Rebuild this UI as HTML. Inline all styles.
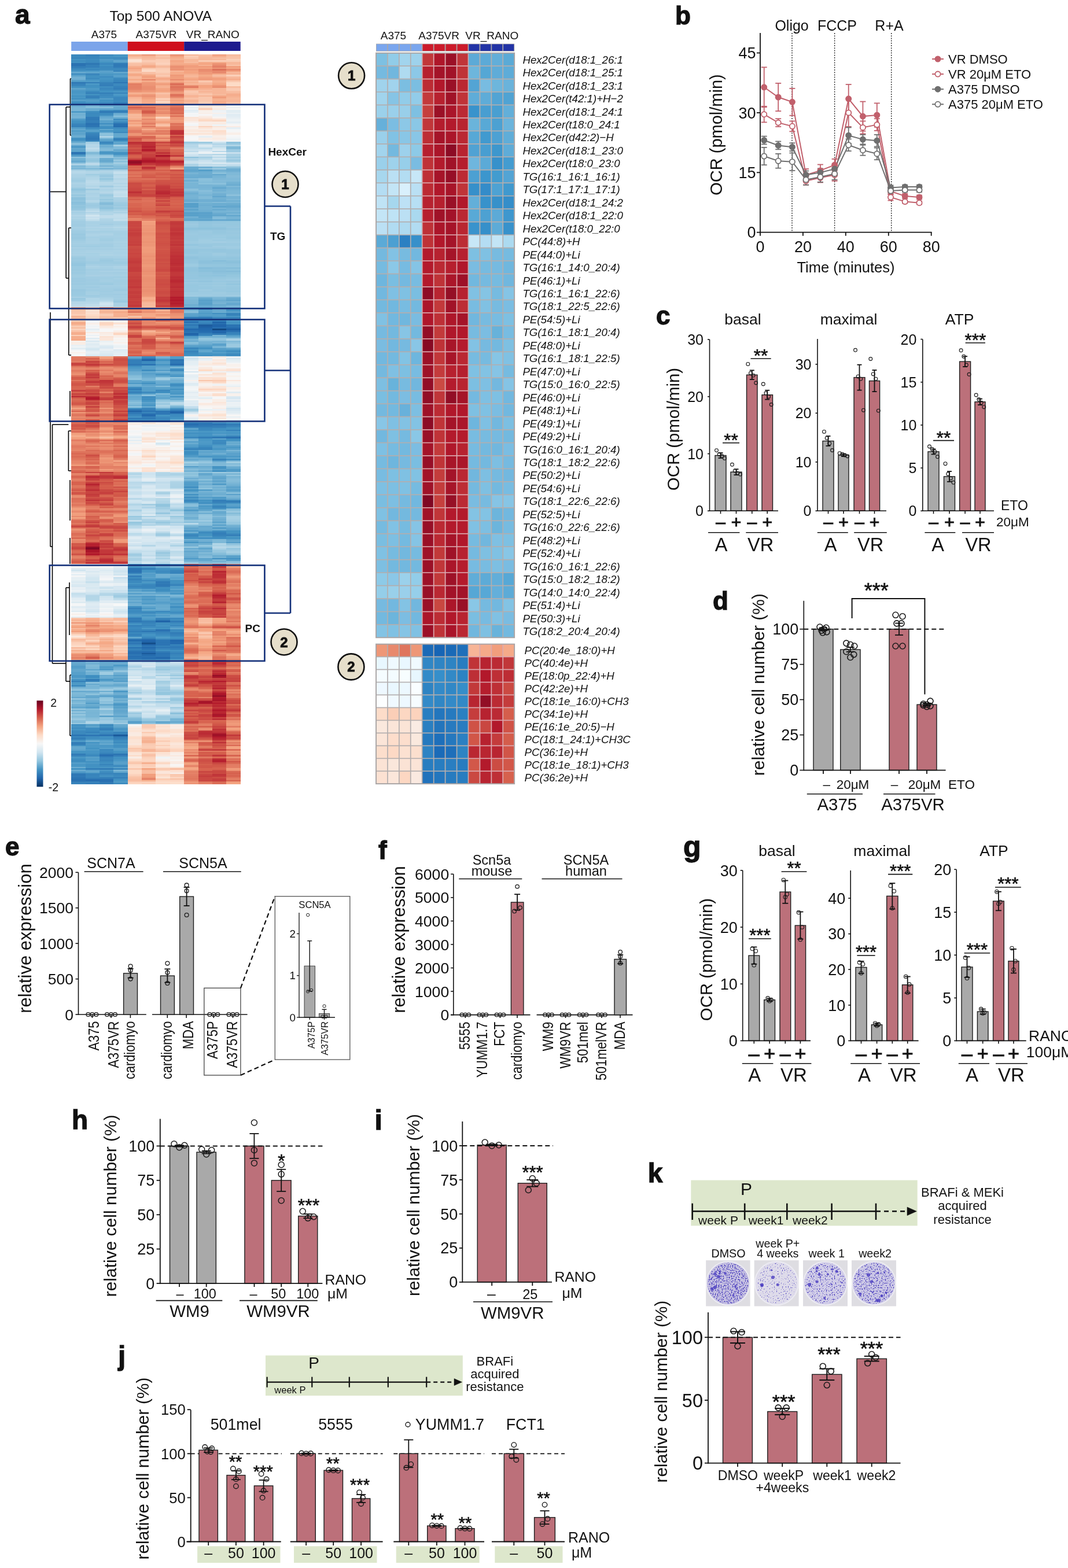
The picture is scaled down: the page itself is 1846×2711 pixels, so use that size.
<!DOCTYPE html>
<html><head><meta charset="utf-8"><title>Figure</title><style>
html,body{margin:0;padding:0;background:#fff}
#wrap{position:relative;width:1846px;height:2711px;overflow:hidden;background:#fff}
svg{position:absolute;left:0;top:0}
text{font-family:"Liberation Sans",Arial,sans-serif;fill:#111}
</style></head><body><div id="wrap">
<div style="position:absolute;left:123.2px;top:94px;width:24.7px;height:1262px;background:linear-gradient(#3c8abe 0px 2.5px,#3b89be 2.5px 5px,#3986bc 5px 7.6px,#4393c3 7.6px 10.1px,#3f8dc0 10.1px 12.6px,#4292c2 12.6px 15.1px,#2b73b2 15.1px 17.7px,#2a72b2 17.7px 20.2px,#317cb7 20.2px 22.7px,#3884bb 22.7px 25.2px,#3e8cbf 25.2px 27.8px,#4896c5 27.8px 30.3px,#65a8cf 30.3px 32.8px,#3c8abf 32.8px 35.3px,#57a0ca 35.3px 37.9px,#6fafd2 37.9px 40.4px,#71b0d3 40.4px 42.9px,#68aad0 42.9px 45.4px,#519cc8 45.4px 48px,#2d76b4 48px 50.5px,#3682bb 50.5px 53px,#3986bc 53px 55.5px,#4292c2 55.5px 58.1px,#5ea4cc 58.1px 60.6px,#4f9ac7 60.6px 63.1px,#4896c5 63.1px 65.6px,#4997c5 65.6px 68.1px,#4e9ac7 68.1px 70.7px,#4393c3 70.7px 73.2px,#4997c5 73.2px 75.7px,#408fc1 75.7px 78.2px,#569fca 78.2px 80.8px,#4292c2 80.8px 83.3px,#3c89be 83.3px 85.8px,#3682ba 85.8px 88.3px,#6bacd1 88.3px 90.9px,#7bb6d6 90.9px 93.4px,#79b5d5 93.4px 95.9px,#7ab6d6 95.9px 98.4px,#4f9bc7 98.4px 101px,#75b3d4 101px 103.5px,#6fafd2 103.5px 106px,#75b3d4 106px 108.5px,#74b2d4 108.5px 111.1px,#509bc8 111.1px 113.6px,#4393c3 113.6px 116.1px,#4191c2 116.1px 118.6px,#3a88bd 118.6px 121.2px,#3783bb 121.2px 123.7px,#3681ba 123.7px 126.2px,#549ec9 126.2px 128.7px,#65a9cf 128.7px 131.2px,#529dc8 131.2px 133.8px,#60a5cd 133.8px 136.3px,#5ba2cb 136.3px 138.8px,#67aacf 138.8px 141.3px,#6cadd1 141.3px 143.9px,#4393c3 143.9px 146.4px,#408fc1 146.4px 148.9px,#519cc8 148.9px 151.4px,#6fafd2 151.4px 154px,#97c7df 154px 156.5px,#68aad0 156.5px 159px,#4291c2 159px 161.5px,#63a7ce 161.5px 164.1px,#60a5cd 164.1px 166.6px,#59a1ca 166.6px 169.1px,#2a72b2 169.1px 171.6px,#3a87bd 171.6px 174.2px,#559ec9 174.2px 176.7px,#91c4de 176.7px 179.2px,#75b3d4 179.2px 181.7px,#6fafd2 181.7px 184.3px,#66a9cf 184.3px 186.8px,#8cc1dc 186.8px 189.3px,#acd2e6 189.3px 191.8px,#7db8d7 191.8px 194.3px,#84bcd9 194.3px 196.9px,#79b5d6 196.9px 199.4px,#aad1e5 199.4px 201.9px,#badaea 201.9px 204.4px,#b4d6e8 204.4px 207px,#acd2e6 207px 209.5px,#acd2e5 209.5px 212px,#a9d1e5 212px 214.5px,#a4cee3 214.5px 217.1px,#a0cce2 217.1px 219.6px,#a7d0e4 219.6px 222.1px,#add3e6 222.1px 224.6px,#a8d0e4 224.6px 227.2px,#a9d0e4 227.2px 229.7px,#9fcce2 229.7px 232.2px,#92c5de 232.2px 234.7px,#98c8e0 234.7px 237.3px,#9ecbe1 237.3px 239.8px,#a4cee3 239.8px 242.3px,#97c8df 242.3px 244.8px,#a0cce2 244.8px 247.4px,#8dc2dc 247.4px 249.9px,#8ec2dd 249.9px 252.4px,#92c5de 252.4px 254.9px,#89bfdb 254.9px 257.4px,#8cc1dc 257.4px 260px,#94c6de 260px 262.5px,#90c4dd 262.5px 265px,#92c5de 265px 267.5px,#97c7df 267.5px 270.1px,#aad1e5 270.1px 272.6px,#a5cfe4 272.6px 275.1px,#acd2e5 275.1px 277.6px,#b4d6e8 277.6px 280.2px,#acd2e5 280.2px 282.7px,#afd4e6 282.7px 285.2px,#a7d0e4 285.2px 287.7px,#a2cde3 287.7px 292.8px,#a0cce2 292.8px 297.8px,#a8d0e4 297.8px 300.4px,#a5cfe4 300.4px 302.9px,#a2cde3 302.9px 305.4px,#9fcce2 305.4px 307.9px,#9fcbe2 307.9px 310.5px,#9ac9e0 310.5px 313px,#9dcbe1 313px 315.5px,#9ac9e0 315.5px 320.5px,#a0cce2 320.5px 323.1px,#a4cee3 323.1px 325.6px,#a6cfe4 325.6px 328.1px,#a4cee3 328.1px 330.6px,#a0cce2 330.6px 333.2px,#a8d0e4 333.2px 335.7px,#a4cee3 335.7px 338.2px,#a7d0e4 338.2px 340.7px,#a9d1e5 340.7px 343.3px,#a8d0e4 343.3px 345.8px,#abd2e5 345.8px 348.3px,#a1cde2 348.3px 350.8px,#9ac9e0 350.8px 353.4px,#9bcae1 353.4px 355.9px,#9dcae1 355.9px 358.4px,#98c8e0 358.4px 360.9px,#94c6df 360.9px 366px,#9bcae1 366px 371px,#9ac9e0 371px 373.6px,#9ecbe1 373.6px 376.1px,#9bcae1 376.1px 378.6px,#9ecbe1 378.6px 381.1px,#a1cde2 381.1px 386.2px,#9ccae1 386.2px 388.7px,#9dcae1 388.7px 391.2px,#9ccae1 391.2px 393.7px,#9fcbe2 393.7px 396.3px,#9ccae1 396.3px 398.8px,#a1cde2 398.8px 401.3px,#9fcce2 401.3px 403.8px,#a0cce2 403.8px 406.4px,#99c8e0 406.4px 408.9px,#9bc9e0 408.9px 411.4px,#9bcae1 411.4px 416.5px,#9dcbe1 416.5px 419px,#a8d0e4 419px 421.5px,#9ac9e0 421.5px 424px,#9fcce2 424px 426.6px,#b5d7e8 426.6px 429.1px,#b6d7e8 429.1px 431.6px,#bcdaea 431.6px 434.1px,#bedbeb 434.1px 436.7px,#f4a785 436.7px 439.2px,#f6b293 439.2px 441.7px,#f9c6ac 441.7px 446.7px,#fac6ac 446.7px 449.3px,#fbceb6 449.3px 451.8px,#f6b394 451.8px 454.3px,#f7b99b 454.3px 456.8px,#fddac6 456.8px 459.4px,#fbd1bb 459.4px 461.9px,#f6b293 461.9px 464.4px,#f5ab89 464.4px 466.9px,#f7b89a 466.9px 469.5px,#facbb2 469.5px 472px,#f8bda0 472px 474.5px,#fbd1bb 474.5px 477px,#f9c3a8 477px 479.6px,#f6b090 479.6px 482.1px,#f5ad8c 482.1px 484.6px,#fbcfb7 484.6px 487.1px,#f5ad8c 487.1px 489.7px,#f5ad8d 489.7px 492.2px,#f5a987 492.2px 494.7px,#f8f1ed 494.7px 497.2px,#f9ede5 497.2px 502.3px,#e9f0f4 502.3px 504.8px,#f0f4f6 504.8px 507.3px,#e1edf3 507.3px 509.8px,#eff3f6 509.8px 512.4px,#f7f6f5 512.4px 514.9px,#f9efea 514.9px 517.4px,#f6f7f7 517.4px 519.9px,#f3f5f6 519.9px 522.5px,#e17a61 522.5px 525px,#df765e 525px 527.5px,#df755d 527.5px 530px,#e27c63 530px 532.6px,#c94540 532.6px 535.1px,#c84540 535.1px 537.6px,#da6a55 537.6px 540.1px,#e58267 540.1px 542.7px,#e98c6e 542.7px 545.2px,#e27b62 545.2px 547.7px,#e48166 547.7px 550.2px,#ea8d70 550.2px 552.8px,#eb8f71 552.8px 555.3px,#dc6e58 555.3px 557.8px,#d2594a 557.8px 560.3px,#d55f4c 560.3px 562.9px,#e17a61 562.9px 565.4px,#d65f4d 565.4px 567.9px,#d25749 567.9px 570.4px,#d15648 570.4px 572.9px,#d7634f 572.9px 575.5px,#d86551 575.5px 578px,#d96753 578px 580.5px,#c6403e 580.5px 583px,#d6614e 583px 585.6px,#c7433f 585.6px 588.1px,#cc4d44 588.1px 590.6px,#ba2933 590.6px 593.1px,#d55f4c 593.1px 595.7px,#db6d57 595.7px 598.2px,#d86450 598.2px 600.7px,#d45b4b 600.7px 603.2px,#d15648 603.2px 605.8px,#dd7059 605.8px 608.3px,#e7876b 608.3px 610.8px,#f4a785 610.8px 613.3px,#e8896d 613.3px 615.9px,#d6604d 615.9px 618.4px,#ec9273 618.4px 620.9px,#e17960 620.9px 623.4px,#e0775e 623.4px 626px,#e98d6f 626px 628.5px,#e58267 628.5px 631px,#e27c63 631px 633.5px,#e47f65 633.5px 636px,#db6b55 636px 638.6px,#d35a4a 638.6px 641.1px,#d05548 641.1px 643.6px,#d65f4d 643.6px 646.1px,#d45c4b 646.1px 648.7px,#e17960 648.7px 651.2px,#db6c57 651.2px 653.7px,#ef9a7a 653.7px 656.2px,#f2a17f 656.2px 658.8px,#f6b090 658.8px 661.3px,#f3a280 661.3px 663.8px,#ef9a79 663.8px 666.3px,#e37d64 666.3px 668.9px,#ea8e71 668.9px 671.4px,#e98c6f 671.4px 673.9px,#e7866a 673.9px 676.4px,#e17961 676.4px 679px,#e27b62 679px 681.5px,#e58267 681.5px 684px,#e7876b 684px 686.5px,#df745d 686.5px 689.1px,#da6a55 689.1px 691.6px,#df745c 691.6px 694.1px,#db6b56 694.1px 696.6px,#de735b 696.6px 699.1px,#e17960 699.1px 701.7px,#e6856a 701.7px 704.2px,#e68569 704.2px 706.7px,#e98b6e 706.7px 709.2px,#ef9a79 709.2px 711.8px,#d96853 711.8px 714.3px,#de735c 714.3px 716.8px,#e27c63 716.8px 719.3px,#d86551 719.3px 721.9px,#d45c4b 721.9px 724.4px,#e6856a 724.4px 726.9px,#df765e 726.9px 729.4px,#d76350 729.4px 732px,#de725b 732px 734.5px,#e47f65 734.5px 737px,#de735b 737px 739.5px,#d7614e 739.5px 742.1px,#d7634f 742.1px 744.6px,#e0785f 744.6px 747.1px,#df745c 747.1px 749.6px,#d86551 749.6px 752.2px,#d35a4a 752.2px 754.7px,#db6b55 754.7px 757.2px,#cf5146 757.2px 759.7px,#d7624f 759.7px 762.2px,#e98c6f 762.2px 764.8px,#e7876b 764.8px 767.3px,#dc6d57 767.3px 769.8px,#dd715a 769.8px 772.3px,#de725b 772.3px 774.9px,#e48167 774.9px 777.4px,#e0775f 777.4px 779.9px,#e27c62 779.9px 782.4px,#eb9173 782.4px 785px,#f4a582 785px 787.5px,#ed9475 787.5px 790px,#e7866a 790px 792.5px,#f19e7d 792.5px 797.6px,#e8896d 797.6px 800.1px,#f2a17f 800.1px 802.6px,#e6856a 802.6px 805.2px,#db6c56 805.2px 807.7px,#da6a55 807.7px 810.2px,#e0775f 810.2px 812.7px,#d55e4c 812.7px 815.3px,#ca4842 815.3px 817.8px,#de715a 817.8px 820.3px,#ed9475 820.3px 822.8px,#e7876b 822.8px 825.3px,#e27c63 825.3px 827.9px,#da6954 827.9px 830.4px,#de735b 830.4px 832.9px,#e37e64 832.9px 835.4px,#da6954 835.4px 838px,#ea8f71 838px 840.5px,#e6856a 840.5px 843px,#e68569 843px 845.5px,#d25849 845.5px 848.1px,#d35a4a 848.1px 850.6px,#cb4a42 850.6px 853.1px,#c94641 853.1px 855.6px,#d6604d 855.6px 858.2px,#db6b55 858.2px 860.7px,#da6853 860.7px 863.2px,#cf5347 863.2px 865.7px,#e17960 865.7px 868.3px,#e58368 868.3px 870.8px,#e0775f 870.8px 873.3px,#d86551 873.3px 875.8px,#d3594a 875.8px 878.4px,#d6604d 878.4px 880.9px,#eff3f6 880.9px 883.4px,#ecf2f5 883.4px 885.9px,#f6f6f7 885.9px 888.4px,#e2edf3 888.4px 891px,#cde3ef 891px 893.5px,#e2edf3 893.5px 896px,#f7f7f7 896px 898.5px,#e6eff4 898.5px 901.1px,#f3f5f6 901.1px 903.6px,#e4eef3 903.6px 906.1px,#e7f0f4 906.1px 908.6px,#e2edf3 908.6px 911.2px,#dbeaf2 911.2px 913.7px,#e2edf3 913.7px 916.2px,#d9e9f2 916.2px 918.7px,#d8e8f1 918.7px 921.3px,#e7eff4 921.3px 923.8px,#e5eef4 923.8px 926.3px,#ecf2f5 926.3px 928.8px,#e0ecf3 928.8px 931.4px,#c5dfec 931.4px 933.9px,#c9e1ee 933.9px 936.4px,#cfe4f0 936.4px 938.9px,#dfecf3 938.9px 941.5px,#e2edf3 941.5px 944px,#e8f0f4 944px 946.5px,#deebf2 946.5px 949px,#f6f7f7 949px 951.5px,#f3f5f6 951.5px 954.1px,#e0ecf3 954.1px 956.6px,#e9f0f4 956.6px 959.1px,#eaf1f5 959.1px 961.6px,#dceaf2 961.6px 964.2px,#f7f7f7 964.2px 966.7px,#f9efe9 966.7px 969.2px,#f7f7f7 969.2px 971.7px,#e5eff4 971.7px 974.3px,#f9c3a9 974.3px 976.8px,#f6b090 976.8px 979.3px,#f8bea1 979.3px 981.8px,#ee9677 981.8px 984.4px,#f8bca0 984.4px 986.9px,#f5a886 986.9px 989.4px,#f3a380 989.4px 991.9px,#f8ba9d 991.9px 994.5px,#f5aa88 994.5px 997px,#f09c7b 997px 999.5px,#f8bea2 999.5px 1002px,#fcd6c0 1002px 1004.6px,#faebe2 1004.6px 1007.1px,#fdddca 1007.1px 1009.6px,#f8ba9d 1009.6px 1012.1px,#f8bfa3 1012.1px 1014.6px,#faccb4 1014.6px 1017.2px,#fcd2bc 1017.2px 1019.7px,#fcd6c1 1019.7px 1022.2px,#fddcc9 1022.2px 1024.7px,#f7b79a 1024.7px 1027.3px,#fac9b0 1027.3px 1029.8px,#f5ac8b 1029.8px 1032.3px,#f8bea2 1032.3px 1034.8px,#f3a380 1034.8px 1037.4px,#ea8d70 1037.4px 1039.9px,#eb9173 1039.9px 1042.4px,#e48166 1042.4px 1044.9px,#ec9274 1044.9px 1047.5px,#74b2d4 1047.5px 1050px,#63a7ce 1050px 1052.5px,#66a9cf 1052.5px 1055px,#5da3cc 1055px 1057.6px,#509bc7 1057.6px 1060.1px,#59a1cb 1060.1px 1062.6px,#64a8ce 1062.6px 1065.1px,#60a5cd 1065.1px 1067.7px,#569fca 1067.7px 1070.2px,#58a0ca 1070.2px 1072.7px,#4b98c6 1072.7px 1077.7px,#61a6cd 1077.7px 1080.3px,#4594c4 1080.3px 1082.8px,#337eb8 1082.8px 1085.3px,#4a97c5 1085.3px 1087.8px,#529dc8 1087.8px 1090.4px,#3e8cbf 1090.4px 1092.9px,#66a9cf 1092.9px 1095.4px,#81bad8 1095.4px 1097.9px,#98c8e0 1097.9px 1100.5px,#69abd0 1100.5px 1103px,#81bbd8 1103px 1105.5px,#7db8d7 1105.5px 1108px,#78b5d5 1108px 1110.6px,#63a7ce 1110.6px 1113.1px,#90c3dd 1113.1px 1115.6px,#70b0d2 1115.6px 1118.1px,#7bb7d6 1118.1px 1120.7px,#88bfdb 1120.7px 1123.2px,#73b2d4 1123.2px 1125.7px,#6eaed2 1125.7px 1128.2px,#62a7ce 1128.2px 1130.8px,#99c9e0 1130.8px 1133.3px,#75b3d4 1133.3px 1135.8px,#97c7df 1135.8px 1138.3px,#80b9d8 1138.3px 1140.8px,#99c9e0 1140.8px 1143.4px,#83bcd9 1143.4px 1145.9px,#8ac0db 1145.9px 1148.4px,#99c8e0 1148.4px 1150.9px,#87beda 1150.9px 1153.5px,#84bcd9 1153.5px 1156px,#9bcae1 1156px 1158.5px,#4291c2 1158.5px 1161px,#4795c4 1161px 1163.6px,#3e8cbf 1163.6px 1166.1px,#4594c4 1166.1px 1168.6px,#3c89be 1168.6px 1171.1px,#3b88bd 1171.1px 1176.2px,#2c75b4 1176.2px 1178.7px,#3b89be 1178.7px 1181.2px,#317cb7 1181.2px 1183.8px,#3a87bd 1183.8px 1186.3px,#4e9ac7 1186.3px 1188.8px,#337db8 1188.8px 1191.3px,#337eb8 1191.3px 1193.9px,#408fc1 1193.9px 1196.4px,#63a7ce 1196.4px 1198.9px,#64a8ce 1198.9px 1201.4px,#5ea4cc 1201.4px 1203.9px,#4494c3 1203.9px 1206.5px,#4393c3 1206.5px 1209px,#307ab6 1209px 1211.5px,#3682ba 1211.5px 1214px,#4a97c5 1214px 1216.6px,#4191c2 1216.6px 1219.1px,#3e8cbf 1219.1px 1221.6px,#3f8ec0 1221.6px 1224.1px,#539dc9 1224.1px 1226.7px,#4896c5 1226.7px 1229.2px,#4a98c6 1229.2px 1231.7px,#6eaed2 1231.7px 1234.2px,#4393c3 1234.2px 1236.8px,#6eaed2 1236.8px 1239.3px,#549dc9 1239.3px 1241.8px,#3a87bd 1241.8px 1244.3px,#2d76b4 1244.3px 1246.9px,#317bb7 1246.9px 1249.4px,#2d76b4 1249.4px 1251.9px,#2971b1 1251.9px 1254.4px,#2a72b2 1254.4px 1257px,#337db8 1257px 1259.5px,#3884bc 1259.5px 1262px)"></div>
<div style="position:absolute;left:147.6px;top:94px;width:24.7px;height:1262px;background:linear-gradient(#3581ba 0px 2.5px,#3885bc 2.5px 5px,#3a87bd 5px 7.6px,#3e8cc0 7.6px 10.1px,#3c8abe 10.1px 12.6px,#3a87bd 12.6px 15.1px,#2e77b4 15.1px 17.7px,#3580b9 17.7px 20.2px,#347fb9 20.2px 22.7px,#3d8bbf 22.7px 25.2px,#3a88bd 25.2px 27.8px,#4d9ac7 27.8px 30.3px,#5ea4cc 30.3px 32.8px,#3783bb 32.8px 35.3px,#3e8dc0 35.3px 37.9px,#4393c3 37.9px 40.4px,#3d8bbf 40.4px 42.9px,#4795c4 42.9px 45.4px,#4f9bc7 45.4px 48px,#337eb8 48px 50.5px,#4b98c6 50.5px 53px,#4190c1 53px 55.5px,#4292c2 55.5px 58.1px,#4d99c6 58.1px 60.6px,#4997c5 60.6px 63.1px,#3c8abe 63.1px 65.6px,#337eb8 65.6px 68.1px,#4190c1 68.1px 70.7px,#3682ba 70.7px 73.2px,#3580b9 73.2px 75.7px,#4493c3 75.7px 78.2px,#539dc8 78.2px 80.8px,#4f9bc7 80.8px 83.3px,#3f8ec0 83.3px 88.3px,#7bb7d6 88.3px 90.9px,#8ac0db 90.9px 93.4px,#69abd0 93.4px 95.9px,#68abd0 95.9px 98.4px,#3e8dc0 98.4px 101px,#3b89be 101px 103.5px,#3c8abe 103.5px 108.5px,#317bb7 108.5px 111.1px,#307ab6 111.1px 113.6px,#347fb9 113.6px 116.1px,#337eb8 116.1px 118.6px,#2971b2 118.6px 121.2px,#2c74b3 121.2px 123.7px,#2d76b4 123.7px 126.2px,#3d8bbf 126.2px 128.7px,#4d9ac7 128.7px 131.2px,#5aa2cb 131.2px 133.8px,#4190c1 133.8px 136.3px,#3884bb 136.3px 138.8px,#3681ba 138.8px 141.3px,#337db8 141.3px 143.9px,#2e78b5 143.9px 146.4px,#3079b6 146.4px 148.9px,#3d8bbf 148.9px 151.4px,#a4cee3 151.4px 154px,#b0d4e7 154px 156.5px,#b6d7e8 156.5px 159px,#b2d5e7 159px 161.5px,#bfdceb 161.5px 164.1px,#b6d7e8 164.1px 166.6px,#a3cee3 166.6px 169.1px,#7eb8d7 169.1px 171.6px,#8bc1dc 171.6px 174.2px,#9ccae1 174.2px 176.7px,#a6cfe4 176.7px 179.2px,#99c8e0 179.2px 181.7px,#90c4dd 181.7px 184.3px,#96c7df 184.3px 186.8px,#b9d9e9 186.8px 189.3px,#bad9e9 189.3px 191.8px,#95c7df 191.8px 194.3px,#95c6df 194.3px 196.9px,#7cb7d7 196.9px 199.4px,#a1cde2 199.4px 201.9px,#b6d7e8 201.9px 204.4px,#b0d4e7 204.4px 207px,#9fcce2 207px 209.5px,#abd2e5 209.5px 212px,#b1d5e7 212px 214.5px,#b2d5e7 214.5px 217.1px,#b9d9e9 217.1px 219.6px,#bedbeb 219.6px 222.1px,#bad9e9 222.1px 224.6px,#b7d8e9 224.6px 227.2px,#b2d5e7 227.2px 229.7px,#bbdaea 229.7px 232.2px,#9ecbe2 232.2px 234.7px,#b0d4e6 234.7px 237.3px,#afd4e6 237.3px 239.8px,#aad1e5 239.8px 242.3px,#aed3e6 242.3px 244.8px,#b0d4e7 244.8px 247.4px,#aad1e5 247.4px 252.4px,#b5d7e8 252.4px 254.9px,#add3e6 254.9px 257.4px,#9fcbe2 257.4px 260px,#9ccae1 260px 262.5px,#9ecbe2 262.5px 265px,#a6cfe4 265px 267.5px,#b5d7e8 267.5px 270.1px,#bfdceb 270.1px 272.6px,#b0d4e7 272.6px 275.1px,#c1ddeb 275.1px 277.6px,#d4e7f1 277.6px 280.2px,#c6dfed 280.2px 282.7px,#cae2ee 282.7px 285.2px,#bfdceb 285.2px 287.7px,#add3e6 287.7px 290.3px,#a9d1e5 290.3px 292.8px,#abd2e5 292.8px 295.3px,#a9d1e5 295.3px 297.8px,#b0d4e7 297.8px 300.4px,#abd2e5 300.4px 302.9px,#afd4e6 302.9px 305.4px,#a6cfe4 305.4px 307.9px,#a8d0e4 307.9px 310.5px,#add3e6 310.5px 313px,#acd2e6 313px 315.5px,#a6cfe4 315.5px 318px,#a8d0e4 318px 323.1px,#a9d1e5 323.1px 325.6px,#a9d0e4 325.6px 328.1px,#a3cee3 328.1px 330.6px,#9fcce2 330.6px 333.2px,#a6cfe4 333.2px 335.7px,#a4cee3 335.7px 338.2px,#a9d1e5 338.2px 340.7px,#acd2e5 340.7px 343.3px,#a7d0e4 343.3px 345.8px,#a9d1e5 345.8px 348.3px,#a7d0e4 348.3px 350.8px,#a6cfe4 350.8px 353.4px,#a4cee3 353.4px 355.9px,#a3cee3 355.9px 358.4px,#9ecbe2 358.4px 360.9px,#9fcce2 360.9px 363.5px,#a6cfe4 363.5px 366px,#aed3e6 366px 368.5px,#a9d0e4 368.5px 371px,#a2cde3 371px 373.6px,#a5cfe4 373.6px 376.1px,#a4cee3 376.1px 381.1px,#a9d0e4 381.1px 383.6px,#a1cde2 383.6px 386.2px,#a1cce2 386.2px 388.7px,#9ecbe2 388.7px 391.2px,#a0cce2 391.2px 393.7px,#9fcce2 393.7px 396.3px,#9ecbe1 396.3px 398.8px,#a3cee3 398.8px 401.3px,#9ecbe2 401.3px 403.8px,#a3cde3 403.8px 406.4px,#9fcce2 406.4px 408.9px,#a3cee3 408.9px 411.4px,#a5cfe3 411.4px 413.9px,#a6cfe4 413.9px 416.5px,#9fcce2 416.5px 419px,#a4cee3 419px 421.5px,#b1d5e7 421.5px 424px,#afd4e6 424px 426.6px,#b4d6e8 426.6px 429.1px,#b8d8e9 429.1px 431.6px,#c1ddec 431.6px 434.1px,#c0dceb 434.1px 436.7px,#facab1 436.7px 439.2px,#f8bfa3 439.2px 441.7px,#fbe6db 441.7px 444.2px,#fcddcb 444.2px 446.7px,#fce0d0 446.7px 449.3px,#fddbc7 449.3px 451.8px,#fcd5bf 451.8px 454.3px,#fcd3bc 454.3px 456.8px,#f7f6f6 456.8px 459.4px,#ebf2f5 459.4px 461.9px,#f5f6f7 461.9px 464.4px,#f9efea 464.4px 466.9px,#f7f5f4 466.9px 469.5px,#f0f4f6 469.5px 472px,#f5f6f7 472px 474.5px,#e4eef4 474.5px 477px,#f0f4f6 477px 479.6px,#faebe2 479.6px 482.1px,#f7f5f4 482.1px 484.6px,#eaf1f5 484.6px 487.1px,#f7f7f7 487.1px 489.7px,#deebf2 489.7px 492.2px,#edf2f5 492.2px 494.7px,#d7e8f1 494.7px 497.2px,#e6eff4 497.2px 499.8px,#deebf2 499.8px 502.3px,#e1edf3 502.3px 504.8px,#e4eef4 504.8px 507.3px,#d6e8f1 507.3px 509.8px,#d3e6f0 509.8px 512.4px,#e3edf3 512.4px 514.9px,#e8f0f4 514.9px 517.4px,#e1edf3 517.4px 519.9px,#d5e7f1 519.9px 522.5px,#e6856a 522.5px 525px,#d45d4b 525px 527.5px,#db6b55 527.5px 530px,#c7433f 530px 532.6px,#cd4e45 532.6px 535.1px,#c2383a 535.1px 537.6px,#ce4f45 537.6px 540.1px,#e0775e 540.1px 542.7px,#e98c6f 542.7px 545.2px,#d6604d 545.2px 547.7px,#d86551 547.7px 550.2px,#cb4a43 550.2px 552.8px,#c3393b 552.8px 555.3px,#c84440 555.3px 557.8px,#c2373a 557.8px 560.3px,#d05548 560.3px 562.9px,#cc4b43 562.9px 565.4px,#c13539 565.4px 567.9px,#cd4d44 567.9px 570.4px,#cd4e45 570.4px 572.9px,#e48166 572.9px 575.5px,#d96753 575.5px 578px,#d2594a 578px 580.5px,#ca4842 580.5px 583px,#ce5045 583px 585.6px,#c13639 585.6px 588.1px,#cc4d44 588.1px 590.6px,#bb2b34 590.6px 593.1px,#b2182b 593.1px 595.7px,#b82431 595.7px 598.2px,#d05347 598.2px 600.7px,#c94540 600.7px 603.2px,#c84540 603.2px 605.8px,#d86551 605.8px 608.3px,#c7423f 608.3px 610.8px,#d86450 610.8px 613.3px,#d35a4a 613.3px 615.9px,#cf5146 615.9px 618.4px,#e37e64 618.4px 620.9px,#d65f4d 620.9px 623.4px,#cb4a43 623.4px 626px,#e17a61 626px 628.5px,#e37f65 628.5px 631px,#ce5045 631px 633.5px,#d25749 633.5px 636px,#ce5146 636px 638.6px,#d35b4b 638.6px 641.1px,#ca4942 641.1px 643.6px,#d25849 643.6px 646.1px,#dd715a 646.1px 648.7px,#e8896d 648.7px 651.2px,#e17860 651.2px 653.7px,#ec9374 653.7px 656.2px,#ea8e70 656.2px 658.8px,#ee9777 658.8px 661.3px,#f5ab8a 661.3px 663.8px,#e6866a 663.8px 666.3px,#d96752 666.3px 668.9px,#da6853 668.9px 671.4px,#e48066 671.4px 673.9px,#eb9072 673.9px 676.4px,#e17960 676.4px 679px,#e98b6e 679px 681.5px,#e48166 681.5px 684px,#da6954 684px 686.5px,#df745d 686.5px 689.1px,#db6c56 689.1px 691.6px,#cc4c43 691.6px 694.1px,#d25849 694.1px 696.6px,#db6a55 696.6px 699.1px,#d86551 699.1px 701.7px,#e17a61 701.7px 704.2px,#db6c56 704.2px 709.2px,#ea8f71 709.2px 711.8px,#d45b4b 711.8px 714.3px,#d96853 714.3px 716.8px,#e47f65 716.8px 719.3px,#de725b 719.3px 721.9px,#c6403e 721.9px 724.4px,#e27c63 724.4px 726.9px,#d05347 726.9px 729.4px,#b92632 729.4px 732px,#c3393b 732px 734.5px,#c6403e 734.5px 737px,#d6604d 737px 739.5px,#c7423f 739.5px 742.1px,#b82431 742.1px 744.6px,#c13639 744.6px 747.1px,#c7423f 747.1px 749.6px,#c63f3e 749.6px 752.2px,#be3036 752.2px 754.7px,#ca4741 754.7px 757.2px,#c84440 757.2px 759.7px,#c33a3b 759.7px 762.2px,#c6403e 762.2px 764.8px,#d05347 764.8px 767.3px,#ca4842 767.3px 769.8px,#be3137 769.8px 772.3px,#cd4e45 772.3px 774.9px,#c94641 774.9px 777.4px,#d25849 777.4px 779.9px,#df755d 779.9px 782.4px,#e27b62 782.4px 785px,#e48065 785px 787.5px,#d86450 787.5px 790px,#d25849 790px 792.5px,#e17a61 792.5px 795.1px,#e0775f 795.1px 797.6px,#d45d4c 797.6px 800.1px,#d86551 800.1px 802.6px,#dc6d57 802.6px 805.2px,#cf5246 805.2px 807.7px,#c53e3d 807.7px 810.2px,#d45b4b 810.2px 812.7px,#c53e3d 812.7px 815.3px,#c43c3c 815.3px 817.8px,#dc6d57 817.8px 820.3px,#d7634f 820.3px 822.8px,#d25849 822.8px 825.3px,#cf5347 825.3px 827.9px,#d6614e 827.9px 830.4px,#c84440 830.4px 832.9px,#d15548 832.9px 835.4px,#d45b4b 835.4px 838px,#d86450 838px 840.5px,#dc6d57 840.5px 843px,#c84540 843px 845.5px,#b6202f 845.5px 850.6px,#8f0d25 850.6px 853.1px,#7f0823 853.1px 855.6px,#a71529 855.6px 858.2px,#ac162a 858.2px 860.7px,#b92732 860.7px 863.2px,#b1182b 863.2px 865.7px,#cb4b43 865.7px 868.3px,#d6604d 868.3px 873.3px,#c6403e 873.3px 875.8px,#cd4e44 875.8px 878.4px,#bd2f36 878.4px 880.9px,#f0f4f6 880.9px 883.4px,#e7eff4 883.4px 885.9px,#f7f5f4 885.9px 888.4px,#e3edf3 888.4px 891px,#e4eef4 891px 893.5px,#d9e9f1 893.5px 896px,#e4eef3 896px 898.5px,#deebf2 898.5px 901.1px,#dae9f2 901.1px 903.6px,#d2e6f0 903.6px 908.6px,#d5e7f1 908.6px 911.2px,#c6e0ed 911.2px 913.7px,#d7e8f1 913.7px 916.2px,#d9e9f1 916.2px 918.7px,#dbeaf2 918.7px 921.3px,#d6e8f1 921.3px 923.8px,#dceaf2 923.8px 926.3px,#ddebf2 926.3px 928.8px,#d5e7f1 928.8px 931.4px,#cde3ef 931.4px 933.9px,#b8d8e9 933.9px 936.4px,#b2d5e7 936.4px 938.9px,#b3d6e7 938.9px 941.5px,#b3d6e8 941.5px 944px,#c0ddeb 944px 946.5px,#d8e8f1 946.5px 949px,#e0ecf3 949px 951.5px,#deebf2 951.5px 954.1px,#dae9f2 954.1px 956.6px,#dfebf2 956.6px 959.1px,#d7e8f1 959.1px 961.6px,#cfe4f0 961.6px 964.2px,#e0ecf3 964.2px 966.7px,#f0f4f6 966.7px 969.2px,#e9f0f4 969.2px 971.7px,#e0ecf3 971.7px 974.3px,#f7b496 974.3px 976.8px,#f5ab89 976.8px 979.3px,#f6ae8e 979.3px 981.8px,#ed9475 981.8px 984.4px,#ef9979 984.4px 986.9px,#e37d63 986.9px 989.4px,#f09c7b 989.4px 991.9px,#f4a784 991.9px 994.5px,#e7876b 994.5px 997px,#e58368 997px 999.5px,#f3a280 999.5px 1002px,#f7b698 1002px 1004.6px,#f9c1a6 1004.6px 1007.1px,#facbb2 1007.1px 1009.6px,#f8bea2 1009.6px 1012.1px,#fcd4be 1012.1px 1014.6px,#f9c4aa 1014.6px 1017.2px,#f6af8f 1017.2px 1019.7px,#f8bea2 1019.7px 1022.2px,#fcd4be 1022.2px 1024.7px,#f9c4aa 1024.7px 1027.3px,#fcd6c0 1027.3px 1029.8px,#f6b292 1029.8px 1032.3px,#f8bda0 1032.3px 1034.8px,#f09b7a 1034.8px 1037.4px,#e58368 1037.4px 1039.9px,#de745c 1039.9px 1042.4px,#d35b4a 1042.4px 1044.9px,#e8896d 1044.9px 1047.5px,#a8d0e4 1047.5px 1050px,#77b4d5 1050px 1052.5px,#71b0d3 1052.5px 1055px,#81bad8 1055px 1057.6px,#7db8d7 1057.6px 1060.1px,#7bb6d6 1060.1px 1062.6px,#5da4cc 1062.6px 1065.1px,#7fb9d8 1065.1px 1067.7px,#70b0d2 1067.7px 1070.2px,#72b1d3 1070.2px 1072.7px,#4191c2 1072.7px 1075.2px,#3e8dc0 1075.2px 1077.7px,#4d99c6 1077.7px 1080.3px,#317bb7 1080.3px 1082.8px,#3985bc 1082.8px 1085.3px,#8ac0db 1085.3px 1087.8px,#67aacf 1087.8px 1090.4px,#7ab6d6 1090.4px 1092.9px,#75b3d4 1092.9px 1095.4px,#7eb8d7 1095.4px 1097.9px,#9bcae1 1097.9px 1100.5px,#6bacd1 1100.5px 1103px,#7ab6d6 1103px 1105.5px,#8dc2dc 1105.5px 1108px,#64a8ce 1108px 1110.6px,#61a6cd 1110.6px 1113.1px,#7bb6d6 1113.1px 1115.6px,#6fafd2 1115.6px 1118.1px,#68abd0 1118.1px 1120.7px,#529cc8 1120.7px 1123.2px,#6aacd0 1123.2px 1125.7px,#64a8ce 1125.7px 1128.2px,#59a1ca 1128.2px 1130.8px,#88bfdb 1130.8px 1133.3px,#7bb7d6 1133.3px 1135.8px,#79b5d5 1135.8px 1138.3px,#78b5d5 1138.3px 1140.8px,#7bb6d6 1140.8px 1143.4px,#78b5d5 1143.4px 1145.9px,#83bcd9 1145.9px 1148.4px,#8bc0db 1148.4px 1150.9px,#8fc3dd 1150.9px 1153.5px,#b2d5e7 1153.5px 1156px,#a9d1e5 1156px 1158.5px,#539dc8 1158.5px 1161px,#5fa5cd 1161px 1163.6px,#3e8dc0 1163.6px 1166.1px,#3d8bbf 1166.1px 1168.6px,#3b89be 1168.6px 1171.1px,#3682ba 1171.1px 1173.7px,#4191c2 1173.7px 1176.2px,#2e77b5 1176.2px 1178.7px,#3e8cc0 1178.7px 1181.2px,#3e8cbf 1181.2px 1183.8px,#4c99c6 1183.8px 1186.3px,#6aacd0 1186.3px 1188.8px,#4393c3 1188.8px 1191.3px,#529cc8 1191.3px 1193.9px,#4b98c6 1193.9px 1196.4px,#4c99c6 1196.4px 1198.9px,#4292c2 1198.9px 1201.4px,#4e9ac7 1201.4px 1203.9px,#4594c4 1203.9px 1209px,#3f8ec0 1209px 1211.5px,#3b89be 1211.5px 1214px,#569fc9 1214px 1216.6px,#4f9bc7 1216.6px 1219.1px,#559ec9 1219.1px 1221.6px,#4190c1 1221.6px 1224.1px,#4b98c6 1224.1px 1226.7px,#4291c2 1226.7px 1231.7px,#4695c4 1231.7px 1234.2px,#347fb9 1234.2px 1236.8px,#5ba2cb 1236.8px 1239.3px,#61a6cd 1239.3px 1241.8px,#3f8ec1 1241.8px 1244.3px,#3783bb 1244.3px 1246.9px,#3a87bd 1246.9px 1249.4px,#3783bb 1249.4px 1251.9px,#2c75b4 1251.9px 1254.4px,#266caf 1254.4px 1257px,#3682ba 1257px 1259.5px,#347fb9 1259.5px 1262px)"></div>
<div style="position:absolute;left:171.9px;top:94px;width:24.7px;height:1262px;background:linear-gradient(#3d8bbf 0px 2.5px,#4392c3 2.5px 5px,#3f8ec0 5px 7.6px,#539dc9 7.6px 10.1px,#4d99c6 10.1px 12.6px,#4292c2 12.6px 15.1px,#3b88be 15.1px 17.7px,#4191c2 17.7px 20.2px,#3b89be 20.2px 22.7px,#3c89be 22.7px 25.2px,#3e8cbf 25.2px 27.8px,#5ba2cb 27.8px 30.3px,#58a0ca 30.3px 32.8px,#4a98c5 32.8px 35.3px,#4a97c5 35.3px 37.9px,#3d8bbf 37.9px 40.4px,#4594c4 40.4px 42.9px,#4493c3 42.9px 45.4px,#408fc1 45.4px 48px,#3682ba 48px 50.5px,#3580b9 50.5px 53px,#337db8 53px 55.5px,#3f8dc0 55.5px 58.1px,#3a87bd 58.1px 60.6px,#3e8dc0 60.6px 63.1px,#4292c3 63.1px 65.6px,#337eb8 65.6px 68.1px,#3c89be 68.1px 70.7px,#3d8abf 70.7px 73.2px,#408ec1 73.2px 75.7px,#58a0ca 75.7px 78.2px,#4292c3 78.2px 80.8px,#4393c3 80.8px 83.3px,#3a86bd 83.3px 85.8px,#3782bb 85.8px 88.3px,#6daed2 88.3px 90.9px,#8bc1dc 90.9px 93.4px,#63a7ce 93.4px 95.9px,#3f8ec0 95.9px 98.4px,#2f79b6 98.4px 101px,#3b89be 101px 103.5px,#3f8dc0 103.5px 106px,#59a1cb 106px 108.5px,#66a9cf 108.5px 111.1px,#71b0d3 111.1px 113.6px,#58a0ca 113.6px 116.1px,#59a1cb 116.1px 118.6px,#3f8ec1 118.6px 121.2px,#58a0ca 121.2px 123.7px,#4190c1 123.7px 126.2px,#408fc1 126.2px 128.7px,#63a8ce 128.7px 131.2px,#4997c5 131.2px 133.8px,#65a9cf 133.8px 136.3px,#8ec3dd 136.3px 138.8px,#87beda 138.8px 141.3px,#abd2e5 141.3px 143.9px,#83bcd9 143.9px 146.4px,#61a6cd 146.4px 148.9px,#529cc8 148.9px 151.4px,#3a87bd 151.4px 154px,#4392c3 154px 156.5px,#6fafd2 156.5px 159px,#6cadd1 159px 161.5px,#7eb8d7 161.5px 164.1px,#84bcd9 164.1px 166.6px,#57a0ca 166.6px 169.1px,#4594c4 169.1px 171.6px,#64a8ce 171.6px 174.2px,#94c6df 174.2px 176.7px,#a2cde2 176.7px 179.2px,#6cadd1 179.2px 181.7px,#64a8ce 181.7px 184.3px,#67aacf 184.3px 186.8px,#89c0db 186.8px 189.3px,#90c4dd 189.3px 191.8px,#73b1d3 191.8px 194.3px,#8ec2dd 194.3px 196.9px,#70afd2 196.9px 199.4px,#a6cfe4 199.4px 201.9px,#b6d7e8 201.9px 204.4px,#abd2e5 204.4px 207px,#9dcbe1 207px 209.5px,#99c8e0 209.5px 212px,#a4cee3 212px 214.5px,#95c7df 214.5px 217.1px,#a5cfe3 217.1px 219.6px,#b6d7e8 219.6px 222.1px,#b5d7e8 222.1px 224.6px,#b2d5e7 224.6px 227.2px,#a0cce2 227.2px 229.7px,#b5d7e8 229.7px 232.2px,#aed3e6 232.2px 234.7px,#afd4e6 234.7px 237.3px,#b6d7e8 237.3px 239.8px,#acd2e5 239.8px 242.3px,#9bcae1 242.3px 244.8px,#a1cde2 244.8px 247.4px,#a5cfe3 247.4px 249.9px,#97c8df 249.9px 252.4px,#a0cce2 252.4px 254.9px,#8cc1dc 254.9px 257.4px,#83bbd9 257.4px 260px,#93c5de 260px 265px,#8bc1dc 265px 267.5px,#9bcae1 267.5px 270.1px,#abd2e5 270.1px 272.6px,#b3d6e8 272.6px 275.1px,#b1d5e7 275.1px 277.6px,#c0dceb 277.6px 282.7px,#b4d6e8 282.7px 285.2px,#aed3e6 285.2px 287.7px,#abd2e5 287.7px 290.3px,#a8d0e4 290.3px 292.8px,#a2cde3 292.8px 295.3px,#aad1e5 295.3px 297.8px,#b2d5e7 297.8px 300.4px,#abd2e5 300.4px 305.4px,#a5cfe3 305.4px 307.9px,#a9d1e5 307.9px 310.5px,#add3e6 310.5px 313px,#a8d0e4 313px 315.5px,#a5cfe4 315.5px 318px,#a1cde2 318px 323.1px,#a7d0e4 323.1px 325.6px,#a5cee3 325.6px 328.1px,#a2cde3 328.1px 330.6px,#a1cde2 330.6px 333.2px,#a7d0e4 333.2px 335.7px,#a4cee3 335.7px 338.2px,#a9d1e5 338.2px 340.7px,#acd2e5 340.7px 343.3px,#abd2e5 343.3px 345.8px,#b0d4e6 345.8px 348.3px,#a7d0e4 348.3px 350.8px,#a4cee3 350.8px 353.4px,#9dcbe1 353.4px 355.9px,#9ac9e0 355.9px 358.4px,#9ecbe1 358.4px 360.9px,#a0cce2 360.9px 363.5px,#a3cde3 363.5px 366px,#a9d1e5 366px 368.5px,#a6cfe4 368.5px 371px,#a3cde3 371px 373.6px,#aad1e5 373.6px 376.1px,#a4cee3 376.1px 378.6px,#a6cfe4 378.6px 381.1px,#a8d0e4 381.1px 383.6px,#a2cde3 383.6px 386.2px,#a1cde2 386.2px 388.7px,#a3cee3 388.7px 391.2px,#a4cee3 391.2px 393.7px,#9fcce2 393.7px 396.3px,#9ccae1 396.3px 398.8px,#a6cfe4 398.8px 401.3px,#a3cde3 401.3px 403.8px,#a1cde2 403.8px 406.4px,#a1cce2 406.4px 408.9px,#9fcce2 408.9px 411.4px,#a2cde3 411.4px 413.9px,#a0cce2 413.9px 416.5px,#a2cde2 416.5px 419px,#a6cfe4 419px 421.5px,#abd2e5 421.5px 424px,#b2d5e7 424px 426.6px,#c1ddeb 426.6px 429.1px,#cee4ef 429.1px 431.6px,#d0e4f0 431.6px 434.1px,#c7e0ed 434.1px 436.7px,#ea8e71 436.7px 439.2px,#f4a582 439.2px 441.7px,#f8bca0 441.7px 444.2px,#f6b394 444.2px 446.7px,#f8c0a4 446.7px 449.3px,#faccb4 449.3px 451.8px,#f9c1a5 451.8px 454.3px,#f8bca0 454.3px 456.8px,#f7f5f3 456.8px 459.4px,#f8f3f0 459.4px 461.9px,#fce0d0 461.9px 464.4px,#fcd6c0 464.4px 466.9px,#fddac5 466.9px 469.5px,#fae8de 469.5px 472px,#f9eee7 472px 474.5px,#f7f6f6 474.5px 477px,#f7f7f7 477px 479.6px,#fae9e0 479.6px 482.1px,#f9ede6 482.1px 484.6px,#f8f1ec 484.6px 487.1px,#fbe2d4 487.1px 489.7px,#fbe6da 489.7px 492.2px,#fbe6d9 492.2px 494.7px,#e8f0f4 494.7px 497.2px,#eef3f5 497.2px 499.8px,#f3f5f6 499.8px 502.3px,#e2edf3 502.3px 504.8px,#d6e7f1 504.8px 507.3px,#dfebf3 507.3px 509.8px,#ecf2f5 509.8px 512.4px,#dfecf3 512.4px 514.9px,#deebf2 514.9px 517.4px,#dae9f2 517.4px 519.9px,#d3e6f0 519.9px 522.5px,#f3a381 522.5px 525px,#f09b7a 525px 527.5px,#e58267 527.5px 530px,#d96652 530px 532.6px,#dc6d57 532.6px 535.1px,#cc4d44 535.1px 537.6px,#db6b56 537.6px 540.1px,#ea8d70 540.1px 545.2px,#e37d63 545.2px 547.7px,#eb9072 547.7px 550.2px,#e68469 550.2px 552.8px,#e37f65 552.8px 555.3px,#d86551 555.3px 557.8px,#db6c56 557.8px 560.3px,#d86450 560.3px 562.9px,#be3137 562.9px 565.4px,#c13639 565.4px 567.9px,#c53d3d 567.9px 570.4px,#c7433f 570.4px 572.9px,#cf5146 572.9px 575.5px,#cb4a43 575.5px 578px,#d86450 578px 580.5px,#d45d4c 580.5px 583px,#e47f65 583px 585.6px,#cf5246 585.6px 588.1px,#d35b4b 588.1px 590.6px,#d45d4c 590.6px 593.1px,#c6413e 593.1px 595.7px,#c53e3d 595.7px 598.2px,#dd7059 598.2px 600.7px,#d96652 600.7px 603.2px,#de735c 603.2px 605.8px,#e0785f 605.8px 608.3px,#df755d 608.3px 610.8px,#ef9a7a 610.8px 613.3px,#e27c62 613.3px 615.9px,#e47f65 615.9px 618.4px,#ea8e70 618.4px 620.9px,#db6d57 620.9px 623.4px,#dc6d57 623.4px 626px,#e48066 626px 628.5px,#e27c63 628.5px 631px,#df745c 631px 633.5px,#e17860 633.5px 636px,#e8896c 636px 638.6px,#e58167 638.6px 641.1px,#e37d64 641.1px 643.6px,#ed9475 643.6px 646.1px,#f3a380 646.1px 648.7px,#ee9777 648.7px 651.2px,#e98c6f 651.2px 653.7px,#f5ac8b 653.7px 656.2px,#f09c7b 656.2px 658.8px,#f5ab8a 658.8px 661.3px,#f8bfa3 661.3px 663.8px,#f2a27f 663.8px 666.3px,#dd6f59 666.3px 668.9px,#eb8f71 668.9px 671.4px,#e27b61 671.4px 673.9px,#ec9374 673.9px 676.4px,#e58267 676.4px 679px,#eb8f71 679px 681.5px,#e98c6f 681.5px 684px,#df765e 684px 686.5px,#dd7059 686.5px 689.1px,#e27b61 689.1px 691.6px,#e98b6e 691.6px 694.1px,#e8896d 694.1px 696.6px,#f09d7c 696.6px 699.1px,#ed9676 699.1px 701.7px,#eb9072 701.7px 704.2px,#ed9676 704.2px 706.7px,#e98b6e 706.7px 709.2px,#e7876b 709.2px 711.8px,#e37e64 711.8px 714.3px,#e58267 714.3px 716.8px,#f19e7d 716.8px 719.3px,#e88a6d 719.3px 721.9px,#c13639 721.9px 724.4px,#cf5347 724.4px 726.9px,#c6403e 726.9px 729.4px,#c03539 729.4px 732px,#c53e3d 732px 734.5px,#d15548 734.5px 737px,#d6614e 737px 739.5px,#cc4d44 739.5px 742.1px,#d15648 742.1px 744.6px,#d6604d 744.6px 747.1px,#d45c4b 747.1px 749.6px,#d55e4c 749.6px 752.2px,#ca4942 752.2px 754.7px,#ca4842 754.7px 757.2px,#c53e3d 757.2px 759.7px,#cf5347 759.7px 762.2px,#d96853 762.2px 764.8px,#d15749 764.8px 767.3px,#cb4a43 767.3px 769.8px,#c53d3d 769.8px 772.3px,#d55f4c 772.3px 774.9px,#cd4e45 774.9px 777.4px,#c84540 777.4px 779.9px,#da6853 779.9px 782.4px,#d6604d 782.4px 785px,#e98b6e 785px 787.5px,#de725b 787.5px 790px,#d3594a 790px 792.5px,#e37e64 792.5px 795.1px,#de725b 795.1px 797.6px,#e48066 797.6px 800.1px,#ec9475 800.1px 802.6px,#d86651 802.6px 805.2px,#d3594a 805.2px 807.7px,#d96853 807.7px 810.2px,#de725b 810.2px 812.7px,#d45c4b 812.7px 815.3px,#c84540 815.3px 817.8px,#ca4842 817.8px 820.3px,#da6954 820.3px 822.8px,#d45c4b 822.8px 825.3px,#d96652 825.3px 827.9px,#c8433f 827.9px 830.4px,#c7423f 830.4px 832.9px,#d7634f 832.9px 835.4px,#dd7059 835.4px 840.5px,#cc4c44 840.5px 843px,#cf5146 843px 845.5px,#c2373a 845.5px 848.1px,#c7423f 848.1px 850.6px,#c2393a 850.6px 853.1px,#cc4c44 853.1px 855.6px,#c33a3b 855.6px 858.2px,#c2373a 858.2px 860.7px,#c2383a 860.7px 863.2px,#bc2c34 863.2px 865.7px,#d05347 865.7px 868.3px,#cd4d44 868.3px 870.8px,#c2383a 870.8px 873.3px,#ba2833 873.3px 875.8px,#b92732 875.8px 878.4px,#c1373a 878.4px 880.9px,#edf2f5 880.9px 883.4px,#f3f5f6 883.4px 885.9px,#f2f5f6 885.9px 888.4px,#e8f0f4 888.4px 891px,#dbeaf2 891px 893.5px,#e1edf3 893.5px 896px,#e7f0f4 896px 898.5px,#e5eef4 898.5px 901.1px,#edf2f5 901.1px 903.6px,#f0f3f6 903.6px 906.1px,#f5f6f7 906.1px 908.6px,#e6eff4 908.6px 911.2px,#dceaf2 911.2px 913.7px,#ebf1f5 913.7px 916.2px,#edf2f5 916.2px 918.7px,#dbeaf2 918.7px 921.3px,#cae2ee 921.3px 923.8px,#ddebf2 923.8px 926.3px,#cee4ef 926.3px 928.8px,#cae2ee 928.8px 931.4px,#b6d7e8 931.4px 933.9px,#b0d4e7 933.9px 936.4px,#cde3ef 936.4px 938.9px,#d3e6f0 938.9px 941.5px,#d4e6f1 941.5px 944px,#e0ecf3 944px 946.5px,#e1edf3 946.5px 949px,#f3f5f6 949px 951.5px,#edf2f5 951.5px 954.1px,#e8f0f4 954.1px 956.6px,#f2f5f6 956.6px 959.1px,#edf2f5 959.1px 961.6px,#e6eff4 961.6px 964.2px,#f5f6f7 964.2px 966.7px,#f8f1ed 966.7px 969.2px,#f3f5f6 969.2px 971.7px,#e3eef3 971.7px 974.3px,#fac7ad 974.3px 976.8px,#f8bc9f 976.8px 979.3px,#f9c5ab 979.3px 981.8px,#f2a07e 981.8px 984.4px,#f7b698 984.4px 986.9px,#f19d7c 986.9px 989.4px,#f5a987 989.4px 991.9px,#f19e7d 991.9px 994.5px,#ec9374 994.5px 997px,#ec9273 997px 999.5px,#f6b192 999.5px 1002px,#fac7ad 1002px 1004.6px,#fdddca 1004.6px 1007.1px,#f9c4aa 1007.1px 1009.6px,#f5ae8d 1009.6px 1012.1px,#f7b89a 1012.1px 1014.6px,#f5aa88 1014.6px 1017.2px,#f5a987 1017.2px 1019.7px,#f6b293 1019.7px 1022.2px,#f6b191 1022.2px 1024.7px,#f7ba9c 1024.7px 1027.3px,#f8c0a4 1027.3px 1029.8px,#f4a785 1029.8px 1032.3px,#f8c0a4 1032.3px 1034.8px,#f5aa89 1034.8px 1037.4px,#f09c7b 1037.4px 1042.4px,#e88a6e 1042.4px 1044.9px,#f2a17f 1044.9px 1047.5px,#91c4de 1047.5px 1050px,#62a7ce 1050px 1052.5px,#69abd0 1052.5px 1055px,#66a9cf 1055px 1057.6px,#509cc8 1057.6px 1060.1px,#569fc9 1060.1px 1062.6px,#4c98c6 1062.6px 1065.1px,#87beda 1065.1px 1067.7px,#a4cee3 1067.7px 1070.2px,#9dcbe1 1070.2px 1072.7px,#67aacf 1072.7px 1075.2px,#70b0d3 1075.2px 1077.7px,#64a8ce 1077.7px 1080.3px,#4997c5 1080.3px 1082.8px,#65a9cf 1082.8px 1085.3px,#84bcd9 1085.3px 1087.8px,#78b5d5 1087.8px 1090.4px,#68abd0 1090.4px 1092.9px,#7cb7d7 1092.9px 1095.4px,#8fc3dd 1095.4px 1097.9px,#a9d0e4 1097.9px 1100.5px,#75b3d4 1100.5px 1103px,#9fcce2 1103px 1105.5px,#7eb8d7 1105.5px 1108px,#5ba2cb 1108px 1110.6px,#88bfdb 1110.6px 1113.1px,#96c7df 1113.1px 1115.6px,#9bcae1 1115.6px 1118.1px,#8bc0dc 1118.1px 1120.7px,#92c5de 1120.7px 1123.2px,#69abd0 1123.2px 1125.7px,#80bad8 1125.7px 1128.2px,#88bfdb 1128.2px 1130.8px,#b2d5e7 1130.8px 1133.3px,#87beda 1133.3px 1135.8px,#82bbd8 1135.8px 1138.3px,#8cc1dc 1138.3px 1140.8px,#a0cce2 1140.8px 1143.4px,#5ea4cc 1143.4px 1145.9px,#9fcce2 1145.9px 1148.4px,#96c7df 1148.4px 1150.9px,#9fcbe2 1150.9px 1153.5px,#a5cfe4 1153.5px 1156px,#95c6df 1156px 1158.5px,#3c8abe 1158.5px 1161px,#408fc1 1161px 1163.6px,#3681ba 1163.6px 1166.1px,#337eb8 1166.1px 1168.6px,#4292c2 1168.6px 1171.1px,#3d8abf 1171.1px 1173.7px,#3884bb 1173.7px 1176.2px,#2b73b3 1176.2px 1178.7px,#4393c3 1178.7px 1181.2px,#3f8ec1 1181.2px 1183.8px,#4997c5 1183.8px 1186.3px,#60a6cd 1186.3px 1188.8px,#57a0ca 1188.8px 1191.3px,#64a8ce 1191.3px 1193.9px,#4997c5 1193.9px 1196.4px,#4c98c6 1196.4px 1198.9px,#57a0ca 1198.9px 1201.4px,#3c89be 1201.4px 1203.9px,#3e8cbf 1203.9px 1206.5px,#3a87bd 1206.5px 1209px,#2e78b5 1209px 1211.5px,#286fb1 1211.5px 1214px,#3783bb 1214px 1216.6px,#3b88be 1216.6px 1219.1px,#3884bb 1219.1px 1221.6px,#3c8abe 1221.6px 1224.1px,#408fc1 1224.1px 1226.7px,#3784bb 1226.7px 1229.2px,#3f8dc0 1229.2px 1231.7px,#4a97c5 1231.7px 1234.2px,#327cb7 1234.2px 1236.8px,#4e9ac7 1236.8px 1239.3px,#3f8dc0 1239.3px 1241.8px,#3884bb 1241.8px 1244.3px,#3d8abf 1244.3px 1246.9px,#4795c4 1246.9px 1249.4px,#3682ba 1249.4px 1251.9px,#2c75b4 1251.9px 1254.4px,#286fb1 1254.4px 1257px,#2c74b3 1257px 1259.5px,#327cb7 1259.5px 1262px)"></div>
<div style="position:absolute;left:196.3px;top:94px;width:24.7px;height:1262px;background:linear-gradient(#4695c4 0px 2.5px,#4896c5 2.5px 5px,#3d8bbf 5px 7.6px,#4896c5 7.6px 10.1px,#5fa5cd 10.1px 12.6px,#4e9ac7 12.6px 15.1px,#317bb7 15.1px 17.7px,#307ab6 17.7px 20.2px,#317bb7 20.2px 22.7px,#3a87bd 22.7px 25.2px,#3c89be 25.2px 27.8px,#3783bb 27.8px 30.3px,#61a6cd 30.3px 32.8px,#4996c5 32.8px 35.3px,#569fca 35.3px 40.4px,#3d8bbf 40.4px 42.9px,#3986bc 42.9px 45.4px,#3885bc 45.4px 48px,#2d76b4 48px 50.5px,#3c89be 50.5px 53px,#3b88bd 53px 55.5px,#3581ba 55.5px 58.1px,#337eb8 58.1px 60.6px,#3c8abe 60.6px 63.1px,#4795c4 63.1px 65.6px,#3884bb 65.6px 68.1px,#4b98c6 68.1px 70.7px,#4594c4 70.7px 73.2px,#3b88be 73.2px 75.7px,#3986bc 75.7px 78.2px,#3c89be 78.2px 80.8px,#3c8abf 80.8px 83.3px,#317bb7 83.3px 85.8px,#3f8dc0 85.8px 88.3px,#66a9cf 88.3px 90.9px,#64a8ce 90.9px 93.4px,#61a6cd 93.4px 95.9px,#3a87bd 95.9px 98.4px,#327db8 98.4px 101px,#63a7ce 101px 103.5px,#70b0d2 103.5px 106px,#8bc1dc 106px 108.5px,#6daed1 108.5px 111.1px,#3f8ec1 111.1px 113.6px,#4c98c6 113.6px 116.1px,#3a88bd 116.1px 118.6px,#2a72b2 118.6px 121.2px,#2870b1 121.2px 123.7px,#266daf 123.7px 126.2px,#3e8cc0 126.2px 128.7px,#4695c4 128.7px 131.2px,#4393c3 131.2px 133.8px,#3b88bd 133.8px 136.3px,#62a7ce 136.3px 138.8px,#63a8ce 138.8px 141.3px,#64a8ce 141.3px 143.9px,#3b89be 143.9px 146.4px,#347fb9 146.4px 148.9px,#4595c4 148.9px 151.4px,#61a6cd 151.4px 154px,#5da4cc 154px 156.5px,#a5cfe3 156.5px 159px,#82bbd8 159px 161.5px,#83bbd9 161.5px 164.1px,#66a9cf 164.1px 166.6px,#63a7ce 166.6px 169.1px,#4291c2 169.1px 171.6px,#4594c4 171.6px 174.2px,#63a8ce 174.2px 176.7px,#87beda 176.7px 179.2px,#82bbd8 179.2px 181.7px,#9ecbe1 181.7px 184.3px,#8bc0dc 184.3px 186.8px,#a8d0e4 186.8px 189.3px,#94c6df 189.3px 191.8px,#85bdda 191.8px 194.3px,#84bcd9 194.3px 196.9px,#7ab6d6 196.9px 199.4px,#add2e6 199.4px 201.9px,#c5dfed 201.9px 207px,#b5d7e8 207px 209.5px,#bddbea 209.5px 212px,#bedbeb 212px 214.5px,#b3d6e7 214.5px 217.1px,#bad9e9 217.1px 219.6px,#bcdaea 219.6px 222.1px,#b3d6e7 222.1px 224.6px,#bcdbea 224.6px 227.2px,#b2d5e7 227.2px 229.7px,#bedceb 229.7px 232.2px,#b3d6e7 232.2px 234.7px,#bedbeb 234.7px 237.3px,#c5dfed 237.3px 239.8px,#c1ddec 239.8px 242.3px,#bedceb 242.3px 244.8px,#c6dfed 244.8px 247.4px,#abd2e5 247.4px 249.9px,#aad1e5 249.9px 252.4px,#a9d0e4 252.4px 254.9px,#a0cce2 254.9px 257.4px,#9dcbe1 257.4px 260px,#99c9e0 260px 262.5px,#a0cce2 262.5px 265px,#97c8df 265px 267.5px,#a5cfe3 267.5px 270.1px,#b2d5e7 270.1px 272.6px,#abd2e5 272.6px 275.1px,#bedbeb 275.1px 277.6px,#c3deec 277.6px 280.2px,#c0dceb 280.2px 282.7px,#bcdbea 282.7px 285.2px,#c3deec 285.2px 287.7px,#add3e6 287.7px 290.3px,#a9d1e5 290.3px 292.8px,#a9d0e4 292.8px 295.3px,#add3e6 295.3px 297.8px,#b7d8e8 297.8px 300.4px,#afd4e6 300.4px 302.9px,#add3e6 302.9px 305.4px,#a6cfe4 305.4px 307.9px,#a5cfe3 307.9px 310.5px,#a5cfe4 310.5px 313px,#a7d0e4 313px 315.5px,#a6cfe4 315.5px 318px,#a5cfe4 318px 320.5px,#a7d0e4 320.5px 323.1px,#abd2e5 323.1px 325.6px,#a8d0e4 325.6px 328.1px,#a9d1e5 328.1px 330.6px,#a7d0e4 330.6px 333.2px,#abd2e5 333.2px 335.7px,#a6cfe4 335.7px 338.2px,#abd2e5 338.2px 340.7px,#a9d1e5 340.7px 345.8px,#add3e6 345.8px 348.3px,#a8d0e4 348.3px 350.8px,#a6cfe4 350.8px 353.4px,#a0cce2 353.4px 355.9px,#a3cee3 355.9px 358.4px,#9dcbe1 358.4px 363.5px,#a4cee3 363.5px 366px,#aed3e6 366px 368.5px,#acd2e5 368.5px 371px,#a4cee3 371px 373.6px,#aad1e5 373.6px 376.1px,#a3cde3 376.1px 378.6px,#a5cfe3 378.6px 381.1px,#a7d0e4 381.1px 383.6px,#a0cce2 383.6px 386.2px,#a5cfe3 386.2px 388.7px,#a2cde3 388.7px 391.2px,#a1cde2 391.2px 393.7px,#a2cde2 393.7px 396.3px,#a2cde3 396.3px 398.8px,#a5cfe3 398.8px 401.3px,#a2cde3 401.3px 403.8px,#a0cce2 403.8px 406.4px,#9dcae1 406.4px 408.9px,#a3cde3 408.9px 411.4px,#a4cee3 411.4px 413.9px,#9fcbe2 413.9px 416.5px,#a3cde3 416.5px 419px,#a2cde3 419px 421.5px,#a4cee3 421.5px 424px,#9ecbe1 424px 426.6px,#98c8e0 426.6px 429.1px,#aad1e5 429.1px 434.1px,#abd2e5 434.1px 436.7px,#f6b495 436.7px 439.2px,#f4a683 439.2px 441.7px,#f8bfa3 441.7px 444.2px,#f5a886 444.2px 446.7px,#f6b191 446.7px 449.3px,#f6b091 449.3px 451.8px,#f5ad8d 451.8px 454.3px,#f9c1a6 454.3px 456.8px,#e6eff4 456.8px 459.4px,#f8f3f1 459.4px 461.9px,#f9efe9 461.9px 464.4px,#fce2d3 464.4px 466.9px,#f8f4f2 466.9px 469.5px,#f9eee8 469.5px 472px,#f8f3ef 472px 474.5px,#f6f6f7 474.5px 477px,#f9efea 477px 479.6px,#fbe2d3 479.6px 482.1px,#fcd4be 482.1px 484.6px,#f9ece3 484.6px 487.1px,#f9eee8 487.1px 489.7px,#f7f6f4 489.7px 492.2px,#f8f3f0 492.2px 494.7px,#f4f6f6 494.7px 497.2px,#f8f1ec 497.2px 499.8px,#f6f6f7 499.8px 502.3px,#ecf2f5 502.3px 504.8px,#e8f0f4 504.8px 507.3px,#f1f4f6 507.3px 509.8px,#dae9f2 509.8px 512.4px,#dfecf3 512.4px 514.9px,#e2edf3 514.9px 517.4px,#e4eef4 517.4px 522.5px,#d96752 522.5px 525px,#ce5046 525px 527.5px,#cd4e44 527.5px 530px,#d05447 530px 532.6px,#cf5347 532.6px 537.6px,#d96752 537.6px 540.1px,#e58368 540.1px 542.7px,#ee9677 542.7px 545.2px,#ea8e70 545.2px 547.7px,#e17860 547.7px 550.2px,#de735b 550.2px 552.8px,#e68569 552.8px 557.8px,#da6954 557.8px 560.3px,#d05447 560.3px 562.9px,#cc4d44 562.9px 567.9px,#d86450 567.9px 570.4px,#e27b62 570.4px 575.5px,#cc4c44 575.5px 578px,#d15648 578px 580.5px,#c94641 580.5px 583px,#c84440 583px 585.6px,#bb2a33 585.6px 588.1px,#c7433f 588.1px 590.6px,#bb2933 590.6px 593.1px,#c03539 593.1px 595.7px,#cd4e44 595.7px 598.2px,#c43c3c 598.2px 600.7px,#c53e3d 600.7px 603.2px,#c84440 603.2px 605.8px,#cf5347 605.8px 608.3px,#ce5146 608.3px 610.8px,#d45b4b 610.8px 613.3px,#d55e4c 613.3px 615.9px,#c43c3c 615.9px 618.4px,#d2594a 618.4px 620.9px,#c94641 620.9px 623.4px,#c53e3d 623.4px 626px,#d55e4c 626px 628.5px,#d2594a 628.5px 631px,#c03539 631px 633.5px,#d7634f 633.5px 636px,#e58368 636px 638.6px,#e7876b 638.6px 641.1px,#da6954 641.1px 643.6px,#dd6f59 643.6px 646.1px,#da6a54 646.1px 648.7px,#e98d6f 648.7px 651.2px,#da6954 651.2px 653.7px,#e68469 653.7px 656.2px,#e7876b 656.2px 658.8px,#f4a583 658.8px 661.3px,#f5a987 661.3px 663.8px,#e58267 663.8px 666.3px,#d55e4c 666.3px 668.9px,#db6b55 668.9px 671.4px,#df745c 671.4px 673.9px,#e68569 673.9px 676.4px,#dc6d57 676.4px 679px,#e68569 679px 681.5px,#e0785f 681.5px 684px,#d86450 684px 686.5px,#df745d 686.5px 689.1px,#de715a 689.1px 691.6px,#d96651 691.6px 694.1px,#d7624e 694.1px 696.6px,#dd705a 696.6px 699.1px,#e48066 699.1px 701.7px,#f5ad8c 701.7px 704.2px,#e88a6e 704.2px 706.7px,#ed9575 706.7px 709.2px,#ee9777 709.2px 711.8px,#e17a61 711.8px 714.3px,#e58368 714.3px 716.8px,#ea8e71 716.8px 719.3px,#e68569 719.3px 721.9px,#d65f4d 721.9px 724.4px,#d7624f 724.4px 726.9px,#c94641 726.9px 729.4px,#bc2b34 729.4px 732px,#bd2f36 732px 734.5px,#dd7059 734.5px 737px,#d55d4c 737px 739.5px,#dc6d57 739.5px 742.1px,#db6c56 742.1px 744.6px,#df765e 744.6px 747.1px,#d15548 747.1px 749.6px,#d96652 749.6px 752.2px,#d05447 752.2px 754.7px,#c6403e 754.7px 757.2px,#d45c4b 757.2px 759.7px,#d25949 759.7px 762.2px,#d15749 762.2px 764.8px,#dd6f59 764.8px 767.3px,#d96652 767.3px 769.8px,#da6a55 769.8px 772.3px,#e37e64 772.3px 774.9px,#e0775e 774.9px 777.4px,#dd7059 777.4px 779.9px,#d45c4b 779.9px 782.4px,#d96853 782.4px 785px,#eb9072 785px 787.5px,#e0775f 787.5px 790px,#d55f4c 790px 792.5px,#e48066 792.5px 795.1px,#ee9777 795.1px 797.6px,#ef9a79 797.6px 800.1px,#e48166 800.1px 802.6px,#e48066 802.6px 805.2px,#e58267 805.2px 807.7px,#ec9475 807.7px 810.2px,#d55e4c 810.2px 812.7px,#d45d4b 812.7px 815.3px,#cb4a43 815.3px 817.8px,#c94540 817.8px 820.3px,#d3594a 820.3px 822.8px,#cc4b43 822.8px 825.3px,#da6954 825.3px 827.9px,#d86551 827.9px 830.4px,#da6853 830.4px 832.9px,#de725b 832.9px 835.4px,#e47f65 835.4px 838px,#f09c7b 838px 840.5px,#f09b7a 840.5px 843px,#ed9575 843px 845.5px,#d6614e 845.5px 848.1px,#d6604d 848.1px 850.6px,#c94640 850.6px 853.1px,#c3393b 853.1px 855.6px,#be3036 855.6px 858.2px,#ca4942 858.2px 860.7px,#cd4f45 860.7px 863.2px,#c13639 863.2px 865.7px,#d6614e 865.7px 868.3px,#dc6e58 868.3px 870.8px,#de735b 870.8px 873.3px,#da6954 873.3px 875.8px,#cc4c43 875.8px 878.4px,#bf3237 878.4px 880.9px,#eff3f6 880.9px 883.4px,#e5eef4 883.4px 885.9px,#e2edf3 885.9px 888.4px,#dae9f2 888.4px 891px,#d1e5f0 891px 893.5px,#cee3ef 893.5px 896px,#d9e9f1 896px 898.5px,#d1e5f0 898.5px 901.1px,#ebf1f5 901.1px 903.6px,#c2ddec 903.6px 906.1px,#d4e7f1 906.1px 908.6px,#d7e8f1 908.6px 911.2px,#d8e8f1 911.2px 913.7px,#e8f0f4 913.7px 916.2px,#e7eff4 916.2px 918.7px,#d4e6f1 918.7px 921.3px,#d6e7f1 921.3px 926.3px,#cae1ee 926.3px 928.8px,#cde3ef 928.8px 931.4px,#add3e6 931.4px 933.9px,#a2cde3 933.9px 936.4px,#9fcce2 936.4px 938.9px,#b3d6e7 938.9px 941.5px,#c1ddeb 941.5px 944px,#e2edf3 944px 946.5px,#dceaf2 946.5px 949px,#f7f7f7 949px 951.5px,#f6f7f7 951.5px 954.1px,#e2edf3 954.1px 959.1px,#d6e8f1 959.1px 961.6px,#cce3ef 961.6px 964.2px,#d2e5f0 964.2px 966.7px,#e2edf3 966.7px 969.2px,#e8f0f4 969.2px 971.7px,#dae9f2 971.7px 974.3px,#f8bb9e 974.3px 976.8px,#f7b89a 976.8px 979.3px,#fbcfb8 979.3px 981.8px,#f7b89b 981.8px 984.4px,#f8bb9e 984.4px 986.9px,#f4a683 986.9px 989.4px,#f5ad8c 989.4px 991.9px,#f4a683 991.9px 994.5px,#eb9072 994.5px 997px,#f4a683 997px 999.5px,#f7b698 999.5px 1002px,#fcd2bc 1002px 1004.6px,#fcdecd 1004.6px 1007.1px,#fbceb6 1007.1px 1009.6px,#f8bfa3 1009.6px 1012.1px,#fac8af 1012.1px 1014.6px,#f9c2a7 1014.6px 1017.2px,#f7b89b 1017.2px 1019.7px,#f9c1a6 1019.7px 1022.2px,#fcd5bf 1022.2px 1024.7px,#facbb3 1024.7px 1027.3px,#fcd3bc 1027.3px 1029.8px,#fac8ae 1029.8px 1032.3px,#fbd0b8 1032.3px 1034.8px,#f7b496 1034.8px 1037.4px,#f9c1a5 1037.4px 1039.9px,#f5ab8a 1039.9px 1042.4px,#f2a17f 1042.4px 1044.9px,#f3a280 1044.9px 1047.5px,#95c7df 1047.5px 1050px,#5aa1cb 1050px 1052.5px,#6eaed2 1052.5px 1055px,#4e9ac7 1055px 1057.6px,#5ea4cc 1057.6px 1060.1px,#6eaed2 1060.1px 1062.6px,#78b4d5 1062.6px 1065.1px,#96c7df 1065.1px 1067.7px,#76b3d5 1067.7px 1070.2px,#6eaed2 1070.2px 1072.7px,#549ec9 1072.7px 1075.2px,#67aacf 1075.2px 1077.7px,#58a1ca 1077.7px 1080.3px,#60a5cd 1080.3px 1082.8px,#519cc8 1082.8px 1085.3px,#7fb9d8 1085.3px 1087.8px,#69abd0 1087.8px 1090.4px,#65a9cf 1090.4px 1092.9px,#82bbd8 1092.9px 1095.4px,#99c9e0 1095.4px 1097.9px,#86bdda 1097.9px 1100.5px,#4c99c6 1100.5px 1103px,#6cadd1 1103px 1108px,#559fc9 1108px 1110.6px,#569fca 1110.6px 1113.1px,#74b2d4 1113.1px 1115.6px,#67aacf 1115.6px 1118.1px,#77b4d5 1118.1px 1120.7px,#57a0ca 1120.7px 1123.2px,#4a97c5 1123.2px 1125.7px,#5ca3cc 1125.7px 1128.2px,#57a0ca 1128.2px 1130.8px,#6aabd0 1130.8px 1133.3px,#62a6cd 1133.3px 1135.8px,#61a6cd 1135.8px 1138.3px,#68aad0 1138.3px 1140.8px,#71b0d3 1140.8px 1143.4px,#5fa5cd 1143.4px 1145.9px,#7eb9d7 1145.9px 1148.4px,#79b5d5 1148.4px 1150.9px,#8fc3dd 1150.9px 1156px,#a2cde3 1156px 1158.5px,#67aacf 1158.5px 1161px,#61a6cd 1161px 1163.6px,#4d99c6 1163.6px 1166.1px,#4896c5 1166.1px 1168.6px,#539dc8 1168.6px 1171.1px,#3784bb 1171.1px 1173.7px,#3681ba 1173.7px 1176.2px,#1b5b9c 1176.2px 1178.7px,#307ab6 1178.7px 1181.2px,#3581ba 1181.2px 1183.8px,#3b88bd 1183.8px 1186.3px,#4190c2 1186.3px 1188.8px,#3b89be 1188.8px 1191.3px,#4997c5 1191.3px 1193.9px,#408fc1 1193.9px 1196.4px,#4291c2 1196.4px 1198.9px,#549ec9 1198.9px 1201.4px,#539dc8 1201.4px 1203.9px,#4393c3 1203.9px 1206.5px,#4190c1 1206.5px 1209px,#2a73b2 1209px 1211.5px,#337db8 1211.5px 1214px,#4191c2 1214px 1216.6px,#4291c2 1216.6px 1219.1px,#4896c5 1219.1px 1221.6px,#539dc9 1221.6px 1224.1px,#58a0ca 1224.1px 1226.7px,#4e9ac7 1226.7px 1229.2px,#3c8abe 1229.2px 1231.7px,#5aa2cb 1231.7px 1234.2px,#3b88bd 1234.2px 1236.8px,#7db8d7 1236.8px 1239.3px,#64a8ce 1239.3px 1241.8px,#3986bc 1241.8px 1246.9px,#3f8dc0 1246.9px 1249.4px,#3682ba 1249.4px 1251.9px,#3e8dc0 1251.9px 1254.4px,#4594c4 1254.4px 1257px,#509bc7 1257px 1259.5px,#3e8cbf 1259.5px 1262px)"></div>
<div style="position:absolute;left:220.7px;top:94px;width:24.7px;height:1262px;background:linear-gradient(#f4a784 0px 2.5px,#f7b697 2.5px 5px,#f9c5ab 5px 7.6px,#fcddcb 7.6px 10.1px,#fbe2d3 10.1px 12.6px,#fbd2bb 12.6px 15.1px,#f8c0a4 15.1px 17.7px,#f8bfa3 17.7px 20.2px,#f6af8f 20.2px 22.7px,#f3a280 22.7px 25.2px,#f6ae8e 25.2px 27.8px,#f7b799 27.8px 30.3px,#f8c0a4 30.3px 32.8px,#f4a886 32.8px 35.3px,#f5aa88 35.3px 37.9px,#f8bca0 37.9px 40.4px,#f7b799 40.4px 42.9px,#f4a784 42.9px 45.4px,#f8ba9d 45.4px 48px,#f4a785 48px 50.5px,#e37e64 50.5px 53px,#e58267 53px 55.5px,#e48166 55.5px 58.1px,#e58368 58.1px 60.6px,#e98c6f 60.6px 63.1px,#ed9575 63.1px 65.6px,#f7b697 65.6px 68.1px,#f4a684 68.1px 70.7px,#ed9475 70.7px 73.2px,#f6b192 73.2px 75.7px,#f8bb9e 75.7px 80.8px,#f9c0a5 80.8px 83.3px,#f8bea2 83.3px 85.8px,#ed9475 85.8px 88.3px,#e37d64 88.3px 90.9px,#d65f4d 90.9px 93.4px,#e0785f 93.4px 95.9px,#ee9777 95.9px 98.4px,#ee9677 98.4px 101px,#f3a280 101px 103.5px,#f7ba9c 103.5px 106px,#f7b698 106px 108.5px,#f7b89b 108.5px 111.1px,#f5ad8c 111.1px 113.6px,#eb9173 113.6px 116.1px,#f5a987 116.1px 118.6px,#f2a17f 118.6px 121.2px,#f6b394 121.2px 123.7px,#f2a07e 123.7px 126.2px,#eb9173 126.2px 128.7px,#e98b6e 128.7px 131.2px,#e27b62 131.2px 133.8px,#e27c63 133.8px 136.3px,#ed9575 136.3px 138.8px,#ed9576 138.8px 141.3px,#dc6e58 141.3px 143.9px,#cf5347 143.9px 146.4px,#d25749 146.4px 148.9px,#d7634f 148.9px 151.4px,#be3036 151.4px 154px,#c13639 154px 156.5px,#ca4842 156.5px 161.5px,#d15648 161.5px 164.1px,#ca4842 164.1px 166.6px,#cd4e44 166.6px 169.1px,#c13639 169.1px 171.6px,#cc4c44 171.6px 174.2px,#d6604d 174.2px 176.7px,#d7634f 176.7px 179.2px,#cc4d44 179.2px 181.7px,#b31a2c 181.7px 184.3px,#950f26 184.3px 186.8px,#940e26 186.8px 189.3px,#b2182b 189.3px 191.8px,#d86651 191.8px 194.3px,#d7634f 194.3px 196.9px,#dc6d57 196.9px 199.4px,#d35a4a 199.4px 201.9px,#de725b 201.9px 204.4px,#df755d 204.4px 207px,#db6b56 207px 209.5px,#e0775e 209.5px 212px,#d86551 212px 214.5px,#dd6f59 214.5px 217.1px,#d96753 217.1px 219.6px,#d35a4a 219.6px 222.1px,#cb4b43 222.1px 224.6px,#cd4e44 224.6px 227.2px,#cd4d44 227.2px 229.7px,#cb4a43 229.7px 232.2px,#c94741 232.2px 234.7px,#c94540 234.7px 237.3px,#be3036 237.3px 239.8px,#c7413e 239.8px 244.8px,#cf5146 244.8px 247.4px,#d96753 247.4px 249.9px,#d45b4b 249.9px 252.4px,#dc6f58 252.4px 254.9px,#dd7059 254.9px 257.4px,#d96652 257.4px 260px,#d86551 260px 262.5px,#d96752 262.5px 265px,#d55e4c 265px 267.5px,#d55d4c 267.5px 270.1px,#cf5146 270.1px 272.6px,#d6604d 272.6px 275.1px,#d35b4b 275.1px 277.6px,#dd6f59 277.6px 280.2px,#dc6d57 280.2px 282.7px,#e7876b 282.7px 285.2px,#e58267 285.2px 287.7px,#cb4b43 287.7px 290.3px,#c94641 290.3px 292.8px,#ca4842 292.8px 295.3px,#c94641 295.3px 297.8px,#cb4b43 297.8px 300.4px,#c94641 300.4px 302.9px,#c63f3e 302.9px 305.4px,#c84440 305.4px 307.9px,#c43d3c 307.9px 310.5px,#c53e3d 310.5px 313px,#c6403e 313px 315.5px,#c84440 315.5px 318px,#c84540 318px 320.5px,#c84440 320.5px 323.1px,#c7423f 323.1px 325.6px,#c84440 325.6px 328.1px,#c63f3d 328.1px 330.6px,#cd4e44 330.6px 333.2px,#cc4c44 333.2px 335.7px,#ca4842 335.7px 340.7px,#cb4a43 340.7px 343.3px,#c94540 343.3px 345.8px,#ca4842 345.8px 348.3px,#c94741 348.3px 350.8px,#c8433f 350.8px 353.4px,#c6403e 353.4px 355.9px,#c43d3c 355.9px 358.4px,#c33a3b 358.4px 360.9px,#c53f3d 360.9px 363.5px,#c6413e 363.5px 366px,#c6403e 366px 368.5px,#c43c3c 368.5px 371px,#c43d3c 371px 373.6px,#c43c3c 373.6px 376.1px,#ca4841 376.1px 378.6px,#c94641 378.6px 383.6px,#c6403e 383.6px 386.2px,#c7433f 386.2px 388.7px,#c53e3d 388.7px 391.2px,#c43c3c 391.2px 393.7px,#c53f3d 393.7px 396.3px,#c53e3d 396.3px 398.8px,#c6403e 398.8px 401.3px,#c2383a 401.3px 403.8px,#c7423f 403.8px 406.4px,#c84440 406.4px 408.9px,#c53e3d 408.9px 411.4px,#c43d3c 411.4px 413.9px,#c7433f 413.9px 416.5px,#c53f3d 416.5px 419px,#c43b3c 419px 421.5px,#c7423f 421.5px 426.6px,#c33b3b 426.6px 429.1px,#c53f3d 429.1px 431.6px,#c43c3c 431.6px 434.1px,#c03538 434.1px 436.7px,#e27c62 436.7px 439.2px,#e8896c 439.2px 441.7px,#e98b6e 441.7px 444.2px,#de735c 444.2px 446.7px,#f4a784 446.7px 449.3px,#f19d7c 449.3px 451.8px,#f9c5ab 451.8px 454.3px,#f6b091 454.3px 456.8px,#d96752 456.8px 459.4px,#d6614e 459.4px 461.9px,#d45c4b 461.9px 464.4px,#cc4c44 464.4px 466.9px,#d6614e 466.9px 469.5px,#c8433f 469.5px 472px,#c53e3d 472px 474.5px,#d65f4d 474.5px 477px,#e88a6d 477px 479.6px,#dd715a 479.6px 482.1px,#d96752 482.1px 484.6px,#c8433f 484.6px 487.1px,#c7423f 487.1px 489.7px,#db6b55 489.7px 492.2px,#dc6e58 492.2px 494.7px,#de725b 494.7px 497.2px,#d3594a 497.2px 499.8px,#d35b4b 499.8px 502.3px,#de735c 502.3px 504.8px,#dc6e58 504.8px 507.3px,#d96652 507.3px 509.8px,#de735c 509.8px 512.4px,#d7634f 512.4px 514.9px,#d55f4c 514.9px 517.4px,#dc6e58 517.4px 519.9px,#d3594a 519.9px 522.5px,#66a9cf 522.5px 525px,#509bc7 525px 527.5px,#347fb9 527.5px 532.6px,#3480b9 532.6px 535.1px,#2f78b5 535.1px 537.6px,#3d8bbf 537.6px 540.1px,#4a98c5 540.1px 542.7px,#539dc9 542.7px 545.2px,#58a0ca 545.2px 547.7px,#6dadd1 547.7px 550.2px,#6eaed2 550.2px 552.8px,#74b2d4 552.8px 555.3px,#85bdd9 555.3px 557.8px,#89bfdb 557.8px 560.3px,#91c5de 560.3px 562.9px,#61a6cd 562.9px 565.4px,#60a5cd 565.4px 567.9px,#4c99c6 567.9px 570.4px,#74b2d4 570.4px 572.9px,#6bacd1 572.9px 575.5px,#3c8abe 575.5px 578px,#307ab6 578px 580.5px,#3e8dc0 580.5px 583px,#3682ba 583px 585.6px,#4796c4 585.6px 588.1px,#70b0d3 588.1px 590.6px,#62a7ce 590.6px 593.1px,#68abd0 593.1px 595.7px,#6badd1 595.7px 598.2px,#7db8d7 598.2px 600.7px,#8dc2dc 600.7px 603.2px,#84bcd9 603.2px 605.8px,#72b1d3 605.8px 608.3px,#8ec3dd 608.3px 610.8px,#4896c5 610.8px 613.3px,#2e78b5 613.3px 615.9px,#1f61a5 615.9px 618.4px,#2e77b5 618.4px 620.9px,#3480b9 620.9px 623.4px,#3a87bd 623.4px 626px,#4896c5 626px 628.5px,#337eb8 628.5px 631px,#3a88bd 631px 633.5px,#4695c4 633.5px 636px,#f9ece4 636px 638.6px,#f9ede7 638.6px 641.1px,#f7f6f6 641.1px 643.6px,#f7f5f3 643.6px 646.1px,#f8f3ef 646.1px 648.7px,#f6f6f7 648.7px 651.2px,#f2f5f6 651.2px 653.7px,#f7f5f3 653.7px 656.2px,#f7f7f7 656.2px 658.8px,#ecf2f5 658.8px 661.3px,#e6eff4 661.3px 663.8px,#f4f6f6 663.8px 666.3px,#e4eef4 666.3px 668.9px,#f8f3ef 668.9px 671.4px,#ebf1f5 671.4px 673.9px,#f8f4f2 673.9px 676.4px,#f7f5f4 676.4px 679px,#f8f3f0 679px 684px,#fae9df 684px 686.5px,#f8f4f3 686.5px 689.1px,#f1f4f6 689.1px 691.6px,#f5f6f7 691.6px 694.1px,#f9eee8 694.1px 696.6px,#f9efe9 696.6px 699.1px,#f9ede6 699.1px 701.7px,#faebe2 701.7px 704.2px,#fbe5d9 704.2px 706.7px,#faebe2 706.7px 709.2px,#f8f2ef 709.2px 711.8px,#f2f5f6 711.8px 714.3px,#f9ede5 714.3px 716.8px,#f3f5f6 716.8px 719.3px,#f8f1ed 719.3px 721.9px,#c3deec 721.9px 724.4px,#b1d5e7 724.4px 726.9px,#c5dfec 726.9px 729.4px,#bddbea 729.4px 732px,#cce2ef 732px 734.5px,#d4e6f1 734.5px 737px,#cbe2ee 737px 739.5px,#b9d9e9 739.5px 742.1px,#bedbea 742.1px 744.6px,#c2ddec 744.6px 747.1px,#b9d9e9 747.1px 749.6px,#c5dfed 749.6px 752.2px,#d3e6f0 752.2px 754.7px,#cae1ee 754.7px 757.2px,#c5dfed 757.2px 759.7px,#c9e1ee 759.7px 762.2px,#d5e7f1 762.2px 764.8px,#d4e6f1 764.8px 767.3px,#b7d8e9 767.3px 769.8px,#d2e5f0 769.8px 772.3px,#d0e5f0 772.3px 774.9px,#c5dfed 774.9px 777.4px,#b1d5e7 777.4px 779.9px,#bfdceb 779.9px 782.4px,#c2ddec 782.4px 785px,#c3deec 785px 787.5px,#aad1e5 787.5px 790px,#bddbea 790px 792.5px,#c2ddec 792.5px 795.1px,#c3deec 795.1px 797.6px,#97c8e0 797.6px 800.1px,#a5cfe3 800.1px 802.6px,#a0cce2 802.6px 805.2px,#c7e0ed 805.2px 807.7px,#93c6de 807.7px 810.2px,#9bcae1 810.2px 812.7px,#a9d1e5 812.7px 815.3px,#b9d9e9 815.3px 817.8px,#bedbeb 817.8px 820.3px,#dae9f2 820.3px 822.8px,#ddeaf2 822.8px 825.3px,#d0e5f0 825.3px 827.9px,#b6d8e8 827.9px 830.4px,#c3deec 830.4px 832.9px,#ddeaf2 832.9px 835.4px,#e1edf3 835.4px 838px,#d8e8f1 838px 840.5px,#d3e6f0 840.5px 843px,#dfecf3 843px 845.5px,#d2e5f0 845.5px 848.1px,#c8e0ed 848.1px 850.6px,#deebf2 850.6px 853.1px,#d9e9f1 853.1px 855.6px,#c9e1ee 855.6px 858.2px,#c2deec 858.2px 860.7px,#b8d8e9 860.7px 863.2px,#a0cce2 863.2px 865.7px,#a2cde2 865.7px 868.3px,#b5d7e8 868.3px 870.8px,#a8d0e4 870.8px 873.3px,#aad1e5 873.3px 875.8px,#c0dceb 875.8px 878.4px,#bbdaea 878.4px 880.9px,#4292c2 880.9px 883.4px,#4f9bc7 883.4px 885.9px,#4292c3 885.9px 888.4px,#2b73b3 888.4px 891px,#2b74b3 891px 893.5px,#2b73b3 893.5px 896px,#3580b9 896px 898.5px,#529cc8 898.5px 901.1px,#347fb9 901.1px 903.6px,#408fc1 903.6px 906.1px,#3580b9 906.1px 908.6px,#3b88be 908.6px 911.2px,#3c8abe 911.2px 913.7px,#4695c4 913.7px 916.2px,#3d8bbf 916.2px 918.7px,#3884bb 918.7px 921.3px,#3d8bbf 921.3px 923.8px,#60a6cd 923.8px 926.3px,#5ba2cb 926.3px 928.8px,#79b5d5 928.8px 931.4px,#5aa1cb 931.4px 933.9px,#7bb6d6 933.9px 936.4px,#59a1cb 936.4px 938.9px,#67aacf 938.9px 941.5px,#61a6cd 941.5px 944px,#74b2d4 944px 946.5px,#60a5cd 946.5px 949px,#6fafd2 949px 954.1px,#3f8ec1 954.1px 956.6px,#3580b9 956.6px 959.1px,#3e8cc0 959.1px 961.6px,#3b89be 961.6px 964.2px,#3e8cc0 964.2px 966.7px,#4d99c6 966.7px 969.2px,#539dc8 969.2px 971.7px,#4393c3 971.7px 974.3px,#317bb7 974.3px 976.8px,#337eb8 976.8px 979.3px,#2e78b5 979.3px 981.8px,#3c89be 981.8px 984.4px,#4594c4 984.4px 986.9px,#337eb8 986.9px 989.4px,#3b88be 989.4px 991.9px,#3c8abf 991.9px 994.5px,#3884bb 994.5px 997px,#317cb7 997px 999.5px,#3a88bd 999.5px 1002px,#3581ba 1002px 1004.6px,#3b89be 1004.6px 1007.1px,#62a7ce 1007.1px 1009.6px,#317bb7 1009.6px 1012.1px,#246bae 1012.1px 1014.6px,#327db8 1014.6px 1017.2px,#2e77b5 1017.2px 1019.7px,#3985bc 1019.7px 1022.2px,#3c89be 1022.2px 1024.7px,#2971b2 1024.7px 1027.3px,#3682ba 1027.3px 1029.8px,#307ab6 1029.8px 1032.3px,#286fb0 1032.3px 1034.8px,#276eb0 1034.8px 1037.4px,#2e77b5 1037.4px 1039.9px,#286fb1 1039.9px 1042.4px,#2a72b2 1042.4px 1044.9px,#2f78b5 1044.9px 1047.5px,#afd4e6 1047.5px 1050px,#c1ddeb 1050px 1052.5px,#d4e7f1 1052.5px 1055px,#bcdaea 1055px 1057.6px,#aad1e5 1057.6px 1060.1px,#c3deec 1060.1px 1062.6px,#b8d8e9 1062.6px 1065.1px,#cee4ef 1065.1px 1067.7px,#d2e5f0 1067.7px 1070.2px,#cfe4ef 1070.2px 1072.7px,#c7e0ed 1072.7px 1075.2px,#dceaf2 1075.2px 1077.7px,#d0e5f0 1077.7px 1080.3px,#e8f0f4 1080.3px 1082.8px,#c6dfed 1082.8px 1085.3px,#cee4ef 1085.3px 1087.8px,#d9e9f1 1087.8px 1090.4px,#e8f0f4 1090.4px 1092.9px,#d1e5f0 1092.9px 1095.4px,#c4deec 1095.4px 1097.9px,#b3d6e7 1097.9px 1103px,#9bcae1 1103px 1105.5px,#bfdceb 1105.5px 1108px,#dae9f2 1108px 1110.6px,#c7e0ed 1110.6px 1113.1px,#a0cce2 1113.1px 1115.6px,#d2e6f0 1115.6px 1118.1px,#c7e0ed 1118.1px 1120.7px,#cde3ef 1120.7px 1123.2px,#d0e4f0 1123.2px 1125.7px,#b2d5e7 1125.7px 1128.2px,#c1ddeb 1128.2px 1130.8px,#dae9f2 1130.8px 1133.3px,#ddebf2 1133.3px 1135.8px,#b8d8e9 1135.8px 1138.3px,#9ccae1 1138.3px 1140.8px,#acd2e6 1140.8px 1143.4px,#a2cde2 1143.4px 1145.9px,#8ac0db 1145.9px 1148.4px,#7db8d7 1148.4px 1150.9px,#78b5d5 1150.9px 1153.5px,#539dc9 1153.5px 1156px,#6eaed2 1156px 1158.5px,#f3f5f6 1158.5px 1161px,#f9eee7 1161px 1163.6px,#fbe7db 1163.6px 1166.1px,#fae7dc 1166.1px 1168.6px,#fbe3d4 1168.6px 1171.1px,#fae9df 1171.1px 1173.7px,#f9ebe3 1173.7px 1176.2px,#faeae0 1176.2px 1178.7px,#fce0cf 1178.7px 1181.2px,#fcdfce 1181.2px 1183.8px,#fbe4d7 1183.8px 1186.3px,#fbe5d7 1186.3px 1188.8px,#fbe4d6 1188.8px 1191.3px,#fae7dc 1191.3px 1193.9px,#fcdecc 1193.9px 1196.4px,#fdd9c4 1196.4px 1198.9px,#f9c5ab 1198.9px 1201.4px,#faccb3 1201.4px 1203.9px,#fbcdb6 1203.9px 1206.5px,#fbe3d5 1206.5px 1209px,#fae9de 1209px 1211.5px,#fcdecc 1211.5px 1214px,#f9ede6 1214px 1216.6px,#fbe4d7 1216.6px 1219.1px,#fdddca 1219.1px 1221.6px,#fbcfb7 1221.6px 1224.1px,#fac6ac 1224.1px 1226.7px,#fcd7c2 1226.7px 1229.2px,#fddbc7 1229.2px 1231.7px,#fdddcb 1231.7px 1234.2px,#fac7ae 1234.2px 1236.8px,#fddcc8 1236.8px 1244.3px,#fcd3bd 1244.3px 1246.9px,#facbb2 1246.9px 1249.4px,#f9c2a7 1249.4px 1251.9px,#f8bda0 1251.9px 1254.4px,#f8bda1 1254.4px 1257px,#fbcdb5 1257px 1259.5px,#fcd6c1 1259.5px 1262px)"></div>
<div style="position:absolute;left:245.1px;top:94px;width:24.7px;height:1262px;background:linear-gradient(#ec9374 0px 2.5px,#f6b293 2.5px 5px,#f8ba9d 5px 7.6px,#f9c0a5 7.6px 10.1px,#fbccb4 10.1px 12.6px,#f9c5ac 12.6px 15.1px,#f8bea1 15.1px 17.7px,#f6ae8e 17.7px 20.2px,#f4a785 20.2px 22.7px,#f9c2a7 22.7px 25.2px,#fcd5bf 25.2px 27.8px,#fcdecc 27.8px 30.3px,#f9c2a7 30.3px 32.8px,#f8bb9e 32.8px 35.3px,#f4a784 35.3px 37.9px,#f09c7b 37.9px 40.4px,#f5a987 40.4px 42.9px,#e68468 42.9px 45.4px,#f5ac8b 45.4px 48px,#ee9878 48px 50.5px,#ed9676 50.5px 53px,#ed9475 53px 55.5px,#ea8e70 55.5px 60.6px,#ec9374 60.6px 63.1px,#f09b7a 63.1px 65.6px,#f7b596 65.6px 68.1px,#f09d7c 68.1px 70.7px,#e98d6f 70.7px 73.2px,#f09c7b 73.2px 75.7px,#f4a482 75.7px 78.2px,#f5aa88 78.2px 80.8px,#f5ad8c 80.8px 83.3px,#f5ad8d 83.3px 85.8px,#e0765e 85.8px 88.3px,#e6866a 88.3px 90.9px,#d96651 90.9px 93.4px,#e0765e 93.4px 95.9px,#d96752 95.9px 98.4px,#d25849 98.4px 101px,#d96752 101px 103.5px,#e7866a 103.5px 106px,#e98d6f 106px 108.5px,#f3a481 108.5px 111.1px,#e98b6e 111.1px 113.6px,#ef9979 113.6px 116.1px,#ea8d70 116.1px 118.6px,#e17960 118.6px 121.2px,#ed9475 121.2px 123.7px,#df765e 123.7px 126.2px,#ee9878 126.2px 128.7px,#f6af8f 128.7px 131.2px,#ea8f71 131.2px 133.8px,#e6866a 133.8px 136.3px,#e17a61 136.3px 138.8px,#ee9878 138.8px 141.3px,#d96652 141.3px 143.9px,#d86450 143.9px 146.4px,#e37e64 146.4px 148.9px,#e27b62 148.9px 151.4px,#bc2d35 151.4px 154px,#be3036 154px 156.5px,#bd2e35 156.5px 159px,#b6202f 159px 161.5px,#be3036 161.5px 164.1px,#b2192b 164.1px 166.6px,#c13639 166.6px 169.1px,#cc4c44 169.1px 171.6px,#c7433f 171.6px 174.2px,#c6413e 174.2px 176.7px,#c33a3b 176.7px 179.2px,#ba2832 179.2px 181.7px,#b1182b 181.7px 184.3px,#ad162a 184.3px 186.8px,#bc2d35 186.8px 189.3px,#c43c3c 189.3px 191.8px,#d55e4c 191.8px 194.3px,#be3036 194.3px 196.9px,#c3393b 196.9px 199.4px,#d2594a 199.4px 201.9px,#dd7059 201.9px 204.4px,#da6a55 204.4px 207px,#d6614e 207px 209.5px,#d55e4c 209.5px 212px,#d25749 212px 214.5px,#de725b 214.5px 217.1px,#d7634f 217.1px 219.6px,#d45c4b 219.6px 222.1px,#d15649 222.1px 224.6px,#d7624e 224.6px 227.2px,#d45c4b 227.2px 229.7px,#cd4f45 229.7px 232.2px,#d55f4d 232.2px 234.7px,#cb4942 234.7px 237.3px,#cc4d44 237.3px 239.8px,#cc4c43 239.8px 242.3px,#c7413f 242.3px 244.8px,#cc4b43 244.8px 247.4px,#dd6f59 247.4px 249.9px,#dc6e58 249.9px 252.4px,#df745d 252.4px 254.9px,#dc6e58 254.9px 257.4px,#dc6d57 257.4px 262.5px,#db6b55 262.5px 265px,#d96752 265px 270.1px,#d45c4b 270.1px 272.6px,#d35a4a 272.6px 275.1px,#d15548 275.1px 277.6px,#d86450 277.6px 280.2px,#db6c56 280.2px 282.7px,#e17960 282.7px 285.2px,#e58368 285.2px 287.7px,#f4a582 287.7px 290.3px,#f19d7c 290.3px 292.8px,#f19e7c 292.8px 295.3px,#ee9778 295.3px 297.8px,#ef9979 297.8px 300.4px,#ee9777 300.4px 302.9px,#ed9475 302.9px 305.4px,#ee9778 305.4px 307.9px,#eb9072 307.9px 310.5px,#ec9273 310.5px 313px,#ed9576 313px 315.5px,#ee9878 315.5px 318px,#ee9677 318px 320.5px,#ee9777 320.5px 323.1px,#ec9374 323.1px 325.6px,#ee9777 325.6px 328.1px,#ed9676 328.1px 330.6px,#ef9979 330.6px 333.2px,#f19d7c 333.2px 335.7px,#f09b7a 335.7px 340.7px,#f09c7b 340.7px 343.3px,#ee9777 343.3px 345.8px,#ed9576 345.8px 348.3px,#ec9273 348.3px 350.8px,#ef9878 350.8px 353.4px,#ed9475 353.4px 355.9px,#ec9273 355.9px 358.4px,#ed9576 358.4px 360.9px,#ec9374 360.9px 363.5px,#ef9a79 363.5px 366px,#ef9979 366px 368.5px,#ed9475 368.5px 371px,#ec9274 371px 373.6px,#ea8d70 373.6px 376.1px,#ec9374 376.1px 378.6px,#ec9273 378.6px 381.1px,#ee9777 381.1px 383.6px,#ec9374 383.6px 386.2px,#eb9172 386.2px 388.7px,#eb9072 388.7px 393.7px,#ec9274 393.7px 396.3px,#ec9273 396.3px 398.8px,#ec9375 398.8px 401.3px,#ea8f71 401.3px 403.8px,#ed9475 403.8px 406.4px,#eb9072 406.4px 411.4px,#ed9475 411.4px 413.9px,#ed9676 413.9px 416.5px,#ee9878 416.5px 419px,#f5a987 419px 421.5px,#f6af8e 421.5px 424px,#f4a886 424px 426.6px,#f6b293 426.6px 429.1px,#f7b99c 429.1px 431.6px,#f7b89a 431.6px 434.1px,#f8bc9f 434.1px 436.7px,#f6af8f 436.7px 439.2px,#eb9173 439.2px 441.7px,#ef9a79 441.7px 444.2px,#eb9072 444.2px 446.7px,#f4a886 446.7px 451.8px,#f6ae8e 451.8px 454.3px,#ed9575 454.3px 456.8px,#d96651 456.8px 459.4px,#e68468 459.4px 461.9px,#e6866a 461.9px 464.4px,#e6856a 464.4px 466.9px,#e7876b 466.9px 469.5px,#d35b4b 469.5px 472px,#d05347 472px 474.5px,#df765e 474.5px 477px,#f7b597 477px 479.6px,#f5a987 479.6px 482.1px,#f19d7c 482.1px 484.6px,#e7866a 484.6px 487.1px,#da6954 487.1px 489.7px,#d96752 489.7px 492.2px,#ca4942 492.2px 494.7px,#c94741 494.7px 497.2px,#ca4841 497.2px 499.8px,#ce5146 499.8px 502.3px,#d45b4b 502.3px 504.8px,#d3594a 504.8px 507.3px,#d55d4c 507.3px 509.8px,#e17860 509.8px 512.4px,#e58368 512.4px 514.9px,#eb8f71 514.9px 517.4px,#e47f65 517.4px 519.9px,#d86450 519.9px 522.5px,#3c8abe 522.5px 525px,#2f79b6 525px 527.5px,#1f62a7 527.5px 530px,#3b88bd 530px 532.6px,#3f8ec0 532.6px 535.1px,#2c75b4 535.1px 537.6px,#559fc9 537.6px 540.1px,#569fca 540.1px 542.7px,#569fc9 542.7px 545.2px,#3f8ec0 545.2px 547.7px,#6badd1 547.7px 550.2px,#59a1cb 550.2px 552.8px,#5da4cc 552.8px 555.3px,#66a9cf 555.3px 557.8px,#70afd2 557.8px 560.3px,#7cb7d7 560.3px 562.9px,#75b3d4 562.9px 565.4px,#549ec9 565.4px 567.9px,#4190c1 567.9px 570.4px,#5da3cc 570.4px 572.9px,#69abd0 572.9px 575.5px,#58a0ca 575.5px 578px,#559ec9 578px 580.5px,#569fc9 580.5px 583px,#3d8bbf 583px 585.6px,#58a1ca 585.6px 588.1px,#8cc1dc 588.1px 590.6px,#3e8cbf 590.6px 593.1px,#4190c2 593.1px 595.7px,#3f8ec0 595.7px 598.2px,#4796c4 598.2px 600.7px,#5fa4cc 600.7px 603.2px,#539dc8 603.2px 605.8px,#4594c4 605.8px 608.3px,#65a8cf 608.3px 610.8px,#3986bd 610.8px 613.3px,#3681ba 613.3px 615.9px,#2b73b3 615.9px 618.4px,#3783bb 618.4px 620.9px,#286fb0 620.9px 623.4px,#246aae 623.4px 626px,#3580b9 626px 628.5px,#317bb7 628.5px 631px,#3c89be 631px 633.5px,#408fc1 633.5px 636px,#fbe4d6 636px 638.6px,#f8f3ef 638.6px 641.1px,#ebf1f5 641.1px 643.6px,#f6f6f7 643.6px 646.1px,#f0f4f6 646.1px 648.7px,#f1f4f6 648.7px 651.2px,#f8f4f2 651.2px 653.7px,#faebe2 653.7px 656.2px,#f9ede7 656.2px 658.8px,#f8f3f1 658.8px 661.3px,#fae7db 661.3px 663.8px,#fcdecc 663.8px 666.3px,#fae8de 666.3px 668.9px,#fbe2d3 668.9px 671.4px,#f7f6f6 671.4px 673.9px,#f8f4f3 673.9px 676.4px,#f8f2ee 676.4px 679px,#f8f3f0 679px 681.5px,#f9ece5 681.5px 684px,#fddcc9 684px 686.5px,#fbe4d6 686.5px 689.1px,#fae9df 689.1px 691.6px,#fbe2d3 691.6px 694.1px,#fcd5c0 694.1px 696.6px,#faeae1 696.6px 699.1px,#fbe6da 699.1px 701.7px,#f8f3f0 701.7px 704.2px,#faebe3 704.2px 706.7px,#f8f4f2 706.7px 709.2px,#f0f4f6 709.2px 711.8px,#f7f5f3 711.8px 714.3px,#fce1d1 714.3px 716.8px,#fbe4d6 716.8px 719.3px,#fce0d0 719.3px 721.9px,#d4e6f1 721.9px 724.4px,#cde3ef 724.4px 726.9px,#d2e6f0 726.9px 729.4px,#d3e6f0 729.4px 732px,#e2edf3 732px 734.5px,#e6eff4 734.5px 737px,#dae9f2 737px 739.5px,#b3d6e8 739.5px 742.1px,#c8e0ed 742.1px 744.6px,#dae9f2 744.6px 747.1px,#d8e8f1 747.1px 749.6px,#d5e7f1 749.6px 752.2px,#ddebf2 752.2px 754.7px,#d4e6f0 754.7px 757.2px,#d0e5f0 757.2px 759.7px,#d8e8f1 759.7px 762.2px,#e1ecf3 762.2px 764.8px,#d9e9f1 764.8px 767.3px,#c1ddeb 767.3px 769.8px,#c2ddec 769.8px 772.3px,#d3e6f0 772.3px 774.9px,#d9e9f1 774.9px 777.4px,#a4cee3 777.4px 779.9px,#bedbeb 779.9px 782.4px,#b0d4e7 782.4px 785px,#c8e0ed 785px 787.5px,#cce3ef 787.5px 790px,#d3e6f0 790px 792.5px,#c7e0ed 792.5px 795.1px,#dceaf2 795.1px 797.6px,#aad1e5 797.6px 800.1px,#cae1ee 800.1px 802.6px,#b2d5e7 802.6px 805.2px,#aed3e6 805.2px 807.7px,#a1cde2 807.7px 810.2px,#b8d8e9 810.2px 812.7px,#aed3e6 812.7px 815.3px,#d7e8f1 815.3px 817.8px,#d5e7f1 817.8px 820.3px,#eaf1f5 820.3px 822.8px,#ebf1f5 822.8px 825.3px,#dbeaf2 825.3px 827.9px,#c5dfec 827.9px 830.4px,#c9e1ee 830.4px 832.9px,#d8e8f1 832.9px 835.4px,#d6e7f1 835.4px 838px,#d9e9f1 838px 840.5px,#d8e8f1 840.5px 843px,#d1e5f0 843px 845.5px,#cfe4f0 845.5px 848.1px,#b5d7e8 848.1px 850.6px,#d2e5f0 850.6px 853.1px,#d3e6f0 853.1px 855.6px,#cee4ef 855.6px 858.2px,#c4dfec 858.2px 860.7px,#cce3ef 860.7px 863.2px,#c8e1ee 863.2px 865.7px,#bedbea 865.7px 868.3px,#d4e6f1 868.3px 870.8px,#c8e1ee 870.8px 873.3px,#c1ddeb 873.3px 875.8px,#cee4ef 875.8px 878.4px,#d7e8f1 878.4px 880.9px,#549dc9 880.9px 883.4px,#61a6cd 883.4px 885.9px,#4d99c6 885.9px 888.4px,#337eb8 888.4px 891px,#4393c3 891px 893.5px,#4594c4 893.5px 896px,#5ba2cb 896px 898.5px,#539dc9 898.5px 901.1px,#559fc9 901.1px 903.6px,#5da3cc 903.6px 906.1px,#4997c5 906.1px 908.6px,#3b88bd 908.6px 911.2px,#4d99c6 911.2px 913.7px,#4292c3 913.7px 916.2px,#3986bc 916.2px 918.7px,#3885bc 918.7px 921.3px,#3a87bd 921.3px 923.8px,#57a0ca 923.8px 926.3px,#4d99c6 926.3px 928.8px,#77b4d5 928.8px 931.4px,#63a7ce 931.4px 933.9px,#79b5d5 933.9px 936.4px,#4e9ac7 936.4px 938.9px,#58a0ca 938.9px 941.5px,#4c99c6 941.5px 944px,#5ca3cc 944px 946.5px,#57a0ca 946.5px 949px,#4c99c6 949px 951.5px,#70b0d3 951.5px 954.1px,#5ca3cc 954.1px 956.6px,#4c99c6 956.6px 959.1px,#64a8ce 959.1px 961.6px,#4292c2 961.6px 964.2px,#3c89be 964.2px 966.7px,#529cc8 966.7px 969.2px,#4594c4 969.2px 971.7px,#57a0ca 971.7px 974.3px,#519cc8 974.3px 976.8px,#4393c3 976.8px 979.3px,#337eb8 979.3px 981.8px,#3682ba 981.8px 984.4px,#3a87bd 984.4px 986.9px,#3783bb 986.9px 989.4px,#408ec1 989.4px 991.9px,#4e9ac7 991.9px 994.5px,#3885bc 994.5px 997px,#2c75b3 997px 999.5px,#3d8bbf 999.5px 1002px,#4594c4 1002px 1004.6px,#4292c3 1004.6px 1007.1px,#3b88bd 1007.1px 1009.6px,#2b73b2 1009.6px 1012.1px,#2166ac 1012.1px 1014.6px,#1f63a7 1014.6px 1017.2px,#154e8b 1017.2px 1019.7px,#2368ad 1019.7px 1022.2px,#2c74b3 1022.2px 1024.7px,#2369ad 1024.7px 1027.3px,#2c74b3 1027.3px 1029.8px,#307ab6 1029.8px 1032.3px,#256baf 1032.3px 1034.8px,#1a599a 1034.8px 1037.4px,#256bae 1037.4px 1039.9px,#2a72b2 1039.9px 1042.4px,#276eb0 1042.4px 1044.9px,#2b74b3 1044.9px 1047.5px,#aed3e6 1047.5px 1050px,#b6d7e8 1050px 1052.5px,#d6e7f1 1052.5px 1055px,#d0e5f0 1055px 1057.6px,#d7e8f1 1057.6px 1060.1px,#b9d9e9 1060.1px 1062.6px,#b4d6e8 1062.6px 1065.1px,#c5dfed 1065.1px 1067.7px,#c6e0ed 1067.7px 1070.2px,#cde3ef 1070.2px 1075.2px,#b7d8e9 1075.2px 1077.7px,#bbdaea 1077.7px 1080.3px,#dbeaf2 1080.3px 1082.8px,#dae9f2 1082.8px 1085.3px,#d9e9f1 1085.3px 1087.8px,#d4e6f0 1087.8px 1090.4px,#e3eef3 1090.4px 1092.9px,#dfecf3 1092.9px 1095.4px,#e2edf3 1095.4px 1097.9px,#c9e1ee 1097.9px 1100.5px,#bedbeb 1100.5px 1103px,#bcdaea 1103px 1105.5px,#c6dfed 1105.5px 1108px,#d8e8f1 1108px 1110.6px,#d2e5f0 1110.6px 1113.1px,#c6e0ed 1113.1px 1115.6px,#d8e9f1 1115.6px 1118.1px,#b0d4e7 1118.1px 1120.7px,#c3deec 1120.7px 1123.2px,#d6e8f1 1123.2px 1125.7px,#c4dfec 1125.7px 1128.2px,#cfe4ef 1128.2px 1130.8px,#dbeaf2 1130.8px 1133.3px,#d3e6f0 1133.3px 1135.8px,#c3deec 1135.8px 1138.3px,#d2e5f0 1138.3px 1140.8px,#cde3ef 1140.8px 1143.4px,#cbe2ee 1143.4px 1145.9px,#bcdaea 1145.9px 1148.4px,#9bcae1 1148.4px 1150.9px,#93c5de 1150.9px 1153.5px,#7ab6d6 1153.5px 1156px,#95c6df 1156px 1158.5px,#facbb3 1158.5px 1161px,#facab2 1161px 1163.6px,#fbcfb8 1163.6px 1166.1px,#fddbc7 1166.1px 1168.6px,#fbe4d6 1168.6px 1171.1px,#fbcdb5 1171.1px 1173.7px,#fddcc9 1173.7px 1176.2px,#fdd9c4 1176.2px 1178.7px,#f9c2a7 1178.7px 1181.2px,#f7b799 1181.2px 1183.8px,#f7b89b 1183.8px 1186.3px,#f6b090 1186.3px 1188.8px,#f6b394 1188.8px 1191.3px,#fac9b0 1191.3px 1193.9px,#facbb3 1193.9px 1196.4px,#fbcdb5 1196.4px 1198.9px,#fac9af 1198.9px 1201.4px,#f7b698 1201.4px 1203.9px,#f7b597 1203.9px 1206.5px,#fcd6c0 1206.5px 1209px,#f9c4aa 1209px 1211.5px,#f9c1a6 1211.5px 1214px,#fbd0b9 1214px 1216.6px,#fcd4bf 1216.6px 1219.1px,#fcd6c1 1219.1px 1221.6px,#fbd0ba 1221.6px 1224.1px,#f6af8f 1224.1px 1226.7px,#fbceb7 1226.7px 1229.2px,#fbceb6 1229.2px 1231.7px,#fcd4be 1231.7px 1234.2px,#f4a683 1234.2px 1236.8px,#f8bb9e 1236.8px 1239.3px,#f8bda1 1239.3px 1241.8px,#f8ba9d 1241.8px 1244.3px,#f19d7c 1244.3px 1246.9px,#f2a17f 1246.9px 1249.4px,#ed9475 1249.4px 1251.9px,#e0765e 1251.9px 1254.4px,#f5ad8c 1254.4px 1257px,#fbd1ba 1257px 1262px)"></div>
<div style="position:absolute;left:269.4px;top:94px;width:24.7px;height:1262px;background:linear-gradient(#f6b394 0px 2.5px,#f9c3a9 2.5px 5px,#f8bea2 5px 7.6px,#fbccb4 7.6px 10.1px,#fbcdb5 10.1px 12.6px,#fbcfb8 12.6px 15.1px,#fcd2bc 15.1px 17.7px,#f9c4a9 17.7px 20.2px,#f7b99b 20.2px 22.7px,#fac8af 22.7px 25.2px,#fbcdb5 25.2px 27.8px,#fbd1ba 27.8px 30.3px,#faccb4 30.3px 32.8px,#f9c1a5 32.8px 35.3px,#facab1 35.3px 37.9px,#f9c0a5 37.9px 40.4px,#f5aa89 40.4px 42.9px,#f5ad8d 42.9px 45.4px,#f8bca0 45.4px 48px,#f5ae8d 48px 50.5px,#f09d7c 50.5px 53px,#f5ac8b 53px 55.5px,#f6b192 55.5px 58.1px,#f4a684 58.1px 60.6px,#f2a07e 60.6px 63.1px,#f4a683 63.1px 65.6px,#f9c5ab 65.6px 68.1px,#f8bb9f 68.1px 70.7px,#f6b394 70.7px 73.2px,#f8ba9d 73.2px 75.7px,#fcd4be 75.7px 78.2px,#f9c6ac 78.2px 80.8px,#fddcc9 80.8px 83.3px,#fbccb4 83.3px 85.8px,#f5aa89 85.8px 88.3px,#e98b6e 88.3px 90.9px,#eb9072 90.9px 93.4px,#e7866a 93.4px 95.9px,#ee9777 95.9px 98.4px,#e98d6f 98.4px 101px,#e6866a 101px 103.5px,#f3a280 103.5px 106px,#f5ac8b 106px 108.5px,#fcd4be 108.5px 111.1px,#f7b698 111.1px 113.6px,#f5ab8a 113.6px 116.1px,#f2a07e 116.1px 118.6px,#f6b394 118.6px 121.2px,#f9c4aa 121.2px 123.7px,#f5ab8a 123.7px 126.2px,#eb8f71 126.2px 128.7px,#f09b7b 128.7px 131.2px,#e27c62 131.2px 133.8px,#e58368 133.8px 136.3px,#e27c62 136.3px 138.8px,#f4a784 138.8px 141.3px,#ef9a79 141.3px 143.9px,#e27b62 143.9px 146.4px,#ef9a79 146.4px 148.9px,#e68469 148.9px 151.4px,#ca4841 151.4px 154px,#d96652 154px 156.5px,#d05447 156.5px 159px,#d86450 159px 164.1px,#cd4f45 164.1px 166.6px,#cf5246 166.6px 169.1px,#bf3338 169.1px 171.6px,#ca4741 171.6px 174.2px,#ac162a 174.2px 176.7px,#c43b3c 176.7px 179.2px,#c63f3e 179.2px 181.7px,#ba2732 181.7px 184.3px,#b51d2e 184.3px 186.8px,#b92732 186.8px 189.3px,#be3036 189.3px 191.8px,#ca4741 191.8px 194.3px,#d86551 194.3px 196.9px,#df745c 196.9px 199.4px,#d6604d 199.4px 201.9px,#dd6f59 201.9px 204.4px,#d6614e 204.4px 207px,#d45b4b 207px 209.5px,#d96853 209.5px 212px,#d45c4b 212px 214.5px,#da6954 214.5px 217.1px,#d05447 217.1px 219.6px,#cf5247 219.6px 222.1px,#ce5046 222.1px 224.6px,#ca4741 224.6px 227.2px,#c43b3c 227.2px 229.7px,#c2383a 229.7px 232.2px,#c3393b 232.2px 234.7px,#be3137 234.7px 237.3px,#ba2933 237.3px 239.8px,#b92732 239.8px 242.3px,#c2383a 242.3px 247.4px,#cb4a43 247.4px 249.9px,#d45c4b 249.9px 252.4px,#ca4741 252.4px 254.9px,#d55e4c 254.9px 257.4px,#cf5146 257.4px 260px,#c8433f 260px 262.5px,#d55f4c 262.5px 265px,#d3594a 265px 267.5px,#d35a4a 267.5px 270.1px,#c43d3c 270.1px 272.6px,#cc4c44 272.6px 275.1px,#d25949 275.1px 277.6px,#cf5246 277.6px 280.2px,#d86550 280.2px 282.7px,#db6b55 282.7px 285.2px,#d7624f 285.2px 287.7px,#d15648 287.7px 290.3px,#cb4a43 290.3px 292.8px,#cd4f45 292.8px 295.3px,#d05447 295.3px 297.8px,#d15648 297.8px 300.4px,#d05548 300.4px 302.9px,#d25949 302.9px 305.4px,#d3594a 305.4px 307.9px,#ce5045 307.9px 313px,#d05448 313px 315.5px,#cf5146 315.5px 318px,#d05447 318px 323.1px,#cf5246 323.1px 325.6px,#ce4f45 325.6px 328.1px,#ce5146 328.1px 330.6px,#d05448 330.6px 335.7px,#d25849 335.7px 338.2px,#d05347 338.2px 340.7px,#cf5246 340.7px 345.8px,#ce4f45 345.8px 348.3px,#ce5045 348.3px 350.8px,#cf5246 350.8px 353.4px,#cc4d44 353.4px 355.9px,#cd4e44 355.9px 358.4px,#cf5246 358.4px 360.9px,#cc4d44 360.9px 363.5px,#ce5146 363.5px 366px,#ce5045 366px 368.5px,#cd4d44 368.5px 371px,#cb4942 371px 373.6px,#cc4c44 373.6px 376.1px,#d35a4a 376.1px 378.6px,#d05447 378.6px 381.1px,#d35a4a 381.1px 383.6px,#d05447 383.6px 388.7px,#cc4d44 388.7px 393.7px,#cd4e44 393.7px 396.3px,#cb4a43 396.3px 398.8px,#cd4e45 398.8px 401.3px,#cd4e44 401.3px 403.8px,#cf5347 403.8px 406.4px,#ce5045 406.4px 408.9px,#cc4b43 408.9px 411.4px,#cb4b43 411.4px 413.9px,#cd4e45 413.9px 416.5px,#cd4f45 416.5px 419px,#c43d3c 419px 421.5px,#c63f3e 421.5px 424px,#c2373a 424px 426.6px,#c43d3c 426.6px 429.1px,#ca4841 429.1px 431.6px,#cc4c44 431.6px 434.1px,#c33a3b 434.1px 436.7px,#f19e7d 436.7px 439.2px,#f5a987 439.2px 441.7px,#f7b799 441.7px 444.2px,#f09b7b 444.2px 446.7px,#f5ac8b 446.7px 449.3px,#ee9777 449.3px 451.8px,#f4a886 451.8px 454.3px,#f5ae8d 454.3px 456.8px,#d7634f 456.8px 459.4px,#d6614e 459.4px 461.9px,#ed9676 461.9px 464.4px,#e98c6e 464.4px 466.9px,#e47f65 466.9px 469.5px,#d45b4b 469.5px 472px,#cb4942 472px 474.5px,#e17a61 474.5px 477px,#ed9576 477px 479.6px,#f5aa88 479.6px 482.1px,#ea8e70 482.1px 484.6px,#da6853 484.6px 487.1px,#e37e64 487.1px 489.7px,#f6b191 489.7px 492.2px,#ec9374 492.2px 494.7px,#dd7059 494.7px 497.2px,#d55e4c 497.2px 499.8px,#df745c 499.8px 502.3px,#e37e64 502.3px 504.8px,#e48066 504.8px 507.3px,#df765e 507.3px 509.8px,#e68569 509.8px 512.4px,#e27b61 512.4px 514.9px,#d15648 514.9px 517.4px,#d86450 517.4px 519.9px,#df755d 519.9px 522.5px,#76b3d5 522.5px 525px,#61a6cd 525px 527.5px,#4191c2 527.5px 530px,#58a0ca 530px 532.6px,#5ea4cc 532.6px 535.1px,#4896c5 535.1px 537.6px,#58a0ca 537.6px 540.1px,#64a8ce 540.1px 542.7px,#6cadd1 542.7px 545.2px,#58a0ca 545.2px 547.7px,#81bad8 547.7px 550.2px,#59a1cb 550.2px 552.8px,#4292c2 552.8px 555.3px,#63a7ce 555.3px 557.8px,#96c7df 557.8px 560.3px,#a2cde2 560.3px 562.9px,#7bb6d6 562.9px 565.4px,#69abd0 565.4px 567.9px,#68aad0 567.9px 570.4px,#5da3cc 570.4px 572.9px,#85bdda 572.9px 575.5px,#5ca3cb 575.5px 578px,#539dc8 578px 580.5px,#3b88bd 580.5px 583px,#4191c2 583px 585.6px,#89bfdb 585.6px 588.1px,#68abd0 588.1px 593.1px,#5ea4cc 593.1px 595.7px,#82bbd9 595.7px 598.2px,#95c7df 598.2px 600.7px,#a9d1e5 600.7px 603.2px,#9ac9e0 603.2px 605.8px,#afd4e6 605.8px 608.3px,#a4cee3 608.3px 610.8px,#79b5d6 610.8px 613.3px,#4f9bc7 613.3px 615.9px,#2c74b3 615.9px 618.4px,#2e77b5 618.4px 620.9px,#2f79b6 620.9px 623.4px,#4594c4 623.4px 626px,#3d8bbf 626px 628.5px,#3b88bd 628.5px 631px,#3b88be 631px 633.5px,#3884bb 633.5px 636px,#f9eee7 636px 638.6px,#f9f0ea 638.6px 641.1px,#ecf2f5 641.1px 643.6px,#f8f4f2 643.6px 646.1px,#f3f5f6 646.1px 648.7px,#f1f4f6 648.7px 651.2px,#f9f0eb 651.2px 653.7px,#fbe3d4 653.7px 656.2px,#fbe6da 656.2px 658.8px,#fbe7db 658.8px 661.3px,#f9efe9 661.3px 663.8px,#fbe3d4 663.8px 666.3px,#eef3f5 666.3px 668.9px,#f7f7f7 668.9px 671.4px,#d5e7f1 671.4px 673.9px,#ddebf2 673.9px 676.4px,#f7f6f5 676.4px 679px,#f9ede6 679px 681.5px,#f9f0ea 681.5px 684px,#fae7dc 684px 686.5px,#f9eee7 686.5px 689.1px,#f8f4f2 689.1px 691.6px,#f8f2ef 691.6px 694.1px,#f9ece5 694.1px 696.6px,#f7f6f6 696.6px 699.1px,#f8f2ef 699.1px 701.7px,#faeae0 701.7px 704.2px,#fbe2d4 704.2px 706.7px,#faeae1 706.7px 709.2px,#faeae0 709.2px 711.8px,#f9ebe3 711.8px 714.3px,#faeae0 714.3px 716.8px,#f7f6f5 716.8px 719.3px,#f9eee8 719.3px 721.9px,#b7d8e8 721.9px 724.4px,#b1d5e7 724.4px 726.9px,#b2d5e7 726.9px 729.4px,#bddbea 729.4px 732px,#d2e5f0 732px 734.5px,#cfe4ef 734.5px 737px,#cae1ee 737px 739.5px,#c0dceb 739.5px 742.1px,#c7e0ed 742.1px 744.6px,#c6dfed 744.6px 747.1px,#c5dfed 747.1px 749.6px,#cde3ef 749.6px 752.2px,#e1edf3 752.2px 754.7px,#bfdceb 754.7px 757.2px,#a5cfe3 757.2px 759.7px,#bbdaea 759.7px 762.2px,#cce2ef 762.2px 764.8px,#e1ecf3 764.8px 767.3px,#b7d8e8 767.3px 769.8px,#b6d7e8 769.8px 772.3px,#afd4e6 772.3px 774.9px,#afd3e6 774.9px 777.4px,#92c5de 777.4px 779.9px,#8fc3dd 779.9px 782.4px,#a1cce2 782.4px 785px,#a4cee3 785px 787.5px,#b1d5e7 787.5px 790px,#b2d5e7 790px 792.5px,#97c7df 792.5px 795.1px,#bcdaea 795.1px 797.6px,#b3d6e7 797.6px 800.1px,#cbe2ee 800.1px 802.6px,#cae2ee 802.6px 805.2px,#abd2e5 805.2px 807.7px,#94c6df 807.7px 810.2px,#a4cee3 810.2px 812.7px,#b7d8e8 812.7px 815.3px,#dceaf2 815.3px 817.8px,#d3e6f0 817.8px 822.8px,#d5e7f1 822.8px 825.3px,#b9d9e9 825.3px 827.9px,#9ecbe1 827.9px 830.4px,#a0cce2 830.4px 832.9px,#c6dfed 832.9px 835.4px,#ddebf2 835.4px 838px,#dae9f2 838px 840.5px,#d4e6f0 840.5px 843px,#c5dfec 843px 845.5px,#cae1ee 845.5px 848.1px,#cee3ef 848.1px 850.6px,#d7e8f1 850.6px 853.1px,#cfe4f0 853.1px 855.6px,#bedbeb 855.6px 858.2px,#aad1e5 858.2px 860.7px,#94c6de 860.7px 863.2px,#a4cee3 863.2px 865.7px,#a3cee3 865.7px 868.3px,#b7d8e8 868.3px 870.8px,#a7d0e4 870.8px 873.3px,#bfdceb 873.3px 875.8px,#bedceb 875.8px 878.4px,#b6d7e8 878.4px 880.9px,#4393c3 880.9px 883.4px,#71b0d3 883.4px 885.9px,#68aad0 885.9px 888.4px,#4190c2 888.4px 891px,#408fc1 891px 893.5px,#3d8abf 893.5px 896px,#4190c1 896px 898.5px,#70afd2 898.5px 901.1px,#6fafd2 901.1px 903.6px,#67aacf 903.6px 906.1px,#408fc1 906.1px 908.6px,#3c89be 908.6px 911.2px,#307ab6 911.2px 913.7px,#327cb7 913.7px 916.2px,#2e77b5 916.2px 918.7px,#327cb7 918.7px 921.3px,#4190c1 921.3px 923.8px,#3d8cbf 923.8px 926.3px,#3f8ec0 926.3px 928.8px,#5aa1cb 928.8px 931.4px,#62a6cd 931.4px 933.9px,#85bdd9 933.9px 936.4px,#59a1cb 936.4px 938.9px,#68abd0 938.9px 941.5px,#61a6cd 941.5px 944px,#62a7ce 944px 946.5px,#559ec9 946.5px 949px,#5aa1cb 949px 951.5px,#69abd0 951.5px 954.1px,#67aacf 954.1px 956.6px,#6dadd1 956.6px 959.1px,#66a9cf 959.1px 961.6px,#3b89be 961.6px 964.2px,#4393c3 964.2px 966.7px,#5ea4cc 966.7px 969.2px,#549ec9 969.2px 971.7px,#61a6cd 971.7px 974.3px,#3884bb 974.3px 976.8px,#307ab6 976.8px 979.3px,#2064a9 979.3px 981.8px,#3f8ec0 981.8px 984.4px,#408fc1 984.4px 986.9px,#4594c4 986.9px 989.4px,#3f8dc0 989.4px 991.9px,#4393c3 991.9px 994.5px,#2a71b2 994.5px 997px,#317bb7 997px 999.5px,#3884bb 999.5px 1002px,#3c8abe 1002px 1004.6px,#4494c3 1004.6px 1007.1px,#4f9bc7 1007.1px 1009.6px,#3c8abe 1009.6px 1012.1px,#2c75b4 1012.1px 1014.6px,#2b74b3 1014.6px 1017.2px,#2c75b4 1017.2px 1019.7px,#2c74b3 1019.7px 1022.2px,#347fb9 1022.2px 1024.7px,#2f78b5 1024.7px 1027.3px,#3a87bd 1027.3px 1029.8px,#4191c2 1029.8px 1032.3px,#307ab6 1032.3px 1034.8px,#2971b2 1034.8px 1037.4px,#2c75b4 1037.4px 1039.9px,#2c74b3 1039.9px 1042.4px,#2369ad 1042.4px 1044.9px,#317bb7 1044.9px 1047.5px,#9ccae1 1047.5px 1050px,#97c7df 1050px 1052.5px,#c0dceb 1052.5px 1055px,#b9d9e9 1055px 1057.6px,#9fcce2 1057.6px 1062.6px,#95c7df 1062.6px 1065.1px,#afd4e6 1065.1px 1070.2px,#bedceb 1070.2px 1072.7px,#a5cfe3 1072.7px 1075.2px,#cfe4ef 1075.2px 1077.7px,#bfdceb 1077.7px 1080.3px,#c5dfed 1080.3px 1082.8px,#a2cde2 1082.8px 1085.3px,#a5cfe3 1085.3px 1087.8px,#b0d4e7 1087.8px 1090.4px,#b5d7e8 1090.4px 1092.9px,#a2cde3 1092.9px 1095.4px,#a1cce2 1095.4px 1097.9px,#99c8e0 1097.9px 1100.5px,#9fcce2 1100.5px 1103px,#90c4dd 1103px 1105.5px,#97c8df 1105.5px 1108px,#cae1ee 1108px 1110.6px,#cde3ef 1110.6px 1113.1px,#acd2e5 1113.1px 1115.6px,#cbe2ee 1115.6px 1118.1px,#a2cde3 1118.1px 1120.7px,#bbdaea 1120.7px 1123.2px,#c3deec 1123.2px 1125.7px,#bfdceb 1125.7px 1128.2px,#cee3ef 1128.2px 1130.8px,#ddebf2 1130.8px 1133.3px,#e6eff4 1133.3px 1135.8px,#d7e8f1 1135.8px 1138.3px,#d3e6f0 1138.3px 1140.8px,#b9d9e9 1140.8px 1143.4px,#99c8e0 1143.4px 1145.9px,#96c7df 1145.9px 1148.4px,#98c8e0 1148.4px 1150.9px,#a2cde2 1150.9px 1153.5px,#60a5cd 1153.5px 1156px,#7ab6d6 1156px 1158.5px,#fbe4d7 1158.5px 1161px,#fcdfce 1161px 1163.6px,#fbe5d8 1163.6px 1166.1px,#fcdfce 1166.1px 1168.6px,#fcd7c2 1168.6px 1171.1px,#fce0cf 1171.1px 1173.7px,#fae8de 1173.7px 1176.2px,#f9ede5 1176.2px 1178.7px,#fae7dc 1178.7px 1181.2px,#fddac6 1181.2px 1183.8px,#fddbc7 1183.8px 1186.3px,#fbceb6 1186.3px 1188.8px,#fdddcb 1188.8px 1191.3px,#fddcc9 1191.3px 1193.9px,#fbceb7 1193.9px 1196.4px,#fdddca 1196.4px 1198.9px,#fcd4be 1198.9px 1201.4px,#fac8af 1201.4px 1203.9px,#f8bea2 1203.9px 1206.5px,#fce2d2 1206.5px 1209px,#fbe3d6 1209px 1211.5px,#fae8de 1211.5px 1214px,#f0f4f6 1214px 1216.6px,#f8f3f0 1216.6px 1219.1px,#f9efea 1219.1px 1221.6px,#fae7dc 1221.6px 1224.1px,#fcd8c3 1224.1px 1226.7px,#fbe6db 1226.7px 1229.2px,#faebe2 1229.2px 1231.7px,#fce1d0 1231.7px 1234.2px,#fac8af 1234.2px 1236.8px,#fcd4bf 1236.8px 1239.3px,#fbe6da 1239.3px 1241.8px,#fbe5d9 1241.8px 1244.3px,#fcd7c2 1244.3px 1246.9px,#fdddcb 1246.9px 1249.4px,#fbe3d4 1249.4px 1251.9px,#fac8ae 1251.9px 1254.4px,#fcd4be 1254.4px 1257px,#fcdecc 1257px 1259.5px,#fddbc7 1259.5px 1262px)"></div>
<div style="position:absolute;left:293.8px;top:94px;width:24.7px;height:1262px;background:linear-gradient(#e98c6f 0px 2.5px,#f2a17f 2.5px 5px,#f6af8e 5px 7.6px,#f6b495 7.6px 10.1px,#f4a684 10.1px 12.6px,#f5ab8a 12.6px 17.7px,#f19f7e 17.7px 20.2px,#ea8f71 20.2px 22.7px,#ed9576 22.7px 25.2px,#ec9273 25.2px 27.8px,#f7b799 27.8px 30.3px,#f5ac8a 30.3px 32.8px,#f5ab89 32.8px 35.3px,#ef9a79 35.3px 37.9px,#f19f7e 37.9px 40.4px,#f19e7c 40.4px 42.9px,#e88a6d 42.9px 45.4px,#f4a885 45.4px 48px,#ec9475 48px 50.5px,#dc6d57 50.5px 53px,#e48166 53px 55.5px,#de725b 55.5px 58.1px,#e17a61 58.1px 60.6px,#e37d63 60.6px 63.1px,#eb9173 63.1px 65.6px,#f3a280 65.6px 68.1px,#e0765e 68.1px 70.7px,#dd6f59 70.7px 73.2px,#e98c6f 73.2px 75.7px,#f6af8f 75.7px 78.2px,#f2a17f 78.2px 80.8px,#f5ab8a 80.8px 83.3px,#f4a582 83.3px 85.8px,#db6b55 85.8px 88.3px,#e07860 88.3px 90.9px,#dd6f59 90.9px 93.4px,#da6954 93.4px 95.9px,#dc6e58 95.9px 98.4px,#de725b 98.4px 101px,#d86651 101px 103.5px,#e6866a 103.5px 106px,#dd7059 106px 108.5px,#ee9677 108.5px 111.1px,#ee9878 111.1px 113.6px,#f2a17f 113.6px 116.1px,#ee9677 116.1px 118.6px,#dc6e57 118.6px 121.2px,#e27b62 121.2px 123.7px,#db6b55 123.7px 126.2px,#db6c56 126.2px 128.7px,#d86450 128.7px 131.2px,#bf3338 131.2px 133.8px,#be3137 133.8px 136.3px,#be3036 136.3px 138.8px,#d7624f 138.8px 141.3px,#c6403e 141.3px 143.9px,#cd4f45 143.9px 146.4px,#d15749 146.4px 148.9px,#c7423f 148.9px 151.4px,#c03338 151.4px 154px,#cd4f45 154px 156.5px,#ca4842 156.5px 159px,#d65f4d 159px 161.5px,#e27b62 161.5px 164.1px,#d86551 164.1px 166.6px,#d96752 166.6px 169.1px,#d3594a 169.1px 171.6px,#d45d4b 171.6px 174.2px,#c33a3b 174.2px 176.7px,#e0775f 176.7px 179.2px,#df755d 179.2px 181.7px,#cd4f45 181.7px 184.3px,#b72230 184.3px 186.8px,#c13539 186.8px 189.3px,#c7433f 189.3px 191.8px,#dd7059 191.8px 194.3px,#ea8f71 194.3px 196.9px,#f5ab89 196.9px 199.4px,#ce5046 199.4px 201.9px,#d6604d 201.9px 204.4px,#d7624f 204.4px 207px,#cf5347 207px 209.5px,#d45d4b 209.5px 212px,#cf5246 212px 214.5px,#d35a4a 214.5px 217.1px,#d05548 217.1px 222.1px,#cd4f45 222.1px 224.6px,#d05447 224.6px 227.2px,#cc4c44 227.2px 229.7px,#cd4e45 229.7px 232.2px,#c53f3d 232.2px 234.7px,#c6403e 234.7px 237.3px,#c03539 237.3px 239.8px,#c33a3b 239.8px 242.3px,#bf3338 242.3px 244.8px,#ca4842 244.8px 247.4px,#d65f4d 247.4px 249.9px,#d55d4c 249.9px 252.4px,#d76350 252.4px 254.9px,#d7614e 254.9px 257.4px,#d86651 257.4px 260px,#d55e4c 260px 262.5px,#d7624f 262.5px 265px,#d55e4c 265px 267.5px,#d25949 267.5px 270.1px,#c84440 270.1px 272.6px,#ce5046 272.6px 275.1px,#cc4c43 275.1px 277.6px,#c94540 277.6px 280.2px,#ce4f45 280.2px 282.7px,#dc6e57 282.7px 285.2px,#d96853 285.2px 287.7px,#c6403e 287.7px 290.3px,#c2383a 290.3px 292.8px,#c3393b 292.8px 295.3px,#c43d3c 295.3px 297.8px,#c33b3b 297.8px 300.4px,#c2373a 300.4px 302.9px,#c13539 302.9px 305.4px,#c43b3c 305.4px 307.9px,#bf3237 307.9px 310.5px,#c03438 310.5px 313px,#c2383a 313px 315.5px,#c33a3b 315.5px 318px,#c2373a 318px 320.5px,#c53e3d 320.5px 323.1px,#c2383a 323.1px 325.6px,#c33b3b 325.6px 328.1px,#c03438 328.1px 330.6px,#c6403e 330.6px 333.2px,#c43c3c 333.2px 335.7px,#c3393b 335.7px 338.2px,#c33a3b 338.2px 340.7px,#c03538 340.7px 343.3px,#c13639 343.3px 345.8px,#c03338 345.8px 348.3px,#be2f36 348.3px 350.8px,#bf3237 350.8px 353.4px,#bd2e35 353.4px 355.9px,#bd2e36 355.9px 360.9px,#bb2b34 360.9px 363.5px,#be3036 363.5px 366px,#c13539 366px 368.5px,#be2f36 368.5px 371px,#bd2d35 371px 373.6px,#be3036 373.6px 376.1px,#c2383a 376.1px 378.6px,#c2393b 378.6px 381.1px,#c2373a 381.1px 383.6px,#bd2e36 383.6px 386.2px,#be3137 386.2px 388.7px,#bb2b34 388.7px 391.2px,#ba2832 391.2px 393.7px,#bd2e35 393.7px 396.3px,#bf3237 396.3px 401.3px,#bc2d35 401.3px 403.8px,#c13639 403.8px 406.4px,#bf3338 406.4px 408.9px,#bd2d35 408.9px 411.4px,#be2f36 411.4px 413.9px,#be3037 413.9px 416.5px,#bd2f36 416.5px 419px,#b31a2c 419px 421.5px,#b61f2e 421.5px 424px,#b2182b 424px 426.6px,#b72230 426.6px 429.1px,#b41c2d 429.1px 431.6px,#b82431 431.6px 434.1px,#b92632 434.1px 436.7px,#e68469 436.7px 439.2px,#de715a 439.2px 441.7px,#e17a61 441.7px 444.2px,#e0785f 444.2px 446.7px,#e98d6f 446.7px 449.3px,#eb9172 449.3px 451.8px,#ef9a79 451.8px 454.3px,#ec9374 454.3px 456.8px,#d7614e 456.8px 459.4px,#de725b 459.4px 461.9px,#e98d6f 461.9px 464.4px,#e68469 464.4px 466.9px,#dd6f59 466.9px 469.5px,#d7624f 469.5px 472px,#cc4b43 472px 474.5px,#d45d4b 474.5px 477px,#eb9173 477px 479.6px,#e48167 479.6px 484.6px,#da6a55 484.6px 487.1px,#d2594a 487.1px 489.7px,#e0765e 489.7px 492.2px,#e8896c 492.2px 494.7px,#de725b 494.7px 497.2px,#c6413e 497.2px 499.8px,#d55f4c 499.8px 502.3px,#dd6f59 502.3px 504.8px,#df745c 504.8px 507.3px,#df755d 507.3px 509.8px,#e37f65 509.8px 512.4px,#e17a61 512.4px 514.9px,#de735c 514.9px 517.4px,#d96853 517.4px 519.9px,#d96651 519.9px 522.5px,#539dc9 522.5px 525px,#4e9ac7 525px 527.5px,#2b74b3 527.5px 530px,#307ab6 530px 532.6px,#2e77b5 532.6px 535.1px,#276eb0 535.1px 537.6px,#509bc7 537.6px 540.1px,#78b5d5 540.1px 542.7px,#4190c2 542.7px 545.2px,#3e8cbf 545.2px 547.7px,#64a8ce 547.7px 550.2px,#62a7ce 550.2px 552.8px,#4f9ac7 552.8px 555.3px,#4b98c6 555.3px 557.8px,#96c7df 557.8px 560.3px,#7cb7d7 560.3px 562.9px,#6dadd1 562.9px 565.4px,#6fafd2 565.4px 567.9px,#4e9ac7 567.9px 570.4px,#3d8bbf 570.4px 572.9px,#4997c5 572.9px 575.5px,#569fca 575.5px 578px,#4090c1 578px 580.5px,#529dc8 580.5px 583px,#4c99c6 583px 585.6px,#4796c4 585.6px 588.1px,#69abd0 588.1px 590.6px,#4393c3 590.6px 593.1px,#6cadd1 593.1px 595.7px,#6aacd0 595.7px 598.2px,#92c5de 598.2px 600.7px,#bcdaea 600.7px 603.2px,#b9d9e9 603.2px 605.8px,#99c9e0 605.8px 608.3px,#78b4d5 608.3px 610.8px,#4f9bc7 610.8px 613.3px,#3884bc 613.3px 615.9px,#266caf 615.9px 618.4px,#2063a8 618.4px 620.9px,#3985bc 620.9px 623.4px,#3d8bbf 623.4px 626px,#3f8ec0 626px 628.5px,#4393c3 628.5px 631px,#62a6cd 631px 633.5px,#7cb7d6 633.5px 636px,#fbe3d5 636px 638.6px,#fae8dd 638.6px 641.1px,#f4f6f6 641.1px 643.6px,#f9ede6 643.6px 646.1px,#f8f3ef 646.1px 648.7px,#faeae0 648.7px 651.2px,#faeae1 651.2px 653.7px,#fcdfcd 653.7px 656.2px,#fdddca 656.2px 658.8px,#fce1d1 658.8px 661.3px,#fbe5d8 661.3px 663.8px,#fdddcb 663.8px 666.3px,#f7f6f4 666.3px 668.9px,#faebe2 668.9px 671.4px,#f7f6f5 671.4px 673.9px,#f7f6f6 673.9px 676.4px,#f8f1ec 676.4px 679px,#f7f6f6 679px 681.5px,#f6f7f7 681.5px 684px,#fae9de 684px 686.5px,#f8f1ed 686.5px 689.1px,#f7f6f5 689.1px 691.6px,#f9f0ea 691.6px 694.1px,#fbe6d9 694.1px 696.6px,#fbe6db 696.6px 699.1px,#fbe4d6 699.1px 704.2px,#fddac5 704.2px 706.7px,#fce2d2 706.7px 709.2px,#faebe2 709.2px 711.8px,#f8f2ee 711.8px 714.3px,#fbe5d9 714.3px 716.8px,#f9efe9 716.8px 719.3px,#fbe6d9 719.3px 721.9px,#c7e0ed 721.9px 724.4px,#aad1e5 724.4px 726.9px,#b1d5e7 726.9px 729.4px,#bfdceb 729.4px 732px,#d2e5f0 732px 734.5px,#cee4ef 734.5px 737px,#b9d9e9 737px 739.5px,#aed3e6 739.5px 742.1px,#acd2e5 742.1px 747.1px,#a9d1e5 747.1px 749.6px,#c1ddeb 749.6px 752.2px,#e0ecf3 752.2px 754.7px,#d0e4f0 754.7px 757.2px,#d3e6f0 757.2px 759.7px,#e5eff4 759.7px 762.2px,#edf2f5 762.2px 767.3px,#d3e6f0 767.3px 769.8px,#e2edf3 769.8px 774.9px,#cee3ef 774.9px 777.4px,#bddbea 777.4px 779.9px,#c8e0ed 779.9px 782.4px,#bbdaea 782.4px 785px,#a8d0e4 785px 787.5px,#93c6de 787.5px 790px,#b8d8e9 790px 792.5px,#b4d6e8 792.5px 795.1px,#c2ddec 795.1px 797.6px,#97c8df 797.6px 800.1px,#a9d0e4 800.1px 802.6px,#b1d5e7 802.6px 805.2px,#b2d5e7 805.2px 807.7px,#9ecbe2 807.7px 810.2px,#b8d8e9 810.2px 812.7px,#b4d6e8 812.7px 815.3px,#d1e5f0 815.3px 817.8px,#cfe4f0 817.8px 820.3px,#dae9f2 820.3px 822.8px,#dfecf3 822.8px 825.3px,#e3edf3 825.3px 827.9px,#c8e1ee 827.9px 830.4px,#bad9e9 830.4px 832.9px,#dae9f2 832.9px 835.4px,#e6eff4 835.4px 838px,#d6e7f1 838px 840.5px,#c9e1ee 840.5px 843px,#d6e7f1 843px 845.5px,#c2deec 845.5px 848.1px,#aed3e6 848.1px 850.6px,#cae1ee 850.6px 853.1px,#cee3ef 853.1px 855.6px,#d5e7f1 855.6px 858.2px,#bbdaea 858.2px 860.7px,#bddbea 860.7px 863.2px,#c1ddeb 863.2px 865.7px,#c3deec 865.7px 868.3px,#dceaf2 868.3px 870.8px,#cee4ef 870.8px 873.3px,#c0dceb 873.3px 875.8px,#d8e9f1 875.8px 878.4px,#d5e7f1 878.4px 880.9px,#5ca3cb 880.9px 883.4px,#82bbd8 883.4px 885.9px,#78b4d5 885.9px 888.4px,#4494c3 888.4px 891px,#3a87bd 891px 893.5px,#3783bb 893.5px 898.5px,#6bacd1 898.5px 901.1px,#62a7ce 901.1px 903.6px,#57a0ca 903.6px 906.1px,#5ca3cc 906.1px 908.6px,#3f8ec0 908.6px 911.2px,#4291c2 911.2px 913.7px,#3f8dc0 913.7px 916.2px,#3783bb 916.2px 918.7px,#4f9ac7 918.7px 921.3px,#4e9ac7 921.3px 923.8px,#61a6cd 923.8px 926.3px,#4997c5 926.3px 928.8px,#559ec9 928.8px 931.4px,#4796c5 931.4px 933.9px,#80bad8 933.9px 936.4px,#75b2d4 936.4px 938.9px,#59a1ca 938.9px 941.5px,#4e9ac7 941.5px 944px,#5ba2cb 944px 946.5px,#5aa2cb 946.5px 949px,#4695c4 949px 951.5px,#559ec9 951.5px 954.1px,#3f8ec0 954.1px 956.6px,#4f9bc7 956.6px 959.1px,#4e9ac7 959.1px 961.6px,#4494c3 961.6px 964.2px,#3f8dc0 964.2px 966.7px,#559fc9 966.7px 969.2px,#65a8ce 969.2px 971.7px,#62a7ce 971.7px 974.3px,#3c89be 974.3px 976.8px,#408fc1 976.8px 979.3px,#317bb7 979.3px 981.8px,#3b88bd 981.8px 984.4px,#3f8ec1 984.4px 986.9px,#3985bc 986.9px 989.4px,#4f9ac7 989.4px 991.9px,#61a6cd 991.9px 994.5px,#3b89be 994.5px 997px,#3d8bbf 997px 999.5px,#327cb7 999.5px 1002px,#3581ba 1002px 1004.6px,#3c89be 1004.6px 1007.1px,#4393c3 1007.1px 1009.6px,#3b88bd 1009.6px 1012.1px,#2267ad 1012.1px 1014.6px,#246aae 1014.6px 1017.2px,#256baf 1017.2px 1019.7px,#3986bc 1019.7px 1022.2px,#317bb7 1022.2px 1024.7px,#2f78b5 1024.7px 1027.3px,#3682bb 1027.3px 1029.8px,#4292c3 1029.8px 1032.3px,#3986bc 1032.3px 1034.8px,#347fb9 1034.8px 1037.4px,#3986bc 1037.4px 1039.9px,#3c8abe 1039.9px 1042.4px,#3784bb 1042.4px 1044.9px,#4090c1 1044.9px 1047.5px,#c6e0ed 1047.5px 1050px,#c8e0ed 1050px 1052.5px,#c7e0ed 1052.5px 1055px,#b7d8e8 1055px 1057.6px,#a7d0e4 1057.6px 1060.1px,#a4cee3 1060.1px 1065.1px,#b0d4e7 1065.1px 1067.7px,#b9d9e9 1067.7px 1070.2px,#acd2e5 1070.2px 1072.7px,#98c8e0 1072.7px 1075.2px,#bbdaea 1075.2px 1077.7px,#a0cce2 1077.7px 1080.3px,#c1ddec 1080.3px 1082.8px,#bad9e9 1082.8px 1085.3px,#c4deec 1085.3px 1087.8px,#c6dfed 1087.8px 1090.4px,#deebf2 1090.4px 1092.9px,#cbe2ee 1092.9px 1095.4px,#c2deec 1095.4px 1097.9px,#afd4e6 1097.9px 1100.5px,#a0cce2 1100.5px 1103px,#93c5de 1103px 1105.5px,#a0cce2 1105.5px 1108px,#c0ddeb 1108px 1110.6px,#add3e6 1110.6px 1113.1px,#95c7df 1113.1px 1115.6px,#97c7df 1115.6px 1118.1px,#a9d1e5 1118.1px 1120.7px,#aad1e5 1120.7px 1123.2px,#c5dfec 1123.2px 1125.7px,#d0e4f0 1125.7px 1128.2px,#a5cfe3 1128.2px 1130.8px,#b4d6e8 1130.8px 1133.3px,#c2ddec 1133.3px 1135.8px,#b0d4e7 1135.8px 1138.3px,#8cc1dc 1138.3px 1140.8px,#aad1e5 1140.8px 1143.4px,#a2cde3 1143.4px 1145.9px,#98c8e0 1145.9px 1148.4px,#76b4d5 1148.4px 1150.9px,#7ab6d6 1150.9px 1153.5px,#66a9cf 1153.5px 1156px,#8bc1dc 1156px 1158.5px,#f9ede6 1158.5px 1161px,#f9ece4 1161px 1163.6px,#f9eee7 1163.6px 1166.1px,#fbe3d5 1166.1px 1168.6px,#fce0cf 1168.6px 1171.1px,#fce2d2 1171.1px 1173.7px,#f9eee7 1173.7px 1176.2px,#fbe6da 1176.2px 1178.7px,#fbe3d5 1178.7px 1181.2px,#fdddcb 1181.2px 1183.8px,#fddcc9 1183.8px 1186.3px,#fddbc7 1186.3px 1188.8px,#fbe3d4 1188.8px 1191.3px,#fbe6db 1191.3px 1193.9px,#fce2d3 1193.9px 1196.4px,#fbe2d4 1196.4px 1198.9px,#fddcc9 1198.9px 1201.4px,#fcd4be 1201.4px 1203.9px,#fcd3bd 1203.9px 1206.5px,#f9ece4 1206.5px 1209px,#f8f1ed 1209px 1211.5px,#faeae1 1211.5px 1214px,#f8f1ed 1214px 1216.6px,#f9efe9 1216.6px 1219.1px,#f8f4f1 1219.1px 1221.6px,#faebe2 1221.6px 1224.1px,#faeae1 1224.1px 1226.7px,#f7f6f5 1226.7px 1229.2px,#f8f4f1 1229.2px 1231.7px,#fce1d2 1231.7px 1234.2px,#f8bea2 1234.2px 1236.8px,#fdddcb 1236.8px 1239.3px,#fbe2d4 1239.3px 1241.8px,#f9efea 1241.8px 1244.3px,#fac9b0 1244.3px 1246.9px,#fac8ae 1246.9px 1249.4px,#fcd4bf 1249.4px 1251.9px,#f8c0a4 1251.9px 1254.4px,#fcd5c0 1254.4px 1257px,#fdddca 1257px 1259.5px,#fcdecc 1259.5px 1262px)"></div>
<div style="position:absolute;left:318.2px;top:94px;width:24.7px;height:1262px;background:linear-gradient(#f7b697 0px 2.5px,#fbcdb5 2.5px 5px,#fac7ad 5px 7.6px,#f7b89a 7.6px 12.6px,#f8bda1 12.6px 15.1px,#f5ac8b 15.1px 17.7px,#f2a17f 17.7px 20.2px,#f09c7b 20.2px 22.7px,#f4a583 22.7px 25.2px,#f09c7b 25.2px 27.8px,#f4a583 27.8px 30.3px,#f4a481 30.3px 32.8px,#f5ac8b 32.8px 35.3px,#f7b697 35.3px 37.9px,#f7b799 37.9px 40.4px,#f5a987 40.4px 42.9px,#f3a381 42.9px 45.4px,#f7b698 45.4px 48px,#f5ae8d 48px 50.5px,#f7b698 50.5px 53px,#ec9374 53px 55.5px,#e17860 55.5px 58.1px,#f4a683 58.1px 60.6px,#f8ba9d 60.6px 63.1px,#fac8af 63.1px 65.6px,#f9c5ab 65.6px 68.1px,#f8bfa4 68.1px 70.7px,#f6af8f 70.7px 73.2px,#f8ba9d 73.2px 75.7px,#f9c5ab 75.7px 78.2px,#f7b495 78.2px 80.8px,#f7b596 80.8px 83.3px,#f8bfa3 83.3px 85.8px,#d6e8f1 85.8px 88.3px,#f2f4f6 88.3px 90.9px,#e9f0f4 90.9px 93.4px,#f0f4f6 93.4px 95.9px,#e0ecf3 95.9px 98.4px,#e6eff4 98.4px 101px,#f5f6f7 101px 103.5px,#f2f5f6 103.5px 106px,#f5f6f7 106px 108.5px,#fbe4d6 108.5px 111.1px,#fbe6da 111.1px 113.6px,#fae7dc 113.6px 116.1px,#f8f0ec 116.1px 118.6px,#f6f7f7 118.6px 121.2px,#f1f4f6 121.2px 123.7px,#faeae1 123.7px 126.2px,#f9f0ea 126.2px 128.7px,#faebe2 128.7px 131.2px,#fae8dd 131.2px 133.8px,#f9eee7 133.8px 136.3px,#fbe3d5 136.3px 138.8px,#f8f1ed 138.8px 141.3px,#f4f6f7 141.3px 143.9px,#f6f6f7 143.9px 146.4px,#f7f6f5 146.4px 148.9px,#e6eff4 148.9px 151.4px,#9bcae1 151.4px 154px,#aed3e6 154px 156.5px,#b8d8e9 156.5px 159px,#b5d7e8 159px 161.5px,#bfdceb 161.5px 164.1px,#cae1ee 164.1px 166.6px,#bcdaea 166.6px 169.1px,#ddebf2 169.1px 171.6px,#d1e5f0 171.6px 174.2px,#c9e1ee 174.2px 176.7px,#8fc3dd 176.7px 179.2px,#aed3e6 179.2px 181.7px,#b4d6e8 181.7px 184.3px,#c8e0ed 184.3px 186.8px,#cce3ef 186.8px 189.3px,#add3e6 189.3px 191.8px,#aad1e5 191.8px 194.3px,#69abd0 194.3px 196.9px,#6aacd0 196.9px 199.4px,#5fa5cd 199.4px 201.9px,#64a8ce 201.9px 204.4px,#78b4d5 204.4px 207px,#6eaed2 207px 209.5px,#6cadd1 209.5px 212px,#68aad0 212px 214.5px,#81bad8 214.5px 217.1px,#6eaed2 217.1px 219.6px,#7fb9d7 219.6px 222.1px,#78b5d5 222.1px 224.6px,#79b5d5 224.6px 227.2px,#78b5d5 227.2px 229.7px,#77b4d5 229.7px 232.2px,#8bc0db 232.2px 234.7px,#85bdda 234.7px 237.3px,#75b2d4 237.3px 239.8px,#6cadd1 239.8px 242.3px,#76b3d4 242.3px 244.8px,#77b4d5 244.8px 247.4px,#76b3d4 247.4px 249.9px,#6dadd1 249.9px 252.4px,#66a9cf 252.4px 254.9px,#7cb7d7 254.9px 257.4px,#569fc9 257.4px 260px,#59a1ca 260px 262.5px,#569fca 262.5px 265px,#6dadd1 265px 267.5px,#5ea4cc 267.5px 270.1px,#6aacd0 270.1px 272.6px,#569fc9 272.6px 275.1px,#59a1ca 275.1px 277.6px,#58a0ca 277.6px 280.2px,#71b0d3 280.2px 282.7px,#66a9cf 282.7px 285.2px,#62a7ce 285.2px 287.7px,#93c6de 287.7px 290.3px,#99c8e0 290.3px 292.8px,#9dcae1 292.8px 295.3px,#9ac9e0 295.3px 297.8px,#96c7df 297.8px 300.4px,#8ec3dd 300.4px 302.9px,#94c6df 302.9px 305.4px,#99c8e0 305.4px 307.9px,#9bcae1 307.9px 310.5px,#9ccae1 310.5px 313px,#9ac9e0 313px 318px,#99c9e0 318px 320.5px,#9ac9e0 320.5px 323.1px,#9ecbe1 323.1px 325.6px,#9ccae1 325.6px 328.1px,#94c6df 328.1px 330.6px,#9ccae1 330.6px 333.2px,#9bcae1 333.2px 335.7px,#94c6df 335.7px 338.2px,#94c6de 338.2px 340.7px,#94c6df 340.7px 343.3px,#95c7df 343.3px 345.8px,#9bcae1 345.8px 348.3px,#93c5de 348.3px 350.8px,#8ec2dc 350.8px 353.4px,#93c5de 353.4px 355.9px,#94c6de 355.9px 358.4px,#95c6df 358.4px 360.9px,#99c9e0 360.9px 363.5px,#9dcbe1 363.5px 366px,#9ac9e0 366px 368.5px,#91c4de 368.5px 373.6px,#92c5de 373.6px 376.1px,#94c6de 376.1px 378.6px,#95c6df 378.6px 381.1px,#94c6df 381.1px 383.6px,#95c6df 383.6px 386.2px,#94c6df 386.2px 388.7px,#9bc9e0 388.7px 391.2px,#96c7df 391.2px 393.7px,#9dcbe1 393.7px 396.3px,#98c8e0 396.3px 398.8px,#97c8df 398.8px 401.3px,#97c8e0 401.3px 403.8px,#98c8e0 403.8px 408.9px,#97c7df 408.9px 411.4px,#9dcbe1 411.4px 413.9px,#9ccae1 413.9px 416.5px,#9fcce2 416.5px 419px,#81bbd8 419px 421.5px,#80bad8 421.5px 424px,#7ab6d6 424px 429.1px,#79b5d5 429.1px 431.6px,#6daed1 431.6px 434.1px,#72b1d3 434.1px 436.7px,#58a0ca 436.7px 439.2px,#64a8ce 439.2px 441.7px,#7db8d7 441.7px 444.2px,#8ac0db 444.2px 446.7px,#61a6cd 446.7px 449.3px,#5ba2cb 449.3px 451.8px,#569fc9 451.8px 454.3px,#307ab6 454.3px 456.8px,#3580b9 456.8px 459.4px,#3681ba 459.4px 461.9px,#266caf 461.9px 464.4px,#3884bc 464.4px 466.9px,#2d76b4 466.9px 469.5px,#3581ba 469.5px 472px,#337eb8 472px 474.5px,#2369ae 474.5px 477px,#2a71b2 477px 479.6px,#2d76b4 479.6px 482.1px,#2064a9 482.1px 484.6px,#2b73b3 484.6px 487.1px,#529cc8 487.1px 489.7px,#5ea4cc 489.7px 492.2px,#77b4d5 492.2px 494.7px,#69abd0 494.7px 497.2px,#86beda 497.2px 499.8px,#80bad8 499.8px 502.3px,#5ea4cc 502.3px 504.8px,#4e9ac7 504.8px 507.3px,#3986bc 507.3px 509.8px,#4595c4 509.8px 512.4px,#3884bb 512.4px 514.9px,#3c8abe 514.9px 517.4px,#3e8dc0 517.4px 519.9px,#4595c4 519.9px 522.5px,#e0ecf3 522.5px 525px,#cee3ef 525px 527.5px,#dae9f2 527.5px 530px,#e4eef3 530px 532.6px,#e4eef4 532.6px 535.1px,#e5eff4 535.1px 537.6px,#edf2f5 537.6px 540.1px,#eff3f5 540.1px 542.7px,#e8f0f4 542.7px 545.2px,#f5f6f7 545.2px 547.7px,#d6e7f1 547.7px 550.2px,#f6f7f7 550.2px 552.8px,#e8f0f4 552.8px 555.3px,#e4eef4 555.3px 557.8px,#e6eff4 557.8px 560.3px,#eaf1f5 560.3px 562.9px,#f8f0ec 562.9px 565.4px,#edf2f5 565.4px 567.9px,#deebf2 567.9px 570.4px,#dfecf3 570.4px 572.9px,#eef3f5 572.9px 575.5px,#f1f4f6 575.5px 578px,#f4f6f7 578px 580.5px,#eef3f5 580.5px 583px,#e3edf3 583px 585.6px,#eaf1f5 585.6px 590.6px,#e3eef3 590.6px 593.1px,#e8f0f4 593.1px 595.7px,#f3f5f6 595.7px 598.2px,#deebf2 598.2px 600.7px,#e0ecf3 600.7px 603.2px,#dceaf2 603.2px 605.8px,#e0ecf3 605.8px 608.3px,#c5dfed 608.3px 610.8px,#b8d8e9 610.8px 613.3px,#9dcbe1 613.3px 615.9px,#aed3e6 615.9px 618.4px,#d1e5f0 618.4px 620.9px,#eaf1f5 620.9px 623.4px,#f8f1ed 623.4px 626px,#ecf2f5 626px 628.5px,#e4eef3 628.5px 631px,#d9e9f1 631px 633.5px,#e9f0f4 633.5px 636px,#2d76b4 636px 638.6px,#256baf 638.6px 641.1px,#2c75b4 641.1px 643.6px,#3884bb 643.6px 646.1px,#5ea4cc 646.1px 648.7px,#4292c2 648.7px 651.2px,#4f9bc7 651.2px 653.7px,#408fc1 653.7px 656.2px,#4997c5 656.2px 658.8px,#4796c4 658.8px 661.3px,#3a87bd 661.3px 663.8px,#6eaed2 663.8px 666.3px,#76b3d4 666.3px 668.9px,#539dc9 668.9px 671.4px,#69abd0 671.4px 673.9px,#57a0ca 673.9px 676.4px,#539dc9 676.4px 679px,#4392c3 679px 681.5px,#3783bb 681.5px 684px,#519cc8 684px 686.5px,#3f8ec0 686.5px 689.1px,#408fc1 689.1px 691.6px,#4a97c5 691.6px 694.1px,#529cc8 694.1px 696.6px,#74b2d4 696.6px 699.1px,#66a9cf 699.1px 701.7px,#7ab6d6 701.7px 704.2px,#a3cee3 704.2px 706.7px,#8dc2dc 706.7px 709.2px,#8cc1dc 709.2px 711.8px,#549dc9 711.8px 714.3px,#77b4d5 714.3px 716.8px,#89bfdb 716.8px 719.3px,#73b2d4 719.3px 721.9px,#96c7df 721.9px 724.4px,#8ac0db 724.4px 726.9px,#94c6de 726.9px 729.4px,#86bdda 729.4px 732px,#6bacd1 732px 734.5px,#7db8d7 734.5px 737px,#64a8ce 737px 739.5px,#539dc9 739.5px 742.1px,#509cc8 742.1px 744.6px,#559ec9 744.6px 747.1px,#4190c2 747.1px 749.6px,#5fa5cd 749.6px 752.2px,#4292c2 752.2px 754.7px,#549ec9 754.7px 757.2px,#6aacd0 757.2px 759.7px,#4291c2 759.7px 762.2px,#59a1ca 762.2px 764.8px,#3d8bbf 764.8px 767.3px,#4e9ac7 767.3px 769.8px,#3885bc 769.8px 772.3px,#3e8dc0 772.3px 774.9px,#6bacd1 774.9px 777.4px,#88beda 777.4px 779.9px,#8cc1dc 779.9px 782.4px,#68abd0 782.4px 785px,#6bacd1 785px 787.5px,#519cc8 787.5px 790px,#71b0d3 790px 792.5px,#6eaed2 792.5px 795.1px,#7cb7d6 795.1px 797.6px,#7db8d7 797.6px 800.1px,#6eaed2 800.1px 802.6px,#78b5d5 802.6px 805.2px,#98c8e0 805.2px 807.7px,#85bdda 807.7px 810.2px,#b7d8e9 810.2px 812.7px,#89bfdb 812.7px 815.3px,#76b3d4 815.3px 817.8px,#60a6cd 817.8px 820.3px,#65a8cf 820.3px 822.8px,#4b98c6 822.8px 825.3px,#6cadd1 825.3px 827.9px,#4291c2 827.9px 830.4px,#3986bc 830.4px 832.9px,#3f8dc0 832.9px 835.4px,#4393c3 835.4px 838px,#75b3d4 838px 840.5px,#5fa5cd 840.5px 843px,#4494c3 843px 845.5px,#70afd2 845.5px 848.1px,#73b1d3 848.1px 850.6px,#9dcbe1 850.6px 853.1px,#6eaed2 853.1px 855.6px,#7cb7d7 855.6px 858.2px,#64a8ce 858.2px 860.7px,#6fafd2 860.7px 863.2px,#6daed2 863.2px 865.7px,#6eafd2 865.7px 868.3px,#66a9cf 868.3px 870.8px,#4d9ac7 870.8px 873.3px,#6bacd1 873.3px 875.8px,#7cb7d7 875.8px 878.4px,#9dcbe1 878.4px 880.9px,#cf5146 880.9px 883.4px,#d35b4b 883.4px 885.9px,#dd6f59 885.9px 888.4px,#d55d4c 888.4px 891px,#cd4e44 891px 893.5px,#c7423f 893.5px 896px,#d96752 896px 898.5px,#d45c4b 898.5px 901.1px,#d55e4c 901.1px 903.6px,#d7624e 903.6px 906.1px,#d6604d 906.1px 908.6px,#ce5045 908.6px 911.2px,#d96752 911.2px 913.7px,#e0765e 913.7px 916.2px,#e37e64 916.2px 918.7px,#eb9173 918.7px 921.3px,#e88a6e 921.3px 923.8px,#e7886c 923.8px 926.3px,#e7876b 926.3px 928.8px,#e27c63 928.8px 931.4px,#e7886b 931.4px 933.9px,#df745c 933.9px 936.4px,#dc6e57 936.4px 938.9px,#db6c56 938.9px 941.5px,#e17960 941.5px 944px,#dd715a 944px 946.5px,#d96853 946.5px 949px,#e27c62 949px 951.5px,#ed9475 951.5px 954.1px,#ea8e71 954.1px 956.6px,#d65f4d 956.6px 959.1px,#dc6f58 959.1px 961.6px,#d7624e 961.6px 964.2px,#da6954 964.2px 966.7px,#dd7059 966.7px 969.2px,#da6954 969.2px 971.7px,#de735c 971.7px 974.3px,#e98c6f 974.3px 976.8px,#ec9274 976.8px 979.3px,#ef9979 979.3px 981.8px,#ee9777 981.8px 984.4px,#e98b6e 984.4px 986.9px,#e0775f 986.9px 989.4px,#dd715a 989.4px 991.9px,#f4a582 991.9px 994.5px,#f7b597 994.5px 997px,#f8bea2 997px 999.5px,#f5a987 999.5px 1002px,#ef9979 1002px 1004.6px,#f4a785 1004.6px 1007.1px,#e7876b 1007.1px 1009.6px,#ed9475 1009.6px 1012.1px,#e68569 1012.1px 1014.6px,#e98b6e 1014.6px 1017.2px,#f6af8f 1017.2px 1019.7px,#ec9374 1019.7px 1022.2px,#e68469 1022.2px 1024.7px,#e27d63 1024.7px 1027.3px,#db6b55 1027.3px 1029.8px,#d86551 1029.8px 1032.3px,#db6c57 1032.3px 1034.8px,#e48166 1034.8px 1037.4px,#f2a17f 1037.4px 1039.9px,#f5a987 1039.9px 1042.4px,#f7b495 1042.4px 1044.9px,#e47f65 1044.9px 1047.5px,#c6403e 1047.5px 1050px,#c6413e 1050px 1052.5px,#cc4d44 1052.5px 1055px,#c8433f 1055px 1057.6px,#cf5246 1057.6px 1060.1px,#dc6e57 1060.1px 1062.6px,#d3594a 1062.6px 1065.1px,#ce5146 1065.1px 1067.7px,#ec9273 1067.7px 1070.2px,#e58368 1070.2px 1072.7px,#c6403e 1072.7px 1075.2px,#be3137 1075.2px 1077.7px,#c43b3c 1077.7px 1080.3px,#ca4942 1080.3px 1082.8px,#c84440 1082.8px 1085.3px,#d35a4a 1085.3px 1087.8px,#cb4942 1087.8px 1090.4px,#c53e3d 1090.4px 1092.9px,#da6853 1092.9px 1095.4px,#e68569 1095.4px 1097.9px,#ea8f71 1097.9px 1100.5px,#d96753 1100.5px 1103px,#d7614e 1103px 1105.5px,#d86450 1105.5px 1108px,#d7614e 1108px 1110.6px,#e0785f 1110.6px 1113.1px,#cb4942 1113.1px 1115.6px,#c13739 1115.6px 1118.1px,#c3393b 1118.1px 1120.7px,#b51e2e 1120.7px 1123.2px,#bb2b34 1123.2px 1125.7px,#c33a3b 1125.7px 1128.2px,#d65f4d 1128.2px 1130.8px,#d45d4b 1130.8px 1133.3px,#c94641 1133.3px 1135.8px,#d96652 1135.8px 1138.3px,#d25749 1138.3px 1140.8px,#d6604d 1140.8px 1143.4px,#cb4a43 1143.4px 1145.9px,#d7634f 1145.9px 1148.4px,#d15548 1148.4px 1150.9px,#cf5246 1150.9px 1153.5px,#c33b3b 1153.5px 1156px,#d05548 1156px 1158.5px,#e27d63 1158.5px 1161px,#d96652 1161px 1163.6px,#de725b 1163.6px 1166.1px,#db6a55 1166.1px 1168.6px,#de745c 1168.6px 1171.1px,#ce5046 1171.1px 1173.7px,#cc4d44 1173.7px 1176.2px,#c94641 1176.2px 1178.7px,#cc4c43 1178.7px 1181.2px,#c7423f 1181.2px 1183.8px,#d55e4c 1183.8px 1186.3px,#ed9475 1186.3px 1188.8px,#e27c63 1188.8px 1191.3px,#f19e7d 1191.3px 1193.9px,#ef9a7a 1193.9px 1196.4px,#f4a885 1196.4px 1198.9px,#f5aa88 1198.9px 1201.4px,#ea8d70 1201.4px 1203.9px,#ee9778 1203.9px 1206.5px,#e68569 1206.5px 1209px,#f09d7c 1209px 1211.5px,#db6b55 1211.5px 1214px,#ef9979 1214px 1216.6px,#e0765e 1216.6px 1219.1px,#d7624f 1219.1px 1221.6px,#de725b 1221.6px 1224.1px,#f2a17f 1224.1px 1226.7px,#f09c7b 1226.7px 1229.2px,#e58368 1229.2px 1231.7px,#f2a07e 1231.7px 1234.2px,#f4a886 1234.2px 1236.8px,#eb9173 1236.8px 1239.3px,#e37e64 1239.3px 1241.8px,#e58368 1241.8px 1244.3px,#e37d64 1244.3px 1246.9px,#e17a61 1246.9px 1249.4px,#e17960 1249.4px 1251.9px,#df745c 1251.9px 1254.4px,#e48166 1254.4px 1257px,#ef9a7a 1257px 1259.5px,#ed9576 1259.5px 1262px)"></div>
<div style="position:absolute;left:342.6px;top:94px;width:24.7px;height:1262px;background:linear-gradient(#f9c1a6 0px 2.5px,#f8bc9f 2.5px 5px,#f7b99b 5px 7.6px,#f7b799 7.6px 10.1px,#faccb4 10.1px 12.6px,#f5ad8c 12.6px 15.1px,#f4a582 15.1px 17.7px,#f6b292 17.7px 20.2px,#f09c7b 20.2px 22.7px,#f4a582 22.7px 25.2px,#e98c6e 25.2px 27.8px,#ea8d70 27.8px 30.3px,#ee9878 30.3px 32.8px,#f09b7a 32.8px 35.3px,#f5ab89 35.3px 37.9px,#f4a684 37.9px 40.4px,#f19d7c 40.4px 42.9px,#f09b7b 42.9px 45.4px,#fac9b0 45.4px 48px,#f8bda1 48px 50.5px,#f7b799 50.5px 53px,#f3a380 53px 55.5px,#f4a481 55.5px 58.1px,#f6ae8e 58.1px 60.6px,#f8bb9f 60.6px 63.1px,#f7b597 63.1px 65.6px,#f8bea2 65.6px 68.1px,#fac6ac 68.1px 70.7px,#f6b495 70.7px 73.2px,#f9c6ac 73.2px 78.2px,#f9c5ab 78.2px 80.8px,#facbb2 80.8px 83.3px,#fbcfb8 83.3px 85.8px,#e3eef3 85.8px 88.3px,#fbe5d9 88.3px 90.9px,#fbe5d8 90.9px 93.4px,#fbceb7 93.4px 95.9px,#f9ece4 95.9px 98.4px,#f8f1ec 98.4px 101px,#f9eee7 101px 103.5px,#f7f5f4 103.5px 106px,#f9eee8 106px 108.5px,#fae8de 108.5px 111.1px,#fddcc8 111.1px 113.6px,#fcd7c2 113.6px 116.1px,#f9ece5 116.1px 118.6px,#f9ede6 118.6px 121.2px,#f9ece4 121.2px 123.7px,#fcd2bc 123.7px 126.2px,#fbe5d8 126.2px 128.7px,#f9ede5 128.7px 131.2px,#fbe5d8 131.2px 133.8px,#f9ece4 133.8px 136.3px,#fbe5d8 136.3px 138.8px,#f8f3f0 138.8px 141.3px,#e7eff4 141.3px 143.9px,#f9eee8 143.9px 146.4px,#f9efe9 146.4px 148.9px,#f8f5f3 148.9px 151.4px,#9dcbe1 151.4px 154px,#b9d9e9 154px 156.5px,#d9e9f1 156.5px 159px,#d2e6f0 159px 161.5px,#bbdaea 161.5px 164.1px,#d0e4f0 164.1px 166.6px,#dfecf3 166.6px 169.1px,#ecf2f5 169.1px 171.6px,#bcdaea 171.6px 174.2px,#c3deec 174.2px 176.7px,#a2cde3 176.7px 179.2px,#b3d6e7 179.2px 181.7px,#c5dfec 181.7px 184.3px,#cce2ef 184.3px 186.8px,#d7e8f1 186.8px 189.3px,#c1ddeb 189.3px 191.8px,#c2ddec 191.8px 194.3px,#71b0d3 194.3px 196.9px,#96c7df 196.9px 199.4px,#559fc9 199.4px 201.9px,#69abd0 201.9px 204.4px,#6eaed2 204.4px 207px,#6dadd1 207px 209.5px,#69abd0 209.5px 212px,#6cadd1 212px 214.5px,#8bc0dc 214.5px 217.1px,#89c0db 217.1px 219.6px,#82bbd8 219.6px 222.1px,#8bc1dc 222.1px 224.6px,#76b3d4 224.6px 227.2px,#77b4d5 227.2px 232.2px,#7bb7d6 232.2px 234.7px,#8bc0dc 234.7px 237.3px,#82bbd9 237.3px 239.8px,#7fb9d7 239.8px 242.3px,#77b4d5 242.3px 244.8px,#81bad8 244.8px 247.4px,#82bbd8 247.4px 249.9px,#72b1d3 249.9px 252.4px,#6eaed2 252.4px 254.9px,#7bb7d6 254.9px 257.4px,#70b0d2 257.4px 260px,#6dadd1 260px 262.5px,#72b1d3 262.5px 265px,#73b1d3 265px 267.5px,#71b0d3 267.5px 270.1px,#6cadd1 270.1px 272.6px,#58a0ca 272.6px 275.1px,#5da3cc 275.1px 277.6px,#5aa2cb 277.6px 280.2px,#5ea4cc 280.2px 282.7px,#67aacf 282.7px 285.2px,#5fa5cd 285.2px 287.7px,#8fc3dd 287.7px 290.3px,#93c5de 290.3px 292.8px,#94c6df 292.8px 295.3px,#94c6de 295.3px 297.8px,#91c5de 297.8px 300.4px,#8dc2dc 300.4px 302.9px,#96c7df 302.9px 305.4px,#9bcae1 305.4px 307.9px,#9ac9e0 307.9px 310.5px,#99c9e0 310.5px 313px,#9bc9e1 313px 315.5px,#9bcae1 315.5px 318px,#9dcbe1 318px 320.5px,#a1cde2 320.5px 325.6px,#9dcbe1 325.6px 328.1px,#98c8e0 328.1px 333.2px,#9dcae1 333.2px 335.7px,#95c6df 335.7px 338.2px,#96c7df 338.2px 340.7px,#99c9e0 340.7px 343.3px,#98c8e0 343.3px 348.3px,#95c7df 348.3px 350.8px,#93c6de 350.8px 353.4px,#92c5de 353.4px 355.9px,#8dc2dc 355.9px 358.4px,#8cc1dc 358.4px 360.9px,#8fc3dd 360.9px 363.5px,#94c6de 363.5px 366px,#93c6de 366px 368.5px,#85bdda 368.5px 371px,#8bc1dc 371px 373.6px,#8ac0db 373.6px 376.1px,#91c4de 376.1px 378.6px,#93c5de 378.6px 381.1px,#90c4dd 381.1px 383.6px,#93c6de 383.6px 386.2px,#95c6df 386.2px 388.7px,#98c8e0 388.7px 391.2px,#93c5de 391.2px 393.7px,#9bcae1 393.7px 396.3px,#98c8e0 396.3px 398.8px,#9bcae1 398.8px 401.3px,#98c8e0 401.3px 403.8px,#97c8e0 403.8px 406.4px,#9ecbe1 406.4px 408.9px,#9bc9e0 408.9px 411.4px,#9ccae1 411.4px 413.9px,#9ecbe2 413.9px 416.5px,#9ecbe1 416.5px 419px,#7ab6d6 419px 421.5px,#64a8ce 421.5px 424px,#58a0ca 424px 426.6px,#5da4cc 426.6px 429.1px,#58a0ca 429.1px 431.6px,#5ba2cb 431.6px 434.1px,#68aad0 434.1px 436.7px,#5aa2cb 436.7px 439.2px,#4190c2 439.2px 441.7px,#60a5cd 441.7px 444.2px,#59a1cb 444.2px 446.7px,#4e9ac7 446.7px 449.3px,#569fc9 449.3px 451.8px,#4b98c6 451.8px 454.3px,#2f79b6 454.3px 456.8px,#327db8 456.8px 459.4px,#3985bc 459.4px 461.9px,#3b89be 461.9px 464.4px,#3580b9 464.4px 466.9px,#1c5c9e 466.9px 469.5px,#1e5fa3 469.5px 472px,#2065aa 472px 474.5px,#2268ad 474.5px 477px,#256caf 477px 479.6px,#2a72b2 479.6px 482.1px,#3580b9 482.1px 484.6px,#3b89be 484.6px 487.1px,#72b1d3 487.1px 489.7px,#94c6de 489.7px 492.2px,#92c5de 492.2px 494.7px,#7cb7d6 494.7px 497.2px,#73b1d3 497.2px 499.8px,#6daed1 499.8px 502.3px,#5aa2cb 502.3px 504.8px,#4e9ac7 504.8px 507.3px,#4292c2 507.3px 509.8px,#5da4cc 509.8px 512.4px,#62a7ce 512.4px 514.9px,#4d99c6 514.9px 517.4px,#4595c4 517.4px 519.9px,#4291c2 519.9px 522.5px,#f9efea 522.5px 525px,#e0ecf3 525px 527.5px,#ebf1f5 527.5px 530px,#f8f0eb 530px 532.6px,#f9ece4 532.6px 535.1px,#faebe2 535.1px 537.6px,#f7f5f4 537.6px 540.1px,#f9ebe3 540.1px 542.7px,#fbe5d8 542.7px 545.2px,#fddbc6 545.2px 547.7px,#edf2f5 547.7px 550.2px,#f8f4f1 550.2px 552.8px,#fbe3d5 552.8px 555.3px,#f9efea 555.3px 557.8px,#fce0cf 557.8px 560.3px,#fbe3d4 560.3px 562.9px,#f9c5aa 562.9px 565.4px,#fbe2d3 565.4px 567.9px,#f9efe9 567.9px 570.4px,#f8f2ee 570.4px 572.9px,#f9eee8 572.9px 575.5px,#fae7dc 575.5px 578px,#fcd2bc 578px 580.5px,#fce0d0 580.5px 583px,#f8f3f1 583px 585.6px,#f9ede7 585.6px 588.1px,#fae9e0 588.1px 590.6px,#eef3f5 590.6px 593.1px,#e1edf3 593.1px 595.7px,#f8f2ef 595.7px 598.2px,#f3f5f6 598.2px 600.7px,#f8f3f0 600.7px 603.2px,#fae9df 603.2px 605.8px,#f8f0eb 605.8px 608.3px,#f8f4f2 608.3px 610.8px,#f6f7f7 610.8px 613.3px,#e9f1f4 613.3px 615.9px,#f8f2ee 615.9px 618.4px,#f5f6f7 618.4px 620.9px,#faeae1 620.9px 623.4px,#fbe5d8 623.4px 626px,#f9eee8 626px 628.5px,#f9efe9 628.5px 631px,#f9efe8 631px 633.5px,#f8f3f0 633.5px 636px,#2e78b5 636px 638.6px,#2b73b3 638.6px 641.1px,#2f78b5 641.1px 643.6px,#3682ba 643.6px 646.1px,#3a87bd 646.1px 648.7px,#3c8abe 648.7px 651.2px,#4997c5 651.2px 653.7px,#4190c2 653.7px 656.2px,#4594c4 656.2px 658.8px,#4191c2 658.8px 661.3px,#337eb8 661.3px 663.8px,#4896c5 663.8px 666.3px,#4a98c5 666.3px 668.9px,#509bc8 668.9px 671.4px,#4c99c6 671.4px 673.9px,#4896c5 673.9px 676.4px,#408fc1 676.4px 679px,#3986bc 679px 681.5px,#3784bb 681.5px 684px,#69abd0 684px 686.5px,#5ea4cc 686.5px 689.1px,#66a9cf 689.1px 691.6px,#5ea4cc 691.6px 694.1px,#4896c5 694.1px 696.6px,#6dadd1 696.6px 699.1px,#6daed1 699.1px 701.7px,#87beda 701.7px 704.2px,#97c7df 704.2px 706.7px,#84bcd9 706.7px 709.2px,#83bbd9 709.2px 711.8px,#66a9cf 711.8px 714.3px,#74b2d4 714.3px 716.8px,#7eb8d7 716.8px 719.3px,#63a7ce 719.3px 721.9px,#8fc3dd 721.9px 724.4px,#60a5cd 724.4px 726.9px,#6dadd1 726.9px 729.4px,#77b4d5 729.4px 732px,#74b2d4 732px 734.5px,#8ac0db 734.5px 737px,#6cadd1 737px 739.5px,#7eb8d7 739.5px 742.1px,#6eaed2 742.1px 744.6px,#84bcd9 744.6px 747.1px,#81bad8 747.1px 749.6px,#93c6de 749.6px 752.2px,#569fc9 752.2px 754.7px,#79b5d5 754.7px 757.2px,#6badd1 757.2px 759.7px,#65a8cf 759.7px 762.2px,#6eafd2 762.2px 764.8px,#549ec9 764.8px 767.3px,#63a7ce 767.3px 769.8px,#4292c2 769.8px 772.3px,#4896c5 772.3px 774.9px,#3e8dc0 774.9px 777.4px,#65a8cf 777.4px 779.9px,#4997c5 779.9px 782.4px,#539dc8 782.4px 787.5px,#64a8ce 787.5px 790px,#8bc1dc 790px 792.5px,#6fafd2 792.5px 795.1px,#94c6de 795.1px 797.6px,#98c8e0 797.6px 800.1px,#95c6df 800.1px 802.6px,#8cc1dc 802.6px 805.2px,#9ecbe2 805.2px 807.7px,#88bfdb 807.7px 810.2px,#90c4dd 810.2px 812.7px,#89bfdb 812.7px 815.3px,#66a9cf 815.3px 817.8px,#6bacd1 817.8px 820.3px,#69abd0 820.3px 822.8px,#58a0ca 822.8px 825.3px,#3d8bbf 825.3px 827.9px,#4190c1 827.9px 830.4px,#4494c3 830.4px 832.9px,#58a0ca 832.9px 835.4px,#4190c2 835.4px 838px,#74b2d4 838px 840.5px,#6eaed2 840.5px 843px,#57a0ca 843px 845.5px,#6fafd2 845.5px 848.1px,#92c5de 848.1px 850.6px,#7fb9d7 850.6px 853.1px,#5fa5cc 853.1px 855.6px,#75b2d4 855.6px 858.2px,#6eaed2 858.2px 860.7px,#84bcd9 860.7px 863.2px,#76b3d4 863.2px 865.7px,#7eb8d7 865.7px 868.3px,#86bdda 868.3px 870.8px,#5ba2cb 870.8px 873.3px,#60a6cd 873.3px 875.8px,#78b5d5 875.8px 878.4px,#84bcd9 878.4px 880.9px,#de725b 880.9px 883.4px,#e37e64 883.4px 885.9px,#e17a61 885.9px 888.4px,#df745c 888.4px 891px,#e37e64 891px 893.5px,#db6a55 893.5px 896px,#de735c 896px 898.5px,#e0765e 898.5px 901.1px,#d2594a 901.1px 903.6px,#d05548 903.6px 906.1px,#c53e3d 906.1px 908.6px,#d05548 908.6px 911.2px,#c84440 911.2px 913.7px,#d55d4c 913.7px 916.2px,#d86551 916.2px 918.7px,#dd7059 918.7px 921.3px,#e58267 921.3px 923.8px,#e17961 923.8px 926.3px,#e98b6e 926.3px 928.8px,#d7624e 928.8px 931.4px,#d45c4b 931.4px 933.9px,#d05448 933.9px 936.4px,#d6604d 936.4px 938.9px,#df745c 938.9px 941.5px,#dd7059 941.5px 944px,#db6c56 944px 946.5px,#dc6d57 946.5px 949px,#e27b62 949px 951.5px,#d96753 951.5px 954.1px,#ce4f45 954.1px 956.6px,#c7423f 956.6px 959.1px,#ce5045 959.1px 961.6px,#c6403e 961.6px 964.2px,#c84540 964.2px 966.7px,#cd4e45 966.7px 969.2px,#d25849 969.2px 971.7px,#d35a4a 971.7px 974.3px,#f8ba9d 974.3px 976.8px,#f8bb9f 976.8px 979.3px,#f8bda1 979.3px 981.8px,#f9c2a7 981.8px 984.4px,#f5ac8b 984.4px 986.9px,#ee9777 986.9px 989.4px,#e27b61 989.4px 991.9px,#f5aa88 991.9px 994.5px,#f4a481 994.5px 997px,#f6b394 997px 999.5px,#fac9b1 999.5px 1002px,#f7b698 1002px 1004.6px,#fac7ad 1004.6px 1007.1px,#f8bfa3 1007.1px 1009.6px,#f5ad8c 1009.6px 1012.1px,#f5a987 1012.1px 1014.6px,#f4a683 1014.6px 1017.2px,#f5ab8a 1017.2px 1019.7px,#f6b090 1019.7px 1022.2px,#f4a481 1022.2px 1024.7px,#f4a784 1024.7px 1027.3px,#eb9173 1027.3px 1029.8px,#e7886c 1029.8px 1032.3px,#f4a784 1032.3px 1034.8px,#f5aa89 1034.8px 1037.4px,#f6b08f 1037.4px 1039.9px,#f7b89b 1039.9px 1042.4px,#f8bda0 1042.4px 1044.9px,#f7b697 1044.9px 1047.5px,#d25849 1047.5px 1050px,#d25749 1050px 1052.5px,#d65f4d 1052.5px 1055px,#d15648 1055px 1057.6px,#d96853 1057.6px 1060.1px,#de735c 1060.1px 1062.6px,#d6604d 1062.6px 1065.1px,#d86551 1065.1px 1067.7px,#dc6e58 1067.7px 1070.2px,#d96752 1070.2px 1072.7px,#d05447 1072.7px 1075.2px,#c7423f 1075.2px 1077.7px,#cf5246 1077.7px 1080.3px,#c94641 1080.3px 1082.8px,#b82431 1082.8px 1085.3px,#be3036 1085.3px 1087.8px,#cb4b43 1087.8px 1090.4px,#cf5146 1090.4px 1092.9px,#d55d4c 1092.9px 1095.4px,#d96853 1095.4px 1097.9px,#e98c6f 1097.9px 1100.5px,#e17960 1100.5px 1103px,#d86450 1103px 1105.5px,#d6604d 1105.5px 1108px,#d65f4d 1108px 1110.6px,#e68569 1110.6px 1113.1px,#cf5246 1113.1px 1115.6px,#c53e3d 1115.6px 1118.1px,#a61429 1118.1px 1120.7px,#ac162a 1120.7px 1123.2px,#c6403e 1123.2px 1128.2px,#d6614e 1128.2px 1130.8px,#cf5146 1130.8px 1133.3px,#c94641 1133.3px 1135.8px,#cd4e45 1135.8px 1138.3px,#d25849 1138.3px 1140.8px,#c63f3e 1140.8px 1143.4px,#c94540 1143.4px 1145.9px,#cf5247 1145.9px 1148.4px,#cc4c44 1148.4px 1150.9px,#da6854 1150.9px 1153.5px,#d7624f 1153.5px 1156px,#df755d 1156px 1158.5px,#e48066 1158.5px 1161px,#d7634f 1161px 1163.6px,#e98c6f 1163.6px 1166.1px,#ea8e71 1166.1px 1168.6px,#c2383a 1168.6px 1171.1px,#bc2c34 1171.1px 1173.7px,#bb2a34 1173.7px 1176.2px,#bf3338 1176.2px 1178.7px,#c33b3b 1178.7px 1181.2px,#cf5146 1181.2px 1183.8px,#d7634f 1183.8px 1186.3px,#eb9173 1186.3px 1188.8px,#d45b4b 1188.8px 1191.3px,#d35b4b 1191.3px 1193.9px,#d96652 1193.9px 1196.4px,#e37f65 1196.4px 1198.9px,#d96652 1198.9px 1201.4px,#c6403e 1201.4px 1203.9px,#e17a61 1203.9px 1206.5px,#d45b4b 1206.5px 1209px,#d6614e 1209px 1211.5px,#d05448 1211.5px 1214px,#e17961 1214px 1216.6px,#d25849 1216.6px 1219.1px,#cd4e45 1219.1px 1221.6px,#ce5146 1221.6px 1224.1px,#d15749 1224.1px 1226.7px,#d6604d 1226.7px 1229.2px,#d25849 1229.2px 1234.2px,#d86450 1234.2px 1236.8px,#d7624f 1236.8px 1239.3px,#c94741 1239.3px 1241.8px,#d05347 1241.8px 1244.3px,#c94641 1244.3px 1246.9px,#c43c3c 1246.9px 1249.4px,#c94641 1249.4px 1251.9px,#ca4842 1251.9px 1254.4px,#c94641 1254.4px 1257px,#df745d 1257px 1259.5px,#e58267 1259.5px 1262px)"></div>
<div style="position:absolute;left:366.9px;top:94px;width:24.7px;height:1262px;background:linear-gradient(#f19e7d 0px 2.5px,#f6ae8e 2.5px 5px,#f8bea1 5px 7.6px,#f7b89a 7.6px 10.1px,#fbcdb6 10.1px 12.6px,#f5ad8c 12.6px 15.1px,#ec9374 15.1px 17.7px,#e88a6e 17.7px 20.2px,#e47f65 20.2px 22.7px,#ed9676 22.7px 25.2px,#dd715a 25.2px 27.8px,#e7886b 27.8px 30.3px,#e88a6e 30.3px 32.8px,#f5a987 32.8px 35.3px,#f8bca0 35.3px 37.9px,#f6b495 37.9px 40.4px,#f2a07e 40.4px 45.4px,#f6af8e 45.4px 48px,#f5ab8a 48px 50.5px,#f4a582 50.5px 53px,#ed9576 53px 55.5px,#ea8e70 55.5px 58.1px,#f7b597 58.1px 60.6px,#f7b697 60.6px 63.1px,#f7b698 63.1px 65.6px,#f7b496 65.6px 68.1px,#f7ba9c 68.1px 70.7px,#f5a988 70.7px 73.2px,#f09c7b 73.2px 75.7px,#f6b090 75.7px 78.2px,#f6b191 78.2px 80.8px,#f5ab8a 80.8px 83.3px,#f6af8f 83.3px 85.8px,#f8f2ef 85.8px 88.3px,#fae9de 88.3px 90.9px,#f8f4f2 90.9px 93.4px,#f9ece3 93.4px 95.9px,#ecf2f5 95.9px 98.4px,#eff3f6 98.4px 101px,#f9f0eb 101px 103.5px,#edf2f5 103.5px 106px,#eff3f6 106px 108.5px,#f8f3f0 108.5px 111.1px,#fce1d2 111.1px 113.6px,#fbd1ba 113.6px 116.1px,#f9ece4 116.1px 118.6px,#faebe2 118.6px 121.2px,#eef3f5 121.2px 123.7px,#fbe3d5 123.7px 126.2px,#f9eee7 126.2px 128.7px,#f9efea 128.7px 131.2px,#fcdecc 131.2px 133.8px,#fce0d0 133.8px 136.3px,#fbe2d3 136.3px 138.8px,#f9ece3 138.8px 141.3px,#f9efe9 141.3px 143.9px,#faeae0 143.9px 146.4px,#f9ede6 146.4px 148.9px,#f1f4f6 148.9px 151.4px,#c9e1ee 151.4px 154px,#aed3e6 154px 156.5px,#c2ddec 156.5px 159px,#bddbea 159px 161.5px,#d2e6f0 161.5px 164.1px,#dfebf3 164.1px 166.6px,#b8d8e9 166.6px 169.1px,#ebf1f5 169.1px 171.6px,#b2d5e7 171.6px 174.2px,#d3e6f0 174.2px 176.7px,#bbdaea 176.7px 179.2px,#d3e6f0 179.2px 181.7px,#bbdaea 181.7px 184.3px,#bfdceb 184.3px 186.8px,#e1ecf3 186.8px 189.3px,#c1ddeb 189.3px 191.8px,#c6dfed 191.8px 194.3px,#88bfda 194.3px 196.9px,#a3cde3 196.9px 199.4px,#73b1d3 199.4px 201.9px,#7ab6d6 201.9px 204.4px,#8ac0db 204.4px 207px,#65a8ce 207px 209.5px,#76b3d5 209.5px 212px,#78b5d5 212px 214.5px,#7eb8d7 214.5px 217.1px,#83bbd9 217.1px 219.6px,#7fb9d7 219.6px 222.1px,#8bc1dc 222.1px 224.6px,#7ab6d6 224.6px 227.2px,#71b0d3 227.2px 229.7px,#60a5cd 229.7px 232.2px,#72b0d3 232.2px 234.7px,#72b1d3 234.7px 237.3px,#7cb7d6 237.3px 239.8px,#72b0d3 239.8px 242.3px,#6fafd2 242.3px 244.8px,#62a6ce 244.8px 247.4px,#73b1d3 247.4px 249.9px,#70b0d3 249.9px 252.4px,#6bacd1 252.4px 254.9px,#83bbd9 254.9px 257.4px,#6badd1 257.4px 260px,#6eaed2 260px 262.5px,#5fa5cd 262.5px 265px,#79b5d6 265px 267.5px,#68abd0 267.5px 270.1px,#76b4d5 270.1px 272.6px,#70afd2 272.6px 275.1px,#66a9cf 275.1px 277.6px,#61a6cd 277.6px 280.2px,#82bbd9 280.2px 282.7px,#85bdda 282.7px 285.2px,#68aad0 285.2px 287.7px,#92c5de 287.7px 290.3px,#94c6df 290.3px 292.8px,#98c8e0 292.8px 295.3px,#97c7df 295.3px 297.8px,#92c5de 297.8px 300.4px,#8ec2dc 300.4px 302.9px,#95c6df 302.9px 305.4px,#96c7df 305.4px 310.5px,#99c9e0 310.5px 313px,#9dcbe1 313px 315.5px,#9bcae1 315.5px 318px,#9fcce2 318px 320.5px,#9ccae1 320.5px 323.1px,#a3cde3 323.1px 325.6px,#9bc9e0 325.6px 328.1px,#9ac9e0 328.1px 330.6px,#a0cce2 330.6px 333.2px,#9dcae1 333.2px 335.7px,#94c6de 335.7px 338.2px,#95c6df 338.2px 340.7px,#96c7df 340.7px 343.3px,#9ecbe1 343.3px 348.3px,#97c8e0 348.3px 350.8px,#94c6de 350.8px 353.4px,#93c5de 353.4px 355.9px,#85bdda 355.9px 358.4px,#8dc2dc 358.4px 360.9px,#8fc3dd 360.9px 363.5px,#93c6de 363.5px 366px,#91c5de 366px 368.5px,#89bfdb 368.5px 371px,#8cc1dc 371px 373.6px,#87beda 373.6px 376.1px,#8cc1dc 376.1px 378.6px,#91c4de 378.6px 381.1px,#8ec3dd 381.1px 383.6px,#95c6df 383.6px 386.2px,#97c8df 386.2px 388.7px,#9ccae1 388.7px 391.2px,#98c8e0 391.2px 393.7px,#9dcae1 393.7px 396.3px,#9ac9e0 396.3px 398.8px,#9ecbe1 398.8px 401.3px,#9ac9e0 401.3px 403.8px,#9bc9e0 403.8px 406.4px,#98c8e0 406.4px 408.9px,#99c9e0 408.9px 411.4px,#9ecbe1 411.4px 413.9px,#9ccae1 413.9px 419px,#81bad8 419px 421.5px,#79b5d6 421.5px 424px,#6cadd1 424px 426.6px,#73b1d3 426.6px 429.1px,#76b3d4 429.1px 431.6px,#67aacf 431.6px 434.1px,#6fafd2 434.1px 436.7px,#67aacf 436.7px 439.2px,#6cadd1 439.2px 441.7px,#63a7ce 441.7px 444.2px,#6aacd0 444.2px 446.7px,#408fc1 446.7px 449.3px,#539dc9 449.3px 451.8px,#549ec9 451.8px 454.3px,#3b88bd 454.3px 456.8px,#2b73b3 456.8px 459.4px,#3581ba 459.4px 461.9px,#2064a9 461.9px 464.4px,#276eb0 464.4px 466.9px,#2064a9 466.9px 469.5px,#2166ac 469.5px 472px,#2a72b2 472px 474.5px,#124983 474.5px 477px,#2166ac 477px 479.6px,#2165ab 479.6px 482.1px,#2f79b6 482.1px 484.6px,#77b4d5 484.6px 487.1px,#72b1d3 487.1px 489.7px,#8ec2dd 489.7px 492.2px,#92c5de 492.2px 494.7px,#76b3d4 494.7px 497.2px,#7bb6d6 497.2px 499.8px,#569fca 499.8px 502.3px,#5fa5cd 502.3px 504.8px,#83bcd9 504.8px 507.3px,#5ba2cb 507.3px 509.8px,#519cc8 509.8px 512.4px,#4896c5 512.4px 514.9px,#58a0ca 514.9px 517.4px,#4393c3 517.4px 519.9px,#4e9ac7 519.9px 522.5px,#f9ece4 522.5px 525px,#f8f4f1 525px 527.5px,#fae9e0 527.5px 530px,#f9ede6 530px 532.6px,#fbe2d3 532.6px 535.1px,#fae8de 535.1px 537.6px,#f5f6f7 537.6px 540.1px,#f7f5f3 540.1px 542.7px,#f9eee7 542.7px 545.2px,#fbe6da 545.2px 547.7px,#eff3f5 547.7px 550.2px,#fbe2d3 550.2px 552.8px,#fbe5d8 552.8px 555.3px,#f9ece5 555.3px 557.8px,#fce2d2 557.8px 560.3px,#fdddcb 560.3px 562.9px,#facab1 562.9px 565.4px,#fcd6c1 565.4px 567.9px,#fae8de 567.9px 570.4px,#eff3f6 570.4px 572.9px,#fae7dc 572.9px 575.5px,#fbe5d8 575.5px 578px,#fcd5bf 578px 580.5px,#fce1d2 580.5px 583px,#f8f2ee 583px 585.6px,#fcdfce 585.6px 588.1px,#fcdecc 588.1px 590.6px,#f7f5f4 590.6px 593.1px,#f5f6f7 593.1px 595.7px,#f9eee7 595.7px 600.7px,#fbe6da 600.7px 603.2px,#faeae1 603.2px 605.8px,#f9efea 605.8px 608.3px,#f8f3f0 608.3px 610.8px,#f9ede7 610.8px 613.3px,#ebf1f5 613.3px 615.9px,#f9eee8 615.9px 618.4px,#f9efe9 618.4px 620.9px,#fbe3d4 620.9px 623.4px,#fce2d2 623.4px 626px,#f9ede6 626px 628.5px,#fae8dd 628.5px 631px,#f8f4f2 631px 633.5px,#faebe2 633.5px 636px,#3783bb 636px 638.6px,#286fb1 638.6px 641.1px,#327cb7 641.1px 643.6px,#3581ba 643.6px 646.1px,#4090c1 646.1px 648.7px,#408fc1 648.7px 651.2px,#4d9ac7 651.2px 653.7px,#4695c4 653.7px 656.2px,#579fca 656.2px 658.8px,#4292c3 658.8px 661.3px,#2f78b5 661.3px 663.8px,#5fa5cd 663.8px 666.3px,#3e8cc0 666.3px 668.9px,#3d8bbf 668.9px 671.4px,#3c89be 671.4px 673.9px,#4796c4 673.9px 676.4px,#539dc8 676.4px 679px,#519cc8 679px 681.5px,#4695c4 681.5px 684px,#5fa5cd 684px 689.1px,#6fafd2 689.1px 691.6px,#57a0ca 691.6px 694.1px,#4a97c5 694.1px 696.6px,#519cc8 696.6px 699.1px,#3884bb 699.1px 701.7px,#539dc9 701.7px 704.2px,#7bb6d6 704.2px 706.7px,#7fb9d7 706.7px 709.2px,#7eb8d7 709.2px 711.8px,#4190c1 711.8px 714.3px,#4795c4 714.3px 716.8px,#5aa1cb 716.8px 719.3px,#4292c3 719.3px 721.9px,#a1cde2 721.9px 724.4px,#7bb6d6 724.4px 726.9px,#76b3d5 726.9px 729.4px,#63a7ce 729.4px 732px,#5da3cc 732px 734.5px,#6bacd1 734.5px 737px,#59a1ca 737px 739.5px,#6dadd1 739.5px 742.1px,#539dc8 742.1px 744.6px,#84bcd9 744.6px 747.1px,#71b0d3 747.1px 749.6px,#7cb7d6 749.6px 752.2px,#70afd2 752.2px 754.7px,#7db8d7 754.7px 757.2px,#70b0d2 757.2px 759.7px,#6cadd1 759.7px 762.2px,#7ab6d6 762.2px 764.8px,#4e9ac7 764.8px 767.3px,#539dc9 767.3px 769.8px,#337eb9 769.8px 772.3px,#3580b9 772.3px 774.9px,#3b88bd 774.9px 777.4px,#4997c5 777.4px 779.9px,#3784bb 779.9px 782.4px,#3a87bd 782.4px 785px,#4d99c6 785px 787.5px,#81bad8 787.5px 790px,#64a8ce 790px 792.5px,#67aacf 792.5px 795.1px,#72b1d3 795.1px 797.6px,#86bdda 797.6px 800.1px,#74b2d4 800.1px 802.6px,#6dadd1 802.6px 805.2px,#70afd2 805.2px 807.7px,#58a1ca 807.7px 810.2px,#75b3d4 810.2px 812.7px,#59a1cb 812.7px 815.3px,#73b1d3 815.3px 817.8px,#4a98c5 817.8px 820.3px,#6cadd1 820.3px 822.8px,#4291c2 822.8px 825.3px,#3682ba 825.3px 827.9px,#327db8 827.9px 830.4px,#3682ba 830.4px 832.9px,#3d8bbf 832.9px 835.4px,#3f8ec1 835.4px 838px,#7eb9d7 838px 840.5px,#7fb9d8 840.5px 843px,#7bb7d6 843px 845.5px,#b1d5e7 845.5px 848.1px,#abd2e5 848.1px 850.6px,#bddbea 850.6px 853.1px,#aed3e6 853.1px 855.6px,#99c9e0 855.6px 858.2px,#97c7df 858.2px 860.7px,#8dc2dc 860.7px 863.2px,#82bbd9 863.2px 865.7px,#69abd0 865.7px 868.3px,#72b1d3 868.3px 870.8px,#408fc1 870.8px 873.3px,#7cb7d6 873.3px 875.8px,#72b1d3 875.8px 878.4px,#8dc2dc 878.4px 880.9px,#c03438 880.9px 883.4px,#c53e3d 883.4px 885.9px,#c33a3b 885.9px 888.4px,#d25849 888.4px 891px,#cf5347 891px 893.5px,#b82431 893.5px 896px,#c13639 896px 898.5px,#bd2d35 898.5px 901.1px,#be2f36 901.1px 903.6px,#bf3237 903.6px 906.1px,#c7413e 906.1px 908.6px,#c2373a 908.6px 911.2px,#bd2d35 911.2px 913.7px,#c8433f 913.7px 916.2px,#d55f4c 916.2px 918.7px,#da6954 918.7px 921.3px,#d6604d 921.3px 923.8px,#d96853 923.8px 926.3px,#d45b4b 926.3px 928.8px,#cc4c43 928.8px 931.4px,#c43b3c 931.4px 933.9px,#b31b2c 933.9px 936.4px,#b82431 936.4px 938.9px,#bc2c34 938.9px 941.5px,#c43b3c 941.5px 944px,#c33b3b 944px 946.5px,#b82531 946.5px 949px,#d35a4a 949px 954.1px,#ca4842 954.1px 956.6px,#bb2a34 956.6px 959.1px,#c84440 959.1px 964.2px,#c84540 964.2px 966.7px,#c43b3c 966.7px 969.2px,#cc4c44 969.2px 971.7px,#c43b3c 971.7px 974.3px,#f3a280 974.3px 976.8px,#f3a481 976.8px 979.3px,#f19f7e 979.3px 981.8px,#f19f7d 981.8px 984.4px,#e58368 984.4px 986.9px,#da6954 986.9px 989.4px,#d05447 989.4px 991.9px,#e98c6f 991.9px 994.5px,#f4a481 994.5px 997px,#e58267 997px 999.5px,#e6856a 999.5px 1002px,#e37f65 1002px 1004.6px,#ee9878 1004.6px 1007.1px,#eb9072 1007.1px 1009.6px,#f09b7a 1009.6px 1012.1px,#eb9173 1012.1px 1014.6px,#f4a886 1014.6px 1017.2px,#ee9777 1017.2px 1019.7px,#ed9475 1019.7px 1022.2px,#da6853 1022.2px 1024.7px,#e7866a 1024.7px 1027.3px,#df745c 1027.3px 1029.8px,#d15548 1029.8px 1032.3px,#e27d63 1032.3px 1034.8px,#ee9777 1034.8px 1037.4px,#e7876b 1037.4px 1039.9px,#df765e 1039.9px 1042.4px,#dc6e58 1042.4px 1044.9px,#e0775f 1044.9px 1047.5px,#b41c2d 1047.5px 1050px,#bd2e35 1050px 1052.5px,#ba2833 1052.5px 1055px,#c43c3c 1055px 1057.6px,#cc4c44 1057.6px 1060.1px,#d96752 1060.1px 1062.6px,#cb4b43 1062.6px 1065.1px,#bc2c35 1065.1px 1067.7px,#c03538 1067.7px 1070.2px,#b82330 1070.2px 1072.7px,#950f26 1072.7px 1075.2px,#a71429 1075.2px 1077.7px,#c84440 1077.7px 1080.3px,#c53d3d 1080.3px 1082.8px,#b1182b 1082.8px 1085.3px,#c13639 1085.3px 1087.8px,#c53f3d 1087.8px 1090.4px,#bd2f36 1090.4px 1092.9px,#c03438 1092.9px 1095.4px,#b92732 1095.4px 1097.9px,#d05548 1097.9px 1100.5px,#c03438 1100.5px 1103px,#b31b2c 1103px 1105.5px,#ac162a 1105.5px 1108px,#960f26 1108px 1110.6px,#b51e2e 1110.6px 1113.1px,#af172a 1113.1px 1115.6px,#a61429 1115.6px 1118.1px,#ba2933 1118.1px 1120.7px,#b31a2c 1120.7px 1123.2px,#bc2c34 1123.2px 1125.7px,#b82531 1125.7px 1128.2px,#c2383a 1128.2px 1130.8px,#b92732 1130.8px 1133.3px,#b2182b 1133.3px 1135.8px,#bb2a33 1135.8px 1138.3px,#b7212f 1138.3px 1140.8px,#a41329 1140.8px 1143.4px,#b2192b 1143.4px 1145.9px,#ca4842 1145.9px 1148.4px,#be3036 1148.4px 1150.9px,#db6a55 1150.9px 1153.5px,#d6614d 1153.5px 1156px,#d45b4b 1156px 1158.5px,#d05548 1158.5px 1161px,#c84440 1161px 1163.6px,#cb4a43 1163.6px 1166.1px,#bf3338 1166.1px 1168.6px,#c33a3b 1168.6px 1171.1px,#bd2e36 1171.1px 1173.7px,#a51429 1173.7px 1176.2px,#9f1228 1176.2px 1178.7px,#b0172b 1178.7px 1181.2px,#b82330 1181.2px 1183.8px,#bd2e35 1183.8px 1186.3px,#ce4f45 1186.3px 1188.8px,#bd2e36 1188.8px 1191.3px,#ce5045 1191.3px 1193.9px,#cb4a43 1193.9px 1196.4px,#d25849 1196.4px 1198.9px,#d86450 1198.9px 1201.4px,#c43c3c 1201.4px 1203.9px,#e0775e 1203.9px 1206.5px,#d55e4c 1206.5px 1209px,#d45c4b 1209px 1211.5px,#c13639 1211.5px 1214px,#da6853 1214px 1216.6px,#c03438 1216.6px 1219.1px,#b6212f 1219.1px 1221.6px,#b72230 1221.6px 1224.1px,#c94741 1224.1px 1226.7px,#d05548 1226.7px 1229.2px,#d25849 1229.2px 1231.7px,#d65f4d 1231.7px 1234.2px,#d86450 1234.2px 1236.8px,#cd4e45 1236.8px 1239.3px,#c94640 1239.3px 1241.8px,#cb4a42 1241.8px 1244.3px,#c03539 1244.3px 1246.9px,#c3393b 1246.9px 1249.4px,#cc4c43 1249.4px 1251.9px,#c53e3d 1251.9px 1254.4px,#c63f3e 1254.4px 1257px,#d96853 1257px 1259.5px,#dc6e58 1259.5px 1262px)"></div>
<div style="position:absolute;left:391.3px;top:94px;width:24.7px;height:1262px;background:linear-gradient(#f7b89b 0px 2.5px,#f8c0a4 2.5px 5px,#f9c3a8 5px 7.6px,#fbd1ba 7.6px 10.1px,#facbb2 10.1px 12.6px,#f7b89a 12.6px 15.1px,#f7b799 15.1px 17.7px,#f9c3a8 17.7px 20.2px,#f2a07f 20.2px 22.7px,#f4a785 22.7px 25.2px,#e8886c 25.2px 27.8px,#f09d7c 27.8px 30.3px,#f7b698 30.3px 32.8px,#f6b293 32.8px 35.3px,#fbd0b9 35.3px 37.9px,#f8bca0 37.9px 40.4px,#f6b495 40.4px 42.9px,#f6ae8e 42.9px 45.4px,#fac8af 45.4px 48px,#fddac5 48px 53px,#fdddca 53px 55.5px,#f8bda0 55.5px 58.1px,#facab2 58.1px 60.6px,#faccb4 60.6px 63.1px,#f8bda1 63.1px 65.6px,#f7b89a 65.6px 68.1px,#f5ad8d 68.1px 70.7px,#f5ae8d 70.7px 73.2px,#f7b596 73.2px 75.7px,#f7ba9c 75.7px 78.2px,#f7b496 78.2px 80.8px,#f7b698 80.8px 83.3px,#f9c2a7 83.3px 85.8px,#e4eef3 85.8px 88.3px,#f1f4f6 88.3px 90.9px,#edf2f5 90.9px 93.4px,#f7f6f5 93.4px 95.9px,#e1edf3 95.9px 98.4px,#e2edf3 98.4px 101px,#eaf1f5 101px 103.5px,#e0ecf3 103.5px 106px,#e1edf3 106px 108.5px,#e5eef4 108.5px 111.1px,#ecf2f5 111.1px 113.6px,#eef3f5 113.6px 116.1px,#e4eef3 116.1px 118.6px,#eff3f5 118.6px 121.2px,#f7f5f4 121.2px 123.7px,#faebe3 123.7px 126.2px,#e4eef4 126.2px 128.7px,#f2f5f6 128.7px 131.2px,#f5f6f7 131.2px 133.8px,#f8f2ef 133.8px 136.3px,#f9eee7 136.3px 138.8px,#f7f7f6 138.8px 141.3px,#f5f6f7 141.3px 143.9px,#f0f4f6 143.9px 146.4px,#ecf2f5 146.4px 148.9px,#f4f5f6 148.9px 151.4px,#8fc3dd 151.4px 154px,#96c7df 154px 156.5px,#afd4e6 156.5px 159px,#7fb9d7 159px 164.1px,#9ecbe2 164.1px 166.6px,#9ccae1 166.6px 169.1px,#c6dfed 169.1px 171.6px,#a8d0e4 171.6px 174.2px,#aad1e5 174.2px 176.7px,#99c9e0 176.7px 179.2px,#aad1e5 179.2px 181.7px,#96c7df 181.7px 184.3px,#a5cfe3 184.3px 186.8px,#d6e7f1 186.8px 189.3px,#c5dfed 189.3px 191.8px,#b5d7e8 191.8px 194.3px,#8cc1dc 194.3px 196.9px,#6fafd2 196.9px 199.4px,#6cadd1 199.4px 201.9px,#74b2d4 201.9px 204.4px,#7fb9d8 204.4px 207px,#7fb9d7 207px 209.5px,#85bcd9 209.5px 212px,#83bbd9 212px 214.5px,#7fb9d8 214.5px 217.1px,#80bad8 217.1px 219.6px,#75b3d4 219.6px 222.1px,#71b0d3 222.1px 224.6px,#69abd0 224.6px 227.2px,#7db8d7 227.2px 229.7px,#71b0d3 229.7px 232.2px,#78b5d5 232.2px 234.7px,#7eb8d7 234.7px 237.3px,#7db8d7 237.3px 239.8px,#7fb9d7 239.8px 242.3px,#8cc1dc 242.3px 244.8px,#76b3d4 244.8px 247.4px,#77b4d5 247.4px 249.9px,#7fb9d8 249.9px 252.4px,#72b1d3 252.4px 254.9px,#7cb7d7 254.9px 257.4px,#6cadd1 257.4px 260px,#67aacf 260px 262.5px,#63a7ce 262.5px 265px,#6fafd2 265px 267.5px,#71b0d3 267.5px 270.1px,#79b5d5 270.1px 272.6px,#6daed1 272.6px 275.1px,#7ab6d6 275.1px 277.6px,#61a6cd 277.6px 280.2px,#77b4d5 280.2px 285.2px,#66a9cf 285.2px 287.7px,#93c6de 287.7px 290.3px,#96c7df 290.3px 292.8px,#95c7df 292.8px 295.3px,#97c7df 295.3px 297.8px,#99c8e0 297.8px 300.4px,#94c6df 300.4px 302.9px,#97c7df 302.9px 305.4px,#9ac9e0 305.4px 307.9px,#98c8e0 307.9px 310.5px,#9ac9e0 310.5px 313px,#99c9e0 313px 315.5px,#97c8df 315.5px 318px,#98c8e0 318px 320.5px,#9dcbe1 320.5px 323.1px,#a0cce2 323.1px 325.6px,#9ccae1 325.6px 328.1px,#9bcae1 328.1px 330.6px,#9fcce2 330.6px 333.2px,#a0cce2 333.2px 335.7px,#98c8e0 335.7px 338.2px,#96c7df 338.2px 343.3px,#97c7df 343.3px 345.8px,#9ac9e0 345.8px 348.3px,#96c7df 348.3px 350.8px,#91c4de 350.8px 353.4px,#93c6de 353.4px 355.9px,#8dc2dc 355.9px 358.4px,#8ac0db 358.4px 360.9px,#8fc3dd 360.9px 363.5px,#91c4de 363.5px 366px,#93c6de 366px 368.5px,#87beda 368.5px 371px,#8ec3dd 371px 373.6px,#84bcd9 373.6px 376.1px,#8dc2dc 376.1px 378.6px,#90c4dd 378.6px 381.1px,#94c6de 381.1px 383.6px,#95c7df 383.6px 386.2px,#99c9e0 386.2px 388.7px,#9fcbe2 388.7px 391.2px,#97c7df 391.2px 393.7px,#9ac9e0 393.7px 396.3px,#94c6df 396.3px 398.8px,#9ccae1 398.8px 401.3px,#98c8e0 401.3px 403.8px,#97c8df 403.8px 406.4px,#98c8e0 406.4px 408.9px,#95c7df 408.9px 411.4px,#9bc9e0 411.4px 416.5px,#a0cce2 416.5px 419px,#77b4d5 419px 421.5px,#67aacf 421.5px 424px,#61a6cd 424px 426.6px,#76b3d4 426.6px 429.1px,#65a9cf 429.1px 431.6px,#65a8ce 431.6px 434.1px,#7ab6d6 434.1px 436.7px,#63a7ce 436.7px 439.2px,#4695c4 439.2px 441.7px,#4493c3 441.7px 444.2px,#5ba2cb 444.2px 446.7px,#3784bb 446.7px 449.3px,#3682ba 449.3px 451.8px,#4997c5 451.8px 454.3px,#3682ba 454.3px 456.8px,#5da3cc 456.8px 459.4px,#4c99c6 459.4px 461.9px,#4191c2 461.9px 464.4px,#4494c3 464.4px 466.9px,#2a72b2 466.9px 469.5px,#2b74b3 469.5px 472px,#266daf 472px 474.5px,#1e61a5 474.5px 477px,#286fb1 477px 479.6px,#3681ba 479.6px 482.1px,#3784bb 482.1px 484.6px,#509bc7 484.6px 487.1px,#63a7ce 487.1px 489.7px,#91c4de 489.7px 492.2px,#aed3e6 492.2px 494.7px,#81bad8 494.7px 497.2px,#8cc1dc 497.2px 499.8px,#98c8e0 499.8px 502.3px,#9bc9e0 502.3px 504.8px,#9ac9e0 504.8px 507.3px,#64a8ce 507.3px 509.8px,#4c99c6 509.8px 512.4px,#3f8ec0 512.4px 514.9px,#4d99c6 514.9px 517.4px,#3c8abe 517.4px 519.9px,#408fc1 519.9px 522.5px,#edf2f5 522.5px 525px,#d7e8f1 525px 527.5px,#e3eef3 527.5px 530px,#e8f0f4 530px 532.6px,#f4f6f6 532.6px 535.1px,#f8f1ed 535.1px 537.6px,#f8f1ec 537.6px 540.1px,#f8f4f2 540.1px 542.7px,#fbe5d8 542.7px 545.2px,#fbe2d4 545.2px 547.7px,#e7eff4 547.7px 550.2px,#f8f5f3 550.2px 552.8px,#f6f7f7 552.8px 555.3px,#f8f2ee 555.3px 557.8px,#f7f7f6 557.8px 560.3px,#f7f6f5 560.3px 562.9px,#fbe6da 562.9px 565.4px,#f8f3ef 565.4px 567.9px,#f8f4f2 567.9px 570.4px,#f0f4f6 570.4px 572.9px,#e7eff4 572.9px 575.5px,#f9f0ea 575.5px 578px,#f8f1ed 578px 580.5px,#f7f5f4 580.5px 583px,#e0ecf3 583px 585.6px,#f8f0ec 585.6px 588.1px,#f8f1ec 588.1px 590.6px,#dae9f2 590.6px 593.1px,#d6e7f1 593.1px 595.7px,#e7eff4 595.7px 598.2px,#dfebf3 598.2px 600.7px,#edf2f5 600.7px 603.2px,#eaf1f5 603.2px 605.8px,#ecf2f5 605.8px 608.3px,#e5eff4 608.3px 610.8px,#d1e5f0 610.8px 613.3px,#d8e8f1 613.3px 615.9px,#e0ecf3 615.9px 618.4px,#e2edf3 618.4px 620.9px,#ecf2f5 620.9px 623.4px,#f7f6f5 623.4px 626px,#e7eff4 626px 628.5px,#f7f5f4 628.5px 631px,#e3edf3 631px 633.5px,#f0f3f6 633.5px 636px,#3f8ec1 636px 638.6px,#2f78b5 638.6px 641.1px,#3682ba 641.1px 643.6px,#3f8ec1 643.6px 646.1px,#4393c3 646.1px 648.7px,#3581ba 648.7px 651.2px,#4896c5 651.2px 653.7px,#4594c4 653.7px 656.2px,#4d99c6 656.2px 658.8px,#3b88bd 658.8px 661.3px,#2a71b2 661.3px 663.8px,#3d8cbf 663.8px 666.3px,#4393c3 666.3px 668.9px,#6aacd0 668.9px 671.4px,#67aacf 671.4px 673.9px,#6eaed2 673.9px 676.4px,#559ec9 676.4px 679px,#4997c5 679px 681.5px,#59a1cb 681.5px 684px,#7db8d7 684px 686.5px,#66a9cf 686.5px 689.1px,#5aa1cb 689.1px 691.6px,#5da3cc 691.6px 694.1px,#4e9ac7 694.1px 696.6px,#65a9cf 696.6px 699.1px,#4392c3 699.1px 701.7px,#7cb7d7 701.7px 704.2px,#a1cde2 704.2px 706.7px,#80bad8 706.7px 709.2px,#8ec2dd 709.2px 711.8px,#70afd2 711.8px 714.3px,#65a9cf 714.3px 716.8px,#4e9ac7 716.8px 719.3px,#519cc8 719.3px 721.9px,#9bc9e0 721.9px 724.4px,#7cb7d6 724.4px 726.9px,#95c6df 726.9px 729.4px,#79b5d5 729.4px 732px,#80b9d8 732px 734.5px,#86bdda 734.5px 737px,#85bdda 737px 739.5px,#7eb8d7 739.5px 742.1px,#74b2d4 742.1px 744.6px,#6cadd1 744.6px 747.1px,#5da3cc 747.1px 749.6px,#66a9cf 749.6px 752.2px,#569fc9 752.2px 754.7px,#67aacf 754.7px 757.2px,#87beda 757.2px 759.7px,#5aa1cb 759.7px 762.2px,#7bb6d6 762.2px 764.8px,#77b4d5 764.8px 767.3px,#6aabd0 767.3px 769.8px,#3f8dc0 769.8px 772.3px,#317cb7 772.3px 774.9px,#4392c3 774.9px 777.4px,#5aa2cb 777.4px 779.9px,#569fca 779.9px 782.4px,#4896c5 782.4px 785px,#80bad8 785px 787.5px,#8dc2dc 787.5px 790px,#a0cce2 790px 792.5px,#85bdd9 792.5px 795.1px,#94c6de 795.1px 797.6px,#a7d0e4 797.6px 802.6px,#a5cee3 802.6px 805.2px,#a1cde2 805.2px 807.7px,#96c7df 807.7px 812.7px,#77b4d5 812.7px 815.3px,#6eaed2 815.3px 817.8px,#60a5cd 817.8px 820.3px,#5ba2cb 820.3px 822.8px,#4393c3 822.8px 825.3px,#4494c3 825.3px 827.9px,#3c8abe 827.9px 830.4px,#3580b9 830.4px 832.9px,#4a98c5 832.9px 835.4px,#4292c2 835.4px 838px,#5ea4cc 838px 840.5px,#67aacf 840.5px 843px,#539dc9 843px 845.5px,#8cc1dc 845.5px 848.1px,#a2cde2 848.1px 850.6px,#b7d8e8 850.6px 853.1px,#98c8e0 853.1px 855.6px,#9bc9e0 855.6px 858.2px,#a5cfe3 858.2px 860.7px,#a6cfe4 860.7px 863.2px,#90c4dd 863.2px 865.7px,#5ba2cb 865.7px 868.3px,#58a1ca 868.3px 870.8px,#4292c3 870.8px 873.3px,#57a0ca 873.3px 875.8px,#8bc0dc 875.8px 878.4px,#91c4de 878.4px 880.9px,#e58267 880.9px 883.4px,#ef9a79 883.4px 885.9px,#f09c7b 885.9px 888.4px,#e37e64 888.4px 891px,#df745c 891px 893.5px,#da6a55 893.5px 896px,#de725b 896px 898.5px,#e58167 898.5px 901.1px,#ee9677 901.1px 903.6px,#ec9374 903.6px 906.1px,#e48166 906.1px 908.6px,#df745c 908.6px 911.2px,#dd715a 911.2px 913.7px,#e7886b 913.7px 916.2px,#e37d63 916.2px 918.7px,#e58368 918.7px 921.3px,#ea8f71 921.3px 923.8px,#e17a61 923.8px 926.3px,#da6853 926.3px 928.8px,#dc6f58 928.8px 931.4px,#d35a4a 931.4px 933.9px,#dd6f59 933.9px 936.4px,#dd705a 936.4px 938.9px,#ce5146 938.9px 941.5px,#cf5247 941.5px 944px,#dd6f59 944px 946.5px,#d86551 946.5px 949px,#e58267 949px 951.5px,#e98b6e 951.5px 954.1px,#e7876b 954.1px 956.6px,#e17960 956.6px 959.1px,#ee9677 959.1px 961.6px,#e48065 961.6px 964.2px,#e58368 964.2px 966.7px,#e88a6d 966.7px 969.2px,#e58368 969.2px 971.7px,#df755d 971.7px 974.3px,#e27c62 974.3px 976.8px,#e88a6d 976.8px 979.3px,#e0775f 979.3px 981.8px,#ec9374 981.8px 984.4px,#e68469 984.4px 986.9px,#dd7059 986.9px 989.4px,#ce4f45 989.4px 991.9px,#e68469 991.9px 994.5px,#f19f7d 994.5px 997px,#f6af8f 997px 999.5px,#f4a684 999.5px 1002px,#ea8e71 1002px 1004.6px,#f4a683 1004.6px 1007.1px,#dd715a 1007.1px 1009.6px,#e0775e 1009.6px 1012.1px,#e27c63 1012.1px 1014.6px,#e7876b 1014.6px 1017.2px,#df755d 1017.2px 1019.7px,#dc6f58 1019.7px 1022.2px,#d3594a 1022.2px 1024.7px,#e0785f 1024.7px 1027.3px,#dd715a 1027.3px 1029.8px,#db6b55 1029.8px 1032.3px,#df755d 1032.3px 1034.8px,#f19f7d 1034.8px 1037.4px,#f5ac8b 1037.4px 1039.9px,#ed9475 1039.9px 1042.4px,#ec9374 1042.4px 1044.9px,#e7886c 1044.9px 1047.5px,#dd7059 1047.5px 1050px,#d25749 1050px 1052.5px,#dc6d57 1052.5px 1055px,#d86551 1055px 1057.6px,#e0785f 1057.6px 1060.1px,#e7876b 1060.1px 1062.6px,#d55e4c 1062.6px 1065.1px,#d55d4c 1065.1px 1067.7px,#e27b62 1067.7px 1070.2px,#dc6d57 1070.2px 1072.7px,#cd4d44 1072.7px 1075.2px,#cc4c43 1075.2px 1077.7px,#c84440 1077.7px 1080.3px,#ca4741 1080.3px 1082.8px,#c53d3d 1082.8px 1085.3px,#dc6e58 1085.3px 1090.4px,#cf5247 1090.4px 1092.9px,#d86651 1092.9px 1095.4px,#da6853 1095.4px 1097.9px,#eb9173 1097.9px 1100.5px,#e27c63 1100.5px 1103px,#e88a6d 1103px 1105.5px,#dc6f58 1105.5px 1108px,#e0785f 1108px 1110.6px,#e17860 1110.6px 1113.1px,#d25849 1113.1px 1115.6px,#ca4842 1115.6px 1118.1px,#cb4a43 1118.1px 1120.7px,#c7433f 1120.7px 1123.2px,#da6954 1123.2px 1125.7px,#d05347 1125.7px 1128.2px,#d15749 1128.2px 1130.8px,#c84540 1130.8px 1133.3px,#c2383a 1133.3px 1135.8px,#d45b4b 1135.8px 1138.3px,#da6954 1138.3px 1140.8px,#cc4d44 1140.8px 1143.4px,#d45b4b 1143.4px 1145.9px,#e48066 1145.9px 1148.4px,#dc6e58 1148.4px 1150.9px,#eb9173 1150.9px 1153.5px,#ed9576 1153.5px 1156px,#f09c7b 1156px 1158.5px,#ef9979 1158.5px 1161px,#e37e64 1161px 1163.6px,#f4a582 1163.6px 1166.1px,#f19f7d 1166.1px 1168.6px,#e17860 1168.6px 1171.1px,#d7634f 1171.1px 1173.7px,#d45c4b 1173.7px 1176.2px,#c33a3b 1176.2px 1178.7px,#cf5246 1178.7px 1181.2px,#ca4842 1181.2px 1183.8px,#d96652 1183.8px 1186.3px,#ed9575 1186.3px 1188.8px,#e37d63 1188.8px 1191.3px,#e7876b 1191.3px 1193.9px,#da6954 1193.9px 1196.4px,#f3a381 1196.4px 1198.9px,#f4a583 1198.9px 1201.4px,#dc6e58 1201.4px 1203.9px,#f09b7a 1203.9px 1206.5px,#ea8f71 1206.5px 1209px,#eb9173 1209px 1211.5px,#d86551 1211.5px 1214px,#eb9173 1214px 1216.6px,#dd715a 1216.6px 1219.1px,#de715a 1219.1px 1221.6px,#d05447 1221.6px 1224.1px,#d96853 1224.1px 1226.7px,#e37d64 1226.7px 1229.2px,#e37d63 1229.2px 1231.7px,#e47f65 1231.7px 1234.2px,#f09c7b 1234.2px 1236.8px,#ec9273 1236.8px 1239.3px,#d96853 1239.3px 1241.8px,#d6614e 1241.8px 1244.3px,#d96753 1244.3px 1246.9px,#d6604d 1246.9px 1249.4px,#de725b 1249.4px 1251.9px,#e68569 1251.9px 1254.4px,#da6a54 1254.4px 1257px,#f09b7a 1257px 1259.5px,#f4a582 1259.5px 1262px)"></div>
<svg width="1846" height="2711" viewBox="0 0 1846 2711">
<rect x="123.2" y="72" width="97.5" height="16" fill="#7ba4ea"/>
<rect x="220.7" y="72" width="97.5" height="16" fill="#cf0f1d"/>
<rect x="318.2" y="72" width="97.5" height="16" fill="#1d1b8e"/>
<text x="277.8" y="36" font-size="24.5" text-anchor="middle">Top 500 ANOVA</text>
<text x="180" y="66.4" font-size="19" text-anchor="middle">A375</text>
<text x="270" y="66.4" font-size="19" text-anchor="middle">A375VR</text>
<text x="367.8" y="66.4" font-size="19" text-anchor="middle">VR_RANO</text>
<text x="26" y="41" font-size="46" font-weight="bold" stroke="#111" stroke-width="1.3">a</text>
<line x1="121.5" y1="136" x2="121.5" y2="234" stroke="#000" stroke-width="1.6"/>
<line x1="121.5" y1="136" x2="123" y2="136" stroke="#000" stroke-width="1.6"/>
<line x1="121.5" y1="234" x2="123" y2="234" stroke="#000" stroke-width="1.6"/>
<line x1="114.2" y1="185" x2="114.2" y2="481" stroke="#000" stroke-width="1.6"/>
<line x1="114.2" y1="185" x2="121.5" y2="185" stroke="#000" stroke-width="1.6"/>
<line x1="114.2" y1="481" x2="118.8" y2="481" stroke="#000" stroke-width="1.6"/>
<line x1="86" y1="331.5" x2="114.2" y2="331.5" stroke="#000" stroke-width="1.6"/>
<line x1="118.8" y1="394" x2="118.8" y2="614" stroke="#000" stroke-width="1.6"/>
<line x1="118.8" y1="394" x2="123" y2="394" stroke="#000" stroke-width="1.6"/>
<line x1="118.8" y1="614" x2="123" y2="614" stroke="#000" stroke-width="1.6"/>
<line x1="87" y1="540" x2="87" y2="945" stroke="#000" stroke-width="1.6"/>
<line x1="87" y1="945" x2="90.5" y2="945" stroke="#000" stroke-width="1.6"/>
<line x1="90.5" y1="734" x2="90.5" y2="1147" stroke="#000" stroke-width="1.6"/>
<line x1="90.5" y1="734" x2="118.4" y2="734" stroke="#000" stroke-width="1.6"/>
<line x1="90.5" y1="1147" x2="114" y2="1147" stroke="#000" stroke-width="1.6"/>
<line x1="118.4" y1="745" x2="118.4" y2="814" stroke="#000" stroke-width="1.6"/>
<line x1="118.4" y1="745" x2="123" y2="745" stroke="#000" stroke-width="1.6"/>
<line x1="118.4" y1="814" x2="123" y2="814" stroke="#000" stroke-width="1.6"/>
<line x1="121" y1="830" x2="121" y2="900" stroke="#000" stroke-width="1.6"/>
<line x1="121" y1="930" x2="121" y2="975" stroke="#000" stroke-width="1.6"/>
<line x1="114" y1="1016" x2="114" y2="1178" stroke="#000" stroke-width="1.6"/>
<line x1="114" y1="1016" x2="120" y2="1016" stroke="#000" stroke-width="1.6"/>
<line x1="114" y1="1178" x2="121" y2="1178" stroke="#000" stroke-width="1.6"/>
<line x1="120" y1="1007" x2="120" y2="1098" stroke="#000" stroke-width="1.6"/>
<line x1="121" y1="1167" x2="121" y2="1272" stroke="#000" stroke-width="1.6"/>
<line x1="121" y1="1167" x2="123" y2="1167" stroke="#000" stroke-width="1.6"/>
<line x1="121" y1="1272" x2="123" y2="1272" stroke="#000" stroke-width="1.6"/>
<line x1="121" y1="676" x2="121" y2="720" stroke="#000" stroke-width="1.6"/>
<rect x="85.7" y="180.8" width="371.7" height="352.6" fill="none" stroke="#14317a" stroke-width="2.6"/>
<rect x="85.7" y="552.5" width="371.7" height="175.9" fill="none" stroke="#14317a" stroke-width="2.6"/>
<rect x="85.7" y="977.4" width="371.7" height="165.4" fill="none" stroke="#14317a" stroke-width="2.6"/>
<line x1="457.4" y1="356.5" x2="502" y2="356.5" stroke="#14317a" stroke-width="2.6"/>
<line x1="502" y1="356.5" x2="502" y2="1060" stroke="#14317a" stroke-width="2.6"/>
<line x1="457.4" y1="640.5" x2="502" y2="640.5" stroke="#14317a" stroke-width="2.6"/>
<line x1="457.4" y1="1060" x2="502" y2="1060" stroke="#14317a" stroke-width="2.6"/>
<text x="463.4" y="268.5" font-size="19" font-weight="bold">HexCer</text>
<text x="467" y="415" font-size="19" font-weight="bold">TG</text>
<text x="423.6" y="1093" font-size="19" font-weight="bold">PC</text>
<circle cx="493" cy="318.5" r="22.5" fill="#e6dfcb" stroke="#111" stroke-width="2.6"/>
<text x="493" y="327" font-size="24" text-anchor="middle" font-weight="bold" stroke="#111" stroke-width="0.9">1</text>
<circle cx="491" cy="1110" r="22.5" fill="#e6dfcb" stroke="#111" stroke-width="2.6"/>
<text x="491" y="1118.5" font-size="24" text-anchor="middle" font-weight="bold" stroke="#111" stroke-width="0.9">2</text>
<defs><linearGradient id="lg" x1="0" y1="0" x2="0" y2="1"><stop offset="0" stop-color="#67001f"/><stop offset="0.1" stop-color="#b2182b"/><stop offset="0.2" stop-color="#d6604d"/><stop offset="0.3" stop-color="#f4a582"/><stop offset="0.4" stop-color="#fddbc7"/><stop offset="0.5" stop-color="#f7f7f7"/><stop offset="0.6" stop-color="#d1e5f0"/><stop offset="0.7" stop-color="#92c5de"/><stop offset="0.8" stop-color="#4393c3"/><stop offset="0.9" stop-color="#2166ac"/><stop offset="1" stop-color="#053061"/></linearGradient></defs>
<rect x="63.5" y="1211.3" width="11" height="149" fill="url(#lg)"/>
<text x="87.3" y="1221.6" font-size="19.5">2</text>
<text x="83.8" y="1368.3" font-size="19.5">-2</text>
<rect x="650" y="91.6" width="239.2" height="1010.8" fill="#b3aeae"/>
<rect x="729.7" y="91.6" width="79.7" height="1010.8" fill="#dcaab0"/>
<rect x="650.9" y="92.4" width="18.2" height="20.8" fill="#7dc0e2"/>
<rect x="670.8" y="92.4" width="18.2" height="20.8" fill="#91cce8"/>
<rect x="690.7" y="92.4" width="18.2" height="20.8" fill="#a2d4ed"/>
<rect x="710.6" y="92.4" width="18.2" height="20.8" fill="#9ed2ec"/>
<rect x="730.6" y="92.4" width="18.2" height="20.8" fill="#c13739"/>
<rect x="750.5" y="92.4" width="18.2" height="20.8" fill="#af172a"/>
<rect x="770.5" y="92.4" width="18.2" height="20.8" fill="#9b1127"/>
<rect x="790.4" y="92.4" width="18.2" height="20.8" fill="#c03539"/>
<rect x="810.3" y="92.4" width="18.2" height="20.8" fill="#5caad7"/>
<rect x="830.3" y="92.4" width="18.2" height="20.8" fill="#5caad7"/>
<rect x="850.2" y="92.4" width="18.2" height="20.8" fill="#62aed9"/>
<rect x="870.1" y="92.4" width="18.2" height="20.8" fill="#5baad6"/>
<rect x="650.9" y="114.9" width="18.2" height="20.8" fill="#75bae0"/>
<rect x="670.8" y="114.9" width="18.2" height="20.8" fill="#71b7de"/>
<rect x="690.7" y="114.9" width="18.2" height="20.8" fill="#afdbf0"/>
<rect x="710.6" y="114.9" width="18.2" height="20.8" fill="#8cc8e7"/>
<rect x="730.6" y="114.9" width="18.2" height="20.8" fill="#b6202f"/>
<rect x="750.5" y="114.9" width="18.2" height="20.8" fill="#a41429"/>
<rect x="770.5" y="114.9" width="18.2" height="20.8" fill="#a21328"/>
<rect x="790.4" y="114.9" width="18.2" height="20.8" fill="#bf3338"/>
<rect x="810.3" y="114.9" width="18.2" height="20.8" fill="#6db6dc"/>
<rect x="830.3" y="114.9" width="18.2" height="20.8" fill="#55a7d5"/>
<rect x="850.2" y="114.9" width="18.2" height="20.8" fill="#5facd8"/>
<rect x="870.1" y="114.9" width="18.2" height="20.8" fill="#5eacd8"/>
<rect x="650.9" y="137.4" width="18.2" height="20.8" fill="#a0d3ec"/>
<rect x="670.8" y="137.4" width="18.2" height="20.8" fill="#a1d3ed"/>
<rect x="690.7" y="137.4" width="18.2" height="20.8" fill="#7bbee1"/>
<rect x="710.6" y="137.4" width="18.2" height="20.8" fill="#7bbee1"/>
<rect x="730.6" y="137.4" width="18.2" height="20.8" fill="#bc2c34"/>
<rect x="750.5" y="137.4" width="18.2" height="20.8" fill="#b2182b"/>
<rect x="770.5" y="137.4" width="18.2" height="20.8" fill="#9a1027"/>
<rect x="790.4" y="137.4" width="18.2" height="20.8" fill="#ba2832"/>
<rect x="810.3" y="137.4" width="18.2" height="20.8" fill="#53a4d4"/>
<rect x="830.3" y="137.4" width="18.2" height="20.8" fill="#78bce1"/>
<rect x="850.2" y="137.4" width="18.2" height="20.8" fill="#6db6dc"/>
<rect x="870.1" y="137.4" width="18.2" height="20.8" fill="#6ab3db"/>
<rect x="650.9" y="159.8" width="18.2" height="20.8" fill="#a1d4ed"/>
<rect x="670.8" y="159.8" width="18.2" height="20.8" fill="#86c4e5"/>
<rect x="690.7" y="159.8" width="18.2" height="20.8" fill="#92cce9"/>
<rect x="710.6" y="159.8" width="18.2" height="20.8" fill="#92cce9"/>
<rect x="730.6" y="159.8" width="18.2" height="20.8" fill="#c3393b"/>
<rect x="750.5" y="159.8" width="18.2" height="20.8" fill="#b7212f"/>
<rect x="770.5" y="159.8" width="18.2" height="20.8" fill="#a11328"/>
<rect x="790.4" y="159.8" width="18.2" height="20.8" fill="#c03338"/>
<rect x="810.3" y="159.8" width="18.2" height="20.8" fill="#5facd8"/>
<rect x="830.3" y="159.8" width="18.2" height="20.8" fill="#5eacd8"/>
<rect x="850.2" y="159.8" width="18.2" height="20.8" fill="#52a4d4"/>
<rect x="870.1" y="159.8" width="18.2" height="20.8" fill="#50a3d3"/>
<rect x="650.9" y="182.3" width="18.2" height="20.8" fill="#9bd1eb"/>
<rect x="670.8" y="182.3" width="18.2" height="20.8" fill="#9ad0eb"/>
<rect x="690.7" y="182.3" width="18.2" height="20.8" fill="#99cfea"/>
<rect x="710.6" y="182.3" width="18.2" height="20.8" fill="#7ec0e2"/>
<rect x="730.6" y="182.3" width="18.2" height="20.8" fill="#c53f3d"/>
<rect x="750.5" y="182.3" width="18.2" height="20.8" fill="#9b1127"/>
<rect x="770.5" y="182.3" width="18.2" height="20.8" fill="#aa162a"/>
<rect x="790.4" y="182.3" width="18.2" height="20.8" fill="#bb2a34"/>
<rect x="810.3" y="182.3" width="18.2" height="20.8" fill="#3993cc"/>
<rect x="830.3" y="182.3" width="18.2" height="20.8" fill="#489ed1"/>
<rect x="850.2" y="182.3" width="18.2" height="20.8" fill="#499fd1"/>
<rect x="870.1" y="182.3" width="18.2" height="20.8" fill="#63afd9"/>
<rect x="650.9" y="204.8" width="18.2" height="20.8" fill="#66b0da"/>
<rect x="670.8" y="204.8" width="18.2" height="20.8" fill="#7bbde2"/>
<rect x="690.7" y="204.8" width="18.2" height="20.8" fill="#8cc8e7"/>
<rect x="710.6" y="204.8" width="18.2" height="20.8" fill="#8ac7e6"/>
<rect x="730.6" y="204.8" width="18.2" height="20.8" fill="#c13639"/>
<rect x="750.5" y="204.8" width="18.2" height="20.8" fill="#b41d2d"/>
<rect x="770.5" y="204.8" width="18.2" height="20.8" fill="#b31a2c"/>
<rect x="790.4" y="204.8" width="18.2" height="20.8" fill="#b82430"/>
<rect x="810.3" y="204.8" width="18.2" height="20.8" fill="#6ab4db"/>
<rect x="830.3" y="204.8" width="18.2" height="20.8" fill="#58a9d6"/>
<rect x="850.2" y="204.8" width="18.2" height="20.8" fill="#4ca1d2"/>
<rect x="870.1" y="204.8" width="18.2" height="20.8" fill="#6bb4dc"/>
<rect x="650.9" y="227.2" width="18.2" height="20.8" fill="#9ad0eb"/>
<rect x="670.8" y="227.2" width="18.2" height="20.8" fill="#81c2e4"/>
<rect x="690.7" y="227.2" width="18.2" height="20.8" fill="#89c6e6"/>
<rect x="710.6" y="227.2" width="18.2" height="20.8" fill="#89c6e6"/>
<rect x="730.6" y="227.2" width="18.2" height="20.8" fill="#bd2e35"/>
<rect x="750.5" y="227.2" width="18.2" height="20.8" fill="#a51429"/>
<rect x="770.5" y="227.2" width="18.2" height="20.8" fill="#ab162a"/>
<rect x="790.4" y="227.2" width="18.2" height="20.8" fill="#ba2833"/>
<rect x="810.3" y="227.2" width="18.2" height="20.8" fill="#57a8d6"/>
<rect x="830.3" y="227.2" width="18.2" height="20.8" fill="#419acf"/>
<rect x="850.2" y="227.2" width="18.2" height="20.8" fill="#4da1d3"/>
<rect x="870.1" y="227.2" width="18.2" height="20.8" fill="#60add8"/>
<rect x="650.9" y="249.7" width="18.2" height="20.8" fill="#a2d4ed"/>
<rect x="670.8" y="249.7" width="18.2" height="20.8" fill="#73b9df"/>
<rect x="690.7" y="249.7" width="18.2" height="20.8" fill="#9dd1ec"/>
<rect x="710.6" y="249.7" width="18.2" height="20.8" fill="#8dcae7"/>
<rect x="730.6" y="249.7" width="18.2" height="20.8" fill="#b6202f"/>
<rect x="750.5" y="249.7" width="18.2" height="20.8" fill="#ab162a"/>
<rect x="770.5" y="249.7" width="18.2" height="20.8" fill="#8d0c25"/>
<rect x="790.4" y="249.7" width="18.2" height="20.8" fill="#b82330"/>
<rect x="810.3" y="249.7" width="18.2" height="20.8" fill="#50a2d3"/>
<rect x="830.3" y="249.7" width="18.2" height="20.8" fill="#489ed1"/>
<rect x="850.2" y="249.7" width="18.2" height="20.8" fill="#3d97cd"/>
<rect x="870.1" y="249.7" width="18.2" height="20.8" fill="#5facd8"/>
<rect x="650.9" y="272.1" width="18.2" height="20.8" fill="#9ad0eb"/>
<rect x="670.8" y="272.1" width="18.2" height="20.8" fill="#9ed2ec"/>
<rect x="690.7" y="272.1" width="18.2" height="20.8" fill="#97cfea"/>
<rect x="710.6" y="272.1" width="18.2" height="20.8" fill="#7abce1"/>
<rect x="730.6" y="272.1" width="18.2" height="20.8" fill="#bf3237"/>
<rect x="750.5" y="272.1" width="18.2" height="20.8" fill="#b31b2c"/>
<rect x="770.5" y="272.1" width="18.2" height="20.8" fill="#a11328"/>
<rect x="790.4" y="272.1" width="18.2" height="20.8" fill="#b51e2e"/>
<rect x="810.3" y="272.1" width="18.2" height="20.8" fill="#6eb6de"/>
<rect x="830.3" y="272.1" width="18.2" height="20.8" fill="#5baad7"/>
<rect x="850.2" y="272.1" width="18.2" height="20.8" fill="#3791cb"/>
<rect x="870.1" y="272.1" width="18.2" height="20.8" fill="#449cd0"/>
<rect x="650.9" y="294.6" width="18.2" height="20.8" fill="#a7d7ee"/>
<rect x="670.8" y="294.6" width="18.2" height="20.8" fill="#bae0f4"/>
<rect x="690.7" y="294.6" width="18.2" height="20.8" fill="#b3ddf2"/>
<rect x="710.6" y="294.6" width="18.2" height="20.8" fill="#c7e7f7"/>
<rect x="730.6" y="294.6" width="18.2" height="20.8" fill="#be3036"/>
<rect x="750.5" y="294.6" width="18.2" height="20.8" fill="#a61429"/>
<rect x="770.5" y="294.6" width="18.2" height="20.8" fill="#970f27"/>
<rect x="790.4" y="294.6" width="18.2" height="20.8" fill="#bc2b34"/>
<rect x="810.3" y="294.6" width="18.2" height="20.8" fill="#4ca0d2"/>
<rect x="830.3" y="294.6" width="18.2" height="20.8" fill="#3c96cd"/>
<rect x="850.2" y="294.6" width="18.2" height="20.8" fill="#439ccf"/>
<rect x="870.1" y="294.6" width="18.2" height="20.8" fill="#53a4d4"/>
<rect x="650.9" y="317.1" width="18.2" height="20.8" fill="#b4ddf3"/>
<rect x="670.8" y="317.1" width="18.2" height="20.8" fill="#c3e5f6"/>
<rect x="690.7" y="317.1" width="18.2" height="20.8" fill="#d9f0fc"/>
<rect x="710.6" y="317.1" width="18.2" height="20.8" fill="#bae0f4"/>
<rect x="730.6" y="317.1" width="18.2" height="20.8" fill="#bc2b34"/>
<rect x="750.5" y="317.1" width="18.2" height="20.8" fill="#b1182b"/>
<rect x="770.5" y="317.1" width="18.2" height="20.8" fill="#a81529"/>
<rect x="790.4" y="317.1" width="18.2" height="20.8" fill="#c03438"/>
<rect x="810.3" y="317.1" width="18.2" height="20.8" fill="#3690ca"/>
<rect x="830.3" y="317.1" width="18.2" height="20.8" fill="#348cc9"/>
<rect x="850.2" y="317.1" width="18.2" height="20.8" fill="#4ea2d3"/>
<rect x="870.1" y="317.1" width="18.2" height="20.8" fill="#4099ce"/>
<rect x="650.9" y="339.5" width="18.2" height="20.8" fill="#bfe3f5"/>
<rect x="670.8" y="339.5" width="18.2" height="20.8" fill="#a6d7ee"/>
<rect x="690.7" y="339.5" width="18.2" height="20.8" fill="#bde1f5"/>
<rect x="710.6" y="339.5" width="18.2" height="20.8" fill="#b7dff4"/>
<rect x="730.6" y="339.5" width="18.2" height="20.8" fill="#b72230"/>
<rect x="750.5" y="339.5" width="18.2" height="20.8" fill="#b6202f"/>
<rect x="770.5" y="339.5" width="18.2" height="20.8" fill="#9a1027"/>
<rect x="790.4" y="339.5" width="18.2" height="20.8" fill="#b2182b"/>
<rect x="810.3" y="339.5" width="18.2" height="20.8" fill="#63afd9"/>
<rect x="830.3" y="339.5" width="18.2" height="20.8" fill="#3892cb"/>
<rect x="850.2" y="339.5" width="18.2" height="20.8" fill="#3791ca"/>
<rect x="870.1" y="339.5" width="18.2" height="20.8" fill="#358ec9"/>
<rect x="650.9" y="362" width="18.2" height="20.8" fill="#c3e5f6"/>
<rect x="670.8" y="362" width="18.2" height="20.8" fill="#bee3f5"/>
<rect x="690.7" y="362" width="18.2" height="20.8" fill="#bbe0f4"/>
<rect x="710.6" y="362" width="18.2" height="20.8" fill="#aad9ef"/>
<rect x="730.6" y="362" width="18.2" height="20.8" fill="#b6202f"/>
<rect x="750.5" y="362" width="18.2" height="20.8" fill="#a01228"/>
<rect x="770.5" y="362" width="18.2" height="20.8" fill="#a31329"/>
<rect x="790.4" y="362" width="18.2" height="20.8" fill="#ba2832"/>
<rect x="810.3" y="362" width="18.2" height="20.8" fill="#58a9d6"/>
<rect x="830.3" y="362" width="18.2" height="20.8" fill="#4da1d2"/>
<rect x="850.2" y="362" width="18.2" height="20.8" fill="#5caad7"/>
<rect x="870.1" y="362" width="18.2" height="20.8" fill="#3e97ce"/>
<rect x="650.9" y="384.5" width="18.2" height="20.8" fill="#bbe0f4"/>
<rect x="670.8" y="384.5" width="18.2" height="20.8" fill="#b1dcf2"/>
<rect x="690.7" y="384.5" width="18.2" height="20.8" fill="#aedaf0"/>
<rect x="710.6" y="384.5" width="18.2" height="20.8" fill="#b2dcf2"/>
<rect x="730.6" y="384.5" width="18.2" height="20.8" fill="#be3137"/>
<rect x="750.5" y="384.5" width="18.2" height="20.8" fill="#ac162a"/>
<rect x="770.5" y="384.5" width="18.2" height="20.8" fill="#a61429"/>
<rect x="790.4" y="384.5" width="18.2" height="20.8" fill="#b92631"/>
<rect x="810.3" y="384.5" width="18.2" height="20.8" fill="#3993cc"/>
<rect x="830.3" y="384.5" width="18.2" height="20.8" fill="#3690ca"/>
<rect x="850.2" y="384.5" width="18.2" height="20.8" fill="#5dabd7"/>
<rect x="870.1" y="384.5" width="18.2" height="20.8" fill="#3892cb"/>
<rect x="650.9" y="406.9" width="18.2" height="20.8" fill="#5baad7"/>
<rect x="670.8" y="406.9" width="18.2" height="20.8" fill="#4ca0d2"/>
<rect x="690.7" y="406.9" width="18.2" height="20.8" fill="#2b80c2"/>
<rect x="710.6" y="406.9" width="18.2" height="20.8" fill="#3790ca"/>
<rect x="730.6" y="406.9" width="18.2" height="20.8" fill="#bf3237"/>
<rect x="750.5" y="406.9" width="18.2" height="20.8" fill="#b2182b"/>
<rect x="770.5" y="406.9" width="18.2" height="20.8" fill="#a51429"/>
<rect x="790.4" y="406.9" width="18.2" height="20.8" fill="#bc2d35"/>
<rect x="810.3" y="406.9" width="18.2" height="20.8" fill="#c7e7f7"/>
<rect x="830.3" y="406.9" width="18.2" height="20.8" fill="#b4ddf3"/>
<rect x="850.2" y="406.9" width="18.2" height="20.8" fill="#c3e5f6"/>
<rect x="870.1" y="406.9" width="18.2" height="20.8" fill="#acdaf0"/>
<rect x="650.9" y="429.4" width="18.2" height="20.8" fill="#74b9df"/>
<rect x="670.8" y="429.4" width="18.2" height="20.8" fill="#82c2e4"/>
<rect x="690.7" y="429.4" width="18.2" height="20.8" fill="#77bbe0"/>
<rect x="710.6" y="429.4" width="18.2" height="20.8" fill="#72b8df"/>
<rect x="730.6" y="429.4" width="18.2" height="20.8" fill="#b31a2c"/>
<rect x="750.5" y="429.4" width="18.2" height="20.8" fill="#b72230"/>
<rect x="770.5" y="429.4" width="18.2" height="20.8" fill="#a51429"/>
<rect x="790.4" y="429.4" width="18.2" height="20.8" fill="#b6202f"/>
<rect x="810.3" y="429.4" width="18.2" height="20.8" fill="#7dc0e2"/>
<rect x="830.3" y="429.4" width="18.2" height="20.8" fill="#7fc1e3"/>
<rect x="850.2" y="429.4" width="18.2" height="20.8" fill="#77bbe0"/>
<rect x="870.1" y="429.4" width="18.2" height="20.8" fill="#76bbe0"/>
<rect x="650.9" y="451.8" width="18.2" height="20.8" fill="#76bbe0"/>
<rect x="670.8" y="451.8" width="18.2" height="20.8" fill="#8bc8e7"/>
<rect x="690.7" y="451.8" width="18.2" height="20.8" fill="#77bbe1"/>
<rect x="710.6" y="451.8" width="18.2" height="20.8" fill="#85c4e5"/>
<rect x="730.6" y="451.8" width="18.2" height="20.8" fill="#b31a2c"/>
<rect x="750.5" y="451.8" width="18.2" height="20.8" fill="#bb2933"/>
<rect x="770.5" y="451.8" width="18.2" height="20.8" fill="#b61f2e"/>
<rect x="790.4" y="451.8" width="18.2" height="20.8" fill="#b0172b"/>
<rect x="810.3" y="451.8" width="18.2" height="20.8" fill="#7abce1"/>
<rect x="830.3" y="451.8" width="18.2" height="20.8" fill="#76bbe0"/>
<rect x="850.2" y="451.8" width="18.2" height="20.8" fill="#76bae0"/>
<rect x="870.1" y="451.8" width="18.2" height="20.8" fill="#70b7de"/>
<rect x="650.9" y="474.3" width="18.2" height="20.8" fill="#6eb6de"/>
<rect x="670.8" y="474.3" width="18.2" height="20.8" fill="#7abee1"/>
<rect x="690.7" y="474.3" width="18.2" height="20.8" fill="#74b9e0"/>
<rect x="710.6" y="474.3" width="18.2" height="20.8" fill="#78bce1"/>
<rect x="730.6" y="474.3" width="18.2" height="20.8" fill="#b31a2c"/>
<rect x="750.5" y="474.3" width="18.2" height="20.8" fill="#bf3338"/>
<rect x="770.5" y="474.3" width="18.2" height="20.8" fill="#ab162a"/>
<rect x="790.4" y="474.3" width="18.2" height="20.8" fill="#9e1128"/>
<rect x="810.3" y="474.3" width="18.2" height="20.8" fill="#71b8df"/>
<rect x="830.3" y="474.3" width="18.2" height="20.8" fill="#75bae0"/>
<rect x="850.2" y="474.3" width="18.2" height="20.8" fill="#76bbe0"/>
<rect x="870.1" y="474.3" width="18.2" height="20.8" fill="#71b7de"/>
<rect x="650.9" y="496.8" width="18.2" height="20.8" fill="#72b8df"/>
<rect x="670.8" y="496.8" width="18.2" height="20.8" fill="#7fc0e3"/>
<rect x="690.7" y="496.8" width="18.2" height="20.8" fill="#7fc1e3"/>
<rect x="710.6" y="496.8" width="18.2" height="20.8" fill="#7abee1"/>
<rect x="730.6" y="496.8" width="18.2" height="20.8" fill="#8e0c25"/>
<rect x="750.5" y="496.8" width="18.2" height="20.8" fill="#b82531"/>
<rect x="770.5" y="496.8" width="18.2" height="20.8" fill="#950f26"/>
<rect x="790.4" y="496.8" width="18.2" height="20.8" fill="#b6212f"/>
<rect x="810.3" y="496.8" width="18.2" height="20.8" fill="#80c1e3"/>
<rect x="830.3" y="496.8" width="18.2" height="20.8" fill="#85c4e4"/>
<rect x="850.2" y="496.8" width="18.2" height="20.8" fill="#76bbe0"/>
<rect x="870.1" y="496.8" width="18.2" height="20.8" fill="#85c4e5"/>
<rect x="650.9" y="519.2" width="18.2" height="20.8" fill="#73b9df"/>
<rect x="670.8" y="519.2" width="18.2" height="20.8" fill="#71b8df"/>
<rect x="690.7" y="519.2" width="18.2" height="20.8" fill="#78bce1"/>
<rect x="710.6" y="519.2" width="18.2" height="20.8" fill="#73b9df"/>
<rect x="730.6" y="519.2" width="18.2" height="20.8" fill="#ab162a"/>
<rect x="750.5" y="519.2" width="18.2" height="20.8" fill="#c3393b"/>
<rect x="770.5" y="519.2" width="18.2" height="20.8" fill="#a21328"/>
<rect x="790.4" y="519.2" width="18.2" height="20.8" fill="#bc2d35"/>
<rect x="810.3" y="519.2" width="18.2" height="20.8" fill="#78bce1"/>
<rect x="830.3" y="519.2" width="18.2" height="20.8" fill="#80c1e3"/>
<rect x="850.2" y="519.2" width="18.2" height="20.8" fill="#77bbe0"/>
<rect x="870.1" y="519.2" width="18.2" height="20.8" fill="#7bbde2"/>
<rect x="650.9" y="541.7" width="18.2" height="20.8" fill="#80c1e3"/>
<rect x="670.8" y="541.7" width="18.2" height="20.8" fill="#72b8df"/>
<rect x="690.7" y="541.7" width="18.2" height="20.8" fill="#70b7de"/>
<rect x="710.6" y="541.7" width="18.2" height="20.8" fill="#7abce1"/>
<rect x="730.6" y="541.7" width="18.2" height="20.8" fill="#af172b"/>
<rect x="750.5" y="541.7" width="18.2" height="20.8" fill="#be3037"/>
<rect x="770.5" y="541.7" width="18.2" height="20.8" fill="#ae172a"/>
<rect x="790.4" y="541.7" width="18.2" height="20.8" fill="#a51429"/>
<rect x="810.3" y="541.7" width="18.2" height="20.8" fill="#71b7de"/>
<rect x="830.3" y="541.7" width="18.2" height="20.8" fill="#77bbe0"/>
<rect x="850.2" y="541.7" width="18.2" height="20.8" fill="#78bce1"/>
<rect x="870.1" y="541.7" width="18.2" height="20.8" fill="#7ec0e2"/>
<rect x="650.9" y="564.2" width="18.2" height="20.8" fill="#76bae0"/>
<rect x="670.8" y="564.2" width="18.2" height="20.8" fill="#73b9df"/>
<rect x="690.7" y="564.2" width="18.2" height="20.8" fill="#87c5e5"/>
<rect x="710.6" y="564.2" width="18.2" height="20.8" fill="#73b9df"/>
<rect x="730.6" y="564.2" width="18.2" height="20.8" fill="#930e26"/>
<rect x="750.5" y="564.2" width="18.2" height="20.8" fill="#c33a3b"/>
<rect x="770.5" y="564.2" width="18.2" height="20.8" fill="#b0172b"/>
<rect x="790.4" y="564.2" width="18.2" height="20.8" fill="#b2182b"/>
<rect x="810.3" y="564.2" width="18.2" height="20.8" fill="#77bbe0"/>
<rect x="830.3" y="564.2" width="18.2" height="20.8" fill="#7bbde2"/>
<rect x="850.2" y="564.2" width="18.2" height="20.8" fill="#67b2da"/>
<rect x="870.1" y="564.2" width="18.2" height="20.8" fill="#78bce1"/>
<rect x="650.9" y="586.6" width="18.2" height="20.8" fill="#7abce1"/>
<rect x="670.8" y="586.6" width="18.2" height="20.8" fill="#72b8df"/>
<rect x="690.7" y="586.6" width="18.2" height="20.8" fill="#76bae0"/>
<rect x="710.6" y="586.6" width="18.2" height="20.8" fill="#89c6e6"/>
<rect x="730.6" y="586.6" width="18.2" height="20.8" fill="#870a24"/>
<rect x="750.5" y="586.6" width="18.2" height="20.8" fill="#bf3237"/>
<rect x="770.5" y="586.6" width="18.2" height="20.8" fill="#a81529"/>
<rect x="790.4" y="586.6" width="18.2" height="20.8" fill="#b41b2d"/>
<rect x="810.3" y="586.6" width="18.2" height="20.8" fill="#82c2e4"/>
<rect x="830.3" y="586.6" width="18.2" height="20.8" fill="#76bae0"/>
<rect x="850.2" y="586.6" width="18.2" height="20.8" fill="#73b9df"/>
<rect x="870.1" y="586.6" width="18.2" height="20.8" fill="#7ec0e2"/>
<rect x="650.9" y="609.1" width="18.2" height="20.8" fill="#72b8df"/>
<rect x="670.8" y="609.1" width="18.2" height="20.8" fill="#73b9df"/>
<rect x="690.7" y="609.1" width="18.2" height="20.8" fill="#82c3e4"/>
<rect x="710.6" y="609.1" width="18.2" height="20.8" fill="#6db6de"/>
<rect x="730.6" y="609.1" width="18.2" height="20.8" fill="#9c1128"/>
<rect x="750.5" y="609.1" width="18.2" height="20.8" fill="#c2373a"/>
<rect x="770.5" y="609.1" width="18.2" height="20.8" fill="#a81529"/>
<rect x="790.4" y="609.1" width="18.2" height="20.8" fill="#ba2732"/>
<rect x="810.3" y="609.1" width="18.2" height="20.8" fill="#77bbe0"/>
<rect x="830.3" y="609.1" width="18.2" height="20.8" fill="#76bbe0"/>
<rect x="850.2" y="609.1" width="18.2" height="20.8" fill="#86c5e5"/>
<rect x="870.1" y="609.1" width="18.2" height="20.8" fill="#80c1e3"/>
<rect x="650.9" y="631.5" width="18.2" height="20.8" fill="#74b9df"/>
<rect x="670.8" y="631.5" width="18.2" height="20.8" fill="#7fc0e3"/>
<rect x="690.7" y="631.5" width="18.2" height="20.8" fill="#7dc0e2"/>
<rect x="710.6" y="631.5" width="18.2" height="20.8" fill="#78bce1"/>
<rect x="730.6" y="631.5" width="18.2" height="20.8" fill="#9e1228"/>
<rect x="750.5" y="631.5" width="18.2" height="20.8" fill="#c43b3c"/>
<rect x="770.5" y="631.5" width="18.2" height="20.8" fill="#b7212f"/>
<rect x="790.4" y="631.5" width="18.2" height="20.8" fill="#b51f2e"/>
<rect x="810.3" y="631.5" width="18.2" height="20.8" fill="#7fc1e3"/>
<rect x="830.3" y="631.5" width="18.2" height="20.8" fill="#82c3e4"/>
<rect x="850.2" y="631.5" width="18.2" height="20.8" fill="#86c4e5"/>
<rect x="870.1" y="631.5" width="18.2" height="20.8" fill="#76bbe0"/>
<rect x="650.9" y="654" width="18.2" height="20.8" fill="#7dbfe2"/>
<rect x="670.8" y="654" width="18.2" height="20.8" fill="#68b3db"/>
<rect x="690.7" y="654" width="18.2" height="20.8" fill="#77bbe0"/>
<rect x="710.6" y="654" width="18.2" height="20.8" fill="#71b7de"/>
<rect x="730.6" y="654" width="18.2" height="20.8" fill="#920e26"/>
<rect x="750.5" y="654" width="18.2" height="20.8" fill="#cb4a43"/>
<rect x="770.5" y="654" width="18.2" height="20.8" fill="#b41c2d"/>
<rect x="790.4" y="654" width="18.2" height="20.8" fill="#b82430"/>
<rect x="810.3" y="654" width="18.2" height="20.8" fill="#7cbfe2"/>
<rect x="830.3" y="654" width="18.2" height="20.8" fill="#7ec0e3"/>
<rect x="850.2" y="654" width="18.2" height="20.8" fill="#73b8df"/>
<rect x="870.1" y="654" width="18.2" height="20.8" fill="#85c4e5"/>
<rect x="650.9" y="676.5" width="18.2" height="20.8" fill="#7abee1"/>
<rect x="670.8" y="676.5" width="18.2" height="20.8" fill="#73b9df"/>
<rect x="690.7" y="676.5" width="18.2" height="20.8" fill="#7cbde2"/>
<rect x="710.6" y="676.5" width="18.2" height="20.8" fill="#78bce1"/>
<rect x="730.6" y="676.5" width="18.2" height="20.8" fill="#920e26"/>
<rect x="750.5" y="676.5" width="18.2" height="20.8" fill="#c03539"/>
<rect x="770.5" y="676.5" width="18.2" height="20.8" fill="#920e26"/>
<rect x="790.4" y="676.5" width="18.2" height="20.8" fill="#a51429"/>
<rect x="810.3" y="676.5" width="18.2" height="20.8" fill="#74b9e0"/>
<rect x="830.3" y="676.5" width="18.2" height="20.8" fill="#7ec0e3"/>
<rect x="850.2" y="676.5" width="18.2" height="20.8" fill="#7ec0e3"/>
<rect x="870.1" y="676.5" width="18.2" height="20.8" fill="#72b8df"/>
<rect x="650.9" y="698.9" width="18.2" height="20.8" fill="#74b9df"/>
<rect x="670.8" y="698.9" width="18.2" height="20.8" fill="#73b9df"/>
<rect x="690.7" y="698.9" width="18.2" height="20.8" fill="#68b1db"/>
<rect x="710.6" y="698.9" width="18.2" height="20.8" fill="#7dbfe2"/>
<rect x="730.6" y="698.9" width="18.2" height="20.8" fill="#9e1228"/>
<rect x="750.5" y="698.9" width="18.2" height="20.8" fill="#bc2b34"/>
<rect x="770.5" y="698.9" width="18.2" height="20.8" fill="#b1182b"/>
<rect x="790.4" y="698.9" width="18.2" height="20.8" fill="#b1182b"/>
<rect x="810.3" y="698.9" width="18.2" height="20.8" fill="#7ec0e2"/>
<rect x="830.3" y="698.9" width="18.2" height="20.8" fill="#7fc1e3"/>
<rect x="850.2" y="698.9" width="18.2" height="20.8" fill="#7bbde2"/>
<rect x="870.1" y="698.9" width="18.2" height="20.8" fill="#72b8df"/>
<rect x="650.9" y="721.4" width="18.2" height="20.8" fill="#88c6e6"/>
<rect x="670.8" y="721.4" width="18.2" height="20.8" fill="#7fc0e3"/>
<rect x="690.7" y="721.4" width="18.2" height="20.8" fill="#82c2e4"/>
<rect x="710.6" y="721.4" width="18.2" height="20.8" fill="#83c3e4"/>
<rect x="730.6" y="721.4" width="18.2" height="20.8" fill="#8c0c25"/>
<rect x="750.5" y="721.4" width="18.2" height="20.8" fill="#c03438"/>
<rect x="770.5" y="721.4" width="18.2" height="20.8" fill="#a51429"/>
<rect x="790.4" y="721.4" width="18.2" height="20.8" fill="#ab162a"/>
<rect x="810.3" y="721.4" width="18.2" height="20.8" fill="#6eb6de"/>
<rect x="830.3" y="721.4" width="18.2" height="20.8" fill="#7ec0e3"/>
<rect x="850.2" y="721.4" width="18.2" height="20.8" fill="#72b8df"/>
<rect x="870.1" y="721.4" width="18.2" height="20.8" fill="#7cbfe2"/>
<rect x="650.9" y="743.9" width="18.2" height="20.8" fill="#72b8df"/>
<rect x="670.8" y="743.9" width="18.2" height="20.8" fill="#7ec0e2"/>
<rect x="690.7" y="743.9" width="18.2" height="20.8" fill="#75bae0"/>
<rect x="710.6" y="743.9" width="18.2" height="20.8" fill="#8ac7e6"/>
<rect x="730.6" y="743.9" width="18.2" height="20.8" fill="#991027"/>
<rect x="750.5" y="743.9" width="18.2" height="20.8" fill="#c03338"/>
<rect x="770.5" y="743.9" width="18.2" height="20.8" fill="#b31a2c"/>
<rect x="790.4" y="743.9" width="18.2" height="20.8" fill="#b41b2c"/>
<rect x="810.3" y="743.9" width="18.2" height="20.8" fill="#78bce1"/>
<rect x="830.3" y="743.9" width="18.2" height="20.8" fill="#77bbe0"/>
<rect x="850.2" y="743.9" width="18.2" height="20.8" fill="#76bae0"/>
<rect x="870.1" y="743.9" width="18.2" height="20.8" fill="#73b9df"/>
<rect x="650.9" y="766.3" width="18.2" height="20.8" fill="#7ec0e3"/>
<rect x="670.8" y="766.3" width="18.2" height="20.8" fill="#76bbe0"/>
<rect x="690.7" y="766.3" width="18.2" height="20.8" fill="#73b9df"/>
<rect x="710.6" y="766.3" width="18.2" height="20.8" fill="#7cbde2"/>
<rect x="730.6" y="766.3" width="18.2" height="20.8" fill="#a41429"/>
<rect x="750.5" y="766.3" width="18.2" height="20.8" fill="#c33a3b"/>
<rect x="770.5" y="766.3" width="18.2" height="20.8" fill="#b0172b"/>
<rect x="790.4" y="766.3" width="18.2" height="20.8" fill="#b72230"/>
<rect x="810.3" y="766.3" width="18.2" height="20.8" fill="#77bbe0"/>
<rect x="830.3" y="766.3" width="18.2" height="20.8" fill="#73b9df"/>
<rect x="850.2" y="766.3" width="18.2" height="20.8" fill="#71b7de"/>
<rect x="870.1" y="766.3" width="18.2" height="20.8" fill="#7bbde2"/>
<rect x="650.9" y="788.8" width="18.2" height="20.8" fill="#76bbe0"/>
<rect x="670.8" y="788.8" width="18.2" height="20.8" fill="#6eb6de"/>
<rect x="690.7" y="788.8" width="18.2" height="20.8" fill="#76bae0"/>
<rect x="710.6" y="788.8" width="18.2" height="20.8" fill="#7abee1"/>
<rect x="730.6" y="788.8" width="18.2" height="20.8" fill="#970f27"/>
<rect x="750.5" y="788.8" width="18.2" height="20.8" fill="#c03438"/>
<rect x="770.5" y="788.8" width="18.2" height="20.8" fill="#a81529"/>
<rect x="790.4" y="788.8" width="18.2" height="20.8" fill="#ab162a"/>
<rect x="810.3" y="788.8" width="18.2" height="20.8" fill="#75bae0"/>
<rect x="830.3" y="788.8" width="18.2" height="20.8" fill="#73b9df"/>
<rect x="850.2" y="788.8" width="18.2" height="20.8" fill="#7dbfe2"/>
<rect x="870.1" y="788.8" width="18.2" height="20.8" fill="#76bae0"/>
<rect x="650.9" y="811.2" width="18.2" height="20.8" fill="#78bce1"/>
<rect x="670.8" y="811.2" width="18.2" height="20.8" fill="#7dc0e2"/>
<rect x="690.7" y="811.2" width="18.2" height="20.8" fill="#7fc1e3"/>
<rect x="710.6" y="811.2" width="18.2" height="20.8" fill="#81c2e3"/>
<rect x="730.6" y="811.2" width="18.2" height="20.8" fill="#a31329"/>
<rect x="750.5" y="811.2" width="18.2" height="20.8" fill="#c43c3c"/>
<rect x="770.5" y="811.2" width="18.2" height="20.8" fill="#a41429"/>
<rect x="790.4" y="811.2" width="18.2" height="20.8" fill="#ba2732"/>
<rect x="810.3" y="811.2" width="18.2" height="20.8" fill="#71b7de"/>
<rect x="830.3" y="811.2" width="18.2" height="20.8" fill="#7dbfe2"/>
<rect x="850.2" y="811.2" width="18.2" height="20.8" fill="#75bae0"/>
<rect x="870.1" y="811.2" width="18.2" height="20.8" fill="#73b8df"/>
<rect x="650.9" y="833.7" width="18.2" height="20.8" fill="#7ec0e3"/>
<rect x="670.8" y="833.7" width="18.2" height="20.8" fill="#7dbfe2"/>
<rect x="690.7" y="833.7" width="18.2" height="20.8" fill="#7fc1e3"/>
<rect x="710.6" y="833.7" width="18.2" height="20.8" fill="#76bbe0"/>
<rect x="730.6" y="833.7" width="18.2" height="20.8" fill="#9f1228"/>
<rect x="750.5" y="833.7" width="18.2" height="20.8" fill="#c43c3c"/>
<rect x="770.5" y="833.7" width="18.2" height="20.8" fill="#a71529"/>
<rect x="790.4" y="833.7" width="18.2" height="20.8" fill="#bd2d35"/>
<rect x="810.3" y="833.7" width="18.2" height="20.8" fill="#74b9df"/>
<rect x="830.3" y="833.7" width="18.2" height="20.8" fill="#7ec0e2"/>
<rect x="850.2" y="833.7" width="18.2" height="20.8" fill="#73b9df"/>
<rect x="870.1" y="833.7" width="18.2" height="20.8" fill="#78bce1"/>
<rect x="650.9" y="856.2" width="18.2" height="20.8" fill="#7abee1"/>
<rect x="670.8" y="856.2" width="18.2" height="20.8" fill="#7dbfe2"/>
<rect x="690.7" y="856.2" width="18.2" height="20.8" fill="#75bae0"/>
<rect x="710.6" y="856.2" width="18.2" height="20.8" fill="#71b8df"/>
<rect x="730.6" y="856.2" width="18.2" height="20.8" fill="#800823"/>
<rect x="750.5" y="856.2" width="18.2" height="20.8" fill="#c6403e"/>
<rect x="770.5" y="856.2" width="18.2" height="20.8" fill="#971027"/>
<rect x="790.4" y="856.2" width="18.2" height="20.8" fill="#bb2a34"/>
<rect x="810.3" y="856.2" width="18.2" height="20.8" fill="#7abce1"/>
<rect x="830.3" y="856.2" width="18.2" height="20.8" fill="#77bbe0"/>
<rect x="850.2" y="856.2" width="18.2" height="20.8" fill="#86c4e5"/>
<rect x="870.1" y="856.2" width="18.2" height="20.8" fill="#87c5e5"/>
<rect x="650.9" y="878.6" width="18.2" height="20.8" fill="#7fc1e3"/>
<rect x="670.8" y="878.6" width="18.2" height="20.8" fill="#72b8df"/>
<rect x="690.7" y="878.6" width="18.2" height="20.8" fill="#73b9df"/>
<rect x="710.6" y="878.6" width="18.2" height="20.8" fill="#74b9df"/>
<rect x="730.6" y="878.6" width="18.2" height="20.8" fill="#a11328"/>
<rect x="750.5" y="878.6" width="18.2" height="20.8" fill="#c13639"/>
<rect x="770.5" y="878.6" width="18.2" height="20.8" fill="#b3192c"/>
<rect x="790.4" y="878.6" width="18.2" height="20.8" fill="#b31b2c"/>
<rect x="810.3" y="878.6" width="18.2" height="20.8" fill="#83c3e4"/>
<rect x="830.3" y="878.6" width="18.2" height="20.8" fill="#82c3e4"/>
<rect x="850.2" y="878.6" width="18.2" height="20.8" fill="#6cb5dc"/>
<rect x="870.1" y="878.6" width="18.2" height="20.8" fill="#72b8df"/>
<rect x="650.9" y="901.1" width="18.2" height="20.8" fill="#76bbe0"/>
<rect x="670.8" y="901.1" width="18.2" height="20.8" fill="#81c2e4"/>
<rect x="690.7" y="901.1" width="18.2" height="20.8" fill="#76bbe0"/>
<rect x="710.6" y="901.1" width="18.2" height="20.8" fill="#86c4e5"/>
<rect x="730.6" y="901.1" width="18.2" height="20.8" fill="#970f27"/>
<rect x="750.5" y="901.1" width="18.2" height="20.8" fill="#bb2933"/>
<rect x="770.5" y="901.1" width="18.2" height="20.8" fill="#b31a2c"/>
<rect x="790.4" y="901.1" width="18.2" height="20.8" fill="#b41b2d"/>
<rect x="810.3" y="901.1" width="18.2" height="20.8" fill="#80c1e3"/>
<rect x="830.3" y="901.1" width="18.2" height="20.8" fill="#7dbfe2"/>
<rect x="850.2" y="901.1" width="18.2" height="20.8" fill="#6cb5dc"/>
<rect x="870.1" y="901.1" width="18.2" height="20.8" fill="#77bbe0"/>
<rect x="650.9" y="923.6" width="18.2" height="20.8" fill="#7abee1"/>
<rect x="670.8" y="923.6" width="18.2" height="20.8" fill="#7dbfe2"/>
<rect x="690.7" y="923.6" width="18.2" height="20.8" fill="#74bae0"/>
<rect x="710.6" y="923.6" width="18.2" height="20.8" fill="#85c4e5"/>
<rect x="730.6" y="923.6" width="18.2" height="20.8" fill="#9a1027"/>
<rect x="750.5" y="923.6" width="18.2" height="20.8" fill="#bb2933"/>
<rect x="770.5" y="923.6" width="18.2" height="20.8" fill="#a61429"/>
<rect x="790.4" y="923.6" width="18.2" height="20.8" fill="#b1182b"/>
<rect x="810.3" y="923.6" width="18.2" height="20.8" fill="#76bbe0"/>
<rect x="830.3" y="923.6" width="18.2" height="20.8" fill="#71b7de"/>
<rect x="850.2" y="923.6" width="18.2" height="20.8" fill="#7fc0e3"/>
<rect x="870.1" y="923.6" width="18.2" height="20.8" fill="#7ec0e2"/>
<rect x="650.9" y="946" width="18.2" height="20.8" fill="#7fc1e3"/>
<rect x="670.8" y="946" width="18.2" height="20.8" fill="#76bbe0"/>
<rect x="690.7" y="946" width="18.2" height="20.8" fill="#72b8df"/>
<rect x="710.6" y="946" width="18.2" height="20.8" fill="#76bbe0"/>
<rect x="730.6" y="946" width="18.2" height="20.8" fill="#9f1228"/>
<rect x="750.5" y="946" width="18.2" height="20.8" fill="#c2393a"/>
<rect x="770.5" y="946" width="18.2" height="20.8" fill="#a01228"/>
<rect x="790.4" y="946" width="18.2" height="20.8" fill="#b72230"/>
<rect x="810.3" y="946" width="18.2" height="20.8" fill="#75bae0"/>
<rect x="830.3" y="946" width="18.2" height="20.8" fill="#7ec0e2"/>
<rect x="850.2" y="946" width="18.2" height="20.8" fill="#7fc1e3"/>
<rect x="870.1" y="946" width="18.2" height="20.8" fill="#88c6e6"/>
<rect x="650.9" y="968.5" width="18.2" height="20.8" fill="#7dbfe2"/>
<rect x="670.8" y="968.5" width="18.2" height="20.8" fill="#73b9df"/>
<rect x="690.7" y="968.5" width="18.2" height="20.8" fill="#72b8df"/>
<rect x="710.6" y="968.5" width="18.2" height="20.8" fill="#73b9df"/>
<rect x="730.6" y="968.5" width="18.2" height="20.8" fill="#9b1127"/>
<rect x="750.5" y="968.5" width="18.2" height="20.8" fill="#c13639"/>
<rect x="770.5" y="968.5" width="18.2" height="20.8" fill="#ab162a"/>
<rect x="790.4" y="968.5" width="18.2" height="20.8" fill="#b51e2e"/>
<rect x="810.3" y="968.5" width="18.2" height="20.8" fill="#77bbe1"/>
<rect x="830.3" y="968.5" width="18.2" height="20.8" fill="#78bce1"/>
<rect x="850.2" y="968.5" width="18.2" height="20.8" fill="#7dbfe2"/>
<rect x="870.1" y="968.5" width="18.2" height="20.8" fill="#7abce1"/>
<rect x="650.9" y="990.9" width="18.2" height="20.8" fill="#8dcae7"/>
<rect x="670.8" y="990.9" width="18.2" height="20.8" fill="#8bc7e7"/>
<rect x="690.7" y="990.9" width="18.2" height="20.8" fill="#9bd1eb"/>
<rect x="710.6" y="990.9" width="18.2" height="20.8" fill="#92cde9"/>
<rect x="730.6" y="990.9" width="18.2" height="20.8" fill="#9d1128"/>
<rect x="750.5" y="990.9" width="18.2" height="20.8" fill="#c2393a"/>
<rect x="770.5" y="990.9" width="18.2" height="20.8" fill="#9e1228"/>
<rect x="790.4" y="990.9" width="18.2" height="20.8" fill="#b41b2d"/>
<rect x="810.3" y="990.9" width="18.2" height="20.8" fill="#60add8"/>
<rect x="830.3" y="990.9" width="18.2" height="20.8" fill="#5dabd7"/>
<rect x="850.2" y="990.9" width="18.2" height="20.8" fill="#62aed9"/>
<rect x="870.1" y="990.9" width="18.2" height="20.8" fill="#57a8d6"/>
<rect x="650.9" y="1013.4" width="18.2" height="20.8" fill="#94cee9"/>
<rect x="670.8" y="1013.4" width="18.2" height="20.8" fill="#99d0ea"/>
<rect x="690.7" y="1013.4" width="18.2" height="20.8" fill="#9ad0eb"/>
<rect x="710.6" y="1013.4" width="18.2" height="20.8" fill="#96cfea"/>
<rect x="730.6" y="1013.4" width="18.2" height="20.8" fill="#981027"/>
<rect x="750.5" y="1013.4" width="18.2" height="20.8" fill="#ba2833"/>
<rect x="770.5" y="1013.4" width="18.2" height="20.8" fill="#a31329"/>
<rect x="790.4" y="1013.4" width="18.2" height="20.8" fill="#a31329"/>
<rect x="810.3" y="1013.4" width="18.2" height="20.8" fill="#56a7d5"/>
<rect x="830.3" y="1013.4" width="18.2" height="20.8" fill="#57a8d6"/>
<rect x="850.2" y="1013.4" width="18.2" height="20.8" fill="#64afda"/>
<rect x="870.1" y="1013.4" width="18.2" height="20.8" fill="#5dabd7"/>
<rect x="650.9" y="1035.9" width="18.2" height="20.8" fill="#76bae0"/>
<rect x="670.8" y="1035.9" width="18.2" height="20.8" fill="#72b8df"/>
<rect x="690.7" y="1035.9" width="18.2" height="20.8" fill="#83c3e4"/>
<rect x="710.6" y="1035.9" width="18.2" height="20.8" fill="#71b7de"/>
<rect x="730.6" y="1035.9" width="18.2" height="20.8" fill="#9a1027"/>
<rect x="750.5" y="1035.9" width="18.2" height="20.8" fill="#c94741"/>
<rect x="770.5" y="1035.9" width="18.2" height="20.8" fill="#ac162a"/>
<rect x="790.4" y="1035.9" width="18.2" height="20.8" fill="#991027"/>
<rect x="810.3" y="1035.9" width="18.2" height="20.8" fill="#89c7e6"/>
<rect x="830.3" y="1035.9" width="18.2" height="20.8" fill="#75bae0"/>
<rect x="850.2" y="1035.9" width="18.2" height="20.8" fill="#72b8df"/>
<rect x="870.1" y="1035.9" width="18.2" height="20.8" fill="#83c3e4"/>
<rect x="650.9" y="1058.3" width="18.2" height="20.8" fill="#73b9df"/>
<rect x="670.8" y="1058.3" width="18.2" height="20.8" fill="#6cb5dc"/>
<rect x="690.7" y="1058.3" width="18.2" height="20.8" fill="#7cbde2"/>
<rect x="710.6" y="1058.3" width="18.2" height="20.8" fill="#72b8df"/>
<rect x="730.6" y="1058.3" width="18.2" height="20.8" fill="#ab162a"/>
<rect x="750.5" y="1058.3" width="18.2" height="20.8" fill="#bc2d35"/>
<rect x="770.5" y="1058.3" width="18.2" height="20.8" fill="#b2182b"/>
<rect x="790.4" y="1058.3" width="18.2" height="20.8" fill="#b82330"/>
<rect x="810.3" y="1058.3" width="18.2" height="20.8" fill="#7abee1"/>
<rect x="830.3" y="1058.3" width="18.2" height="20.8" fill="#77bbe1"/>
<rect x="850.2" y="1058.3" width="18.2" height="20.8" fill="#80c1e3"/>
<rect x="870.1" y="1058.3" width="18.2" height="20.8" fill="#7abce1"/>
<rect x="650.9" y="1080.8" width="18.2" height="20.8" fill="#83c3e4"/>
<rect x="670.8" y="1080.8" width="18.2" height="20.8" fill="#80c1e3"/>
<rect x="690.7" y="1080.8" width="18.2" height="20.8" fill="#85c4e5"/>
<rect x="710.6" y="1080.8" width="18.2" height="20.8" fill="#80c1e3"/>
<rect x="730.6" y="1080.8" width="18.2" height="20.8" fill="#9b1027"/>
<rect x="750.5" y="1080.8" width="18.2" height="20.8" fill="#bf3338"/>
<rect x="770.5" y="1080.8" width="18.2" height="20.8" fill="#aa152a"/>
<rect x="790.4" y="1080.8" width="18.2" height="20.8" fill="#ba2833"/>
<rect x="810.3" y="1080.8" width="18.2" height="20.8" fill="#71b7de"/>
<rect x="830.3" y="1080.8" width="18.2" height="20.8" fill="#7ec0e2"/>
<rect x="850.2" y="1080.8" width="18.2" height="20.8" fill="#69b3db"/>
<rect x="870.1" y="1080.8" width="18.2" height="20.8" fill="#73b9df"/>
<rect x="650" y="91.6" width="239.2" height="1010.8" fill="none" stroke="#a8a4a4" stroke-width="1.8"/>
<text x="903.4" y="109.6" font-size="18.7" font-style="italic">Hex2Cer(d18:1_26:1</text>
<text x="903.4" y="132.1" font-size="18.7" font-style="italic">Hex2Cer(d18:1_25:1</text>
<text x="903.4" y="154.6" font-size="18.7" font-style="italic">Hex2Cer(d18:1_23:1</text>
<text x="903.4" y="177" font-size="18.7" font-style="italic">Hex2Cer(t42:1)+H−2</text>
<text x="903.4" y="199.5" font-size="18.7" font-style="italic">Hex2Cer(d18:1_24:1</text>
<text x="903.4" y="221.9" font-size="18.7" font-style="italic">Hex2Cer(t18:0_24:1</text>
<text x="903.4" y="244.4" font-size="18.7" font-style="italic">Hex2Cer(d42:2)−H</text>
<text x="903.4" y="266.9" font-size="18.7" font-style="italic">Hex2Cer(d18:1_23:0</text>
<text x="903.4" y="289.3" font-size="18.7" font-style="italic">Hex2Cer(t18:0_23:0</text>
<text x="903.4" y="311.8" font-size="18.7" font-style="italic">TG(16:1_16:1_16:1)</text>
<text x="903.4" y="334.3" font-size="18.7" font-style="italic">TG(17:1_17:1_17:1)</text>
<text x="903.4" y="356.7" font-size="18.7" font-style="italic">Hex2Cer(d18:1_24:2</text>
<text x="903.4" y="379.2" font-size="18.7" font-style="italic">Hex2Cer(d18:1_22:0</text>
<text x="903.4" y="401.6" font-size="18.7" font-style="italic">Hex2Cer(t18:0_22:0</text>
<text x="903.4" y="424.1" font-size="18.7" font-style="italic">PC(44:8)+H</text>
<text x="903.4" y="446.6" font-size="18.7" font-style="italic">PE(44:0)+Li</text>
<text x="903.4" y="469" font-size="18.7" font-style="italic">TG(16:1_14:0_20:4)</text>
<text x="903.4" y="491.5" font-size="18.7" font-style="italic">PE(46:1)+Li</text>
<text x="903.4" y="514" font-size="18.7" font-style="italic">TG(16:1_16:1_22:6)</text>
<text x="903.4" y="536.4" font-size="18.7" font-style="italic">TG(18:1_22:5_22:6)</text>
<text x="903.4" y="558.9" font-size="18.7" font-style="italic">PE(54:5)+Li</text>
<text x="903.4" y="581.3" font-size="18.7" font-style="italic">TG(16:1_18:1_20:4)</text>
<text x="903.4" y="603.8" font-size="18.7" font-style="italic">PE(48:0)+Li</text>
<text x="903.4" y="626.3" font-size="18.7" font-style="italic">TG(16:1_18:1_22:5)</text>
<text x="903.4" y="648.7" font-size="18.7" font-style="italic">PE(47:0)+Li</text>
<text x="903.4" y="671.2" font-size="18.7" font-style="italic">TG(15:0_16:0_22:5)</text>
<text x="903.4" y="693.6" font-size="18.7" font-style="italic">PE(46:0)+Li</text>
<text x="903.4" y="716.1" font-size="18.7" font-style="italic">PE(48:1)+Li</text>
<text x="903.4" y="738.6" font-size="18.7" font-style="italic">PE(49:1)+Li</text>
<text x="903.4" y="761" font-size="18.7" font-style="italic">PE(49:2)+Li</text>
<text x="903.4" y="783.5" font-size="18.7" font-style="italic">TG(16:0_16:1_20:4)</text>
<text x="903.4" y="806" font-size="18.7" font-style="italic">TG(18:1_18:2_22:6)</text>
<text x="903.4" y="828.4" font-size="18.7" font-style="italic">PE(50:2)+Li</text>
<text x="903.4" y="850.9" font-size="18.7" font-style="italic">PE(54:6)+Li</text>
<text x="903.4" y="873.3" font-size="18.7" font-style="italic">TG(18:1_22:6_22:6)</text>
<text x="903.4" y="895.8" font-size="18.7" font-style="italic">PE(52:5)+Li</text>
<text x="903.4" y="918.3" font-size="18.7" font-style="italic">TG(16:0_22:6_22:6)</text>
<text x="903.4" y="940.7" font-size="18.7" font-style="italic">PE(48:2)+Li</text>
<text x="903.4" y="963.2" font-size="18.7" font-style="italic">PE(52:4)+Li</text>
<text x="903.4" y="985.7" font-size="18.7" font-style="italic">TG(16:0_16:1_22:6)</text>
<text x="903.4" y="1008.1" font-size="18.7" font-style="italic">TG(15:0_18:2_18:2)</text>
<text x="903.4" y="1030.6" font-size="18.7" font-style="italic">TG(14:0_14:0_22:4)</text>
<text x="903.4" y="1053" font-size="18.7" font-style="italic">PE(51:4)+Li</text>
<text x="903.4" y="1075.5" font-size="18.7" font-style="italic">PE(50:3)+Li</text>
<text x="903.4" y="1098" font-size="18.7" font-style="italic">TG(18:2_20:4_20:4)</text>
<rect x="650" y="1113.6" width="239.2" height="241.6" fill="#b3aeae"/>
<rect x="809.5" y="1113.6" width="79.7" height="241.6" fill="#dcaab0"/>
<rect x="650.9" y="1114.4" width="18.2" height="20.3" fill="#ee9777"/>
<rect x="670.8" y="1114.4" width="18.2" height="20.3" fill="#e8896d"/>
<rect x="690.7" y="1114.4" width="18.2" height="20.3" fill="#df755d"/>
<rect x="710.6" y="1114.4" width="18.2" height="20.3" fill="#ee9777"/>
<rect x="730.6" y="1114.4" width="18.2" height="20.3" fill="#1a6ab7"/>
<rect x="750.5" y="1114.4" width="18.2" height="20.3" fill="#1765b5"/>
<rect x="770.5" y="1114.4" width="18.2" height="20.3" fill="#1a6ab7"/>
<rect x="790.4" y="1114.4" width="18.2" height="20.3" fill="#1e6fba"/>
<rect x="810.3" y="1114.4" width="18.2" height="20.3" fill="#f7b597"/>
<rect x="830.3" y="1114.4" width="18.2" height="20.3" fill="#f5aa89"/>
<rect x="850.2" y="1114.4" width="18.2" height="20.3" fill="#f19e7d"/>
<rect x="870.1" y="1114.4" width="18.2" height="20.3" fill="#f5aa89"/>
<rect x="650.9" y="1136.4" width="18.2" height="20.3" fill="#e8f7ff"/>
<rect x="670.8" y="1136.4" width="18.2" height="20.3" fill="#eff9ff"/>
<rect x="690.7" y="1136.4" width="18.2" height="20.3" fill="#e9f7ff"/>
<rect x="710.6" y="1136.4" width="18.2" height="20.3" fill="#f0faff"/>
<rect x="730.6" y="1136.4" width="18.2" height="20.3" fill="#3087c5"/>
<rect x="750.5" y="1136.4" width="18.2" height="20.3" fill="#2f85c4"/>
<rect x="770.5" y="1136.4" width="18.2" height="20.3" fill="#2e84c3"/>
<rect x="790.4" y="1136.4" width="18.2" height="20.3" fill="#287dc0"/>
<rect x="810.3" y="1136.4" width="18.2" height="20.3" fill="#c03438"/>
<rect x="830.3" y="1136.4" width="18.2" height="20.3" fill="#b72330"/>
<rect x="850.2" y="1136.4" width="18.2" height="20.3" fill="#bb2a34"/>
<rect x="870.1" y="1136.4" width="18.2" height="20.3" fill="#c1373a"/>
<rect x="650.9" y="1158.4" width="18.2" height="20.3" fill="#f5fcff"/>
<rect x="670.8" y="1158.4" width="18.2" height="20.3" fill="#f3fbff"/>
<rect x="690.7" y="1158.4" width="18.2" height="20.3" fill="#f7fdff"/>
<rect x="710.6" y="1158.4" width="18.2" height="20.3" fill="#e7f6fe"/>
<rect x="730.6" y="1158.4" width="18.2" height="20.3" fill="#338bc8"/>
<rect x="750.5" y="1158.4" width="18.2" height="20.3" fill="#368fca"/>
<rect x="770.5" y="1158.4" width="18.2" height="20.3" fill="#3289c6"/>
<rect x="790.4" y="1158.4" width="18.2" height="20.3" fill="#2c83c3"/>
<rect x="810.3" y="1158.4" width="18.2" height="20.3" fill="#bd2f36"/>
<rect x="830.3" y="1158.4" width="18.2" height="20.3" fill="#b2182b"/>
<rect x="850.2" y="1158.4" width="18.2" height="20.3" fill="#be2f36"/>
<rect x="870.1" y="1158.4" width="18.2" height="20.3" fill="#bd2d35"/>
<rect x="650.9" y="1180.3" width="18.2" height="20.3" fill="#eef8ff"/>
<rect x="670.8" y="1180.3" width="18.2" height="20.3" fill="#e9f7ff"/>
<rect x="690.7" y="1180.3" width="18.2" height="20.3" fill="#ecf8ff"/>
<rect x="710.6" y="1180.3" width="18.2" height="20.3" fill="#f9fdff"/>
<rect x="730.6" y="1180.3" width="18.2" height="20.3" fill="#2e84c3"/>
<rect x="750.5" y="1180.3" width="18.2" height="20.3" fill="#338ac8"/>
<rect x="770.5" y="1180.3" width="18.2" height="20.3" fill="#3188c6"/>
<rect x="790.4" y="1180.3" width="18.2" height="20.3" fill="#358ec9"/>
<rect x="810.3" y="1180.3" width="18.2" height="20.3" fill="#c2393a"/>
<rect x="830.3" y="1180.3" width="18.2" height="20.3" fill="#b51e2e"/>
<rect x="850.2" y="1180.3" width="18.2" height="20.3" fill="#be2f36"/>
<rect x="870.1" y="1180.3" width="18.2" height="20.3" fill="#cb4a43"/>
<rect x="650.9" y="1202.3" width="18.2" height="20.3" fill="#fcfeff"/>
<rect x="670.8" y="1202.3" width="18.2" height="20.3" fill="#f0f9ff"/>
<rect x="690.7" y="1202.3" width="18.2" height="20.3" fill="#edf8ff"/>
<rect x="710.6" y="1202.3" width="18.2" height="20.3" fill="#f6fcff"/>
<rect x="730.6" y="1202.3" width="18.2" height="20.3" fill="#338ac8"/>
<rect x="750.5" y="1202.3" width="18.2" height="20.3" fill="#3087c5"/>
<rect x="770.5" y="1202.3" width="18.2" height="20.3" fill="#338ac8"/>
<rect x="790.4" y="1202.3" width="18.2" height="20.3" fill="#3289c6"/>
<rect x="810.3" y="1202.3" width="18.2" height="20.3" fill="#b82531"/>
<rect x="830.3" y="1202.3" width="18.2" height="20.3" fill="#920e26"/>
<rect x="850.2" y="1202.3" width="18.2" height="20.3" fill="#bb2b34"/>
<rect x="870.1" y="1202.3" width="18.2" height="20.3" fill="#c43c3c"/>
<rect x="650.9" y="1224.3" width="18.2" height="20.3" fill="#fddcc9"/>
<rect x="670.8" y="1224.3" width="18.2" height="20.3" fill="#fbceb7"/>
<rect x="690.7" y="1224.3" width="18.2" height="20.3" fill="#fcd7c2"/>
<rect x="710.6" y="1224.3" width="18.2" height="20.3" fill="#fcd3bd"/>
<rect x="730.6" y="1224.3" width="18.2" height="20.3" fill="#297ec1"/>
<rect x="750.5" y="1224.3" width="18.2" height="20.3" fill="#2376bd"/>
<rect x="770.5" y="1224.3" width="18.2" height="20.3" fill="#267abf"/>
<rect x="790.4" y="1224.3" width="18.2" height="20.3" fill="#2b80c2"/>
<rect x="810.3" y="1224.3" width="18.2" height="20.3" fill="#c53d3d"/>
<rect x="830.3" y="1224.3" width="18.2" height="20.3" fill="#b72230"/>
<rect x="850.2" y="1224.3" width="18.2" height="20.3" fill="#bb2a34"/>
<rect x="870.1" y="1224.3" width="18.2" height="20.3" fill="#d55e4c"/>
<rect x="650.9" y="1246.2" width="18.2" height="20.3" fill="#fae8dd"/>
<rect x="670.8" y="1246.2" width="18.2" height="20.3" fill="#fbe5d8"/>
<rect x="690.7" y="1246.2" width="18.2" height="20.3" fill="#fbe4d6"/>
<rect x="710.6" y="1246.2" width="18.2" height="20.3" fill="#faebe3"/>
<rect x="730.6" y="1246.2" width="18.2" height="20.3" fill="#2a7fc1"/>
<rect x="750.5" y="1246.2" width="18.2" height="20.3" fill="#2375bc"/>
<rect x="770.5" y="1246.2" width="18.2" height="20.3" fill="#277abf"/>
<rect x="790.4" y="1246.2" width="18.2" height="20.3" fill="#287cc0"/>
<rect x="810.3" y="1246.2" width="18.2" height="20.3" fill="#cf5246"/>
<rect x="830.3" y="1246.2" width="18.2" height="20.3" fill="#c94741"/>
<rect x="850.2" y="1246.2" width="18.2" height="20.3" fill="#b2192b"/>
<rect x="870.1" y="1246.2" width="18.2" height="20.3" fill="#d05347"/>
<rect x="650.9" y="1268.2" width="18.2" height="20.3" fill="#fbe5d8"/>
<rect x="670.8" y="1268.2" width="18.2" height="20.3" fill="#fdddcb"/>
<rect x="690.7" y="1268.2" width="18.2" height="20.3" fill="#fcdecd"/>
<rect x="710.6" y="1268.2" width="18.2" height="20.3" fill="#fae9de"/>
<rect x="730.6" y="1268.2" width="18.2" height="20.3" fill="#2579be"/>
<rect x="750.5" y="1268.2" width="18.2" height="20.3" fill="#1e6fba"/>
<rect x="770.5" y="1268.2" width="18.2" height="20.3" fill="#2578be"/>
<rect x="790.4" y="1268.2" width="18.2" height="20.3" fill="#2b80c2"/>
<rect x="810.3" y="1268.2" width="18.2" height="20.3" fill="#d15648"/>
<rect x="830.3" y="1268.2" width="18.2" height="20.3" fill="#b72230"/>
<rect x="850.2" y="1268.2" width="18.2" height="20.3" fill="#c43b3c"/>
<rect x="870.1" y="1268.2" width="18.2" height="20.3" fill="#d45d4c"/>
<rect x="650.9" y="1290.2" width="18.2" height="20.3" fill="#fcdecc"/>
<rect x="670.8" y="1290.2" width="18.2" height="20.3" fill="#fdd9c5"/>
<rect x="690.7" y="1290.2" width="18.2" height="20.3" fill="#fce1d1"/>
<rect x="710.6" y="1290.2" width="18.2" height="20.3" fill="#fcdfce"/>
<rect x="730.6" y="1290.2" width="18.2" height="20.3" fill="#2e83c3"/>
<rect x="750.5" y="1290.2" width="18.2" height="20.3" fill="#1b6bb8"/>
<rect x="770.5" y="1290.2" width="18.2" height="20.3" fill="#1e6fba"/>
<rect x="790.4" y="1290.2" width="18.2" height="20.3" fill="#2e84c3"/>
<rect x="810.3" y="1290.2" width="18.2" height="20.3" fill="#ba2732"/>
<rect x="830.3" y="1290.2" width="18.2" height="20.3" fill="#b92531"/>
<rect x="850.2" y="1290.2" width="18.2" height="20.3" fill="#b92531"/>
<rect x="870.1" y="1290.2" width="18.2" height="20.3" fill="#d15548"/>
<rect x="650.9" y="1312.1" width="18.2" height="20.3" fill="#fbe3d5"/>
<rect x="670.8" y="1312.1" width="18.2" height="20.3" fill="#fae7db"/>
<rect x="690.7" y="1312.1" width="18.2" height="20.3" fill="#fbe3d5"/>
<rect x="710.6" y="1312.1" width="18.2" height="20.3" fill="#fbe4d7"/>
<rect x="730.6" y="1312.1" width="18.2" height="20.3" fill="#287dc0"/>
<rect x="750.5" y="1312.1" width="18.2" height="20.3" fill="#287dc0"/>
<rect x="770.5" y="1312.1" width="18.2" height="20.3" fill="#2a7ec1"/>
<rect x="790.4" y="1312.1" width="18.2" height="20.3" fill="#287cc0"/>
<rect x="810.3" y="1312.1" width="18.2" height="20.3" fill="#d25849"/>
<rect x="830.3" y="1312.1" width="18.2" height="20.3" fill="#b31a2c"/>
<rect x="850.2" y="1312.1" width="18.2" height="20.3" fill="#cc4c43"/>
<rect x="870.1" y="1312.1" width="18.2" height="20.3" fill="#d25749"/>
<rect x="650.9" y="1334.1" width="18.2" height="20.3" fill="#fce1d2"/>
<rect x="670.8" y="1334.1" width="18.2" height="20.3" fill="#fbe6da"/>
<rect x="690.7" y="1334.1" width="18.2" height="20.3" fill="#fcd7c2"/>
<rect x="710.6" y="1334.1" width="18.2" height="20.3" fill="#fae9e0"/>
<rect x="730.6" y="1334.1" width="18.2" height="20.3" fill="#2172bb"/>
<rect x="750.5" y="1334.1" width="18.2" height="20.3" fill="#2476bd"/>
<rect x="770.5" y="1334.1" width="18.2" height="20.3" fill="#277bbf"/>
<rect x="790.4" y="1334.1" width="18.2" height="20.3" fill="#297dc0"/>
<rect x="810.3" y="1334.1" width="18.2" height="20.3" fill="#ca4942"/>
<rect x="830.3" y="1334.1" width="18.2" height="20.3" fill="#b82431"/>
<rect x="850.2" y="1334.1" width="18.2" height="20.3" fill="#be3036"/>
<rect x="870.1" y="1334.1" width="18.2" height="20.3" fill="#d6614e"/>
<rect x="650" y="1113.6" width="239.2" height="241.6" fill="none" stroke="#a8a4a4" stroke-width="1.8"/>
<text x="906.5" y="1131.4" font-size="18.7" font-style="italic">PC(20:4e_18:0)+H</text>
<text x="906.5" y="1153.3" font-size="18.7" font-style="italic">PC(40:4e)+H</text>
<text x="906.5" y="1175.3" font-size="18.7" font-style="italic">PE(18:0p_22:4)+H</text>
<text x="906.5" y="1197.3" font-size="18.7" font-style="italic">PC(42:2e)+H</text>
<text x="906.5" y="1219.2" font-size="18.7" font-style="italic">PC(18:1e_16:0)+CH3</text>
<text x="906.5" y="1241.2" font-size="18.7" font-style="italic">PC(34:1e)+H</text>
<text x="906.5" y="1263.2" font-size="18.7" font-style="italic">PE(16:1e_20:5)−H</text>
<text x="906.5" y="1285.1" font-size="18.7" font-style="italic">PC(18:1_24:1)+CH3C</text>
<text x="906.5" y="1307.1" font-size="18.7" font-style="italic">PC(36:1e)+H</text>
<text x="906.5" y="1329.1" font-size="18.7" font-style="italic">PC(18:1e_18:1)+CH3</text>
<text x="906.5" y="1351" font-size="18.7" font-style="italic">PC(36:2e)+H</text>
<rect x="650" y="75.6" width="239.2" height="13.2" fill="#aaa6a6"/>
<rect x="650.9" y="76.4" width="18.2" height="11.6" fill="#7aa6ee"/>
<rect x="670.8" y="76.4" width="18.2" height="11.6" fill="#7aa6ee"/>
<rect x="690.7" y="76.4" width="18.2" height="11.6" fill="#7aa6ee"/>
<rect x="710.6" y="76.4" width="18.2" height="11.6" fill="#7aa6ee"/>
<rect x="730.6" y="76.4" width="18.2" height="11.6" fill="#cc1b2b"/>
<rect x="750.5" y="76.4" width="18.2" height="11.6" fill="#cc1b2b"/>
<rect x="770.5" y="76.4" width="18.2" height="11.6" fill="#cc1b2b"/>
<rect x="790.4" y="76.4" width="18.2" height="11.6" fill="#cc1b2b"/>
<rect x="810.3" y="76.4" width="18.2" height="11.6" fill="#2233a6"/>
<rect x="830.3" y="76.4" width="18.2" height="11.6" fill="#2233a6"/>
<rect x="850.2" y="76.4" width="18.2" height="11.6" fill="#2233a6"/>
<rect x="870.1" y="76.4" width="18.2" height="11.6" fill="#2233a6"/>
<text x="680" y="68.3" font-size="19" text-anchor="middle">A375</text>
<text x="758.6" y="68.3" font-size="19" text-anchor="middle">A375VR</text>
<text x="850.3" y="68.3" font-size="19" text-anchor="middle">VR_RANO</text>
<circle cx="607.6" cy="130.8" r="22.5" fill="#e6dfcb" stroke="#111" stroke-width="2.6"/>
<text x="607.6" y="139.3" font-size="24" text-anchor="middle" font-weight="bold" stroke="#111" stroke-width="0.9">1</text>
<circle cx="606.9" cy="1152.9" r="22.5" fill="#e6dfcb" stroke="#111" stroke-width="2.6"/>
<text x="606.9" y="1161.4" font-size="24" text-anchor="middle" font-weight="bold" stroke="#111" stroke-width="0.9">2</text>
<text x="1167" y="42" font-size="44" font-weight="bold" stroke="#111" stroke-width="1.3">b</text>
<line x1="1314" y1="57" x2="1314" y2="402.4" stroke="#111" stroke-width="1.8"/>
<line x1="1313.1" y1="401.7" x2="1610.6" y2="401.7" stroke="#111" stroke-width="1.8"/>
<line x1="1308" y1="401.7" x2="1314" y2="401.7" stroke="#111" stroke-width="1.8"/>
<text x="1306.5" y="411.4" font-size="27" text-anchor="end">0</text>
<line x1="1308" y1="298.3" x2="1314" y2="298.3" stroke="#111" stroke-width="1.8"/>
<text x="1306.5" y="308" font-size="27" text-anchor="end">15</text>
<line x1="1308" y1="194.9" x2="1314" y2="194.9" stroke="#111" stroke-width="1.8"/>
<text x="1306.5" y="204.6" font-size="27" text-anchor="end">30</text>
<line x1="1308" y1="91.5" x2="1314" y2="91.5" stroke="#111" stroke-width="1.8"/>
<text x="1306.5" y="101.2" font-size="27" text-anchor="end">45</text>
<line x1="1314" y1="401.7" x2="1314" y2="407.7" stroke="#111" stroke-width="1.8"/>
<text x="1314" y="436" font-size="27" text-anchor="middle">0</text>
<line x1="1387.9" y1="401.7" x2="1387.9" y2="407.7" stroke="#111" stroke-width="1.8"/>
<text x="1387.9" y="436" font-size="27" text-anchor="middle">20</text>
<line x1="1461.8" y1="401.7" x2="1461.8" y2="407.7" stroke="#111" stroke-width="1.8"/>
<text x="1461.8" y="436" font-size="27" text-anchor="middle">40</text>
<line x1="1535.8" y1="401.7" x2="1535.8" y2="407.7" stroke="#111" stroke-width="1.8"/>
<text x="1535.8" y="436" font-size="27" text-anchor="middle">60</text>
<line x1="1609.7" y1="401.7" x2="1609.7" y2="407.7" stroke="#111" stroke-width="1.8"/>
<text x="1609.7" y="436" font-size="27" text-anchor="middle">80</text>
<text x="1462" y="470.5" font-size="25.5" text-anchor="middle">Time (minutes)</text>
<text x="1240" y="233" font-size="29" text-anchor="middle" transform="rotate(-90 1240 233)" dominant-baseline="middle">OCR (pmol/min)</text>
<line x1="1369" y1="57" x2="1369" y2="401.7" stroke="#222" stroke-width="1.4" stroke-dasharray="2,2.2"/>
<line x1="1442.6" y1="57" x2="1442.6" y2="401.7" stroke="#222" stroke-width="1.4" stroke-dasharray="2,2.2"/>
<line x1="1540.7" y1="57" x2="1540.7" y2="401.7" stroke="#222" stroke-width="1.4" stroke-dasharray="2,2.2"/>
<text x="1368.6" y="53" font-size="25" text-anchor="middle">Oligo</text>
<text x="1447" y="53" font-size="25" text-anchor="middle">FCCP</text>
<text x="1537" y="53" font-size="25" text-anchor="middle">R+A</text>
<polyline points="1320.7,150.8 1345.2,168 1369.4,176.3 1393.1,302.4 1417.9,294.9 1442.6,285.2 1466.7,170.8 1491.4,201.1 1515.8,199 1539.5,330.7 1564.2,339 1589,341" fill="none" stroke="#c1606c" stroke-width="2"/>
<line x1="1320.7" y1="116.3" x2="1320.7" y2="185.2" stroke="#c1606c" stroke-width="1.8"/>
<line x1="1315.7" y1="116.3" x2="1325.7" y2="116.3" stroke="#c1606c" stroke-width="1.8"/>
<line x1="1315.7" y1="185.2" x2="1325.7" y2="185.2" stroke="#c1606c" stroke-width="1.8"/>
<line x1="1345.2" y1="143.9" x2="1345.2" y2="192.1" stroke="#c1606c" stroke-width="1.8"/>
<line x1="1340.2" y1="143.9" x2="1350.2" y2="143.9" stroke="#c1606c" stroke-width="1.8"/>
<line x1="1340.2" y1="192.1" x2="1350.2" y2="192.1" stroke="#c1606c" stroke-width="1.8"/>
<line x1="1369.4" y1="152.9" x2="1369.4" y2="199.7" stroke="#c1606c" stroke-width="1.8"/>
<line x1="1364.4" y1="152.9" x2="1374.4" y2="152.9" stroke="#c1606c" stroke-width="1.8"/>
<line x1="1364.4" y1="199.7" x2="1374.4" y2="199.7" stroke="#c1606c" stroke-width="1.8"/>
<line x1="1393.1" y1="292.1" x2="1393.1" y2="312.8" stroke="#c1606c" stroke-width="1.8"/>
<line x1="1388.1" y1="292.1" x2="1398.1" y2="292.1" stroke="#c1606c" stroke-width="1.8"/>
<line x1="1388.1" y1="312.8" x2="1398.1" y2="312.8" stroke="#c1606c" stroke-width="1.8"/>
<line x1="1417.9" y1="284.5" x2="1417.9" y2="305.2" stroke="#c1606c" stroke-width="1.8"/>
<line x1="1412.9" y1="284.5" x2="1422.9" y2="284.5" stroke="#c1606c" stroke-width="1.8"/>
<line x1="1412.9" y1="305.2" x2="1422.9" y2="305.2" stroke="#c1606c" stroke-width="1.8"/>
<line x1="1442.6" y1="274.9" x2="1442.6" y2="295.5" stroke="#c1606c" stroke-width="1.8"/>
<line x1="1437.6" y1="274.9" x2="1447.6" y2="274.9" stroke="#c1606c" stroke-width="1.8"/>
<line x1="1437.6" y1="295.5" x2="1447.6" y2="295.5" stroke="#c1606c" stroke-width="1.8"/>
<line x1="1466.7" y1="146" x2="1466.7" y2="195.6" stroke="#c1606c" stroke-width="1.8"/>
<line x1="1461.7" y1="146" x2="1471.7" y2="146" stroke="#c1606c" stroke-width="1.8"/>
<line x1="1461.7" y1="195.6" x2="1471.7" y2="195.6" stroke="#c1606c" stroke-width="1.8"/>
<line x1="1491.4" y1="175.6" x2="1491.4" y2="226.6" stroke="#c1606c" stroke-width="1.8"/>
<line x1="1486.4" y1="175.6" x2="1496.4" y2="175.6" stroke="#c1606c" stroke-width="1.8"/>
<line x1="1486.4" y1="226.6" x2="1496.4" y2="226.6" stroke="#c1606c" stroke-width="1.8"/>
<line x1="1515.8" y1="178.4" x2="1515.8" y2="219.7" stroke="#c1606c" stroke-width="1.8"/>
<line x1="1510.8" y1="178.4" x2="1520.8" y2="178.4" stroke="#c1606c" stroke-width="1.8"/>
<line x1="1510.8" y1="219.7" x2="1520.8" y2="219.7" stroke="#c1606c" stroke-width="1.8"/>
<line x1="1539.5" y1="325.2" x2="1539.5" y2="336.2" stroke="#c1606c" stroke-width="1.8"/>
<line x1="1534.5" y1="325.2" x2="1544.5" y2="325.2" stroke="#c1606c" stroke-width="1.8"/>
<line x1="1534.5" y1="336.2" x2="1544.5" y2="336.2" stroke="#c1606c" stroke-width="1.8"/>
<line x1="1564.2" y1="334.8" x2="1564.2" y2="343.1" stroke="#c1606c" stroke-width="1.8"/>
<line x1="1559.2" y1="334.8" x2="1569.2" y2="334.8" stroke="#c1606c" stroke-width="1.8"/>
<line x1="1559.2" y1="343.1" x2="1569.2" y2="343.1" stroke="#c1606c" stroke-width="1.8"/>
<line x1="1589" y1="337.6" x2="1589" y2="344.5" stroke="#c1606c" stroke-width="1.8"/>
<line x1="1584" y1="337.6" x2="1594" y2="337.6" stroke="#c1606c" stroke-width="1.8"/>
<line x1="1584" y1="344.5" x2="1594" y2="344.5" stroke="#c1606c" stroke-width="1.8"/>
<polyline points="1320.7,197.7 1345.2,212.1 1369.4,218.3 1393.1,312.8 1417.9,307.3 1442.6,302.4 1466.7,194.9 1491.4,220.4 1515.8,215.6 1539.5,341 1564.2,348.6 1589,350.7" fill="none" stroke="#c1606c" stroke-width="2"/>
<line x1="1320.7" y1="183.9" x2="1320.7" y2="211.4" stroke="#c1606c" stroke-width="1.8"/>
<line x1="1315.7" y1="183.9" x2="1325.7" y2="183.9" stroke="#c1606c" stroke-width="1.8"/>
<line x1="1315.7" y1="211.4" x2="1325.7" y2="211.4" stroke="#c1606c" stroke-width="1.8"/>
<line x1="1345.2" y1="205.2" x2="1345.2" y2="219" stroke="#c1606c" stroke-width="1.8"/>
<line x1="1340.2" y1="205.2" x2="1350.2" y2="205.2" stroke="#c1606c" stroke-width="1.8"/>
<line x1="1340.2" y1="219" x2="1350.2" y2="219" stroke="#c1606c" stroke-width="1.8"/>
<line x1="1369.4" y1="209.4" x2="1369.4" y2="227.3" stroke="#c1606c" stroke-width="1.8"/>
<line x1="1364.4" y1="209.4" x2="1374.4" y2="209.4" stroke="#c1606c" stroke-width="1.8"/>
<line x1="1364.4" y1="227.3" x2="1374.4" y2="227.3" stroke="#c1606c" stroke-width="1.8"/>
<line x1="1393.1" y1="305.9" x2="1393.1" y2="319.7" stroke="#c1606c" stroke-width="1.8"/>
<line x1="1388.1" y1="305.9" x2="1398.1" y2="305.9" stroke="#c1606c" stroke-width="1.8"/>
<line x1="1388.1" y1="319.7" x2="1398.1" y2="319.7" stroke="#c1606c" stroke-width="1.8"/>
<line x1="1417.9" y1="299" x2="1417.9" y2="315.5" stroke="#c1606c" stroke-width="1.8"/>
<line x1="1412.9" y1="299" x2="1422.9" y2="299" stroke="#c1606c" stroke-width="1.8"/>
<line x1="1412.9" y1="315.5" x2="1422.9" y2="315.5" stroke="#c1606c" stroke-width="1.8"/>
<line x1="1442.6" y1="292.1" x2="1442.6" y2="312.8" stroke="#c1606c" stroke-width="1.8"/>
<line x1="1437.6" y1="292.1" x2="1447.6" y2="292.1" stroke="#c1606c" stroke-width="1.8"/>
<line x1="1437.6" y1="312.8" x2="1447.6" y2="312.8" stroke="#c1606c" stroke-width="1.8"/>
<line x1="1466.7" y1="170.8" x2="1466.7" y2="219" stroke="#c1606c" stroke-width="1.8"/>
<line x1="1461.7" y1="170.8" x2="1471.7" y2="170.8" stroke="#c1606c" stroke-width="1.8"/>
<line x1="1461.7" y1="219" x2="1471.7" y2="219" stroke="#c1606c" stroke-width="1.8"/>
<line x1="1491.4" y1="209.4" x2="1491.4" y2="231.4" stroke="#c1606c" stroke-width="1.8"/>
<line x1="1486.4" y1="209.4" x2="1496.4" y2="209.4" stroke="#c1606c" stroke-width="1.8"/>
<line x1="1486.4" y1="231.4" x2="1496.4" y2="231.4" stroke="#c1606c" stroke-width="1.8"/>
<line x1="1515.8" y1="205.2" x2="1515.8" y2="225.9" stroke="#c1606c" stroke-width="1.8"/>
<line x1="1510.8" y1="205.2" x2="1520.8" y2="205.2" stroke="#c1606c" stroke-width="1.8"/>
<line x1="1510.8" y1="225.9" x2="1520.8" y2="225.9" stroke="#c1606c" stroke-width="1.8"/>
<line x1="1539.5" y1="335.5" x2="1539.5" y2="346.6" stroke="#c1606c" stroke-width="1.8"/>
<line x1="1534.5" y1="335.5" x2="1544.5" y2="335.5" stroke="#c1606c" stroke-width="1.8"/>
<line x1="1534.5" y1="346.6" x2="1544.5" y2="346.6" stroke="#c1606c" stroke-width="1.8"/>
<line x1="1564.2" y1="345.9" x2="1564.2" y2="351.4" stroke="#c1606c" stroke-width="1.8"/>
<line x1="1559.2" y1="345.9" x2="1569.2" y2="345.9" stroke="#c1606c" stroke-width="1.8"/>
<line x1="1559.2" y1="351.4" x2="1569.2" y2="351.4" stroke="#c1606c" stroke-width="1.8"/>
<line x1="1589" y1="347.9" x2="1589" y2="353.4" stroke="#c1606c" stroke-width="1.8"/>
<line x1="1584" y1="347.9" x2="1594" y2="347.9" stroke="#c1606c" stroke-width="1.8"/>
<line x1="1584" y1="353.4" x2="1594" y2="353.4" stroke="#c1606c" stroke-width="1.8"/>
<polyline points="1320.7,242.5 1345.2,251.4 1369.4,254.2 1393.1,302.4 1417.9,298.3 1442.6,292.1 1466.7,234.2 1491.4,241.1 1515.8,243.2 1539.5,324.5 1564.2,323.1 1589,323.1" fill="none" stroke="#6f6f6f" stroke-width="2"/>
<line x1="1320.7" y1="235.6" x2="1320.7" y2="249.4" stroke="#6f6f6f" stroke-width="1.8"/>
<line x1="1315.7" y1="235.6" x2="1325.7" y2="235.6" stroke="#6f6f6f" stroke-width="1.8"/>
<line x1="1315.7" y1="249.4" x2="1325.7" y2="249.4" stroke="#6f6f6f" stroke-width="1.8"/>
<line x1="1345.2" y1="244.5" x2="1345.2" y2="258.3" stroke="#6f6f6f" stroke-width="1.8"/>
<line x1="1340.2" y1="244.5" x2="1350.2" y2="244.5" stroke="#6f6f6f" stroke-width="1.8"/>
<line x1="1340.2" y1="258.3" x2="1350.2" y2="258.3" stroke="#6f6f6f" stroke-width="1.8"/>
<line x1="1369.4" y1="247.3" x2="1369.4" y2="261.1" stroke="#6f6f6f" stroke-width="1.8"/>
<line x1="1364.4" y1="247.3" x2="1374.4" y2="247.3" stroke="#6f6f6f" stroke-width="1.8"/>
<line x1="1364.4" y1="261.1" x2="1374.4" y2="261.1" stroke="#6f6f6f" stroke-width="1.8"/>
<line x1="1393.1" y1="295.5" x2="1393.1" y2="309.3" stroke="#6f6f6f" stroke-width="1.8"/>
<line x1="1388.1" y1="295.5" x2="1398.1" y2="295.5" stroke="#6f6f6f" stroke-width="1.8"/>
<line x1="1388.1" y1="309.3" x2="1398.1" y2="309.3" stroke="#6f6f6f" stroke-width="1.8"/>
<line x1="1417.9" y1="291.4" x2="1417.9" y2="305.2" stroke="#6f6f6f" stroke-width="1.8"/>
<line x1="1412.9" y1="291.4" x2="1422.9" y2="291.4" stroke="#6f6f6f" stroke-width="1.8"/>
<line x1="1412.9" y1="305.2" x2="1422.9" y2="305.2" stroke="#6f6f6f" stroke-width="1.8"/>
<line x1="1442.6" y1="285.2" x2="1442.6" y2="299" stroke="#6f6f6f" stroke-width="1.8"/>
<line x1="1437.6" y1="285.2" x2="1447.6" y2="285.2" stroke="#6f6f6f" stroke-width="1.8"/>
<line x1="1437.6" y1="299" x2="1447.6" y2="299" stroke="#6f6f6f" stroke-width="1.8"/>
<line x1="1466.7" y1="220.4" x2="1466.7" y2="248" stroke="#6f6f6f" stroke-width="1.8"/>
<line x1="1461.7" y1="220.4" x2="1471.7" y2="220.4" stroke="#6f6f6f" stroke-width="1.8"/>
<line x1="1461.7" y1="248" x2="1471.7" y2="248" stroke="#6f6f6f" stroke-width="1.8"/>
<line x1="1491.4" y1="232.8" x2="1491.4" y2="249.4" stroke="#6f6f6f" stroke-width="1.8"/>
<line x1="1486.4" y1="232.8" x2="1496.4" y2="232.8" stroke="#6f6f6f" stroke-width="1.8"/>
<line x1="1486.4" y1="249.4" x2="1496.4" y2="249.4" stroke="#6f6f6f" stroke-width="1.8"/>
<line x1="1515.8" y1="232.8" x2="1515.8" y2="253.5" stroke="#6f6f6f" stroke-width="1.8"/>
<line x1="1510.8" y1="232.8" x2="1520.8" y2="232.8" stroke="#6f6f6f" stroke-width="1.8"/>
<line x1="1510.8" y1="253.5" x2="1520.8" y2="253.5" stroke="#6f6f6f" stroke-width="1.8"/>
<line x1="1539.5" y1="320.4" x2="1539.5" y2="328.6" stroke="#6f6f6f" stroke-width="1.8"/>
<line x1="1534.5" y1="320.4" x2="1544.5" y2="320.4" stroke="#6f6f6f" stroke-width="1.8"/>
<line x1="1534.5" y1="328.6" x2="1544.5" y2="328.6" stroke="#6f6f6f" stroke-width="1.8"/>
<line x1="1564.2" y1="319.7" x2="1564.2" y2="326.6" stroke="#6f6f6f" stroke-width="1.8"/>
<line x1="1559.2" y1="319.7" x2="1569.2" y2="319.7" stroke="#6f6f6f" stroke-width="1.8"/>
<line x1="1559.2" y1="326.6" x2="1569.2" y2="326.6" stroke="#6f6f6f" stroke-width="1.8"/>
<line x1="1589" y1="319.7" x2="1589" y2="326.6" stroke="#6f6f6f" stroke-width="1.8"/>
<line x1="1584" y1="319.7" x2="1594" y2="319.7" stroke="#6f6f6f" stroke-width="1.8"/>
<line x1="1584" y1="326.6" x2="1594" y2="326.6" stroke="#6f6f6f" stroke-width="1.8"/>
<polyline points="1320.7,270 1345.2,278.3 1369.4,279.7 1393.1,310.7 1417.9,305.9 1442.6,300.4 1466.7,250.7 1491.4,259.7 1515.8,265.9 1539.5,330 1564.2,328.6 1589,328.6" fill="none" stroke="#6f6f6f" stroke-width="2"/>
<line x1="1320.7" y1="254.9" x2="1320.7" y2="285.2" stroke="#6f6f6f" stroke-width="1.8"/>
<line x1="1315.7" y1="254.9" x2="1325.7" y2="254.9" stroke="#6f6f6f" stroke-width="1.8"/>
<line x1="1315.7" y1="285.2" x2="1325.7" y2="285.2" stroke="#6f6f6f" stroke-width="1.8"/>
<line x1="1345.2" y1="265.9" x2="1345.2" y2="290.7" stroke="#6f6f6f" stroke-width="1.8"/>
<line x1="1340.2" y1="265.9" x2="1350.2" y2="265.9" stroke="#6f6f6f" stroke-width="1.8"/>
<line x1="1340.2" y1="290.7" x2="1350.2" y2="290.7" stroke="#6f6f6f" stroke-width="1.8"/>
<line x1="1369.4" y1="264.5" x2="1369.4" y2="294.9" stroke="#6f6f6f" stroke-width="1.8"/>
<line x1="1364.4" y1="264.5" x2="1374.4" y2="264.5" stroke="#6f6f6f" stroke-width="1.8"/>
<line x1="1364.4" y1="294.9" x2="1374.4" y2="294.9" stroke="#6f6f6f" stroke-width="1.8"/>
<line x1="1393.1" y1="301.7" x2="1393.1" y2="319.7" stroke="#6f6f6f" stroke-width="1.8"/>
<line x1="1388.1" y1="301.7" x2="1398.1" y2="301.7" stroke="#6f6f6f" stroke-width="1.8"/>
<line x1="1388.1" y1="319.7" x2="1398.1" y2="319.7" stroke="#6f6f6f" stroke-width="1.8"/>
<line x1="1417.9" y1="296.9" x2="1417.9" y2="314.8" stroke="#6f6f6f" stroke-width="1.8"/>
<line x1="1412.9" y1="296.9" x2="1422.9" y2="296.9" stroke="#6f6f6f" stroke-width="1.8"/>
<line x1="1412.9" y1="314.8" x2="1422.9" y2="314.8" stroke="#6f6f6f" stroke-width="1.8"/>
<line x1="1442.6" y1="290" x2="1442.6" y2="310.7" stroke="#6f6f6f" stroke-width="1.8"/>
<line x1="1437.6" y1="290" x2="1447.6" y2="290" stroke="#6f6f6f" stroke-width="1.8"/>
<line x1="1437.6" y1="310.7" x2="1447.6" y2="310.7" stroke="#6f6f6f" stroke-width="1.8"/>
<line x1="1466.7" y1="240.4" x2="1466.7" y2="261.1" stroke="#6f6f6f" stroke-width="1.8"/>
<line x1="1461.7" y1="240.4" x2="1471.7" y2="240.4" stroke="#6f6f6f" stroke-width="1.8"/>
<line x1="1461.7" y1="261.1" x2="1471.7" y2="261.1" stroke="#6f6f6f" stroke-width="1.8"/>
<line x1="1491.4" y1="250.7" x2="1491.4" y2="268.7" stroke="#6f6f6f" stroke-width="1.8"/>
<line x1="1486.4" y1="250.7" x2="1496.4" y2="250.7" stroke="#6f6f6f" stroke-width="1.8"/>
<line x1="1486.4" y1="268.7" x2="1496.4" y2="268.7" stroke="#6f6f6f" stroke-width="1.8"/>
<line x1="1515.8" y1="255.6" x2="1515.8" y2="276.2" stroke="#6f6f6f" stroke-width="1.8"/>
<line x1="1510.8" y1="255.6" x2="1520.8" y2="255.6" stroke="#6f6f6f" stroke-width="1.8"/>
<line x1="1510.8" y1="276.2" x2="1520.8" y2="276.2" stroke="#6f6f6f" stroke-width="1.8"/>
<line x1="1539.5" y1="326.6" x2="1539.5" y2="333.5" stroke="#6f6f6f" stroke-width="1.8"/>
<line x1="1534.5" y1="326.6" x2="1544.5" y2="326.6" stroke="#6f6f6f" stroke-width="1.8"/>
<line x1="1534.5" y1="333.5" x2="1544.5" y2="333.5" stroke="#6f6f6f" stroke-width="1.8"/>
<line x1="1564.2" y1="325.2" x2="1564.2" y2="332.1" stroke="#6f6f6f" stroke-width="1.8"/>
<line x1="1559.2" y1="325.2" x2="1569.2" y2="325.2" stroke="#6f6f6f" stroke-width="1.8"/>
<line x1="1559.2" y1="332.1" x2="1569.2" y2="332.1" stroke="#6f6f6f" stroke-width="1.8"/>
<line x1="1589" y1="325.2" x2="1589" y2="332.1" stroke="#6f6f6f" stroke-width="1.8"/>
<line x1="1584" y1="325.2" x2="1594" y2="325.2" stroke="#6f6f6f" stroke-width="1.8"/>
<line x1="1584" y1="332.1" x2="1594" y2="332.1" stroke="#6f6f6f" stroke-width="1.8"/>
<circle cx="1320.7" cy="150.8" r="4.6" fill="#c1606c" stroke="#c1606c" stroke-width="1.8"/>
<circle cx="1345.2" cy="168" r="4.6" fill="#c1606c" stroke="#c1606c" stroke-width="1.8"/>
<circle cx="1369.4" cy="176.3" r="4.6" fill="#c1606c" stroke="#c1606c" stroke-width="1.8"/>
<circle cx="1393.1" cy="302.4" r="4.6" fill="#c1606c" stroke="#c1606c" stroke-width="1.8"/>
<circle cx="1417.9" cy="294.9" r="4.6" fill="#c1606c" stroke="#c1606c" stroke-width="1.8"/>
<circle cx="1442.6" cy="285.2" r="4.6" fill="#c1606c" stroke="#c1606c" stroke-width="1.8"/>
<circle cx="1466.7" cy="170.8" r="4.6" fill="#c1606c" stroke="#c1606c" stroke-width="1.8"/>
<circle cx="1491.4" cy="201.1" r="4.6" fill="#c1606c" stroke="#c1606c" stroke-width="1.8"/>
<circle cx="1515.8" cy="199" r="4.6" fill="#c1606c" stroke="#c1606c" stroke-width="1.8"/>
<circle cx="1539.5" cy="330.7" r="4.6" fill="#c1606c" stroke="#c1606c" stroke-width="1.8"/>
<circle cx="1564.2" cy="339" r="4.6" fill="#c1606c" stroke="#c1606c" stroke-width="1.8"/>
<circle cx="1589" cy="341" r="4.6" fill="#c1606c" stroke="#c1606c" stroke-width="1.8"/>
<circle cx="1320.7" cy="197.7" r="4.6" fill="#fff" stroke="#c1606c" stroke-width="1.8"/>
<circle cx="1345.2" cy="212.1" r="4.6" fill="#fff" stroke="#c1606c" stroke-width="1.8"/>
<circle cx="1369.4" cy="218.3" r="4.6" fill="#fff" stroke="#c1606c" stroke-width="1.8"/>
<circle cx="1393.1" cy="312.8" r="4.6" fill="#fff" stroke="#c1606c" stroke-width="1.8"/>
<circle cx="1417.9" cy="307.3" r="4.6" fill="#fff" stroke="#c1606c" stroke-width="1.8"/>
<circle cx="1442.6" cy="302.4" r="4.6" fill="#fff" stroke="#c1606c" stroke-width="1.8"/>
<circle cx="1466.7" cy="194.9" r="4.6" fill="#fff" stroke="#c1606c" stroke-width="1.8"/>
<circle cx="1491.4" cy="220.4" r="4.6" fill="#fff" stroke="#c1606c" stroke-width="1.8"/>
<circle cx="1515.8" cy="215.6" r="4.6" fill="#fff" stroke="#c1606c" stroke-width="1.8"/>
<circle cx="1539.5" cy="341" r="4.6" fill="#fff" stroke="#c1606c" stroke-width="1.8"/>
<circle cx="1564.2" cy="348.6" r="4.6" fill="#fff" stroke="#c1606c" stroke-width="1.8"/>
<circle cx="1589" cy="350.7" r="4.6" fill="#fff" stroke="#c1606c" stroke-width="1.8"/>
<circle cx="1320.7" cy="242.5" r="4.6" fill="#6f6f6f" stroke="#6f6f6f" stroke-width="1.8"/>
<circle cx="1345.2" cy="251.4" r="4.6" fill="#6f6f6f" stroke="#6f6f6f" stroke-width="1.8"/>
<circle cx="1369.4" cy="254.2" r="4.6" fill="#6f6f6f" stroke="#6f6f6f" stroke-width="1.8"/>
<circle cx="1393.1" cy="302.4" r="4.6" fill="#6f6f6f" stroke="#6f6f6f" stroke-width="1.8"/>
<circle cx="1417.9" cy="298.3" r="4.6" fill="#6f6f6f" stroke="#6f6f6f" stroke-width="1.8"/>
<circle cx="1442.6" cy="292.1" r="4.6" fill="#6f6f6f" stroke="#6f6f6f" stroke-width="1.8"/>
<circle cx="1466.7" cy="234.2" r="4.6" fill="#6f6f6f" stroke="#6f6f6f" stroke-width="1.8"/>
<circle cx="1491.4" cy="241.1" r="4.6" fill="#6f6f6f" stroke="#6f6f6f" stroke-width="1.8"/>
<circle cx="1515.8" cy="243.2" r="4.6" fill="#6f6f6f" stroke="#6f6f6f" stroke-width="1.8"/>
<circle cx="1539.5" cy="324.5" r="4.6" fill="#6f6f6f" stroke="#6f6f6f" stroke-width="1.8"/>
<circle cx="1564.2" cy="323.1" r="4.6" fill="#6f6f6f" stroke="#6f6f6f" stroke-width="1.8"/>
<circle cx="1589" cy="323.1" r="4.6" fill="#6f6f6f" stroke="#6f6f6f" stroke-width="1.8"/>
<circle cx="1320.7" cy="270" r="4.6" fill="#fff" stroke="#6f6f6f" stroke-width="1.8"/>
<circle cx="1345.2" cy="278.3" r="4.6" fill="#fff" stroke="#6f6f6f" stroke-width="1.8"/>
<circle cx="1369.4" cy="279.7" r="4.6" fill="#fff" stroke="#6f6f6f" stroke-width="1.8"/>
<circle cx="1393.1" cy="310.7" r="4.6" fill="#fff" stroke="#6f6f6f" stroke-width="1.8"/>
<circle cx="1417.9" cy="305.9" r="4.6" fill="#fff" stroke="#6f6f6f" stroke-width="1.8"/>
<circle cx="1442.6" cy="300.4" r="4.6" fill="#fff" stroke="#6f6f6f" stroke-width="1.8"/>
<circle cx="1466.7" cy="250.7" r="4.6" fill="#fff" stroke="#6f6f6f" stroke-width="1.8"/>
<circle cx="1491.4" cy="259.7" r="4.6" fill="#fff" stroke="#6f6f6f" stroke-width="1.8"/>
<circle cx="1515.8" cy="265.9" r="4.6" fill="#fff" stroke="#6f6f6f" stroke-width="1.8"/>
<circle cx="1539.5" cy="330" r="4.6" fill="#fff" stroke="#6f6f6f" stroke-width="1.8"/>
<circle cx="1564.2" cy="328.6" r="4.6" fill="#fff" stroke="#6f6f6f" stroke-width="1.8"/>
<circle cx="1589" cy="328.6" r="4.6" fill="#fff" stroke="#6f6f6f" stroke-width="1.8"/>
<line x1="1611" y1="102" x2="1631" y2="102" stroke="#c1606c" stroke-width="2"/>
<circle cx="1621" cy="102" r="4.6" fill="#c1606c" stroke="#c1606c" stroke-width="1.8"/>
<text x="1639" y="110" font-size="22">VR DMSO</text>
<line x1="1611" y1="128.1" x2="1631" y2="128.1" stroke="#c1606c" stroke-width="2"/>
<circle cx="1621" cy="128.1" r="4.6" fill="#fff" stroke="#c1606c" stroke-width="1.8"/>
<text x="1639" y="136.1" font-size="22">VR 20μM ETO</text>
<line x1="1611" y1="154.2" x2="1631" y2="154.2" stroke="#6f6f6f" stroke-width="2"/>
<circle cx="1621" cy="154.2" r="4.6" fill="#6f6f6f" stroke="#6f6f6f" stroke-width="1.8"/>
<text x="1639" y="162.2" font-size="22">A375 DMSO</text>
<line x1="1611" y1="180.3" x2="1631" y2="180.3" stroke="#6f6f6f" stroke-width="2"/>
<circle cx="1621" cy="180.3" r="4.6" fill="#fff" stroke="#6f6f6f" stroke-width="1.8"/>
<text x="1639" y="188.3" font-size="22">A375 20μM ETO</text>
<text x="1134" y="561" font-size="44" font-weight="bold" stroke="#111" stroke-width="1.3">c</text>
<rect x="1236" y="787.5" width="19" height="95.8" fill="#a9a9a9" stroke="#1e1e1e" stroke-width="1.4"/>
<circle cx="1238.5" cy="778.6" r="2.9" fill="none" stroke="#1a1a1a" stroke-width="1.1"/>
<circle cx="1243.2" cy="785.5" r="2.9" fill="none" stroke="#1a1a1a" stroke-width="1.1"/>
<circle cx="1247.8" cy="788.5" r="2.9" fill="none" stroke="#1a1a1a" stroke-width="1.1"/>
<circle cx="1252.5" cy="792.4" r="2.9" fill="none" stroke="#1a1a1a" stroke-width="1.1"/>
<line x1="1245.5" y1="783" x2="1245.5" y2="791.9" stroke="#111" stroke-width="1.8"/>
<line x1="1241.5" y1="783" x2="1249.5" y2="783" stroke="#111" stroke-width="1.8"/>
<line x1="1241.5" y1="791.9" x2="1249.5" y2="791.9" stroke="#111" stroke-width="1.8"/>
<rect x="1263" y="816.1" width="19" height="67.2" fill="#a9a9a9" stroke="#1e1e1e" stroke-width="1.4"/>
<circle cx="1265.5" cy="803.3" r="2.9" fill="none" stroke="#1a1a1a" stroke-width="1.1"/>
<circle cx="1270.2" cy="814.1" r="2.9" fill="none" stroke="#1a1a1a" stroke-width="1.1"/>
<circle cx="1274.8" cy="818.1" r="2.9" fill="none" stroke="#1a1a1a" stroke-width="1.1"/>
<circle cx="1279.5" cy="820.1" r="2.9" fill="none" stroke="#1a1a1a" stroke-width="1.1"/>
<line x1="1272.5" y1="811.2" x2="1272.5" y2="821.1" stroke="#111" stroke-width="1.8"/>
<line x1="1268.5" y1="811.2" x2="1276.5" y2="811.2" stroke="#111" stroke-width="1.8"/>
<line x1="1268.5" y1="821.1" x2="1276.5" y2="821.1" stroke="#111" stroke-width="1.8"/>
<rect x="1290.5" y="648.2" width="18.5" height="235.1" fill="#bc707a" stroke="#1e1e1e" stroke-width="1.4"/>
<circle cx="1292.8" cy="629.4" r="2.9" fill="none" stroke="#1a1a1a" stroke-width="1.1"/>
<circle cx="1297.4" cy="645.2" r="2.9" fill="none" stroke="#1a1a1a" stroke-width="1.1"/>
<circle cx="1302.1" cy="649.1" r="2.9" fill="none" stroke="#1a1a1a" stroke-width="1.1"/>
<circle cx="1306.7" cy="662" r="2.9" fill="none" stroke="#1a1a1a" stroke-width="1.1"/>
<line x1="1299.8" y1="640.3" x2="1299.8" y2="656.1" stroke="#111" stroke-width="1.8"/>
<line x1="1295.8" y1="640.3" x2="1303.8" y2="640.3" stroke="#111" stroke-width="1.8"/>
<line x1="1295.8" y1="656.1" x2="1303.8" y2="656.1" stroke="#111" stroke-width="1.8"/>
<rect x="1317" y="682.7" width="18.5" height="200.6" fill="#bc707a" stroke="#1e1e1e" stroke-width="1.4"/>
<circle cx="1319.3" cy="664" r="2.9" fill="none" stroke="#1a1a1a" stroke-width="1.1"/>
<circle cx="1323.9" cy="679.8" r="2.9" fill="none" stroke="#1a1a1a" stroke-width="1.1"/>
<circle cx="1328.6" cy="685.7" r="2.9" fill="none" stroke="#1a1a1a" stroke-width="1.1"/>
<circle cx="1333.2" cy="699.5" r="2.9" fill="none" stroke="#1a1a1a" stroke-width="1.1"/>
<line x1="1326.2" y1="674.8" x2="1326.2" y2="690.6" stroke="#111" stroke-width="1.8"/>
<line x1="1322.2" y1="674.8" x2="1330.2" y2="674.8" stroke="#111" stroke-width="1.8"/>
<line x1="1322.2" y1="690.6" x2="1330.2" y2="690.6" stroke="#111" stroke-width="1.8"/>
<line x1="1226.5" y1="586.9" x2="1226.5" y2="884.1" stroke="#111" stroke-width="1.6"/>
<line x1="1223" y1="883.3" x2="1226.5" y2="883.3" stroke="#111" stroke-width="1.6"/>
<text x="1216" y="892.2" font-size="25" text-anchor="end">0</text>
<line x1="1223" y1="784.5" x2="1226.5" y2="784.5" stroke="#111" stroke-width="1.6"/>
<text x="1216" y="793.5" font-size="25" text-anchor="end">10</text>
<line x1="1223" y1="685.7" x2="1226.5" y2="685.7" stroke="#111" stroke-width="1.6"/>
<text x="1216" y="694.6" font-size="25" text-anchor="end">20</text>
<line x1="1223" y1="586.9" x2="1226.5" y2="586.9" stroke="#111" stroke-width="1.6"/>
<text x="1216" y="595.8" font-size="25" text-anchor="end">30</text>
<line x1="1226.5" y1="883.3" x2="1345" y2="883.3" stroke="#111" stroke-width="1.6"/>
<line x1="1245.5" y1="883.3" x2="1245.5" y2="888.3" stroke="#111" stroke-width="1.6"/>
<line x1="1272.5" y1="883.3" x2="1272.5" y2="888.3" stroke="#111" stroke-width="1.6"/>
<line x1="1299.8" y1="883.3" x2="1299.8" y2="888.3" stroke="#111" stroke-width="1.6"/>
<line x1="1326.2" y1="883.3" x2="1326.2" y2="888.3" stroke="#111" stroke-width="1.6"/>
<text x="1284" y="561" font-size="26.5" text-anchor="middle">basal</text>
<line x1="1249" y1="765.7" x2="1278" y2="765.7" stroke="#111" stroke-width="1.6"/>
<text x="1263.5" y="771.6" font-size="31.5" text-anchor="middle" stroke="#111" stroke-width="0.6">**</text>
<line x1="1297.5" y1="620" x2="1332.7" y2="620" stroke="#111" stroke-width="1.6"/>
<text x="1315.1" y="625.9" font-size="31.5" text-anchor="middle" stroke="#111" stroke-width="0.6">**</text>
<text x="1245.5" y="912.5" font-size="30" text-anchor="middle" stroke="#111" stroke-width="1">–</text>
<text x="1272.5" y="912.5" font-size="30" text-anchor="middle" stroke="#111" stroke-width="1">+</text>
<text x="1299.8" y="912.5" font-size="30" text-anchor="middle" stroke="#111" stroke-width="1">–</text>
<text x="1326.2" y="912.5" font-size="30" text-anchor="middle" stroke="#111" stroke-width="1">+</text>
<line x1="1224" y1="920.8" x2="1278.4" y2="920.8" stroke="#111" stroke-width="1.6"/>
<line x1="1289.3" y1="920.8" x2="1345" y2="920.8" stroke="#111" stroke-width="1.6"/>
<text x="1246.7" y="952.5" font-size="32.5" text-anchor="middle">A</text>
<text x="1314.6" y="952.5" font-size="32.5" text-anchor="middle">VR</text>
<rect x="1422" y="762.5" width="19" height="120.8" fill="#a9a9a9" stroke="#1e1e1e" stroke-width="1.4"/>
<circle cx="1424.5" cy="746.4" r="2.9" fill="none" stroke="#1a1a1a" stroke-width="1.1"/>
<circle cx="1429.2" cy="757.4" r="2.9" fill="none" stroke="#1a1a1a" stroke-width="1.1"/>
<circle cx="1433.8" cy="766.7" r="2.9" fill="none" stroke="#1a1a1a" stroke-width="1.1"/>
<circle cx="1438.5" cy="778.5" r="2.9" fill="none" stroke="#1a1a1a" stroke-width="1.1"/>
<line x1="1431.5" y1="754" x2="1431.5" y2="770.9" stroke="#111" stroke-width="1.8"/>
<line x1="1427.5" y1="754" x2="1435.5" y2="754" stroke="#111" stroke-width="1.8"/>
<line x1="1427.5" y1="770.9" x2="1435.5" y2="770.9" stroke="#111" stroke-width="1.8"/>
<rect x="1449" y="787" width="18" height="96.3" fill="#a9a9a9" stroke="#1e1e1e" stroke-width="1.4"/>
<circle cx="1451.2" cy="783.6" r="2.9" fill="none" stroke="#1a1a1a" stroke-width="1.1"/>
<circle cx="1455.8" cy="785.3" r="2.9" fill="none" stroke="#1a1a1a" stroke-width="1.1"/>
<circle cx="1460.2" cy="787" r="2.9" fill="none" stroke="#1a1a1a" stroke-width="1.1"/>
<circle cx="1464.8" cy="788.7" r="2.9" fill="none" stroke="#1a1a1a" stroke-width="1.1"/>
<line x1="1458" y1="784.9" x2="1458" y2="789.1" stroke="#111" stroke-width="1.8"/>
<line x1="1454" y1="784.9" x2="1462" y2="784.9" stroke="#111" stroke-width="1.8"/>
<line x1="1454" y1="789.1" x2="1462" y2="789.1" stroke="#111" stroke-width="1.8"/>
<rect x="1476" y="652.6" width="19" height="230.7" fill="#bc707a" stroke="#1e1e1e" stroke-width="1.4"/>
<circle cx="1478.5" cy="605.3" r="2.9" fill="none" stroke="#1a1a1a" stroke-width="1.1"/>
<circle cx="1483.2" cy="650.9" r="2.9" fill="none" stroke="#1a1a1a" stroke-width="1.1"/>
<circle cx="1487.8" cy="655.1" r="2.9" fill="none" stroke="#1a1a1a" stroke-width="1.1"/>
<circle cx="1492.5" cy="709.2" r="2.9" fill="none" stroke="#1a1a1a" stroke-width="1.1"/>
<line x1="1485.5" y1="630.6" x2="1485.5" y2="674.6" stroke="#111" stroke-width="1.8"/>
<line x1="1481.5" y1="630.6" x2="1489.5" y2="630.6" stroke="#111" stroke-width="1.8"/>
<line x1="1481.5" y1="674.6" x2="1489.5" y2="674.6" stroke="#111" stroke-width="1.8"/>
<rect x="1502.5" y="658.5" width="18.1" height="224.8" fill="#bc707a" stroke="#1e1e1e" stroke-width="1.4"/>
<circle cx="1504.8" cy="620.5" r="2.9" fill="none" stroke="#1a1a1a" stroke-width="1.1"/>
<circle cx="1509.3" cy="646.7" r="2.9" fill="none" stroke="#1a1a1a" stroke-width="1.1"/>
<circle cx="1513.8" cy="655.1" r="2.9" fill="none" stroke="#1a1a1a" stroke-width="1.1"/>
<circle cx="1518.3" cy="710.1" r="2.9" fill="none" stroke="#1a1a1a" stroke-width="1.1"/>
<line x1="1511.5" y1="639.9" x2="1511.5" y2="677.1" stroke="#111" stroke-width="1.8"/>
<line x1="1507.5" y1="639.9" x2="1515.5" y2="639.9" stroke="#111" stroke-width="1.8"/>
<line x1="1507.5" y1="677.1" x2="1515.5" y2="677.1" stroke="#111" stroke-width="1.8"/>
<line x1="1413" y1="586" x2="1413" y2="884.1" stroke="#111" stroke-width="1.6"/>
<line x1="1409.5" y1="883.3" x2="1413" y2="883.3" stroke="#111" stroke-width="1.6"/>
<text x="1402.5" y="892.2" font-size="25" text-anchor="end">0</text>
<line x1="1409.5" y1="798.8" x2="1413" y2="798.8" stroke="#111" stroke-width="1.6"/>
<text x="1402.5" y="807.8" font-size="25" text-anchor="end">10</text>
<line x1="1409.5" y1="714.3" x2="1413" y2="714.3" stroke="#111" stroke-width="1.6"/>
<text x="1402.5" y="723.2" font-size="25" text-anchor="end">20</text>
<line x1="1409.5" y1="629.8" x2="1413" y2="629.8" stroke="#111" stroke-width="1.6"/>
<text x="1402.5" y="638.8" font-size="25" text-anchor="end">30</text>
<line x1="1413" y1="883.3" x2="1532" y2="883.3" stroke="#111" stroke-width="1.6"/>
<line x1="1431.5" y1="883.3" x2="1431.5" y2="888.3" stroke="#111" stroke-width="1.6"/>
<line x1="1458" y1="883.3" x2="1458" y2="888.3" stroke="#111" stroke-width="1.6"/>
<line x1="1485.5" y1="883.3" x2="1485.5" y2="888.3" stroke="#111" stroke-width="1.6"/>
<line x1="1511.5" y1="883.3" x2="1511.5" y2="888.3" stroke="#111" stroke-width="1.6"/>
<text x="1467" y="561" font-size="26.5" text-anchor="middle">maximal</text>
<text x="1431.5" y="912.5" font-size="30" text-anchor="middle" stroke="#111" stroke-width="1">–</text>
<text x="1458" y="912.5" font-size="30" text-anchor="middle" stroke="#111" stroke-width="1">+</text>
<text x="1485.5" y="912.5" font-size="30" text-anchor="middle" stroke="#111" stroke-width="1">–</text>
<text x="1511.5" y="912.5" font-size="30" text-anchor="middle" stroke="#111" stroke-width="1">+</text>
<line x1="1412.8" y1="920.8" x2="1465.8" y2="920.8" stroke="#111" stroke-width="1.6"/>
<line x1="1476.2" y1="920.8" x2="1532.8" y2="920.8" stroke="#111" stroke-width="1.6"/>
<text x="1435.5" y="952.5" font-size="32.5" text-anchor="middle">A</text>
<text x="1504.7" y="952.5" font-size="32.5" text-anchor="middle">VR</text>
<rect x="1604" y="780.9" width="19" height="102.4" fill="#a9a9a9" stroke="#1e1e1e" stroke-width="1.4"/>
<circle cx="1606.5" cy="772" r="2.9" fill="none" stroke="#1a1a1a" stroke-width="1.1"/>
<circle cx="1611.2" cy="776.5" r="2.9" fill="none" stroke="#1a1a1a" stroke-width="1.1"/>
<circle cx="1615.8" cy="780.9" r="2.9" fill="none" stroke="#1a1a1a" stroke-width="1.1"/>
<circle cx="1620.5" cy="789.8" r="2.9" fill="none" stroke="#1a1a1a" stroke-width="1.1"/>
<line x1="1613.5" y1="776.5" x2="1613.5" y2="785.4" stroke="#111" stroke-width="1.8"/>
<line x1="1609.5" y1="776.5" x2="1617.5" y2="776.5" stroke="#111" stroke-width="1.8"/>
<line x1="1609.5" y1="785.4" x2="1617.5" y2="785.4" stroke="#111" stroke-width="1.8"/>
<rect x="1631.5" y="823.9" width="19" height="59.4" fill="#a9a9a9" stroke="#1e1e1e" stroke-width="1.4"/>
<circle cx="1634" cy="801.7" r="2.9" fill="none" stroke="#1a1a1a" stroke-width="1.1"/>
<circle cx="1638.7" cy="819.5" r="2.9" fill="none" stroke="#1a1a1a" stroke-width="1.1"/>
<circle cx="1643.3" cy="826.9" r="2.9" fill="none" stroke="#1a1a1a" stroke-width="1.1"/>
<circle cx="1648" cy="834.3" r="2.9" fill="none" stroke="#1a1a1a" stroke-width="1.1"/>
<line x1="1641" y1="815" x2="1641" y2="832.8" stroke="#111" stroke-width="1.8"/>
<line x1="1637" y1="815" x2="1645" y2="815" stroke="#111" stroke-width="1.8"/>
<line x1="1637" y1="832.8" x2="1645" y2="832.8" stroke="#111" stroke-width="1.8"/>
<rect x="1658.6" y="625.1" width="19" height="258.2" fill="#bc707a" stroke="#1e1e1e" stroke-width="1.4"/>
<circle cx="1661.1" cy="605.8" r="2.9" fill="none" stroke="#1a1a1a" stroke-width="1.1"/>
<circle cx="1665.8" cy="616.2" r="2.9" fill="none" stroke="#1a1a1a" stroke-width="1.1"/>
<circle cx="1670.4" cy="631" r="2.9" fill="none" stroke="#1a1a1a" stroke-width="1.1"/>
<circle cx="1675.1" cy="647.3" r="2.9" fill="none" stroke="#1a1a1a" stroke-width="1.1"/>
<line x1="1668.1" y1="616.2" x2="1668.1" y2="634" stroke="#111" stroke-width="1.8"/>
<line x1="1664.1" y1="616.2" x2="1672.1" y2="616.2" stroke="#111" stroke-width="1.8"/>
<line x1="1664.1" y1="634" x2="1672.1" y2="634" stroke="#111" stroke-width="1.8"/>
<rect x="1685" y="694.8" width="18" height="188.5" fill="#bc707a" stroke="#1e1e1e" stroke-width="1.4"/>
<circle cx="1687.2" cy="683" r="2.9" fill="none" stroke="#1a1a1a" stroke-width="1.1"/>
<circle cx="1691.8" cy="690.4" r="2.9" fill="none" stroke="#1a1a1a" stroke-width="1.1"/>
<circle cx="1696.2" cy="696.3" r="2.9" fill="none" stroke="#1a1a1a" stroke-width="1.1"/>
<circle cx="1700.8" cy="703.7" r="2.9" fill="none" stroke="#1a1a1a" stroke-width="1.1"/>
<line x1="1694" y1="689.6" x2="1694" y2="700" stroke="#111" stroke-width="1.8"/>
<line x1="1690" y1="689.6" x2="1698" y2="689.6" stroke="#111" stroke-width="1.8"/>
<line x1="1690" y1="700" x2="1698" y2="700" stroke="#111" stroke-width="1.8"/>
<line x1="1594.8" y1="586.7" x2="1594.8" y2="884.1" stroke="#111" stroke-width="1.6"/>
<line x1="1591.3" y1="883.3" x2="1594.8" y2="883.3" stroke="#111" stroke-width="1.6"/>
<text x="1584.3" y="892.2" font-size="25" text-anchor="end">0</text>
<line x1="1591.3" y1="809.1" x2="1594.8" y2="809.1" stroke="#111" stroke-width="1.6"/>
<text x="1584.3" y="818" font-size="25" text-anchor="end">5</text>
<line x1="1591.3" y1="734.9" x2="1594.8" y2="734.9" stroke="#111" stroke-width="1.6"/>
<text x="1584.3" y="743.9" font-size="25" text-anchor="end">10</text>
<line x1="1591.3" y1="660.7" x2="1594.8" y2="660.7" stroke="#111" stroke-width="1.6"/>
<text x="1584.3" y="669.6" font-size="25" text-anchor="end">15</text>
<line x1="1591.3" y1="586.5" x2="1594.8" y2="586.5" stroke="#111" stroke-width="1.6"/>
<text x="1584.3" y="595.5" font-size="25" text-anchor="end">20</text>
<line x1="1594.8" y1="883.3" x2="1718" y2="883.3" stroke="#111" stroke-width="1.6"/>
<line x1="1613.5" y1="883.3" x2="1613.5" y2="888.3" stroke="#111" stroke-width="1.6"/>
<line x1="1641" y1="883.3" x2="1641" y2="888.3" stroke="#111" stroke-width="1.6"/>
<line x1="1668.1" y1="883.3" x2="1668.1" y2="888.3" stroke="#111" stroke-width="1.6"/>
<line x1="1694" y1="883.3" x2="1694" y2="888.3" stroke="#111" stroke-width="1.6"/>
<text x="1658.6" y="561" font-size="26.5" text-anchor="middle">ATP</text>
<line x1="1613" y1="761.6" x2="1649" y2="761.6" stroke="#111" stroke-width="1.6"/>
<text x="1631" y="767.5" font-size="31.5" text-anchor="middle" stroke="#111" stroke-width="0.6">**</text>
<line x1="1668.6" y1="592.8" x2="1703" y2="592.8" stroke="#111" stroke-width="1.6"/>
<text x="1685.8" y="598.7" font-size="31.5" text-anchor="middle" stroke="#111" stroke-width="0.6">***</text>
<text x="1613.5" y="912.5" font-size="30" text-anchor="middle" stroke="#111" stroke-width="1">–</text>
<text x="1641" y="912.5" font-size="30" text-anchor="middle" stroke="#111" stroke-width="1">+</text>
<text x="1668.1" y="912.5" font-size="30" text-anchor="middle" stroke="#111" stroke-width="1">–</text>
<text x="1694" y="912.5" font-size="30" text-anchor="middle" stroke="#111" stroke-width="1">+</text>
<line x1="1598.4" y1="920.8" x2="1651.3" y2="920.8" stroke="#111" stroke-width="1.6"/>
<line x1="1663" y1="920.8" x2="1718" y2="920.8" stroke="#111" stroke-width="1.6"/>
<text x="1621" y="952.5" font-size="32.5" text-anchor="middle">A</text>
<text x="1691" y="952.5" font-size="32.5" text-anchor="middle">VR</text>
<text x="1166" y="742" font-size="29.4" text-anchor="middle" transform="rotate(-90 1166 742)" dominant-baseline="middle">OCR (pmol/min)</text>
<text x="1730" y="881.5" font-size="23">ETO</text>
<text x="1722" y="909.5" font-size="22.5">20μM</text>
<text x="1232" y="1054" font-size="44" font-weight="bold" stroke="#111" stroke-width="1.3">d</text>
<rect x="1406" y="1087.7" width="34" height="243.9" fill="#a9a9a9" stroke="#1e1e1e" stroke-width="1.4"/>
<circle cx="1417" cy="1084" r="5" fill="none" stroke="#1a1a1a" stroke-width="1.6"/>
<circle cx="1428" cy="1085.3" r="5" fill="none" stroke="#1a1a1a" stroke-width="1.6"/>
<circle cx="1420" cy="1090.1" r="5" fill="none" stroke="#1a1a1a" stroke-width="1.6"/>
<circle cx="1429" cy="1092.6" r="5" fill="none" stroke="#1a1a1a" stroke-width="1.6"/>
<circle cx="1422" cy="1093.8" r="5" fill="none" stroke="#1a1a1a" stroke-width="1.6"/>
<circle cx="1424" cy="1087.7" r="5" fill="none" stroke="#1a1a1a" stroke-width="1.6"/>
<line x1="1423" y1="1085.3" x2="1423" y2="1090.1" stroke="#111" stroke-width="1.8"/>
<line x1="1416" y1="1085.3" x2="1430" y2="1085.3" stroke="#111" stroke-width="1.8"/>
<line x1="1416" y1="1090.1" x2="1430" y2="1090.1" stroke="#111" stroke-width="1.8"/>
<rect x="1452.7" y="1123.1" width="34.3" height="208.5" fill="#a9a9a9" stroke="#1e1e1e" stroke-width="1.4"/>
<circle cx="1462.8" cy="1112.1" r="5" fill="none" stroke="#1a1a1a" stroke-width="1.6"/>
<circle cx="1469.8" cy="1114.5" r="5" fill="none" stroke="#1a1a1a" stroke-width="1.6"/>
<circle cx="1476.8" cy="1117" r="5" fill="none" stroke="#1a1a1a" stroke-width="1.6"/>
<circle cx="1462.8" cy="1126.7" r="5" fill="none" stroke="#1a1a1a" stroke-width="1.6"/>
<circle cx="1475.8" cy="1131.6" r="5" fill="none" stroke="#1a1a1a" stroke-width="1.6"/>
<circle cx="1469.8" cy="1136.5" r="5" fill="none" stroke="#1a1a1a" stroke-width="1.6"/>
<line x1="1469.8" y1="1119.2" x2="1469.8" y2="1127" stroke="#111" stroke-width="1.8"/>
<line x1="1462.8" y1="1119.2" x2="1476.8" y2="1119.2" stroke="#111" stroke-width="1.8"/>
<line x1="1462.8" y1="1127" x2="1476.8" y2="1127" stroke="#111" stroke-width="1.8"/>
<rect x="1537" y="1087.7" width="34" height="243.9" fill="#bc707a" stroke="#1e1e1e" stroke-width="1.4"/>
<circle cx="1548" cy="1063.3" r="5" fill="none" stroke="#1a1a1a" stroke-width="1.6"/>
<circle cx="1560" cy="1065.7" r="5" fill="none" stroke="#1a1a1a" stroke-width="1.6"/>
<circle cx="1550" cy="1077.9" r="5" fill="none" stroke="#1a1a1a" stroke-width="1.6"/>
<circle cx="1558" cy="1077.9" r="5" fill="none" stroke="#1a1a1a" stroke-width="1.6"/>
<circle cx="1548" cy="1117" r="5" fill="none" stroke="#1a1a1a" stroke-width="1.6"/>
<circle cx="1560" cy="1117" r="5" fill="none" stroke="#1a1a1a" stroke-width="1.6"/>
<line x1="1554" y1="1077.5" x2="1554" y2="1097.9" stroke="#111" stroke-width="1.8"/>
<line x1="1547" y1="1077.5" x2="1561" y2="1077.5" stroke="#111" stroke-width="1.8"/>
<line x1="1547" y1="1097.9" x2="1561" y2="1097.9" stroke="#111" stroke-width="1.8"/>
<rect x="1585" y="1218.2" width="34" height="113.4" fill="#bc707a" stroke="#1e1e1e" stroke-width="1.4"/>
<circle cx="1608" cy="1212.1" r="5" fill="none" stroke="#1a1a1a" stroke-width="1.6"/>
<circle cx="1596" cy="1217" r="5" fill="none" stroke="#1a1a1a" stroke-width="1.6"/>
<circle cx="1602" cy="1218.2" r="5" fill="none" stroke="#1a1a1a" stroke-width="1.6"/>
<circle cx="1596" cy="1219.4" r="5" fill="none" stroke="#1a1a1a" stroke-width="1.6"/>
<circle cx="1608" cy="1220.6" r="5" fill="none" stroke="#1a1a1a" stroke-width="1.6"/>
<circle cx="1602" cy="1221.8" r="5" fill="none" stroke="#1a1a1a" stroke-width="1.6"/>
<line x1="1602" y1="1216.2" x2="1602" y2="1220.1" stroke="#111" stroke-width="1.8"/>
<line x1="1595" y1="1216.2" x2="1609" y2="1216.2" stroke="#111" stroke-width="1.8"/>
<line x1="1595" y1="1220.1" x2="1609" y2="1220.1" stroke="#111" stroke-width="1.8"/>
<line x1="1389.3" y1="1038.8" x2="1389.3" y2="1332.4" stroke="#111" stroke-width="1.6"/>
<line x1="1382.3" y1="1331.6" x2="1389.3" y2="1331.6" stroke="#111" stroke-width="1.6"/>
<text x="1380.3" y="1341.3" font-size="27" text-anchor="end">0</text>
<line x1="1382.3" y1="1270.6" x2="1389.3" y2="1270.6" stroke="#111" stroke-width="1.6"/>
<text x="1380.3" y="1280.3" font-size="27" text-anchor="end">25</text>
<line x1="1382.3" y1="1209.6" x2="1389.3" y2="1209.6" stroke="#111" stroke-width="1.6"/>
<text x="1380.3" y="1219.3" font-size="27" text-anchor="end">50</text>
<line x1="1382.3" y1="1148.7" x2="1389.3" y2="1148.7" stroke="#111" stroke-width="1.6"/>
<text x="1380.3" y="1158.3" font-size="27" text-anchor="end">75</text>
<line x1="1382.3" y1="1087.7" x2="1389.3" y2="1087.7" stroke="#111" stroke-width="1.6"/>
<text x="1380.3" y="1097.4" font-size="27" text-anchor="end">100</text>
<line x1="1389.3" y1="1331.6" x2="1634.6" y2="1331.6" stroke="#111" stroke-width="1.8"/>
<line x1="1423" y1="1331.6" x2="1423" y2="1338" stroke="#111" stroke-width="1.8"/>
<line x1="1470" y1="1331.6" x2="1470" y2="1338" stroke="#111" stroke-width="1.8"/>
<line x1="1554" y1="1331.6" x2="1554" y2="1338" stroke="#111" stroke-width="1.8"/>
<line x1="1602" y1="1331.6" x2="1602" y2="1338" stroke="#111" stroke-width="1.8"/>
<line x1="1389.3" y1="1087.7" x2="1634.6" y2="1087.7" stroke="#111" stroke-width="2" stroke-dasharray="8,5"/>
<path d="M1472.6,1069 V1035 H1598.4 V1200.4" fill="none" stroke="#111" stroke-width="2"/>
<text x="1514.7" y="1033.5" font-size="36" text-anchor="middle" stroke="#111" stroke-width="0.6">***</text>
<text x="1428.7" y="1363.7" font-size="22.5" text-anchor="middle">–</text>
<text x="1474" y="1363.7" font-size="22.5" text-anchor="middle">20μM</text>
<text x="1546" y="1363.7" font-size="22.5" text-anchor="middle">–</text>
<text x="1598" y="1363.7" font-size="22.5" text-anchor="middle">20μM</text>
<text x="1662" y="1363.7" font-size="22.5" text-anchor="middle">ETO</text>
<line x1="1394.8" y1="1372.8" x2="1491" y2="1372.8" stroke="#111" stroke-width="1.6"/>
<line x1="1527" y1="1372.8" x2="1616.5" y2="1372.8" stroke="#111" stroke-width="1.6"/>
<text x="1446.8" y="1400.8" font-size="29.4" text-anchor="middle">A375</text>
<text x="1578" y="1400.8" font-size="29.4" text-anchor="middle">A375VR</text>
<text x="1313" y="1183.6" font-size="30" text-anchor="middle" transform="rotate(-90 1313 1183.6)" dominant-baseline="middle">relative cell number (%)</text>
<text x="9" y="1479" font-size="44" font-weight="bold" stroke="#111" stroke-width="1.3">e</text>
<line x1="135.5" y1="1508.4" x2="135.5" y2="1754.8" stroke="#111" stroke-width="1.6"/>
<line x1="130.5" y1="1754" x2="135.5" y2="1754" stroke="#111" stroke-width="1.6"/>
<text x="126.9" y="1763.5" font-size="26.5" text-anchor="end">0</text>
<line x1="130.5" y1="1692.6" x2="135.5" y2="1692.6" stroke="#111" stroke-width="1.6"/>
<text x="126.9" y="1702.1" font-size="26.5" text-anchor="end">500</text>
<line x1="130.5" y1="1631.2" x2="135.5" y2="1631.2" stroke="#111" stroke-width="1.6"/>
<text x="126.9" y="1640.6" font-size="26.5" text-anchor="end">1000</text>
<line x1="130.5" y1="1569.7" x2="135.5" y2="1569.7" stroke="#111" stroke-width="1.6"/>
<text x="126.9" y="1579.2" font-size="26.5" text-anchor="end">1500</text>
<line x1="130.5" y1="1508.3" x2="135.5" y2="1508.3" stroke="#111" stroke-width="1.6"/>
<text x="126.9" y="1517.8" font-size="26.5" text-anchor="end">2000</text>
<line x1="135.5" y1="1754" x2="252.8" y2="1754" stroke="#111" stroke-width="1.7"/>
<line x1="263" y1="1754" x2="427.6" y2="1754" stroke="#111" stroke-width="1.7"/>
<rect x="213.6" y="1682.8" width="23.9" height="71.2" fill="#a9a9a9" stroke="#1e1e1e" stroke-width="1.4"/>
<circle cx="225.6" cy="1670.5" r="3.4" fill="none" stroke="#1a1a1a" stroke-width="1.3"/>
<circle cx="225.6" cy="1677.8" r="3.4" fill="none" stroke="#1a1a1a" stroke-width="1.3"/>
<circle cx="225.6" cy="1692.6" r="3.4" fill="none" stroke="#1a1a1a" stroke-width="1.3"/>
<line x1="225.6" y1="1674.8" x2="225.6" y2="1690.7" stroke="#111" stroke-width="1.8"/>
<line x1="220.6" y1="1674.8" x2="230.6" y2="1674.8" stroke="#111" stroke-width="1.8"/>
<line x1="220.6" y1="1690.7" x2="230.6" y2="1690.7" stroke="#111" stroke-width="1.8"/>
<rect x="277.5" y="1687.1" width="23.9" height="66.9" fill="#a9a9a9" stroke="#1e1e1e" stroke-width="1.4"/>
<circle cx="289.4" cy="1665.6" r="3.4" fill="none" stroke="#1a1a1a" stroke-width="1.3"/>
<circle cx="289.4" cy="1681.5" r="3.4" fill="none" stroke="#1a1a1a" stroke-width="1.3"/>
<circle cx="289.4" cy="1700" r="3.4" fill="none" stroke="#1a1a1a" stroke-width="1.3"/>
<line x1="289.4" y1="1675.4" x2="289.4" y2="1698.7" stroke="#111" stroke-width="1.8"/>
<line x1="284.4" y1="1675.4" x2="294.4" y2="1675.4" stroke="#111" stroke-width="1.8"/>
<line x1="284.4" y1="1698.7" x2="294.4" y2="1698.7" stroke="#111" stroke-width="1.8"/>
<rect x="310.7" y="1550.1" width="23.8" height="203.9" fill="#a9a9a9" stroke="#1e1e1e" stroke-width="1.4"/>
<circle cx="322.6" cy="1530.4" r="3.4" fill="none" stroke="#1a1a1a" stroke-width="1.3"/>
<circle cx="322.6" cy="1540.3" r="3.4" fill="none" stroke="#1a1a1a" stroke-width="1.3"/>
<circle cx="322.6" cy="1582" r="3.4" fill="none" stroke="#1a1a1a" stroke-width="1.3"/>
<line x1="322.6" y1="1534.1" x2="322.6" y2="1566.1" stroke="#111" stroke-width="1.8"/>
<line x1="317.6" y1="1534.1" x2="327.6" y2="1534.1" stroke="#111" stroke-width="1.8"/>
<line x1="317.6" y1="1566.1" x2="327.6" y2="1566.1" stroke="#111" stroke-width="1.8"/>
<circle cx="152.4" cy="1754" r="3.3" fill="none" stroke="#1a1a1a" stroke-width="1.3"/>
<circle cx="159.4" cy="1754" r="3.3" fill="none" stroke="#1a1a1a" stroke-width="1.3"/>
<circle cx="166.4" cy="1754" r="3.3" fill="none" stroke="#1a1a1a" stroke-width="1.3"/>
<circle cx="185" cy="1754" r="3.3" fill="none" stroke="#1a1a1a" stroke-width="1.3"/>
<circle cx="192" cy="1754" r="3.3" fill="none" stroke="#1a1a1a" stroke-width="1.3"/>
<circle cx="199" cy="1754" r="3.3" fill="none" stroke="#1a1a1a" stroke-width="1.3"/>
<circle cx="362.3" cy="1754" r="3.3" fill="none" stroke="#1a1a1a" stroke-width="1.3"/>
<circle cx="369.3" cy="1754" r="3.3" fill="none" stroke="#1a1a1a" stroke-width="1.3"/>
<circle cx="376.3" cy="1754" r="3.3" fill="none" stroke="#1a1a1a" stroke-width="1.3"/>
<circle cx="395.5" cy="1754" r="3.3" fill="none" stroke="#1a1a1a" stroke-width="1.3"/>
<circle cx="402.5" cy="1754" r="3.3" fill="none" stroke="#1a1a1a" stroke-width="1.3"/>
<circle cx="409.5" cy="1754" r="3.3" fill="none" stroke="#1a1a1a" stroke-width="1.3"/>
<line x1="159.4" y1="1754" x2="159.4" y2="1760" stroke="#111" stroke-width="1.6"/>
<line x1="192" y1="1754" x2="192" y2="1760" stroke="#111" stroke-width="1.6"/>
<line x1="225.4" y1="1754" x2="225.4" y2="1760" stroke="#111" stroke-width="1.6"/>
<line x1="289.3" y1="1754" x2="289.3" y2="1760" stroke="#111" stroke-width="1.6"/>
<line x1="322.1" y1="1754" x2="322.1" y2="1760" stroke="#111" stroke-width="1.6"/>
<line x1="369.3" y1="1754" x2="369.3" y2="1760" stroke="#111" stroke-width="1.6"/>
<line x1="402.5" y1="1754" x2="402.5" y2="1760" stroke="#111" stroke-width="1.6"/>
<text x="0" y="0" font-size="25" text-anchor="end" transform="translate(170.8 1765.6) scale(1 0.87) rotate(-90)">A375</text>
<text x="0" y="0" font-size="25" text-anchor="end" transform="translate(204.9 1765.6) scale(1 0.87) rotate(-90)">A375VR</text>
<text x="0" y="0" font-size="25" text-anchor="end" transform="translate(233 1765.6) scale(1 0.87) rotate(-90)">cardiomyo</text>
<text x="0" y="0" font-size="25" text-anchor="end" transform="translate(296.5 1765.6) scale(1 0.87) rotate(-90)">cardiomyo</text>
<text x="0" y="0" font-size="25" text-anchor="end" transform="translate(333.9 1765.6) scale(1 0.87) rotate(-90)">MDA</text>
<text x="0" y="0" font-size="25" text-anchor="end" transform="translate(375.6 1765.6) scale(1 0.87) rotate(-90)">A375P</text>
<text x="0" y="0" font-size="25" text-anchor="end" transform="translate(409.7 1765.6) scale(1 0.87) rotate(-90)">A375VR</text>
<text x="192" y="1501" font-size="25" text-anchor="middle">SCN7A</text>
<text x="351" y="1501" font-size="25" text-anchor="middle">SCN5A</text>
<line x1="145.6" y1="1507" x2="247.6" y2="1507" stroke="#111" stroke-width="1.6"/>
<line x1="282" y1="1507" x2="416.7" y2="1507" stroke="#111" stroke-width="1.6"/>
<rect x="352.8" y="1708.3" width="63.1" height="150.7" fill="none" stroke="#444" stroke-width="1.3"/>
<line x1="415.9" y1="1708.3" x2="475.3" y2="1549.7" stroke="#111" stroke-width="2.2" stroke-dasharray="8,5"/>
<line x1="415.9" y1="1859" x2="475.3" y2="1832" stroke="#111" stroke-width="2.2" stroke-dasharray="8,5"/>
<rect x="475.3" y="1549.7" width="129.5" height="282.3" fill="none" stroke="#555" stroke-width="1.3"/>
<rect x="526" y="1670.1" width="18.5" height="88.9" fill="#a9a9a9" stroke="#1e1e1e" stroke-width="0.8"/>
<circle cx="532.2" cy="1581.9" r="2.6" fill="none" stroke="#1a1a1a" stroke-width="1"/>
<circle cx="532.2" cy="1714.2" r="2.6" fill="none" stroke="#1a1a1a" stroke-width="1"/>
<circle cx="538.2" cy="1712" r="2.6" fill="none" stroke="#1a1a1a" stroke-width="1"/>
<line x1="535.2" y1="1626.7" x2="535.2" y2="1713.5" stroke="#111" stroke-width="1.4"/>
<line x1="531.2" y1="1626.7" x2="539.2" y2="1626.7" stroke="#111" stroke-width="1.4"/>
<line x1="531.2" y1="1713.5" x2="539.2" y2="1713.5" stroke="#111" stroke-width="1.4"/>
<rect x="551.4" y="1752.5" width="18.2" height="6.5" fill="#a9a9a9" stroke="#1e1e1e" stroke-width="0.8"/>
<circle cx="560.5" cy="1739.5" r="2.6" fill="none" stroke="#1a1a1a" stroke-width="1"/>
<circle cx="557.5" cy="1757.6" r="2.6" fill="none" stroke="#1a1a1a" stroke-width="1"/>
<circle cx="563.5" cy="1757.6" r="2.6" fill="none" stroke="#1a1a1a" stroke-width="1"/>
<line x1="560.5" y1="1745.3" x2="560.5" y2="1759.7" stroke="#111" stroke-width="1.4"/>
<line x1="556.5" y1="1745.3" x2="564.5" y2="1745.3" stroke="#111" stroke-width="1.4"/>
<line x1="556.5" y1="1759.7" x2="564.5" y2="1759.7" stroke="#111" stroke-width="1.4"/>
<line x1="517" y1="1578" x2="517" y2="1759.7" stroke="#111" stroke-width="1.3"/>
<line x1="513" y1="1759" x2="517" y2="1759" stroke="#111" stroke-width="1.3"/>
<text x="511" y="1765.7" font-size="18.8" text-anchor="end">0</text>
<line x1="513" y1="1686.7" x2="517" y2="1686.7" stroke="#111" stroke-width="1.3"/>
<text x="511" y="1693.4" font-size="18.8" text-anchor="end">1</text>
<line x1="513" y1="1614.4" x2="517" y2="1614.4" stroke="#111" stroke-width="1.3"/>
<text x="511" y="1621.1" font-size="18.8" text-anchor="end">2</text>
<line x1="517" y1="1759" x2="579" y2="1759" stroke="#111" stroke-width="1.3"/>
<line x1="535.2" y1="1759" x2="535.2" y2="1763" stroke="#111" stroke-width="1.3"/>
<line x1="560.5" y1="1759" x2="560.5" y2="1763" stroke="#111" stroke-width="1.3"/>
<text x="544" y="1570" font-size="16.6" text-anchor="middle">SCN5A</text>
<text x="544" y="1766" font-size="15.7" text-anchor="end" transform="rotate(-90 544 1766)">A375P</text>
<text x="567" y="1766" font-size="15.7" text-anchor="end" transform="rotate(-90 567 1766)">A375VR</text>
<text x="54.3" y="1622.5" font-size="31" text-anchor="middle" transform="rotate(-90 54.3 1622.5)">relative expression</text>
<text x="654" y="1484.7" font-size="44" font-weight="bold" stroke="#111" stroke-width="1.3">f</text>
<line x1="783.8" y1="1511.3" x2="783.8" y2="1755.4" stroke="#111" stroke-width="1.6"/>
<line x1="779.2" y1="1754.6" x2="783.8" y2="1754.6" stroke="#111" stroke-width="1.6"/>
<text x="776.2" y="1764.1" font-size="26.6" text-anchor="end">0</text>
<line x1="779.2" y1="1714" x2="783.8" y2="1714" stroke="#111" stroke-width="1.6"/>
<text x="776.2" y="1723.6" font-size="26.6" text-anchor="end">1000</text>
<line x1="779.2" y1="1673.5" x2="783.8" y2="1673.5" stroke="#111" stroke-width="1.6"/>
<text x="776.2" y="1683" font-size="26.6" text-anchor="end">2000</text>
<line x1="779.2" y1="1632.9" x2="783.8" y2="1632.9" stroke="#111" stroke-width="1.6"/>
<text x="776.2" y="1642.5" font-size="26.6" text-anchor="end">3000</text>
<line x1="779.2" y1="1592.4" x2="783.8" y2="1592.4" stroke="#111" stroke-width="1.6"/>
<text x="776.2" y="1601.9" font-size="26.6" text-anchor="end">4000</text>
<line x1="779.2" y1="1551.8" x2="783.8" y2="1551.8" stroke="#111" stroke-width="1.6"/>
<text x="776.2" y="1561.4" font-size="26.6" text-anchor="end">5000</text>
<line x1="779.2" y1="1511.3" x2="783.8" y2="1511.3" stroke="#111" stroke-width="1.6"/>
<text x="776.2" y="1520.8" font-size="26.6" text-anchor="end">6000</text>
<line x1="779" y1="1754.6" x2="916.5" y2="1754.6" stroke="#111" stroke-width="1.7"/>
<line x1="927.6" y1="1754.6" x2="1093.5" y2="1754.6" stroke="#111" stroke-width="1.7"/>
<rect x="883.4" y="1560" width="21.5" height="194.6" fill="#bc707a" stroke="#1e1e1e" stroke-width="1.4"/>
<circle cx="894.1" cy="1532.8" r="3.2" fill="none" stroke="#1a1a1a" stroke-width="1.3"/>
<circle cx="899.1" cy="1569.3" r="3.2" fill="none" stroke="#1a1a1a" stroke-width="1.3"/>
<circle cx="889.1" cy="1575.4" r="3.2" fill="none" stroke="#1a1a1a" stroke-width="1.3"/>
<line x1="894.1" y1="1546.2" x2="894.1" y2="1573.7" stroke="#111" stroke-width="1.8"/>
<line x1="889.1" y1="1546.2" x2="899.1" y2="1546.2" stroke="#111" stroke-width="1.8"/>
<line x1="889.1" y1="1573.7" x2="899.1" y2="1573.7" stroke="#111" stroke-width="1.8"/>
<rect x="1062" y="1658.5" width="20.5" height="96.1" fill="#a9a9a9" stroke="#1e1e1e" stroke-width="1.4"/>
<circle cx="1072.2" cy="1645.9" r="3.2" fill="none" stroke="#1a1a1a" stroke-width="1.3"/>
<circle cx="1072.2" cy="1654" r="3.2" fill="none" stroke="#1a1a1a" stroke-width="1.3"/>
<circle cx="1072.2" cy="1665.4" r="3.2" fill="none" stroke="#1a1a1a" stroke-width="1.3"/>
<line x1="1072.2" y1="1650.8" x2="1072.2" y2="1666.2" stroke="#111" stroke-width="1.8"/>
<line x1="1067.2" y1="1650.8" x2="1077.2" y2="1650.8" stroke="#111" stroke-width="1.8"/>
<line x1="1067.2" y1="1666.2" x2="1077.2" y2="1666.2" stroke="#111" stroke-width="1.8"/>
<circle cx="798.3" cy="1754.6" r="3.2" fill="none" stroke="#1a1a1a" stroke-width="1.3"/>
<circle cx="804.3" cy="1754.6" r="3.2" fill="none" stroke="#1a1a1a" stroke-width="1.3"/>
<circle cx="810.3" cy="1754.6" r="3.2" fill="none" stroke="#1a1a1a" stroke-width="1.3"/>
<circle cx="828.4" cy="1754.6" r="3.2" fill="none" stroke="#1a1a1a" stroke-width="1.3"/>
<circle cx="834.4" cy="1754.6" r="3.2" fill="none" stroke="#1a1a1a" stroke-width="1.3"/>
<circle cx="840.4" cy="1754.6" r="3.2" fill="none" stroke="#1a1a1a" stroke-width="1.3"/>
<circle cx="858.4" cy="1754.6" r="3.2" fill="none" stroke="#1a1a1a" stroke-width="1.3"/>
<circle cx="864.4" cy="1754.6" r="3.2" fill="none" stroke="#1a1a1a" stroke-width="1.3"/>
<circle cx="870.4" cy="1754.6" r="3.2" fill="none" stroke="#1a1a1a" stroke-width="1.3"/>
<circle cx="942" cy="1754.6" r="3.2" fill="none" stroke="#1a1a1a" stroke-width="1.3"/>
<circle cx="948" cy="1754.6" r="3.2" fill="none" stroke="#1a1a1a" stroke-width="1.3"/>
<circle cx="954" cy="1754.6" r="3.2" fill="none" stroke="#1a1a1a" stroke-width="1.3"/>
<circle cx="971.5" cy="1754.6" r="3.2" fill="none" stroke="#1a1a1a" stroke-width="1.3"/>
<circle cx="977.5" cy="1754.6" r="3.2" fill="none" stroke="#1a1a1a" stroke-width="1.3"/>
<circle cx="983.5" cy="1754.6" r="3.2" fill="none" stroke="#1a1a1a" stroke-width="1.3"/>
<circle cx="1001.6" cy="1754.6" r="3.2" fill="none" stroke="#1a1a1a" stroke-width="1.3"/>
<circle cx="1007.6" cy="1754.6" r="3.2" fill="none" stroke="#1a1a1a" stroke-width="1.3"/>
<circle cx="1013.6" cy="1754.6" r="3.2" fill="none" stroke="#1a1a1a" stroke-width="1.3"/>
<circle cx="1034" cy="1754.6" r="3.2" fill="none" stroke="#1a1a1a" stroke-width="1.3"/>
<circle cx="1040" cy="1754.6" r="3.2" fill="none" stroke="#1a1a1a" stroke-width="1.3"/>
<circle cx="1046" cy="1754.6" r="3.2" fill="none" stroke="#1a1a1a" stroke-width="1.3"/>
<line x1="804.3" y1="1754.6" x2="804.3" y2="1760" stroke="#111" stroke-width="1.6"/>
<line x1="834.4" y1="1754.6" x2="834.4" y2="1760" stroke="#111" stroke-width="1.6"/>
<line x1="864.4" y1="1754.6" x2="864.4" y2="1760" stroke="#111" stroke-width="1.6"/>
<line x1="894" y1="1754.6" x2="894" y2="1760" stroke="#111" stroke-width="1.6"/>
<line x1="948" y1="1754.6" x2="948" y2="1760" stroke="#111" stroke-width="1.6"/>
<line x1="977.5" y1="1754.6" x2="977.5" y2="1760" stroke="#111" stroke-width="1.6"/>
<line x1="1007.6" y1="1754.6" x2="1007.6" y2="1760" stroke="#111" stroke-width="1.6"/>
<line x1="1040" y1="1754.6" x2="1040" y2="1760" stroke="#111" stroke-width="1.6"/>
<line x1="1072" y1="1754.6" x2="1072" y2="1760" stroke="#111" stroke-width="1.6"/>
<text x="0" y="0" font-size="25" text-anchor="end" transform="translate(812 1766.6) scale(1 0.87) rotate(-90)">5555</text>
<text x="0" y="0" font-size="25" text-anchor="end" transform="translate(842 1766.6) scale(1 0.87) rotate(-90)">YUMM1.7</text>
<text x="0" y="0" font-size="25" text-anchor="end" transform="translate(872 1766.6) scale(1 0.87) rotate(-90)">FCT</text>
<text x="0" y="0" font-size="25" text-anchor="end" transform="translate(902 1766.6) scale(1 0.87) rotate(-90)">cardiomyo</text>
<text x="0" y="0" font-size="25" text-anchor="end" transform="translate(956 1766.6) scale(1 0.87) rotate(-90)">WM9</text>
<text x="0" y="0" font-size="25" text-anchor="end" transform="translate(985.5 1766.6) scale(1 0.87) rotate(-90)">WM9VR</text>
<text x="0" y="0" font-size="25" text-anchor="end" transform="translate(1015.6 1766.6) scale(1 0.87) rotate(-90)">501mel</text>
<text x="0" y="0" font-size="25" text-anchor="end" transform="translate(1048 1766.6) scale(1 0.87) rotate(-90)">501melVR</text>
<text x="0" y="0" font-size="25" text-anchor="end" transform="translate(1080 1766.6) scale(1 0.87) rotate(-90)">MDA</text>
<text x="850" y="1494.8" font-size="23.5" text-anchor="middle">Scn5a</text>
<text x="850" y="1514.4" font-size="23.5" text-anchor="middle">mouse</text>
<text x="1013" y="1494.8" font-size="23.5" text-anchor="middle">SCN5A</text>
<text x="1013" y="1514.4" font-size="23.5" text-anchor="middle">human</text>
<line x1="793.3" y1="1519.5" x2="902.3" y2="1519.5" stroke="#111" stroke-width="1.6"/>
<line x1="936.5" y1="1519.5" x2="1075.5" y2="1519.5" stroke="#111" stroke-width="1.6"/>
<text x="700" y="1624.4" font-size="30.5" text-anchor="middle" transform="rotate(-90 700 1624.4)">relative expression</text>
<text x="1181" y="1481" font-size="50" font-weight="bold" stroke="#111" stroke-width="1.3">g</text>
<rect x="1294" y="1652.1" width="18.7" height="147.3" fill="#a9a9a9" stroke="#1e1e1e" stroke-width="1.4"/>
<circle cx="1300.3" cy="1640.3" r="3.2" fill="none" stroke="#1a1a1a" stroke-width="1.1"/>
<circle cx="1306.3" cy="1644.2" r="3.2" fill="none" stroke="#1a1a1a" stroke-width="1.1"/>
<circle cx="1303.3" cy="1668.8" r="3.2" fill="none" stroke="#1a1a1a" stroke-width="1.1"/>
<line x1="1303.3" y1="1637.4" x2="1303.3" y2="1666.8" stroke="#111" stroke-width="1.8"/>
<line x1="1298.3" y1="1637.4" x2="1308.3" y2="1637.4" stroke="#111" stroke-width="1.8"/>
<line x1="1298.3" y1="1666.8" x2="1308.3" y2="1666.8" stroke="#111" stroke-width="1.8"/>
<rect x="1320.7" y="1728.7" width="18.8" height="70.7" fill="#a9a9a9" stroke="#1e1e1e" stroke-width="1.4"/>
<circle cx="1327.1" cy="1725.8" r="3.2" fill="none" stroke="#1a1a1a" stroke-width="1.1"/>
<circle cx="1333.1" cy="1728.7" r="3.2" fill="none" stroke="#1a1a1a" stroke-width="1.1"/>
<circle cx="1330.1" cy="1730.7" r="3.2" fill="none" stroke="#1a1a1a" stroke-width="1.1"/>
<line x1="1330.1" y1="1726.2" x2="1330.1" y2="1731.2" stroke="#111" stroke-width="1.8"/>
<line x1="1325.1" y1="1726.2" x2="1335.1" y2="1726.2" stroke="#111" stroke-width="1.8"/>
<line x1="1325.1" y1="1731.2" x2="1335.1" y2="1731.2" stroke="#111" stroke-width="1.8"/>
<rect x="1348" y="1542.1" width="18.7" height="257.3" fill="#bc707a" stroke="#1e1e1e" stroke-width="1.4"/>
<circle cx="1354.3" cy="1521.5" r="3.2" fill="none" stroke="#1a1a1a" stroke-width="1.1"/>
<circle cx="1360.3" cy="1546" r="3.2" fill="none" stroke="#1a1a1a" stroke-width="1.1"/>
<circle cx="1357.3" cy="1551" r="3.2" fill="none" stroke="#1a1a1a" stroke-width="1.1"/>
<line x1="1357.3" y1="1522.5" x2="1357.3" y2="1561.8" stroke="#111" stroke-width="1.8"/>
<line x1="1352.3" y1="1522.5" x2="1362.3" y2="1522.5" stroke="#111" stroke-width="1.8"/>
<line x1="1352.3" y1="1561.8" x2="1362.3" y2="1561.8" stroke="#111" stroke-width="1.8"/>
<rect x="1374.3" y="1600.1" width="18.3" height="199.3" fill="#bc707a" stroke="#1e1e1e" stroke-width="1.4"/>
<circle cx="1380.4" cy="1577.5" r="3.2" fill="none" stroke="#1a1a1a" stroke-width="1.1"/>
<circle cx="1386.4" cy="1603" r="3.2" fill="none" stroke="#1a1a1a" stroke-width="1.1"/>
<circle cx="1383.4" cy="1624.6" r="3.2" fill="none" stroke="#1a1a1a" stroke-width="1.1"/>
<line x1="1383.4" y1="1576.5" x2="1383.4" y2="1623.6" stroke="#111" stroke-width="1.8"/>
<line x1="1378.4" y1="1576.5" x2="1388.4" y2="1576.5" stroke="#111" stroke-width="1.8"/>
<line x1="1378.4" y1="1623.6" x2="1388.4" y2="1623.6" stroke="#111" stroke-width="1.8"/>
<line x1="1283.7" y1="1504.9" x2="1283.7" y2="1800.2" stroke="#111" stroke-width="1.6"/>
<line x1="1279.7" y1="1799.4" x2="1283.7" y2="1799.4" stroke="#111" stroke-width="1.6"/>
<text x="1274.7" y="1809.1" font-size="27" text-anchor="end">0</text>
<line x1="1279.7" y1="1701.2" x2="1283.7" y2="1701.2" stroke="#111" stroke-width="1.6"/>
<text x="1274.7" y="1710.9" font-size="27" text-anchor="end">10</text>
<line x1="1279.7" y1="1603" x2="1283.7" y2="1603" stroke="#111" stroke-width="1.6"/>
<text x="1274.7" y="1612.7" font-size="27" text-anchor="end">20</text>
<line x1="1279.7" y1="1504.8" x2="1283.7" y2="1504.8" stroke="#111" stroke-width="1.6"/>
<text x="1274.7" y="1514.5" font-size="27" text-anchor="end">30</text>
<line x1="1283.7" y1="1799.4" x2="1401" y2="1799.4" stroke="#111" stroke-width="1.6"/>
<line x1="1303.3" y1="1799.4" x2="1303.3" y2="1804.4" stroke="#111" stroke-width="1.6"/>
<line x1="1330.1" y1="1799.4" x2="1330.1" y2="1804.4" stroke="#111" stroke-width="1.6"/>
<line x1="1357.3" y1="1799.4" x2="1357.3" y2="1804.4" stroke="#111" stroke-width="1.6"/>
<line x1="1383.4" y1="1799.4" x2="1383.4" y2="1804.4" stroke="#111" stroke-width="1.6"/>
<text x="1343" y="1479.5" font-size="26.5" text-anchor="middle">basal</text>
<line x1="1294" y1="1623" x2="1332.8" y2="1623" stroke="#111" stroke-width="1.6"/>
<text x="1313.4" y="1628" font-size="31" text-anchor="middle" stroke="#111" stroke-width="0.6">***</text>
<line x1="1350.6" y1="1507" x2="1394.4" y2="1507" stroke="#111" stroke-width="1.6"/>
<text x="1372.5" y="1512" font-size="31" text-anchor="middle" stroke="#111" stroke-width="0.6">**</text>
<text x="1303.3" y="1833" font-size="34" text-anchor="middle" stroke="#111" stroke-width="1">–</text>
<text x="1330.1" y="1833" font-size="34" text-anchor="middle" stroke="#111" stroke-width="1">+</text>
<text x="1357.3" y="1833" font-size="34" text-anchor="middle" stroke="#111" stroke-width="1">–</text>
<text x="1383.4" y="1833" font-size="34" text-anchor="middle" stroke="#111" stroke-width="1">+</text>
<line x1="1282.8" y1="1838.7" x2="1336.4" y2="1838.7" stroke="#111" stroke-width="1.6"/>
<line x1="1348.9" y1="1838.7" x2="1402.4" y2="1838.7" stroke="#111" stroke-width="1.6"/>
<text x="1304.2" y="1870" font-size="33" text-anchor="middle">A</text>
<text x="1372" y="1870" font-size="33" text-anchor="middle">VR</text>
<rect x="1479" y="1672.5" width="19" height="126.9" fill="#a9a9a9" stroke="#1e1e1e" stroke-width="1.4"/>
<circle cx="1485.5" cy="1663.9" r="3.2" fill="none" stroke="#1a1a1a" stroke-width="1.1"/>
<circle cx="1491.5" cy="1667" r="3.2" fill="none" stroke="#1a1a1a" stroke-width="1.1"/>
<circle cx="1488.5" cy="1682.4" r="3.2" fill="none" stroke="#1a1a1a" stroke-width="1.1"/>
<line x1="1488.5" y1="1662" x2="1488.5" y2="1683" stroke="#111" stroke-width="1.8"/>
<line x1="1483.5" y1="1662" x2="1493.5" y2="1662" stroke="#111" stroke-width="1.8"/>
<line x1="1483.5" y1="1683" x2="1493.5" y2="1683" stroke="#111" stroke-width="1.8"/>
<rect x="1506.4" y="1771.7" width="18.3" height="27.7" fill="#a9a9a9" stroke="#1e1e1e" stroke-width="1.4"/>
<circle cx="1512.6" cy="1769.2" r="3.2" fill="none" stroke="#1a1a1a" stroke-width="1.1"/>
<circle cx="1518.6" cy="1771.1" r="3.2" fill="none" stroke="#1a1a1a" stroke-width="1.1"/>
<circle cx="1515.6" cy="1773.5" r="3.2" fill="none" stroke="#1a1a1a" stroke-width="1.1"/>
<line x1="1515.6" y1="1769.2" x2="1515.6" y2="1774.1" stroke="#111" stroke-width="1.8"/>
<line x1="1510.6" y1="1769.2" x2="1520.6" y2="1769.2" stroke="#111" stroke-width="1.8"/>
<line x1="1510.6" y1="1774.1" x2="1520.6" y2="1774.1" stroke="#111" stroke-width="1.8"/>
<rect x="1532.7" y="1549.3" width="19.3" height="250.1" fill="#bc707a" stroke="#1e1e1e" stroke-width="1.4"/>
<circle cx="1539.3" cy="1531.4" r="3.2" fill="none" stroke="#1a1a1a" stroke-width="1.1"/>
<circle cx="1545.3" cy="1540.7" r="3.2" fill="none" stroke="#1a1a1a" stroke-width="1.1"/>
<circle cx="1542.3" cy="1570.2" r="3.2" fill="none" stroke="#1a1a1a" stroke-width="1.1"/>
<line x1="1542.3" y1="1527.1" x2="1542.3" y2="1571.5" stroke="#111" stroke-width="1.8"/>
<line x1="1537.3" y1="1527.1" x2="1547.3" y2="1527.1" stroke="#111" stroke-width="1.8"/>
<line x1="1537.3" y1="1571.5" x2="1547.3" y2="1571.5" stroke="#111" stroke-width="1.8"/>
<rect x="1559.5" y="1702.7" width="18.3" height="96.7" fill="#bc707a" stroke="#1e1e1e" stroke-width="1.4"/>
<circle cx="1565.7" cy="1688.5" r="3.2" fill="none" stroke="#1a1a1a" stroke-width="1.1"/>
<circle cx="1571.7" cy="1702.1" r="3.2" fill="none" stroke="#1a1a1a" stroke-width="1.1"/>
<circle cx="1568.7" cy="1716.2" r="3.2" fill="none" stroke="#1a1a1a" stroke-width="1.1"/>
<line x1="1568.7" y1="1688.5" x2="1568.7" y2="1716.9" stroke="#111" stroke-width="1.8"/>
<line x1="1563.7" y1="1688.5" x2="1573.7" y2="1688.5" stroke="#111" stroke-width="1.8"/>
<line x1="1563.7" y1="1716.9" x2="1573.7" y2="1716.9" stroke="#111" stroke-width="1.8"/>
<line x1="1470.2" y1="1504.9" x2="1470.2" y2="1800.2" stroke="#111" stroke-width="1.6"/>
<line x1="1466.2" y1="1799.4" x2="1470.2" y2="1799.4" stroke="#111" stroke-width="1.6"/>
<text x="1461.2" y="1809.1" font-size="27" text-anchor="end">0</text>
<line x1="1466.2" y1="1737.8" x2="1470.2" y2="1737.8" stroke="#111" stroke-width="1.6"/>
<text x="1461.2" y="1747.5" font-size="27" text-anchor="end">10</text>
<line x1="1466.2" y1="1676.2" x2="1470.2" y2="1676.2" stroke="#111" stroke-width="1.6"/>
<text x="1461.2" y="1685.9" font-size="27" text-anchor="end">20</text>
<line x1="1466.2" y1="1614.6" x2="1470.2" y2="1614.6" stroke="#111" stroke-width="1.6"/>
<text x="1461.2" y="1624.3" font-size="27" text-anchor="end">30</text>
<line x1="1466.2" y1="1553" x2="1470.2" y2="1553" stroke="#111" stroke-width="1.6"/>
<text x="1461.2" y="1562.7" font-size="27" text-anchor="end">40</text>
<line x1="1470.2" y1="1799.4" x2="1587.6" y2="1799.4" stroke="#111" stroke-width="1.6"/>
<line x1="1488.5" y1="1799.4" x2="1488.5" y2="1804.4" stroke="#111" stroke-width="1.6"/>
<line x1="1515.6" y1="1799.4" x2="1515.6" y2="1804.4" stroke="#111" stroke-width="1.6"/>
<line x1="1542.3" y1="1799.4" x2="1542.3" y2="1804.4" stroke="#111" stroke-width="1.6"/>
<line x1="1568.7" y1="1799.4" x2="1568.7" y2="1804.4" stroke="#111" stroke-width="1.6"/>
<text x="1524.7" y="1479.5" font-size="26.5" text-anchor="middle">maximal</text>
<line x1="1481.4" y1="1652" x2="1512.6" y2="1652" stroke="#111" stroke-width="1.6"/>
<text x="1497" y="1657" font-size="31" text-anchor="middle" stroke="#111" stroke-width="0.6">***</text>
<line x1="1535" y1="1511.6" x2="1577.3" y2="1511.6" stroke="#111" stroke-width="1.6"/>
<text x="1556.2" y="1516.6" font-size="31" text-anchor="middle" stroke="#111" stroke-width="0.6">***</text>
<text x="1488.5" y="1833" font-size="34" text-anchor="middle" stroke="#111" stroke-width="1">–</text>
<text x="1515.6" y="1833" font-size="34" text-anchor="middle" stroke="#111" stroke-width="1">+</text>
<text x="1542.3" y="1833" font-size="34" text-anchor="middle" stroke="#111" stroke-width="1">–</text>
<text x="1568.7" y="1833" font-size="34" text-anchor="middle" stroke="#111" stroke-width="1">+</text>
<line x1="1470.2" y1="1838.7" x2="1523.8" y2="1838.7" stroke="#111" stroke-width="1.6"/>
<line x1="1535" y1="1838.7" x2="1590" y2="1838.7" stroke="#111" stroke-width="1.6"/>
<text x="1494" y="1870" font-size="33" text-anchor="middle">A</text>
<text x="1561.7" y="1870" font-size="33" text-anchor="middle">VR</text>
<rect x="1662" y="1672" width="19" height="127.4" fill="#a9a9a9" stroke="#1e1e1e" stroke-width="1.4"/>
<circle cx="1668.5" cy="1655.7" r="3.2" fill="none" stroke="#1a1a1a" stroke-width="1.1"/>
<circle cx="1674.5" cy="1673.5" r="3.2" fill="none" stroke="#1a1a1a" stroke-width="1.1"/>
<circle cx="1671.5" cy="1691.3" r="3.2" fill="none" stroke="#1a1a1a" stroke-width="1.1"/>
<line x1="1671.5" y1="1654.3" x2="1671.5" y2="1689.8" stroke="#111" stroke-width="1.8"/>
<line x1="1666.5" y1="1654.3" x2="1676.5" y2="1654.3" stroke="#111" stroke-width="1.8"/>
<line x1="1666.5" y1="1689.8" x2="1676.5" y2="1689.8" stroke="#111" stroke-width="1.8"/>
<rect x="1689.4" y="1749" width="18.6" height="50.4" fill="#a9a9a9" stroke="#1e1e1e" stroke-width="1.4"/>
<circle cx="1695.7" cy="1744.6" r="3.2" fill="none" stroke="#1a1a1a" stroke-width="1.1"/>
<circle cx="1701.7" cy="1750.5" r="3.2" fill="none" stroke="#1a1a1a" stroke-width="1.1"/>
<circle cx="1698.7" cy="1752" r="3.2" fill="none" stroke="#1a1a1a" stroke-width="1.1"/>
<line x1="1698.7" y1="1744.6" x2="1698.7" y2="1753.5" stroke="#111" stroke-width="1.8"/>
<line x1="1693.7" y1="1744.6" x2="1703.7" y2="1744.6" stroke="#111" stroke-width="1.8"/>
<line x1="1693.7" y1="1753.5" x2="1703.7" y2="1753.5" stroke="#111" stroke-width="1.8"/>
<rect x="1716.6" y="1558" width="18.7" height="241.4" fill="#bc707a" stroke="#1e1e1e" stroke-width="1.4"/>
<circle cx="1722.9" cy="1541.7" r="3.2" fill="none" stroke="#1a1a1a" stroke-width="1.1"/>
<circle cx="1728.9" cy="1559.5" r="3.2" fill="none" stroke="#1a1a1a" stroke-width="1.1"/>
<circle cx="1725.9" cy="1562.4" r="3.2" fill="none" stroke="#1a1a1a" stroke-width="1.1"/>
<line x1="1725.9" y1="1541.7" x2="1725.9" y2="1574.3" stroke="#111" stroke-width="1.8"/>
<line x1="1720.9" y1="1541.7" x2="1730.9" y2="1541.7" stroke="#111" stroke-width="1.8"/>
<line x1="1720.9" y1="1574.3" x2="1730.9" y2="1574.3" stroke="#111" stroke-width="1.8"/>
<rect x="1743" y="1661.7" width="18" height="137.7" fill="#bc707a" stroke="#1e1e1e" stroke-width="1.4"/>
<circle cx="1749" cy="1639.5" r="3.2" fill="none" stroke="#1a1a1a" stroke-width="1.1"/>
<circle cx="1755" cy="1661.7" r="3.2" fill="none" stroke="#1a1a1a" stroke-width="1.1"/>
<circle cx="1752" cy="1676.5" r="3.2" fill="none" stroke="#1a1a1a" stroke-width="1.1"/>
<line x1="1752" y1="1640.9" x2="1752" y2="1682.4" stroke="#111" stroke-width="1.8"/>
<line x1="1747" y1="1640.9" x2="1757" y2="1640.9" stroke="#111" stroke-width="1.8"/>
<line x1="1747" y1="1682.4" x2="1757" y2="1682.4" stroke="#111" stroke-width="1.8"/>
<line x1="1653.2" y1="1503.5" x2="1653.2" y2="1800.2" stroke="#111" stroke-width="1.6"/>
<line x1="1649.2" y1="1799.4" x2="1653.2" y2="1799.4" stroke="#111" stroke-width="1.6"/>
<text x="1644.2" y="1809.1" font-size="27" text-anchor="end">0</text>
<line x1="1649.2" y1="1725.4" x2="1653.2" y2="1725.4" stroke="#111" stroke-width="1.6"/>
<text x="1644.2" y="1735" font-size="27" text-anchor="end">5</text>
<line x1="1649.2" y1="1651.3" x2="1653.2" y2="1651.3" stroke="#111" stroke-width="1.6"/>
<text x="1644.2" y="1661" font-size="27" text-anchor="end">10</text>
<line x1="1649.2" y1="1577.2" x2="1653.2" y2="1577.2" stroke="#111" stroke-width="1.6"/>
<text x="1644.2" y="1586.9" font-size="27" text-anchor="end">15</text>
<line x1="1649.2" y1="1503.2" x2="1653.2" y2="1503.2" stroke="#111" stroke-width="1.6"/>
<text x="1644.2" y="1512.9" font-size="27" text-anchor="end">20</text>
<line x1="1653.2" y1="1799.4" x2="1773.7" y2="1799.4" stroke="#111" stroke-width="1.6"/>
<line x1="1671.5" y1="1799.4" x2="1671.5" y2="1804.4" stroke="#111" stroke-width="1.6"/>
<line x1="1698.7" y1="1799.4" x2="1698.7" y2="1804.4" stroke="#111" stroke-width="1.6"/>
<line x1="1725.9" y1="1799.4" x2="1725.9" y2="1804.4" stroke="#111" stroke-width="1.6"/>
<line x1="1752" y1="1799.4" x2="1752" y2="1804.4" stroke="#111" stroke-width="1.6"/>
<text x="1718" y="1479.5" font-size="26.5" text-anchor="middle">ATP</text>
<line x1="1666.6" y1="1647.7" x2="1711.2" y2="1647.7" stroke="#111" stroke-width="1.6"/>
<text x="1688.9" y="1652.7" font-size="31" text-anchor="middle" stroke="#111" stroke-width="0.6">***</text>
<line x1="1720" y1="1534" x2="1764.8" y2="1534" stroke="#111" stroke-width="1.6"/>
<text x="1742.4" y="1539" font-size="31" text-anchor="middle" stroke="#111" stroke-width="0.6">***</text>
<text x="1671.5" y="1833" font-size="34" text-anchor="middle" stroke="#111" stroke-width="1">–</text>
<text x="1698.7" y="1833" font-size="34" text-anchor="middle" stroke="#111" stroke-width="1">+</text>
<text x="1725.9" y="1833" font-size="34" text-anchor="middle" stroke="#111" stroke-width="1">–</text>
<text x="1752" y="1833" font-size="34" text-anchor="middle" stroke="#111" stroke-width="1">+</text>
<line x1="1656.8" y1="1838.7" x2="1710" y2="1838.7" stroke="#111" stroke-width="1.6"/>
<line x1="1721" y1="1838.7" x2="1776" y2="1838.7" stroke="#111" stroke-width="1.6"/>
<text x="1680" y="1870" font-size="33" text-anchor="middle">A</text>
<text x="1747.8" y="1870" font-size="33" text-anchor="middle">VR</text>
<text x="1778" y="1800" font-size="26.5">RANO</text>
<text x="1773.7" y="1828" font-size="26.5">100μM</text>
<text x="1231" y="1659" font-size="29.4" text-anchor="middle" transform="rotate(-90 1231 1659)">OCR (pmol/min)</text>
<text x="123.9" y="1951.7" font-size="46" font-weight="bold" stroke="#111" stroke-width="1.3">h</text>
<rect x="293.5" y="1981.4" width="32.8" height="237.5" fill="#a9a9a9" stroke="#1e1e1e" stroke-width="1.4"/>
<circle cx="300.9" cy="1977.8" r="5" fill="none" stroke="#1a1a1a" stroke-width="1.5"/>
<circle cx="309.9" cy="1983.8" r="5" fill="none" stroke="#1a1a1a" stroke-width="1.5"/>
<circle cx="318.9" cy="1980.2" r="5" fill="none" stroke="#1a1a1a" stroke-width="1.5"/>
<line x1="309.9" y1="1980.2" x2="309.9" y2="1982.6" stroke="#111" stroke-width="1.8"/>
<line x1="301.9" y1="1980.2" x2="317.9" y2="1980.2" stroke="#111" stroke-width="1.8"/>
<line x1="301.9" y1="1982.6" x2="317.9" y2="1982.6" stroke="#111" stroke-width="1.8"/>
<rect x="340" y="1992.1" width="33.4" height="226.8" fill="#a9a9a9" stroke="#1e1e1e" stroke-width="1.4"/>
<circle cx="348.7" cy="1987.3" r="5" fill="none" stroke="#1a1a1a" stroke-width="1.5"/>
<circle cx="356.7" cy="1995.7" r="5" fill="none" stroke="#1a1a1a" stroke-width="1.5"/>
<circle cx="365.7" cy="1988.5" r="5" fill="none" stroke="#1a1a1a" stroke-width="1.5"/>
<line x1="356.7" y1="1989.7" x2="356.7" y2="1994.5" stroke="#111" stroke-width="1.8"/>
<line x1="348.7" y1="1989.7" x2="364.7" y2="1989.7" stroke="#111" stroke-width="1.8"/>
<line x1="348.7" y1="1994.5" x2="364.7" y2="1994.5" stroke="#111" stroke-width="1.8"/>
<rect x="422.9" y="1981.4" width="33.1" height="237.5" fill="#bc707a" stroke="#1e1e1e" stroke-width="1.4"/>
<circle cx="439.4" cy="1941" r="5" fill="none" stroke="#1a1a1a" stroke-width="1.5"/>
<circle cx="439.4" cy="1988.5" r="5" fill="none" stroke="#1a1a1a" stroke-width="1.5"/>
<circle cx="439.4" cy="2010.9" r="5" fill="none" stroke="#1a1a1a" stroke-width="1.5"/>
<line x1="439.4" y1="1960" x2="439.4" y2="2002.8" stroke="#111" stroke-width="1.8"/>
<line x1="431.4" y1="1960" x2="447.4" y2="1960" stroke="#111" stroke-width="1.8"/>
<line x1="431.4" y1="2002.8" x2="447.4" y2="2002.8" stroke="#111" stroke-width="1.8"/>
<rect x="469.3" y="2040.8" width="33.8" height="178.1" fill="#bc707a" stroke="#1e1e1e" stroke-width="1.4"/>
<circle cx="486.2" cy="2013.7" r="5" fill="none" stroke="#1a1a1a" stroke-width="1.5"/>
<circle cx="486.2" cy="2030.1" r="5" fill="none" stroke="#1a1a1a" stroke-width="1.5"/>
<circle cx="486.2" cy="2075.7" r="5" fill="none" stroke="#1a1a1a" stroke-width="1.5"/>
<line x1="486.2" y1="2021.8" x2="486.2" y2="2059.8" stroke="#111" stroke-width="1.8"/>
<line x1="478.2" y1="2021.8" x2="494.2" y2="2021.8" stroke="#111" stroke-width="1.8"/>
<line x1="478.2" y1="2059.8" x2="494.2" y2="2059.8" stroke="#111" stroke-width="1.8"/>
<rect x="515.7" y="2102.5" width="33.1" height="116.4" fill="#bc707a" stroke="#1e1e1e" stroke-width="1.4"/>
<circle cx="523.2" cy="2094.2" r="5" fill="none" stroke="#1a1a1a" stroke-width="1.5"/>
<circle cx="532.2" cy="2106.1" r="5" fill="none" stroke="#1a1a1a" stroke-width="1.5"/>
<circle cx="542.2" cy="2103.7" r="5" fill="none" stroke="#1a1a1a" stroke-width="1.5"/>
<line x1="532.2" y1="2099" x2="532.2" y2="2106.1" stroke="#111" stroke-width="1.8"/>
<line x1="524.2" y1="2099" x2="540.2" y2="2099" stroke="#111" stroke-width="1.8"/>
<line x1="524.2" y1="2106.1" x2="540.2" y2="2106.1" stroke="#111" stroke-width="1.8"/>
<line x1="276.8" y1="1934.6" x2="276.8" y2="2219.8" stroke="#111" stroke-width="1.8"/>
<line x1="270.6" y1="2218.9" x2="276.8" y2="2218.9" stroke="#111" stroke-width="1.8"/>
<text x="267.2" y="2228.6" font-size="27" text-anchor="end">0</text>
<line x1="270.6" y1="2159.5" x2="276.8" y2="2159.5" stroke="#111" stroke-width="1.8"/>
<text x="267.2" y="2169.2" font-size="27" text-anchor="end">25</text>
<line x1="270.6" y1="2100.2" x2="276.8" y2="2100.2" stroke="#111" stroke-width="1.8"/>
<text x="267.2" y="2109.8" font-size="27" text-anchor="end">50</text>
<line x1="270.6" y1="2040.8" x2="276.8" y2="2040.8" stroke="#111" stroke-width="1.8"/>
<text x="267.2" y="2050.4" font-size="27" text-anchor="end">75</text>
<line x1="270.6" y1="1981.4" x2="276.8" y2="1981.4" stroke="#111" stroke-width="1.8"/>
<text x="267.2" y="1991.1" font-size="27" text-anchor="end">100</text>
<line x1="276.8" y1="2218.9" x2="557.4" y2="2218.9" stroke="#111" stroke-width="1.8"/>
<line x1="310" y1="2218.9" x2="310" y2="2225" stroke="#111" stroke-width="1.8"/>
<line x1="356.7" y1="2218.9" x2="356.7" y2="2225" stroke="#111" stroke-width="1.8"/>
<line x1="439.5" y1="2218.9" x2="439.5" y2="2225" stroke="#111" stroke-width="1.8"/>
<line x1="486.2" y1="2218.9" x2="486.2" y2="2225" stroke="#111" stroke-width="1.8"/>
<line x1="532.3" y1="2218.9" x2="532.3" y2="2225" stroke="#111" stroke-width="1.8"/>
<line x1="276.8" y1="1981.4" x2="557.4" y2="1981.4" stroke="#111" stroke-width="2" stroke-dasharray="8,5"/>
<text x="311" y="2244.5" font-size="23.5" text-anchor="middle">–</text>
<text x="354.3" y="2244.5" font-size="23.5" text-anchor="middle">100</text>
<text x="438" y="2244.5" font-size="23.5" text-anchor="middle">–</text>
<text x="481.3" y="2244.5" font-size="23.5" text-anchor="middle">50</text>
<text x="531.8" y="2244.5" font-size="23.5" text-anchor="middle">100</text>
<text x="561.5" y="2220.6" font-size="24.8">RANO</text>
<text x="566" y="2244.5" font-size="24.8">μM</text>
<line x1="269.6" y1="2248.6" x2="384.3" y2="2248.6" stroke="#111" stroke-width="1.6"/>
<line x1="414" y1="2248.6" x2="548.8" y2="2248.6" stroke="#111" stroke-width="1.6"/>
<text x="327.6" y="2277" font-size="29.4" text-anchor="middle">WM9</text>
<text x="481" y="2277" font-size="29.4" text-anchor="middle">WM9VR</text>
<text x="486.4" y="2017.8" font-size="32" text-anchor="middle" stroke="#111" stroke-width="0.6">*</text>
<text x="533.5" y="2095.2" font-size="32" text-anchor="middle" stroke="#111" stroke-width="0.6">***</text>
<text x="201" y="2084.8" font-size="30" text-anchor="middle" transform="rotate(-90 201 2084.8)">relative cell number (%)</text>
<text x="647.5" y="1953.3" font-size="48" font-weight="bold" stroke="#111" stroke-width="1.3">i</text>
<rect x="825.2" y="1979.7" width="50" height="237" fill="#bc707a" stroke="#1e1e1e" stroke-width="1.4"/>
<circle cx="838.2" cy="1975" r="5" fill="none" stroke="#1a1a1a" stroke-width="1.5"/>
<circle cx="850.2" cy="1980.9" r="5" fill="none" stroke="#1a1a1a" stroke-width="1.5"/>
<circle cx="862.2" cy="1979.7" r="5" fill="none" stroke="#1a1a1a" stroke-width="1.5"/>
<line x1="850.2" y1="1978.5" x2="850.2" y2="1980.9" stroke="#111" stroke-width="1.8"/>
<line x1="840.2" y1="1978.5" x2="860.2" y2="1978.5" stroke="#111" stroke-width="1.8"/>
<line x1="840.2" y1="1980.9" x2="860.2" y2="1980.9" stroke="#111" stroke-width="1.8"/>
<rect x="895.3" y="2045.7" width="50" height="171" fill="#bc707a" stroke="#1e1e1e" stroke-width="1.4"/>
<circle cx="920.3" cy="2037.5" r="5" fill="none" stroke="#1a1a1a" stroke-width="1.5"/>
<circle cx="927.3" cy="2045.7" r="5" fill="none" stroke="#1a1a1a" stroke-width="1.5"/>
<circle cx="913.3" cy="2057.5" r="5" fill="none" stroke="#1a1a1a" stroke-width="1.5"/>
<line x1="920.3" y1="2039.8" x2="920.3" y2="2051.6" stroke="#111" stroke-width="1.8"/>
<line x1="910.3" y1="2039.8" x2="930.3" y2="2039.8" stroke="#111" stroke-width="1.8"/>
<line x1="910.3" y1="2051.6" x2="930.3" y2="2051.6" stroke="#111" stroke-width="1.8"/>
<line x1="799.3" y1="1939" x2="799.3" y2="2217.6" stroke="#111" stroke-width="1.8"/>
<line x1="793.8" y1="2216.7" x2="799.3" y2="2216.7" stroke="#111" stroke-width="1.8"/>
<text x="791.3" y="2226.4" font-size="27" text-anchor="end">0</text>
<line x1="793.8" y1="2157.8" x2="799.3" y2="2157.8" stroke="#111" stroke-width="1.8"/>
<text x="791.3" y="2167.4" font-size="27" text-anchor="end">25</text>
<line x1="793.8" y1="2098.8" x2="799.3" y2="2098.8" stroke="#111" stroke-width="1.8"/>
<text x="791.3" y="2108.5" font-size="27" text-anchor="end">50</text>
<line x1="793.8" y1="2039.8" x2="799.3" y2="2039.8" stroke="#111" stroke-width="1.8"/>
<text x="791.3" y="2049.5" font-size="27" text-anchor="end">75</text>
<line x1="793.8" y1="1980.9" x2="799.3" y2="1980.9" stroke="#111" stroke-width="1.8"/>
<text x="791.3" y="1990.6" font-size="27" text-anchor="end">100</text>
<line x1="799.3" y1="2216.7" x2="954" y2="2216.7" stroke="#111" stroke-width="1.8"/>
<line x1="850.2" y1="2216.7" x2="850.2" y2="2223" stroke="#111" stroke-width="1.8"/>
<line x1="920.3" y1="2216.7" x2="920.3" y2="2223" stroke="#111" stroke-width="1.8"/>
<line x1="799.3" y1="1980.9" x2="956" y2="1980.9" stroke="#111" stroke-width="2" stroke-dasharray="8,5"/>
<text x="849.4" y="2246.3" font-size="26.5" text-anchor="middle">–</text>
<text x="916.2" y="2246.3" font-size="23.5" text-anchor="middle">25</text>
<text x="958.4" y="2216" font-size="24.8">RANO</text>
<text x="971.5" y="2244" font-size="24.8">μM</text>
<line x1="818" y1="2250.8" x2="955" y2="2250.8" stroke="#111" stroke-width="1.6"/>
<text x="885.7" y="2280" font-size="29.4" text-anchor="middle">WM9VR</text>
<text x="920.6" y="2038" font-size="31" text-anchor="middle" stroke="#111" stroke-width="0.6">***</text>
<text x="725" y="2083.5" font-size="30" text-anchor="middle" transform="rotate(-90 725 2083.5)">relative cell number (%)</text>
<text x="204.3" y="2360" font-size="46" font-weight="bold" stroke="#111" stroke-width="1.3">j</text>
<rect x="459" y="2343.5" width="340.8" height="69.5" fill="#dde7cc"/>
<line x1="461.6" y1="2389.6" x2="737.2" y2="2389.6" stroke="#111" stroke-width="2.2"/>
<line x1="737.2" y1="2389.6" x2="785" y2="2389.6" stroke="#111" stroke-width="2.2" stroke-dasharray="7,5"/>
<path d="M785,2383.6 L798.5,2389.6 L785,2395.6 Z" fill="#111" stroke="#111" stroke-width="0.5"/>
<line x1="461.6" y1="2380.6" x2="461.6" y2="2398.6" stroke="#111" stroke-width="2.2"/>
<line x1="539.3" y1="2380.6" x2="539.3" y2="2398.6" stroke="#111" stroke-width="2.2"/>
<line x1="603.8" y1="2380.6" x2="603.8" y2="2398.6" stroke="#111" stroke-width="2.2"/>
<line x1="670.8" y1="2380.6" x2="670.8" y2="2398.6" stroke="#111" stroke-width="2.2"/>
<line x1="737.2" y1="2380.6" x2="737.2" y2="2398.6" stroke="#111" stroke-width="2.2"/>
<text x="542.5" y="2365.5" font-size="28" text-anchor="middle">P</text>
<text x="501.4" y="2409" font-size="16.5" text-anchor="middle">week P</text>
<text x="855.4" y="2361" font-size="22" text-anchor="middle">BRAFi</text>
<text x="855.4" y="2383" font-size="22" text-anchor="middle">acquired</text>
<text x="855.4" y="2405" font-size="22" text-anchor="middle">resistance</text>
<line x1="329.7" y1="2513.3" x2="487" y2="2513.3" stroke="#111" stroke-width="1.8" stroke-dasharray="7,5"/>
<line x1="501.8" y1="2513.3" x2="661.6" y2="2513.3" stroke="#111" stroke-width="1.8" stroke-dasharray="7,5"/>
<line x1="680.3" y1="2513.3" x2="837" y2="2513.3" stroke="#111" stroke-width="1.8" stroke-dasharray="7,5"/>
<line x1="850" y1="2513.3" x2="976" y2="2513.3" stroke="#111" stroke-width="1.8" stroke-dasharray="7,5"/>
<rect x="344" y="2507.2" width="32.4" height="158.3" fill="#bc707a" stroke="#1e1e1e" stroke-width="1.4"/>
<circle cx="354.2" cy="2501.9" r="4.2" fill="none" stroke="#1a1a1a" stroke-width="1.4"/>
<circle cx="366.2" cy="2504.2" r="4.2" fill="none" stroke="#1a1a1a" stroke-width="1.4"/>
<circle cx="358.2" cy="2509.5" r="4.2" fill="none" stroke="#1a1a1a" stroke-width="1.4"/>
<circle cx="364.2" cy="2510.3" r="4.2" fill="none" stroke="#1a1a1a" stroke-width="1.4"/>
<line x1="360.2" y1="2503.4" x2="360.2" y2="2511" stroke="#111" stroke-width="1.8"/>
<line x1="352.2" y1="2503.4" x2="368.2" y2="2503.4" stroke="#111" stroke-width="1.8"/>
<line x1="352.2" y1="2511" x2="368.2" y2="2511" stroke="#111" stroke-width="1.8"/>
<rect x="392" y="2550.6" width="31.8" height="114.9" fill="#bc707a" stroke="#1e1e1e" stroke-width="1.4"/>
<circle cx="402.9" cy="2539.2" r="4.2" fill="none" stroke="#1a1a1a" stroke-width="1.4"/>
<circle cx="412.9" cy="2543.7" r="4.2" fill="none" stroke="#1a1a1a" stroke-width="1.4"/>
<circle cx="407.9" cy="2557.4" r="4.2" fill="none" stroke="#1a1a1a" stroke-width="1.4"/>
<circle cx="407.9" cy="2569.6" r="4.2" fill="none" stroke="#1a1a1a" stroke-width="1.4"/>
<line x1="407.9" y1="2543" x2="407.9" y2="2558.2" stroke="#111" stroke-width="1.8"/>
<line x1="399.9" y1="2543" x2="415.9" y2="2543" stroke="#111" stroke-width="1.8"/>
<line x1="399.9" y1="2558.2" x2="415.9" y2="2558.2" stroke="#111" stroke-width="1.8"/>
<rect x="439.4" y="2568.9" width="32.4" height="96.6" fill="#bc707a" stroke="#1e1e1e" stroke-width="1.4"/>
<circle cx="451.6" cy="2548.3" r="4.2" fill="none" stroke="#1a1a1a" stroke-width="1.4"/>
<circle cx="460.6" cy="2557.4" r="4.2" fill="none" stroke="#1a1a1a" stroke-width="1.4"/>
<circle cx="455.6" cy="2577.2" r="4.2" fill="none" stroke="#1a1a1a" stroke-width="1.4"/>
<circle cx="453.6" cy="2589.4" r="4.2" fill="none" stroke="#1a1a1a" stroke-width="1.4"/>
<line x1="455.6" y1="2559" x2="455.6" y2="2578.7" stroke="#111" stroke-width="1.8"/>
<line x1="447.6" y1="2559" x2="463.6" y2="2559" stroke="#111" stroke-width="1.8"/>
<line x1="447.6" y1="2578.7" x2="463.6" y2="2578.7" stroke="#111" stroke-width="1.8"/>
<rect x="512.9" y="2513.3" width="32.4" height="152.2" fill="#bc707a" stroke="#1e1e1e" stroke-width="1.4"/>
<circle cx="521.1" cy="2512.5" r="4.2" fill="none" stroke="#1a1a1a" stroke-width="1.4"/>
<circle cx="529.1" cy="2513.3" r="4.2" fill="none" stroke="#1a1a1a" stroke-width="1.4"/>
<circle cx="537.1" cy="2513" r="4.2" fill="none" stroke="#1a1a1a" stroke-width="1.4"/>
<line x1="529.1" y1="2512.5" x2="529.1" y2="2514.1" stroke="#111" stroke-width="1.8"/>
<line x1="521.1" y1="2512.5" x2="537.1" y2="2512.5" stroke="#111" stroke-width="1.8"/>
<line x1="521.1" y1="2514.1" x2="537.1" y2="2514.1" stroke="#111" stroke-width="1.8"/>
<rect x="560" y="2542.2" width="32.5" height="123.3" fill="#bc707a" stroke="#1e1e1e" stroke-width="1.4"/>
<circle cx="568.2" cy="2541.5" r="4.2" fill="none" stroke="#1a1a1a" stroke-width="1.4"/>
<circle cx="576.2" cy="2542.2" r="4.2" fill="none" stroke="#1a1a1a" stroke-width="1.4"/>
<circle cx="584.2" cy="2542.5" r="4.2" fill="none" stroke="#1a1a1a" stroke-width="1.4"/>
<line x1="576.2" y1="2541.5" x2="576.2" y2="2543" stroke="#111" stroke-width="1.8"/>
<line x1="568.2" y1="2541.5" x2="584.2" y2="2541.5" stroke="#111" stroke-width="1.8"/>
<line x1="568.2" y1="2543" x2="584.2" y2="2543" stroke="#111" stroke-width="1.8"/>
<rect x="608.5" y="2590.9" width="31.2" height="74.6" fill="#bc707a" stroke="#1e1e1e" stroke-width="1.4"/>
<circle cx="621.1" cy="2580.3" r="4.2" fill="none" stroke="#1a1a1a" stroke-width="1.4"/>
<circle cx="627.1" cy="2589.4" r="4.2" fill="none" stroke="#1a1a1a" stroke-width="1.4"/>
<circle cx="624.1" cy="2600.1" r="4.2" fill="none" stroke="#1a1a1a" stroke-width="1.4"/>
<line x1="624.1" y1="2584.1" x2="624.1" y2="2597.8" stroke="#111" stroke-width="1.8"/>
<line x1="616.1" y1="2584.1" x2="632.1" y2="2584.1" stroke="#111" stroke-width="1.8"/>
<line x1="616.1" y1="2597.8" x2="632.1" y2="2597.8" stroke="#111" stroke-width="1.8"/>
<rect x="690.4" y="2513.3" width="31.8" height="152.2" fill="#bc707a" stroke="#1e1e1e" stroke-width="1.4"/>
<circle cx="710.3" cy="2531.6" r="4.2" fill="none" stroke="#1a1a1a" stroke-width="1.4"/>
<circle cx="702.3" cy="2537.7" r="4.2" fill="none" stroke="#1a1a1a" stroke-width="1.4"/>
<line x1="706.3" y1="2489.4" x2="706.3" y2="2537.2" stroke="#111" stroke-width="1.8"/>
<line x1="698.3" y1="2489.4" x2="714.3" y2="2489.4" stroke="#111" stroke-width="1.8"/>
<line x1="698.3" y1="2537.2" x2="714.3" y2="2537.2" stroke="#111" stroke-width="1.8"/>
<rect x="738.7" y="2638.1" width="32.3" height="27.4" fill="#bc707a" stroke="#1e1e1e" stroke-width="1.4"/>
<circle cx="746.9" cy="2637.3" r="4.2" fill="none" stroke="#1a1a1a" stroke-width="1.4"/>
<circle cx="754.9" cy="2638.1" r="4.2" fill="none" stroke="#1a1a1a" stroke-width="1.4"/>
<circle cx="762.9" cy="2638.4" r="4.2" fill="none" stroke="#1a1a1a" stroke-width="1.4"/>
<line x1="754.9" y1="2637.3" x2="754.9" y2="2638.9" stroke="#111" stroke-width="1.8"/>
<line x1="746.9" y1="2637.3" x2="762.9" y2="2637.3" stroke="#111" stroke-width="1.8"/>
<line x1="746.9" y1="2638.9" x2="762.9" y2="2638.9" stroke="#111" stroke-width="1.8"/>
<rect x="787" y="2642.7" width="33" height="22.8" fill="#bc707a" stroke="#1e1e1e" stroke-width="1.4"/>
<circle cx="795.5" cy="2641.9" r="4.2" fill="none" stroke="#1a1a1a" stroke-width="1.4"/>
<circle cx="803.5" cy="2642.7" r="4.2" fill="none" stroke="#1a1a1a" stroke-width="1.4"/>
<circle cx="811.5" cy="2643" r="4.2" fill="none" stroke="#1a1a1a" stroke-width="1.4"/>
<line x1="803.5" y1="2642.1" x2="803.5" y2="2643.3" stroke="#111" stroke-width="1.8"/>
<line x1="795.5" y1="2642.1" x2="811.5" y2="2642.1" stroke="#111" stroke-width="1.8"/>
<line x1="795.5" y1="2643.3" x2="811.5" y2="2643.3" stroke="#111" stroke-width="1.8"/>
<rect x="871.3" y="2513.3" width="34.1" height="152.2" fill="#bc707a" stroke="#1e1e1e" stroke-width="1.4"/>
<circle cx="888.3" cy="2498.1" r="4.2" fill="none" stroke="#1a1a1a" stroke-width="1.4"/>
<circle cx="884.3" cy="2517.9" r="4.2" fill="none" stroke="#1a1a1a" stroke-width="1.4"/>
<circle cx="892.3" cy="2524" r="4.2" fill="none" stroke="#1a1a1a" stroke-width="1.4"/>
<line x1="888.3" y1="2505.7" x2="888.3" y2="2520.9" stroke="#111" stroke-width="1.8"/>
<line x1="880.3" y1="2505.7" x2="896.3" y2="2505.7" stroke="#111" stroke-width="1.8"/>
<line x1="880.3" y1="2520.9" x2="896.3" y2="2520.9" stroke="#111" stroke-width="1.8"/>
<rect x="923.6" y="2623.6" width="35.8" height="41.9" fill="#bc707a" stroke="#1e1e1e" stroke-width="1.4"/>
<circle cx="941.5" cy="2601.6" r="4.2" fill="none" stroke="#1a1a1a" stroke-width="1.4"/>
<circle cx="946.5" cy="2625.9" r="4.2" fill="none" stroke="#1a1a1a" stroke-width="1.4"/>
<circle cx="937.5" cy="2635.1" r="4.2" fill="none" stroke="#1a1a1a" stroke-width="1.4"/>
<line x1="941.5" y1="2612.2" x2="941.5" y2="2635.1" stroke="#111" stroke-width="1.8"/>
<line x1="933.5" y1="2612.2" x2="949.5" y2="2612.2" stroke="#111" stroke-width="1.8"/>
<line x1="933.5" y1="2635.1" x2="949.5" y2="2635.1" stroke="#111" stroke-width="1.8"/>
<circle cx="705" cy="2463" r="4" fill="none" stroke="#1a1a1a" stroke-width="1.4"/>
<line x1="329.7" y1="2437.7" x2="329.7" y2="2666.4" stroke="#111" stroke-width="1.8"/>
<line x1="323.7" y1="2665.5" x2="329.7" y2="2665.5" stroke="#111" stroke-width="1.8"/>
<text x="320.7" y="2674.7" font-size="25.6" text-anchor="end">0</text>
<line x1="323.7" y1="2589.4" x2="329.7" y2="2589.4" stroke="#111" stroke-width="1.8"/>
<text x="320.7" y="2598.6" font-size="25.6" text-anchor="end">50</text>
<line x1="323.7" y1="2513.3" x2="329.7" y2="2513.3" stroke="#111" stroke-width="1.8"/>
<text x="320.7" y="2522.5" font-size="25.6" text-anchor="end">100</text>
<line x1="323.7" y1="2437.2" x2="329.7" y2="2437.2" stroke="#111" stroke-width="1.8"/>
<text x="320.7" y="2446.4" font-size="25.6" text-anchor="end">150</text>
<line x1="322.4" y1="2665.5" x2="485.7" y2="2665.5" stroke="#111" stroke-width="1.8"/>
<line x1="501.8" y1="2665.5" x2="661.6" y2="2665.5" stroke="#111" stroke-width="1.8"/>
<line x1="680.3" y1="2665.5" x2="837" y2="2665.5" stroke="#111" stroke-width="1.8"/>
<line x1="850" y1="2665.5" x2="976" y2="2665.5" stroke="#111" stroke-width="1.8"/>
<line x1="360.2" y1="2665.5" x2="360.2" y2="2672" stroke="#111" stroke-width="1.8"/>
<line x1="407.9" y1="2665.5" x2="407.9" y2="2672" stroke="#111" stroke-width="1.8"/>
<line x1="455.6" y1="2665.5" x2="455.6" y2="2672" stroke="#111" stroke-width="1.8"/>
<line x1="529.1" y1="2665.5" x2="529.1" y2="2672" stroke="#111" stroke-width="1.8"/>
<line x1="576.2" y1="2665.5" x2="576.2" y2="2672" stroke="#111" stroke-width="1.8"/>
<line x1="624.1" y1="2665.5" x2="624.1" y2="2672" stroke="#111" stroke-width="1.8"/>
<line x1="706.3" y1="2665.5" x2="706.3" y2="2672" stroke="#111" stroke-width="1.8"/>
<line x1="754.9" y1="2665.5" x2="754.9" y2="2672" stroke="#111" stroke-width="1.8"/>
<line x1="803.5" y1="2665.5" x2="803.5" y2="2672" stroke="#111" stroke-width="1.8"/>
<line x1="888.3" y1="2665.5" x2="888.3" y2="2672" stroke="#111" stroke-width="1.8"/>
<line x1="941.5" y1="2665.5" x2="941.5" y2="2672" stroke="#111" stroke-width="1.8"/>
<rect x="341.1" y="2673.3" width="143.4" height="28.7" fill="#dde7cc"/>
<rect x="508" y="2673.3" width="143.5" height="28.7" fill="#dde7cc"/>
<rect x="684.7" y="2673.3" width="143.9" height="28.7" fill="#dde7cc"/>
<rect x="855.3" y="2673.3" width="117.2" height="28.7" fill="#dde7cc"/>
<text x="360.2" y="2694.2" font-size="25" text-anchor="middle">–</text>
<text x="407.9" y="2694.2" font-size="25" text-anchor="middle">50</text>
<text x="455.6" y="2694.2" font-size="25" text-anchor="middle">100</text>
<text x="529.1" y="2694.2" font-size="25" text-anchor="middle">–</text>
<text x="576.2" y="2694.2" font-size="25" text-anchor="middle">50</text>
<text x="624.1" y="2694.2" font-size="25" text-anchor="middle">100</text>
<text x="706.3" y="2694.2" font-size="25" text-anchor="middle">–</text>
<text x="754.9" y="2694.2" font-size="25" text-anchor="middle">50</text>
<text x="803.5" y="2694.2" font-size="25" text-anchor="middle">100</text>
<text x="888.3" y="2694.2" font-size="25" text-anchor="middle">–</text>
<text x="941.5" y="2694.2" font-size="25" text-anchor="middle">50</text>
<text x="982" y="2667" font-size="25">RANO</text>
<text x="987.9" y="2693" font-size="25">μM</text>
<text x="407.6" y="2472" font-size="26.8" text-anchor="middle">501mel</text>
<text x="580" y="2472" font-size="26.8" text-anchor="middle">5555</text>
<text x="777.4" y="2472" font-size="26.8" text-anchor="middle">YUMM1.7</text>
<text x="908.2" y="2472" font-size="26.8" text-anchor="middle">FCT1</text>
<text x="407" y="2536.9" font-size="29" text-anchor="middle" stroke="#111" stroke-width="0.6">**</text>
<text x="454.8" y="2554.1" font-size="29" text-anchor="middle" stroke="#111" stroke-width="0.6">***</text>
<text x="575.4" y="2539.8" font-size="29" text-anchor="middle" stroke="#111" stroke-width="0.6">**</text>
<text x="622" y="2576.8" font-size="29" text-anchor="middle" stroke="#111" stroke-width="0.6">***</text>
<text x="755.8" y="2636.5" font-size="29" text-anchor="middle" stroke="#111" stroke-width="0.6">**</text>
<text x="804" y="2643.1" font-size="29" text-anchor="middle" stroke="#111" stroke-width="0.6">**</text>
<text x="939.5" y="2599.5" font-size="29" text-anchor="middle" stroke="#111" stroke-width="0.6">**</text>
<text x="257" y="2539" font-size="30" text-anchor="middle" transform="rotate(-90 257 2539)">relative cell number (%)</text>
<text x="1119.8" y="2043.8" font-size="46" font-weight="bold" stroke="#111" stroke-width="1.3">k</text>
<rect x="1194.3" y="2040.5" width="391.4" height="78.8" fill="#dde7cc"/>
<line x1="1196.7" y1="2094.3" x2="1514" y2="2094.3" stroke="#111" stroke-width="2.6"/>
<line x1="1514" y1="2094.3" x2="1568" y2="2094.3" stroke="#111" stroke-width="2.6" stroke-dasharray="8,6"/>
<path d="M1568,2087 L1584.3,2094.3 L1568,2101.6 Z" fill="#111" stroke="#111" stroke-width="0.5"/>
<line x1="1196.7" y1="2080.6" x2="1196.7" y2="2109" stroke="#111" stroke-width="2.6"/>
<line x1="1287.2" y1="2080.6" x2="1287.2" y2="2109" stroke="#111" stroke-width="2.6"/>
<line x1="1360.3" y1="2080.6" x2="1360.3" y2="2109" stroke="#111" stroke-width="2.6"/>
<line x1="1437.6" y1="2080.6" x2="1437.6" y2="2109" stroke="#111" stroke-width="2.6"/>
<line x1="1514" y1="2080.6" x2="1514" y2="2109" stroke="#111" stroke-width="2.6"/>
<text x="1290" y="2066" font-size="30" text-anchor="middle">P</text>
<text x="1241.5" y="2117" font-size="21" text-anchor="middle">week P</text>
<text x="1324" y="2117" font-size="21" text-anchor="middle">week1</text>
<text x="1400.4" y="2117" font-size="21" text-anchor="middle">week2</text>
<text x="1663.5" y="2068.5" font-size="22" text-anchor="middle">BRAFi &amp; MEKi</text>
<text x="1663.5" y="2092" font-size="22" text-anchor="middle">acquired</text>
<text x="1663.5" y="2116" font-size="22" text-anchor="middle">resistance</text>
<filter id="spk0" x="0" y="0" width="100%" height="100%" color-interpolation-filters="sRGB"><feTurbulence type="fractalNoise" baseFrequency="0.5" numOctaves="2" seed="3" result="n"/><feColorMatrix in="n" type="matrix" values="0 0 0 0 0.3 0 0 0 0 0.25 0 0 0 0 0.74 7 0 0 0 -3.5" result="d"/><feComposite in="d" in2="SourceGraphic" operator="in"/></filter>
<rect x="1220.2" y="2179" width="76.4" height="79.4" fill="#dedde2"/>
<circle cx="1258.4" cy="2218.7" r="37.5" fill="#c6c1e2" stroke="#ecebf2" stroke-width="2"/>
<circle cx="1258.4" cy="2218.7" r="35.5" fill="#000" filter="url(#spk0)"/>
<circle cx="1235.9" cy="2225.6" r="3" fill="#4a3cc0" fill-opacity="0.8"/>
<circle cx="1230.6" cy="2227.4" r="2" fill="#4a3cc0" fill-opacity="0.8"/>
<circle cx="1267.4" cy="2239.4" r="2" fill="#4a3cc0" fill-opacity="0.8"/>
<circle cx="1272.8" cy="2228.4" r="1.5" fill="#4a3cc0" fill-opacity="0.8"/>
<circle cx="1229.5" cy="2211.5" r="1.5" fill="#4a3cc0" fill-opacity="0.8"/>
<circle cx="1242" cy="2207.5" r="3" fill="#4a3cc0" fill-opacity="0.8"/>
<circle cx="1244.4" cy="2198.4" r="2" fill="#4a3cc0" fill-opacity="0.8"/>
<circle cx="1237.8" cy="2198.6" r="1.5" fill="#4a3cc0" fill-opacity="0.8"/>
<circle cx="1271.2" cy="2223.7" r="2" fill="#4a3cc0" fill-opacity="0.8"/>
<circle cx="1235.9" cy="2202.4" r="2.5" fill="#4a3cc0" fill-opacity="0.8"/>
<circle cx="1231.5" cy="2229.3" r="2" fill="#4a3cc0" fill-opacity="0.8"/>
<circle cx="1244.2" cy="2201.5" r="1.5" fill="#4a3cc0" fill-opacity="0.8"/>
<circle cx="1242.4" cy="2223.1" r="1.5" fill="#4a3cc0" fill-opacity="0.8"/>
<circle cx="1253.8" cy="2201.6" r="2" fill="#4a3cc0" fill-opacity="0.8"/>
<filter id="spk1" x="0" y="0" width="100%" height="100%" color-interpolation-filters="sRGB"><feTurbulence type="fractalNoise" baseFrequency="0.5" numOctaves="2" seed="10" result="n"/><feColorMatrix in="n" type="matrix" values="0 0 0 0 0.3 0 0 0 0 0.25 0 0 0 0 0.74 7 0 0 0 -4.4" result="d"/><feComposite in="d" in2="SourceGraphic" operator="in"/></filter>
<rect x="1303.7" y="2179" width="76.9" height="79.4" fill="#dedde2"/>
<circle cx="1342.2" cy="2218.7" r="37.5" fill="#dedbea" stroke="#ecebf2" stroke-width="2"/>
<circle cx="1342.2" cy="2218.7" r="35.5" fill="#000" filter="url(#spk1)"/>
<circle cx="1316.9" cy="2222.8" r="2.5" fill="#4a3cc0" fill-opacity="0.8"/>
<circle cx="1344.2" cy="2221.3" r="2.5" fill="#4a3cc0" fill-opacity="0.8"/>
<circle cx="1317" cy="2221.5" r="3" fill="#4a3cc0" fill-opacity="0.8"/>
<circle cx="1333.2" cy="2196" r="1.5" fill="#4a3cc0" fill-opacity="0.8"/>
<circle cx="1335.8" cy="2208.5" r="3" fill="#4a3cc0" fill-opacity="0.8"/>
<filter id="spk2" x="0" y="0" width="100%" height="100%" color-interpolation-filters="sRGB"><feTurbulence type="fractalNoise" baseFrequency="0.5" numOctaves="2" seed="17" result="n"/><feColorMatrix in="n" type="matrix" values="0 0 0 0 0.3 0 0 0 0 0.25 0 0 0 0 0.74 7 0 0 0 -3.95" result="d"/><feComposite in="d" in2="SourceGraphic" operator="in"/></filter>
<rect x="1388" y="2179" width="77" height="79.4" fill="#dedde2"/>
<circle cx="1426.5" cy="2218.7" r="37.5" fill="#d2cee8" stroke="#ecebf2" stroke-width="2"/>
<circle cx="1426.5" cy="2218.7" r="35.5" fill="#000" filter="url(#spk2)"/>
<circle cx="1425" cy="2244.7" r="2" fill="#4a3cc0" fill-opacity="0.8"/>
<circle cx="1411.6" cy="2197.7" r="2" fill="#4a3cc0" fill-opacity="0.8"/>
<circle cx="1417.9" cy="2208.1" r="1.5" fill="#4a3cc0" fill-opacity="0.8"/>
<circle cx="1412.2" cy="2215.9" r="2.5" fill="#4a3cc0" fill-opacity="0.8"/>
<circle cx="1437.5" cy="2220.8" r="1.5" fill="#4a3cc0" fill-opacity="0.8"/>
<circle cx="1455.2" cy="2217.4" r="1.5" fill="#4a3cc0" fill-opacity="0.8"/>
<circle cx="1446.1" cy="2198.2" r="2.5" fill="#4a3cc0" fill-opacity="0.8"/>
<circle cx="1439" cy="2194.6" r="2" fill="#4a3cc0" fill-opacity="0.8"/>
<circle cx="1430.8" cy="2203.3" r="2" fill="#4a3cc0" fill-opacity="0.8"/>
<circle cx="1399.2" cy="2221" r="3" fill="#4a3cc0" fill-opacity="0.8"/>
<circle cx="1412.3" cy="2192.6" r="2.5" fill="#4a3cc0" fill-opacity="0.8"/>
<circle cx="1416.1" cy="2203.4" r="2.5" fill="#4a3cc0" fill-opacity="0.8"/>
<filter id="spk3" x="0" y="0" width="100%" height="100%" color-interpolation-filters="sRGB"><feTurbulence type="fractalNoise" baseFrequency="0.5" numOctaves="2" seed="24" result="n"/><feColorMatrix in="n" type="matrix" values="0 0 0 0 0.3 0 0 0 0 0.25 0 0 0 0 0.74 7 0 0 0 -3.8" result="d"/><feComposite in="d" in2="SourceGraphic" operator="in"/></filter>
<rect x="1472" y="2179" width="77" height="79.4" fill="#dedde2"/>
<circle cx="1510.5" cy="2218.7" r="37.5" fill="#ccc8e6" stroke="#ecebf2" stroke-width="2"/>
<circle cx="1510.5" cy="2218.7" r="35.5" fill="#000" filter="url(#spk3)"/>
<circle cx="1531.2" cy="2235.1" r="2" fill="#4a3cc0" fill-opacity="0.8"/>
<circle cx="1508.4" cy="2234.5" r="1.5" fill="#4a3cc0" fill-opacity="0.8"/>
<circle cx="1501.1" cy="2204.2" r="3" fill="#4a3cc0" fill-opacity="0.8"/>
<circle cx="1486.9" cy="2237.3" r="2.5" fill="#4a3cc0" fill-opacity="0.8"/>
<circle cx="1515.5" cy="2248.2" r="2.5" fill="#4a3cc0" fill-opacity="0.8"/>
<circle cx="1517.2" cy="2201" r="2" fill="#4a3cc0" fill-opacity="0.8"/>
<circle cx="1524.1" cy="2240.5" r="2.5" fill="#4a3cc0" fill-opacity="0.8"/>
<circle cx="1523.5" cy="2240.6" r="1.5" fill="#4a3cc0" fill-opacity="0.8"/>
<circle cx="1506.2" cy="2215.8" r="2.5" fill="#4a3cc0" fill-opacity="0.8"/>
<circle cx="1519.3" cy="2248.6" r="3" fill="#4a3cc0" fill-opacity="0.8"/>
<circle cx="1484.1" cy="2203.5" r="1.5" fill="#4a3cc0" fill-opacity="0.8"/>
<circle cx="1528.7" cy="2200" r="1.5" fill="#4a3cc0" fill-opacity="0.8"/>
<text x="1259" y="2174" font-size="19.7" text-anchor="middle">DMSO</text>
<text x="1344.3" y="2157" font-size="19.7" text-anchor="middle">week P+</text>
<text x="1344.3" y="2174" font-size="19.7" text-anchor="middle">4 weeks</text>
<text x="1428.7" y="2174" font-size="19.7" text-anchor="middle">week 1</text>
<text x="1512.6" y="2174" font-size="19.7" text-anchor="middle">week2</text>
<rect x="1249.5" y="2312.2" width="50.9" height="217.4" fill="#bc707a" stroke="#1e1e1e" stroke-width="1.4"/>
<circle cx="1268" cy="2301.3" r="5" fill="none" stroke="#1a1a1a" stroke-width="1.6"/>
<circle cx="1282" cy="2303.5" r="5" fill="none" stroke="#1a1a1a" stroke-width="1.6"/>
<circle cx="1275" cy="2327.4" r="5" fill="none" stroke="#1a1a1a" stroke-width="1.6"/>
<line x1="1275" y1="2302.4" x2="1275" y2="2322" stroke="#111" stroke-width="2"/>
<line x1="1262" y1="2302.4" x2="1288" y2="2302.4" stroke="#111" stroke-width="2"/>
<line x1="1262" y1="2322" x2="1288" y2="2322" stroke="#111" stroke-width="2"/>
<rect x="1326.8" y="2440.5" width="50.9" height="89.1" fill="#bc707a" stroke="#1e1e1e" stroke-width="1.4"/>
<circle cx="1345.2" cy="2433.9" r="5" fill="none" stroke="#1a1a1a" stroke-width="1.6"/>
<circle cx="1359.2" cy="2433.9" r="5" fill="none" stroke="#1a1a1a" stroke-width="1.6"/>
<circle cx="1352.2" cy="2449.2" r="5" fill="none" stroke="#1a1a1a" stroke-width="1.6"/>
<line x1="1352.2" y1="2435" x2="1352.2" y2="2445.9" stroke="#111" stroke-width="2"/>
<line x1="1339.2" y1="2435" x2="1365.2" y2="2435" stroke="#111" stroke-width="2"/>
<line x1="1339.2" y1="2445.9" x2="1365.2" y2="2445.9" stroke="#111" stroke-width="2"/>
<rect x="1403.7" y="2376.3" width="51.3" height="153.3" fill="#bc707a" stroke="#1e1e1e" stroke-width="1.4"/>
<circle cx="1422.3" cy="2362.2" r="5" fill="none" stroke="#1a1a1a" stroke-width="1.6"/>
<circle cx="1436.3" cy="2370.9" r="5" fill="none" stroke="#1a1a1a" stroke-width="1.6"/>
<circle cx="1429.3" cy="2394.8" r="5" fill="none" stroke="#1a1a1a" stroke-width="1.6"/>
<line x1="1429.3" y1="2366.5" x2="1429.3" y2="2386.1" stroke="#111" stroke-width="2"/>
<line x1="1416.3" y1="2366.5" x2="1442.3" y2="2366.5" stroke="#111" stroke-width="2"/>
<line x1="1416.3" y1="2386.1" x2="1442.3" y2="2386.1" stroke="#111" stroke-width="2"/>
<rect x="1481" y="2349.2" width="51.4" height="180.4" fill="#bc707a" stroke="#1e1e1e" stroke-width="1.4"/>
<circle cx="1506.7" cy="2341.5" r="5" fill="none" stroke="#1a1a1a" stroke-width="1.6"/>
<circle cx="1513.7" cy="2347" r="5" fill="none" stroke="#1a1a1a" stroke-width="1.6"/>
<circle cx="1499.7" cy="2356.8" r="5" fill="none" stroke="#1a1a1a" stroke-width="1.6"/>
<line x1="1506.7" y1="2344.8" x2="1506.7" y2="2353.5" stroke="#111" stroke-width="2"/>
<line x1="1493.7" y1="2344.8" x2="1519.7" y2="2344.8" stroke="#111" stroke-width="2"/>
<line x1="1493.7" y1="2353.5" x2="1519.7" y2="2353.5" stroke="#111" stroke-width="2"/>
<line x1="1224" y1="2268.9" x2="1224" y2="2530.5" stroke="#111" stroke-width="1.8"/>
<line x1="1218" y1="2529.6" x2="1224" y2="2529.6" stroke="#111" stroke-width="1.8"/>
<text x="1215" y="2541.2" font-size="32.5" text-anchor="end">0</text>
<line x1="1218" y1="2420.9" x2="1224" y2="2420.9" stroke="#111" stroke-width="1.8"/>
<text x="1215" y="2432.5" font-size="32.5" text-anchor="end">50</text>
<line x1="1218" y1="2312.2" x2="1224" y2="2312.2" stroke="#111" stroke-width="1.8"/>
<text x="1215" y="2323.8" font-size="32.5" text-anchor="end">100</text>
<line x1="1224" y1="2529.6" x2="1556.5" y2="2529.6" stroke="#111" stroke-width="1.8"/>
<line x1="1275" y1="2529.6" x2="1275" y2="2536" stroke="#111" stroke-width="1.8"/>
<line x1="1352.2" y1="2529.6" x2="1352.2" y2="2536" stroke="#111" stroke-width="1.8"/>
<line x1="1429.3" y1="2529.6" x2="1429.3" y2="2536" stroke="#111" stroke-width="1.8"/>
<line x1="1506.7" y1="2529.6" x2="1506.7" y2="2536" stroke="#111" stroke-width="1.8"/>
<line x1="1224" y1="2312.2" x2="1556.5" y2="2312.2" stroke="#111" stroke-width="2" stroke-dasharray="8,5"/>
<text x="1275.4" y="2559" font-size="23.1" text-anchor="middle">DMSO</text>
<text x="1354.6" y="2559" font-size="23.1" text-anchor="middle">weekP</text>
<text x="1438.6" y="2559" font-size="23.1" text-anchor="middle">week1</text>
<text x="1515" y="2559" font-size="23.1" text-anchor="middle">week2</text>
<text x="1352.3" y="2580" font-size="23.1" text-anchor="middle">+4weeks</text>
<text x="1354.6" y="2435" font-size="34" text-anchor="middle" stroke="#111" stroke-width="0.6">***</text>
<text x="1433" y="2352.6" font-size="34" text-anchor="middle" stroke="#111" stroke-width="0.6">***</text>
<text x="1506.5" y="2343" font-size="34" text-anchor="middle" stroke="#111" stroke-width="0.6">***</text>
<text x="1153" y="2406" font-size="30" text-anchor="middle" transform="rotate(-90 1153 2406)">relative cell number (%)</text>
</svg></div></body></html>
